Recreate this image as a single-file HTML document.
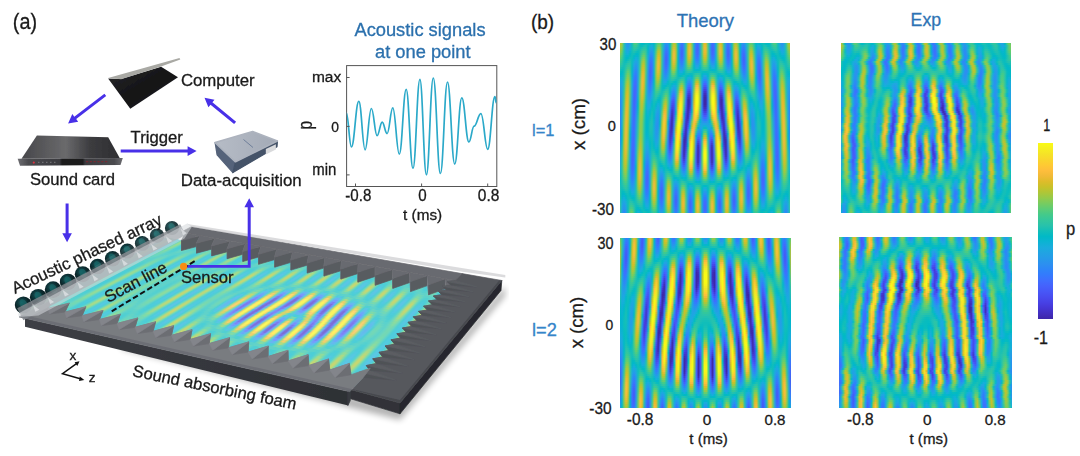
<!DOCTYPE html>
<html><head><meta charset="utf-8"><title>fig</title>
<style>
html,body{margin:0;padding:0;background:#fff}
body{width:1080px;height:456px;position:relative;overflow:hidden;filter:blur(.4px);font-family:"Liberation Sans",sans-serif;color:#1a1a1a}
.hm{position:absolute;overflow:hidden}
.hm i{display:block;height:var(--rh);width:100%}
.t{position:absolute;white-space:nowrap;line-height:1}
.c{transform:translateX(-50%)}
.r{transform:translateX(-100%)}
.bl{color:#2d73b4}
.sv{position:absolute;left:0;top:0}
.fm{position:absolute;left:0;top:0;width:500px;height:250px;transform-origin:0 0;filter:blur(.5px)}
.fmi{position:absolute;left:0;overflow:hidden}
.fmi i{display:block;height:var(--rh);width:100%}
</style></head><body>

<div class="hm" style="left:620px;top:42.5px;width:170px;height:170.3px;--rh:2.0035px"><i style="background:linear-gradient(90deg,#bcc42f,#99c946,#2ac3a9,#21a3e3,#2c90f0,#21a3e3,#11beba,#44cb89,#4ecc81,#31c6a0,#0abdbd,#01b9c7,#05bbc1,#14beb8,#0bbdbd,#03b7cc,#0fb2d4,#01b8c8,#2ec5a4,#5ccc76,#61cd71,#2cc4a6,#1babde,#2c8ef2,#2895ec,#02bac5,#72cd64,#c5c22a,#92ca4c,#11beb9,#2d8cf3,#3e6fff,#2b92ee,#29c3a9,#bdc32e,#e5bb2d,#7dcc5b,#11b1d6,#3975fe,#426afe,#239fe5,#4ccb83,#dfbc2a,#dfbc2a,#4ccb83,#239fe5,#426afe,#3975fe,#11b1d6,#7dcc5b,#e5bb2d,#bdc32e,#29c3a9,#2b92ee,#3e6fff,#2d8cf3,#11beb9,#92ca4c,#c5c22a,#72cd64,#02bac5,#2895ec,#2c8ef2,#1babde,#2cc4a6,#61cd71,#5ccc76,#2ec5a4,#01b8c8,#0fb2d4,#03b7cc,#0bbdbd,#14beb8,#05bbc1,#01b9c7,#0abdbd,#31c6a0,#4ecc81,#44cb89,#11beba,#21a3e3,#2c90f0,#21a3e3,#2ac3a9,#99c946,#bcc42f)"></i><i style="background:linear-gradient(90deg,#b5c533,#8fcb4e,#28c2ab,#1fa5e2,#2896eb,#1ea8e1,#12beb9,#3ac993,#3cc991,#2ac3a9,#0dbdbb,#0abdbd,#1cc0b4,#20c1b1,#05bbc1,#13b1d7,#1babde,#04b6cc,#34c79c,#76cc61,#78cc5f,#2ec5a3,#1fa6e2,#2e84f8,#2c8ef1,#01bac5,#82cc57,#d6be28,#9fc941,#10beba,#2e87f7,#4368fe,#2c8ff1,#2bc3a8,#c8c129,#eeba34,#84cc56,#13b0d7,#3d70ff,#4465fd,#249ee6,#4fcc80,#e6bb2d,#e6bb2d,#4fcc80,#249ee6,#4465fd,#3d70ff,#13b0d7,#84cc56,#eeba34,#c8c129,#2bc3a8,#2c8ff1,#4368fe,#2e87f7,#10beba,#9fc941,#d6be28,#82cc57,#01bac5,#2c8ef1,#2e84f8,#1fa6e2,#2ec5a3,#78cc5f,#76cc61,#34c79c,#04b6cc,#1babde,#13b1d7,#05bbc1,#20c1b1,#1cc0b4,#0abdbd,#0dbdbb,#2ac3a9,#3cc991,#3ac993,#12beb9,#1ea8e1,#2896eb,#1fa5e2,#28c2ab,#8fcb4e,#b5c533)"></i><i style="background:linear-gradient(90deg,#acc739,#82cc57,#25c2ad,#1da8e0,#259ce7,#19acdc,#13beb8,#33c69d,#31c6a0,#20c1b1,#11beb9,#1ec0b2,#2dc4a6,#28c3aa,#01bac5,#1ca9df,#21a3e3,#08b5d0,#3ac994,#91ca4d,#8ecb4e,#30c5a1,#23a1e4,#337bfd,#2d88f6,#01bac5,#91ca4c,#e4bb2c,#aac73a,#0dbdbb,#2f82f9,#4563fc,#2d8cf3,#2dc4a6,#cfc028,#f3ba39,#87cb54,#14b0d8,#406dfe,#4563fc,#249de6,#52cc7e,#eabb30,#eabb30,#52cc7e,#249de6,#4563fc,#406dfe,#14b0d8,#87cb54,#f3ba39,#cfc028,#2dc4a6,#2d8cf3,#4563fc,#2f82f9,#0dbdbb,#aac73a,#e4bb2c,#91ca4c,#01bac5,#2d88f6,#337bfd,#23a1e4,#30c5a1,#8ecb4e,#91ca4d,#3ac994,#08b5d0,#21a3e3,#1ca9df,#01bac5,#28c3aa,#2dc4a6,#1ec0b2,#11beb9,#20c1b1,#31c6a0,#33c69d,#13beb8,#19acdc,#259ce7,#1da8e0,#25c2ad,#82cc57,#acc739)"></i><i style="background:linear-gradient(90deg,#a0c840,#75cc61,#23c1af,#1aabdd,#21a3e4,#12b1d7,#14beb8,#2cc4a7,#26c2ad,#13beb9,#15bfb7,#2cc4a6,#37c897,#2ec5a4,#01b8ca,#22a1e4,#259be8,#0db3d3,#41ca8c,#a8c73b,#a2c840,#31c6a0,#259ce7,#3b72ff,#2e83f9,#02bac5,#9dc943,#eeba34,#b1c635,#0bbdbc,#307ffb,#465ffb,#2d8bf4,#2ec4a5,#d4bf27,#f5ba3b,#88cb53,#15afd9,#406cfe,#4562fc,#249de6,#52cc7e,#eaba31,#eaba31,#52cc7e,#249de6,#4562fc,#406cfe,#15afd9,#88cb53,#f5ba3b,#d4bf27,#2ec4a5,#2d8bf4,#465ffb,#307ffb,#0bbdbc,#b1c635,#eeba34,#9dc943,#02bac5,#2e83f9,#3b72ff,#259ce7,#31c6a0,#a2c840,#a8c73b,#41ca8c,#0db3d3,#259be8,#22a1e4,#01b8ca,#2ec5a4,#37c897,#2cc4a6,#15bfb7,#13beb9,#26c2ad,#2cc4a7,#14beb8,#12b1d7,#21a3e4,#1aabdd,#23c1af,#75cc61,#a0c840)"></i><i style="background:linear-gradient(90deg,#94ca4a,#67cd6c,#1fc1b1,#16aeda,#1ca9df,#07b5d0,#14beb8,#21c1b0,#11beb9,#06bcc0,#1ac0b5,#36c799,#48cb86,#33c69d,#05b6ce,#2699e9,#2a93ed,#11b1d6,#4ccb83,#bdc32e,#b2c635,#32c69f,#2798ea,#416bfe,#307ffb,#02bac4,#a7c73c,#f4ba39,#b5c533,#09bdbe,#327cfc,#465efb,#2d8bf4,#2ec5a4,#d5be28,#f5ba3a,#86cb54,#15afd9,#406dfe,#4564fd,#249ee6,#51cc7f,#e8bb2e,#e8bb2e,#51cc7f,#249ee6,#4564fd,#406dfe,#15afd9,#86cb54,#f5ba3a,#d5be28,#2ec5a4,#2d8bf4,#465efb,#327cfc,#09bdbe,#b5c533,#f4ba39,#a7c73c,#02bac4,#307ffb,#416bfe,#2798ea,#32c69f,#b2c635,#bdc32e,#4ccb83,#11b1d6,#2a93ed,#2699e9,#05b6ce,#33c69d,#48cb86,#36c799,#1ac0b5,#06bcc0,#11beb9,#21c1b0,#14beb8,#07b5d0,#1ca9df,#16aeda,#1fc1b1,#67cd6c,#94ca4a)"></i><i style="background:linear-gradient(90deg,#85cb55,#5acc78,#1cc0b3,#10b2d5,#15afd9,#01b8c9,#13beb8,#11beba,#01bac5,#01b9c7,#1fc0b2,#43ca8b,#5ecc74,#37c897,#0bb3d2,#2b91ef,#2d8cf3,#14b0d8,#56cc7a,#cec028,#bfc32e,#32c69e,#2994ed,#4465fd,#327cfc,#02bac3,#aec637,#f8ba3d,#b7c532,#08bcbf,#327bfc,#465efb,#2d8cf3,#2fc5a3,#d3bf27,#f2ba37,#82cc58,#15afd9,#3d70ff,#4367fd,#239fe5,#4ecc81,#e1bc2b,#e1bc2b,#4ecc81,#239fe5,#4367fd,#3d70ff,#15afd9,#82cc58,#f2ba37,#d3bf27,#2fc5a3,#2d8cf3,#465efb,#327bfc,#08bcbf,#b7c532,#f8ba3d,#aec637,#02bac3,#327cfc,#4465fd,#2994ed,#32c69e,#bfc32e,#cec028,#56cc7a,#14b0d8,#2d8cf3,#2b91ef,#0bb3d2,#37c897,#5ecc74,#43ca8b,#1fc0b2,#01b9c7,#01bac5,#11beba,#13beb8,#01b8c9,#15afd9,#10b2d5,#1cc0b3,#5acc78,#85cb55)"></i><i style="background:linear-gradient(90deg,#75cc61,#4ccb83,#1abfb5,#07b5d0,#07b5d0,#05bbc1,#12beb9,#02bbc3,#08b4d0,#04b6cd,#24c1ae,#56cc7b,#74cc62,#3cc992,#12b1d7,#2d89f5,#2e85f8,#16afd9,#61cd72,#dbbd29,#c8c129,#32c69f,#2b91ef,#4561fc,#337bfd,#03bbc2,#b3c534,#f9ba3d,#b5c533,#06bcc0,#327cfc,#4660fb,#2c8ef1,#2fc5a2,#cdc028,#ebba31,#7acc5d,#14b0d8,#3975fe,#406dfe,#22a2e4,#4acb84,#d7be28,#d7be28,#4acb84,#22a2e4,#406dfe,#3975fe,#14b0d8,#7acc5d,#ebba31,#cdc028,#2fc5a2,#2c8ef1,#4660fb,#327cfc,#06bcc0,#b5c533,#f9ba3d,#b3c534,#03bbc2,#337bfd,#4561fc,#2b91ef,#32c69f,#c8c129,#dbbd29,#61cd72,#16afd9,#2e85f8,#2d89f5,#12b1d7,#3cc992,#74cc62,#56cc7b,#24c1ae,#04b6cd,#08b4d0,#02bbc3,#12beb9,#05bbc1,#07b5d0,#07b5d0,#1abfb5,#4ccb83,#75cc61)"></i><i style="background:linear-gradient(90deg,#65cd6e,#40ca8d,#17bfb6,#01b8ca,#01b9c6,#11beb9,#10beba,#03b7cc,#17aeda,#0cb3d3,#28c3ab,#6acd6a,#8bcb51,#40ca8d,#17aeda,#2f81fa,#307ffb,#17aeda,#6bcd69,#e6bb2d,#cfc028,#31c6a0,#2c8ef1,#465efb,#337afd,#06bcc1,#b5c533,#f8ba3d,#b0c636,#04bbc1,#317efb,#4564fd,#2b91ef,#2fc5a2,#c4c22b,#e0bc2b,#70cd65,#12b1d7,#327cfc,#3975fe,#20a5e3,#45cb89,#c8c129,#c8c129,#45cb89,#20a5e3,#3975fe,#327cfc,#12b1d7,#70cd65,#e0bc2b,#c4c22b,#2fc5a2,#2b91ef,#4564fd,#317efb,#04bbc1,#b0c636,#f8ba3d,#b5c533,#06bcc1,#337afd,#465efb,#2c8ef1,#31c6a0,#cfc028,#e6bb2d,#6bcd69,#17aeda,#307ffb,#2f81fa,#17aeda,#40ca8d,#8bcb51,#6acd6a,#28c3ab,#0cb3d3,#17aeda,#03b7cc,#10beba,#11beb9,#01b9c6,#01b8ca,#17bfb6,#40ca8d,#65cd6e)"></i><i style="background:linear-gradient(90deg,#55cc7c,#37c897,#15bfb7,#02bac3,#0ebdbb,#1fc0b2,#0dbdbb,#0eb2d4,#1ea7e1,#13b0d7,#2cc4a7,#7fcc5a,#9fc942,#45cb89,#1aabdd,#347afd,#3579fd,#17aeda,#74cc62,#edba33,#d3bf27,#30c5a1,#2d8cf3,#465dfb,#327bfc,#08bcbf,#b4c534,#f4ba39,#a8c73b,#03bbc2,#2f81fa,#426afe,#2895ec,#2fc5a3,#b7c532,#d1bf27,#64cd6f,#10b2d5,#2e84f9,#307ffb,#1da8e0,#3eca8f,#b4c534,#b4c534,#3eca8f,#1da8e0,#307ffb,#2e84f9,#10b2d5,#64cd6f,#d1bf27,#b7c532,#2fc5a3,#2895ec,#426afe,#2f81fa,#03bbc2,#a8c73b,#f4ba39,#b4c534,#08bcbf,#327bfc,#465dfb,#2d8cf3,#30c5a1,#d3bf27,#edba33,#74cc62,#17aeda,#3579fd,#347afd,#1aabdd,#45cb89,#9fc942,#7fcc5a,#2cc4a7,#13b0d7,#1ea7e1,#0eb2d4,#0dbdbb,#1fc0b2,#0ebdbb,#02bac3,#15bfb7,#37c897,#55cc7c)"></i><i style="background:linear-gradient(90deg,#46cb88,#30c5a1,#13beb8,#0cbdbc,#21c1b0,#28c3aa,#0abdbd,#18addb,#23a0e5,#18addb,#2fc5a3,#93ca4a,#b0c636,#49cb85,#1da8e0,#3a73fe,#3975fe,#17aeda,#7dcc5b,#f2ba38,#d5be28,#2fc5a3,#2d8bf4,#465efb,#317efb,#0abdbd,#b0c636,#edba33,#9ec943,#02bbc3,#2e85f8,#3b72ff,#269ae9,#2ec4a4,#a5c83d,#bcc42f,#57cc7a,#0bb3d2,#2d8df2,#2d89f5,#1aacdd,#39c895,#9ac945,#9ac945,#39c895,#1aacdd,#2d89f5,#2d8df2,#0bb3d2,#57cc7a,#bcc42f,#a5c83d,#2ec4a4,#269ae9,#3b72ff,#2e85f8,#02bbc3,#9ec943,#edba33,#b0c636,#0abdbd,#317efb,#465efb,#2d8bf4,#2fc5a3,#d5be28,#f2ba38,#7dcc5b,#17aeda,#3975fe,#3a73fe,#1da8e0,#49cb85,#b0c636,#93ca4a,#2fc5a3,#18addb,#23a0e5,#18addb,#0abdbd,#28c3aa,#21c1b0,#0cbdbc,#13beb8,#30c5a1,#46cb88)"></i><i style="background:linear-gradient(90deg,#39c994,#2ac3a9,#12beb9,#1ac0b5,#2ec4a5,#2fc5a3,#08bcbf,#1ea8e1,#2699e9,#1babde,#32c69e,#a6c83d,#bfc32d,#4ccb83,#1fa5e2,#406dfe,#3c71ff,#16afd9,#84cb56,#f5ba3a,#d4bf28,#2dc4a5,#2d8af4,#4660fc,#2f81fa,#0ebdbb,#aac73a,#e3bc2c,#90ca4d,#02bac4,#2d8bf4,#327cfc,#239fe5,#2dc4a6,#8fcb4e,#a0c840,#48cb86,#06b5cf,#2797eb,#2995ec,#14b0d8,#34c79c,#7acc5e,#7acc5e,#34c79c,#14b0d8,#2995ec,#2797eb,#06b5cf,#48cb86,#a0c840,#8fcb4e,#2dc4a6,#239fe5,#327cfc,#2d8bf4,#02bac4,#90ca4d,#e3bc2c,#aac73a,#0ebdbb,#2f81fa,#4660fc,#2d8af4,#2dc4a5,#d4bf28,#f5ba3a,#84cb56,#16afd9,#3c71ff,#406dfe,#1fa5e2,#4ccb83,#bfc32d,#a6c83d,#32c69e,#1babde,#2699e9,#1ea8e1,#08bcbf,#2fc5a3,#2ec4a5,#1ac0b5,#12beb9,#2ac3a9,#39c994)"></i><i style="background:linear-gradient(90deg,#31c6a0,#20c1b1,#12beb9,#26c2ad,#36c898,#34c79c,#05bbc1,#22a2e4,#2a92ee,#1da9e0,#36c799,#b6c532,#cbc129,#4dcc82,#22a2e4,#4368fe,#3e6fff,#15afd8,#8acb51,#f6ba3b,#d1bf27,#2bc3a8,#2d8bf4,#4564fd,#2e86f8,#11beb9,#a0c840,#d4bf28,#7fcc5a,#02bac4,#2b92ee,#2e87f7,#1fa5e2,#2bc3a8,#73cd62,#80cc5a,#3cc992,#02b7cb,#22a2e4,#23a1e5,#09b4d1,#2ec5a3,#58cc79,#58cc79,#2ec5a3,#09b4d1,#23a1e5,#22a2e4,#02b7cb,#3cc992,#80cc5a,#73cd62,#2bc3a8,#1fa5e2,#2e87f7,#2b92ee,#02bac4,#7fcc5a,#d4bf28,#a0c840,#11beb9,#2e86f8,#4564fd,#2d8bf4,#2bc3a8,#d1bf27,#f6ba3b,#8acb51,#15afd8,#3e6fff,#4368fe,#22a2e4,#4dcc82,#cbc129,#b6c532,#36c799,#1da9e0,#2a92ee,#22a2e4,#05bbc1,#34c79c,#36c898,#26c2ad,#12beb9,#20c1b1,#31c6a0)"></i><i style="background:linear-gradient(90deg,#29c3aa,#13beb8,#12beb9,#2ec4a4,#43ca8b,#39c994,#02bac3,#259ce7,#2d8cf3,#1ea7e1,#3ac994,#c4c22b,#d4bf28,#4dcc82,#23a0e5,#4465fd,#3f6eff,#13b1d7,#8ecb4e,#f5ba3b,#cbc029,#28c3ab,#2d8cf3,#4269fe,#2d8bf4,#15bfb8,#94ca4a,#c1c32c,#6ccd68,#02bac4,#269ae9,#2a93ee,#1aabdd,#28c2ab,#57cc7a,#5ccc76,#33c69e,#01b9c6,#19acdc,#19addc,#01b8c9,#28c2ab,#3bc993,#3bc993,#28c2ab,#01b8c9,#19addc,#19acdc,#01b9c6,#33c69e,#5ccc76,#57cc7a,#28c2ab,#1aabdd,#2a93ee,#269ae9,#02bac4,#6ccd68,#c1c32c,#94ca4a,#15bfb8,#2d8bf4,#4269fe,#2d8cf3,#28c3ab,#cbc029,#f5ba3b,#8ecb4e,#13b1d7,#3f6eff,#4465fd,#23a0e5,#4dcc82,#d4bf28,#c4c22b,#3ac994,#1ea7e1,#2d8cf3,#259ce7,#02bac3,#39c994,#43ca8b,#2ec4a4,#12beb9,#13beb8,#29c3aa)"></i><i style="background:linear-gradient(90deg,#1cc0b4,#07bcbf,#13beb9,#34c79b,#54cc7d,#40ca8d,#01b9c6,#2896ec,#2e85f8,#20a5e2,#3eca8f,#d0bf27,#dbbd28,#4dcb82,#249de7,#4562fc,#3f6eff,#10b2d5,#91ca4c,#f2ba38,#c3c22b,#25c2ad,#2c8ef1,#3d70ff,#2b91ef,#18bfb6,#84cc56,#a9c73b,#5acc78,#02bbc3,#22a2e4,#249ee6,#11b1d6,#24c1ae,#3dc990,#3dc991,#2ac3a9,#05bbc1,#05b6cd,#03b7cc,#05bbc1,#1dc0b3,#29c3aa,#29c3aa,#1dc0b3,#05bbc1,#03b7cc,#05b6cd,#05bbc1,#2ac3a9,#3dc991,#3dc990,#24c1ae,#11b1d6,#249ee6,#22a2e4,#02bbc3,#5acc78,#a9c73b,#84cc56,#18bfb6,#2b91ef,#3d70ff,#2c8ef1,#25c2ad,#c3c22b,#f2ba38,#91ca4c,#10b2d5,#3f6eff,#4562fc,#249de7,#4dcb82,#dbbd28,#d0bf27,#3eca8f,#20a5e2,#2e85f8,#2896ec,#01b9c6,#40ca8d,#54cc7d,#34c79b,#13beb9,#07bcbf,#1cc0b4)"></i><i style="background:linear-gradient(90deg,#0bbdbd,#01b9c6,#14beb8,#3cc992,#65cd6e,#47cb87,#01b8c9,#2c90f0,#307ffb,#20a4e3,#45cb89,#dabd28,#e0bc2a,#4bcb84,#259be8,#4561fc,#3e6fff,#0cb3d3,#92ca4c,#eeba34,#b9c431,#21c1b0,#2b91ef,#3579fd,#2797eb,#1abfb5,#71cd64,#8bcb51,#47cb87,#04bbc2,#1babde,#1caadf,#04b6cc,#1ec0b2,#2ec4a5,#2ac3a9,#1cc0b4,#0ebebb,#0ebdbb,#14beb8,#15bfb8,#0ebdbb,#08bcbf,#08bcbf,#0ebdbb,#15bfb8,#14beb8,#0ebdbb,#0ebebb,#1cc0b4,#2ac3a9,#2ec4a5,#1ec0b2,#04b6cc,#1caadf,#1babde,#04bbc2,#47cb87,#8bcb51,#71cd64,#1abfb5,#2797eb,#3579fd,#2b91ef,#21c1b0,#b9c431,#eeba34,#92ca4c,#0cb3d3,#3e6fff,#4561fc,#259be8,#4bcb84,#e0bc2a,#dabd28,#45cb89,#20a4e3,#307ffb,#2c90f0,#01b8c9,#47cb87,#65cd6e,#3cc992,#14beb8,#01b9c6,#0bbdbd)"></i><i style="background:linear-gradient(90deg,#01b9c6,#03b7cc,#16bfb7,#47cb87,#78cc5f,#4ecc81,#03b7cc,#2d8af5,#347afd,#21a3e3,#4ccb83,#e1bc2b,#e3bc2c,#48cb86,#2699e9,#4661fc,#3c72ff,#08b5d0,#91ca4d,#e7bb2d,#acc738,#1dc0b3,#2895ec,#2f82fa,#249ee6,#1bc0b4,#5dcc75,#6acd6a,#38c896,#07bcc0,#0db3d3,#09b4d1,#03bbc2,#16bfb7,#15bfb8,#09bdbe,#09bcbe,#1bc0b4,#2cc4a6,#30c5a1,#25c2ae,#02bbc3,#0bb3d2,#0bb3d2,#02bbc3,#25c2ae,#30c5a1,#2cc4a6,#1bc0b4,#09bcbe,#09bdbe,#15bfb8,#16bfb7,#03bbc2,#09b4d1,#0db3d3,#07bcc0,#38c896,#6acd6a,#5dcc75,#1bc0b4,#249ee6,#2f82fa,#2895ec,#1dc0b3,#acc738,#e7bb2d,#91ca4d,#08b5d0,#3c72ff,#4661fc,#2699e9,#48cb86,#e3bc2c,#e1bc2b,#4ccb83,#21a3e3,#347afd,#2d8af5,#03b7cc,#4ecc81,#78cc5f,#47cb87,#16bfb7,#03b7cc,#01b9c6)"></i><i style="background:linear-gradient(90deg,#05b6ce,#09b4d1,#18bfb6,#54cc7d,#89cb52,#54cc7c,#06b5cf,#2e84f8,#3875fe,#21a3e3,#53cc7d,#e7bb2e,#e4bb2c,#44cb89,#2797ea,#4561fc,#3875fe,#05b6cd,#8ecb4f,#ddbd29,#9cc943,#19bfb5,#2699e9,#2d8bf3,#20a5e3,#1bc0b4,#48cb86,#4bcb84,#2fc5a3,#0abdbd,#01bac5,#09bcbe,#16bfb7,#0cbdbc,#01b8ca,#0ab4d2,#01b8c8,#26c2ad,#40ca8d,#49cb86,#2ec5a4,#02b7cb,#1ea7e1,#1ea7e1,#02b7cb,#2ec5a4,#49cb86,#40ca8d,#26c2ad,#01b8c8,#0ab4d2,#01b8ca,#0cbdbc,#16bfb7,#09bcbe,#01bac5,#0abdbd,#2fc5a3,#4bcb84,#48cb86,#1bc0b4,#20a5e3,#2d8bf3,#2699e9,#19bfb5,#9cc943,#ddbd29,#8ecb4f,#05b6cd,#3875fe,#4561fc,#2797ea,#44cb89,#e4bb2c,#e7bb2e,#53cc7d,#21a3e3,#3875fe,#2e84f8,#06b5cf,#54cc7c,#89cb52,#54cc7d,#18bfb6,#09b4d1,#05b6ce)"></i><i style="background:linear-gradient(90deg,#10b2d5,#11b2d5,#1bc0b4,#61cd71,#99c946,#5acc78,#0bb4d2,#307ffb,#3c71ff,#21a3e3,#5acc78,#ecba32,#e4bb2c,#40ca8d,#2896eb,#4563fc,#3479fd,#01b7ca,#89cb52,#d1bf27,#8bcb51,#14bfb8,#249ee6,#2895ec,#1aabdd,#1bc0b4,#37c897,#34c79b,#23c1af,#10beba,#1abfb5,#29c3aa,#27c2ac,#04bbc2,#17aeda,#1da8e0,#09b4d1,#2ec4a5,#65cd6e,#72cd64,#36c899,#0cb3d3,#2698ea,#2698ea,#0cb3d3,#36c899,#72cd64,#65cd6e,#2ec4a5,#09b4d1,#1da8e0,#17aeda,#04bbc2,#27c2ac,#29c3aa,#1abfb5,#10beba,#23c1af,#34c79b,#37c897,#1bc0b4,#1aabdd,#2895ec,#249ee6,#14bfb8,#8bcb51,#d1bf27,#89cb52,#01b7ca,#3479fd,#4563fc,#2896eb,#40ca8d,#e4bb2c,#ecba32,#5acc78,#21a3e3,#3c71ff,#307ffb,#0bb4d2,#5acc78,#99c946,#61cd71,#1bc0b4,#11b2d5,#10b2d5)"></i><i style="background:linear-gradient(90deg,#19addc,#16afd9,#1ec0b2,#6fcd66,#a7c73c,#5ecc74,#10b2d5,#347afd,#3f6eff,#21a4e3,#60cd72,#efba35,#e3bc2c,#3cc991,#2895ec,#4465fd,#317efb,#01b9c7,#83cc57,#c1c32c,#78cc5f,#11beba,#20a4e3,#249fe5,#11b1d6,#1abfb5,#2cc4a6,#23c1af,#0fbeba,#17bfb6,#2fc5a2,#3cc992,#30c5a1,#01b9c8,#22a2e4,#269ae9,#15afd9,#34c79b,#91ca4c,#9fc942,#40ca8d,#16aeda,#2d89f6,#2d89f6,#16aeda,#40ca8d,#9fc942,#91ca4c,#34c79b,#15afd9,#269ae9,#22a2e4,#01b9c8,#30c5a1,#3cc992,#2fc5a2,#17bfb6,#0fbeba,#23c1af,#2cc4a6,#1abfb5,#11b1d6,#249fe5,#20a4e3,#11beba,#78cc5f,#c1c32c,#83cc57,#01b9c7,#317efb,#4465fd,#2895ec,#3cc991,#e3bc2c,#efba35,#60cd72,#21a4e3,#3f6eff,#347afd,#10b2d5,#5ecc74,#a7c73c,#6fcd66,#1ec0b2,#16afd9,#19addc)"></i><i style="background:linear-gradient(90deg,#1da8e0,#19acdc,#22c1b0,#7ecc5b,#b4c534,#60cd72,#14b0d8,#3875fe,#416bfe,#20a5e3,#67cd6d,#f1ba37,#e0bc2a,#39c895,#2995ec,#4369fe,#2e83f9,#02bac4,#7acc5d,#aec637,#64cd6e,#0ebdbb,#1caadf,#1ca9df,#03b7cc,#17bfb7,#19bfb5,#04bbc1,#02bac5,#1fc1b1,#41ca8c,#5dcc75,#39c895,#06b5ce,#2994ed,#2d8af4,#1caadf,#3cc991,#bac430,#c6c22a,#4fcc81,#1ca9df,#3678fe,#3678fe,#1ca9df,#4fcc81,#c6c22a,#bac430,#3cc991,#1caadf,#2d8af4,#2994ed,#06b5ce,#39c895,#5dcc75,#41ca8c,#1fc1b1,#02bac5,#04bbc1,#19bfb5,#17bfb7,#03b7cc,#1ca9df,#1caadf,#0ebdbb,#64cd6e,#aec637,#7acc5d,#02bac4,#2e83f9,#4369fe,#2995ec,#39c895,#e0bc2a,#f1ba37,#67cd6d,#20a5e3,#416bfe,#3875fe,#14b0d8,#60cd72,#b4c534,#7ecc5b,#22c1b0,#19acdc,#1da8e0)"></i><i style="background:linear-gradient(90deg,#21a3e3,#1caadf,#25c2ad,#8ccb50,#bec32e,#62cd70,#18aedb,#3d71ff,#426afe,#1fa6e2,#6dcd68,#f2ba37,#dcbd29,#35c79a,#2995ec,#406dfe,#2d89f5,#05bbc1,#70cd65,#99c946,#52cc7e,#0cbdbc,#14b0d8,#0fb2d5,#03bbc2,#12beb9,#02bac4,#0bb3d2,#05b6ce,#27c2ac,#61cd71,#85cb55,#45cb89,#10b2d5,#2e85f8,#337afd,#20a5e3,#49cb85,#dcbd29,#e5bb2d,#5dcc74,#20a4e3,#4466fd,#4466fd,#20a4e3,#5dcc74,#e5bb2d,#dcbd29,#49cb85,#20a5e3,#337afd,#2e85f8,#10b2d5,#45cb89,#85cb55,#61cd71,#27c2ac,#05b6ce,#0bb3d2,#02bac4,#12beb9,#03bbc2,#0fb2d5,#14b0d8,#0cbdbc,#52cc7e,#99c946,#70cd65,#05bbc1,#2d89f5,#406dfe,#2995ec,#35c79a,#dcbd29,#f2ba37,#6dcd68,#1fa6e2,#426afe,#3d71ff,#18aedb,#62cd70,#bec32e,#8ccb50,#25c2ad,#1caadf,#21a3e3)"></i><i style="background:linear-gradient(90deg,#249fe6,#1da8e0,#28c3ab,#98c946,#c8c129,#63cd70,#1aacdd,#406dfe,#4269fe,#1ea7e1,#72cd63,#f1ba37,#d6be28,#32c69e,#2895ec,#3b72ff,#2c8ff1,#09bcbe,#65cd6e,#81cc59,#42ca8c,#0bbdbc,#06b5cf,#01b9c7,#13beb8,#0cbdbc,#0bb3d2,#1ca9df,#11b1d6,#2dc4a5,#87cb54,#acc739,#52cc7e,#18addb,#3975fe,#426afe,#23a0e5,#59cc79,#f6ba3b,#fbbc3d,#6bcd69,#249fe6,#4757f7,#4757f7,#249fe6,#6bcd69,#fbbc3d,#f6ba3b,#59cc79,#23a0e5,#426afe,#3975fe,#18addb,#52cc7e,#acc739,#87cb54,#2dc4a5,#11b1d6,#1ca9df,#0bb3d2,#0cbdbc,#13beb8,#01b9c7,#06b5cf,#0bbdbc,#42ca8c,#81cc59,#65cd6e,#09bcbe,#2c8ff1,#3b72ff,#2895ec,#32c69e,#d6be28,#f1ba37,#72cd63,#1ea7e1,#4269fe,#406dfe,#1aacdd,#63cd70,#c8c129,#98c946,#28c3ab,#1da8e0,#249fe6)"></i><i style="background:linear-gradient(90deg,#269ae8,#1fa6e2,#2bc3a8,#a4c83e,#cfc028,#63cd70,#1ca9df,#426afe,#4369fe,#1ca9df,#78cc5f,#f0ba36,#cfc028,#2fc5a2,#2896ec,#3678fd,#2994ed,#0dbdbc,#5acc78,#68cd6c,#36c898,#0cbdbc,#02bac4,#16bfb7,#24c1ae,#06bcc0,#1babde,#249de6,#19addc,#33c79d,#acc739,#ccc028,#5ecd74,#1da8e0,#4464fd,#475bfa,#259ce7,#69cd6b,#fec537,#fec934,#78cc5f,#2699e9,#4849ed,#4849ed,#2699e9,#78cc5f,#fec934,#fec537,#69cd6b,#259ce7,#475bfa,#4464fd,#1da8e0,#5ecd74,#ccc028,#acc739,#33c79d,#19addc,#249de6,#1babde,#06bcc0,#24c1ae,#16bfb7,#02bac4,#0cbdbc,#36c898,#68cd6c,#5acc78,#0dbdbc,#2994ed,#3678fd,#2896ec,#2fc5a2,#cfc028,#f0ba36,#78cc5f,#1ca9df,#4369fe,#426afe,#1ca9df,#63cd70,#cfc028,#a4c83e,#2bc3a8,#1fa6e2,#269ae8)"></i><i style="background:linear-gradient(90deg,#2896ec,#20a5e3,#2ec4a5,#afc636,#d5be28,#61cd71,#1ea7e1,#4368fd,#4269fe,#1babde,#7ccc5c,#eeba34,#c7c129,#2cc4a6,#2797eb,#317efb,#269ae8,#11beb9,#4dcc82,#51cc7f,#2fc5a3,#0ebdbb,#13beb8,#2cc4a7,#2dc4a5,#02bac5,#23a1e5,#2b91ef,#1da9e0,#3bc993,#ccc028,#e6bb2d,#68cd6b,#22a2e4,#4756f7,#484ff2,#2699e9,#7bcc5d,#fad42e,#f9d62d,#83cc57,#2995ec,#463de0,#463de0,#2995ec,#83cc57,#f9d62d,#fad42e,#7bcc5d,#2699e9,#484ff2,#4756f7,#22a2e4,#68cd6b,#e6bb2d,#ccc028,#3bc993,#1da9e0,#2b91ef,#23a1e5,#02bac5,#2dc4a5,#2cc4a7,#13beb8,#0ebdbb,#2fc5a3,#51cc7f,#4dcc82,#11beb9,#269ae8,#317efb,#2797eb,#2cc4a6,#c7c129,#eeba34,#7ccc5c,#1babde,#4269fe,#4368fd,#1ea7e1,#61cd71,#d5be28,#afc636,#2ec4a5,#20a5e3,#2896ec)"></i><i style="background:linear-gradient(90deg,#2b92ef,#21a3e3,#30c5a1,#b9c430,#dabd28,#5fcd73,#20a5e3,#4465fd,#426afe,#19addc,#80cc59,#ebba32,#bec32e,#28c3aa,#2698ea,#2e85f8,#23a0e5,#15bfb8,#41ca8c,#3dc991,#25c2ad,#11beb9,#27c2ab,#39c994,#34c79c,#01b8ca,#2895ec,#2e85f8,#20a5e2,#47cb87,#e7bb2e,#f9bb3d,#70cd65,#259be7,#4849ed,#4744e8,#2797eb,#8dcb4f,#f5e128,#f5e228,#8ccb50,#2c90f0,#4434ce,#4434ce,#2c90f0,#8ccb50,#f5e228,#f5e128,#8dcb4f,#2797eb,#4744e8,#4849ed,#259be7,#70cd65,#f9bb3d,#e7bb2e,#47cb87,#20a5e2,#2e85f8,#2895ec,#01b8ca,#34c79c,#39c994,#27c2ab,#11beb9,#25c2ad,#3dc991,#41ca8c,#15bfb8,#23a0e5,#2e85f8,#2698ea,#28c3aa,#bec32e,#ebba32,#80cc59,#19addc,#426afe,#4465fd,#20a5e3,#5fcd73,#dabd28,#b9c430,#30c5a1,#21a3e3,#2b92ef)"></i><i style="background:linear-gradient(90deg,#2c8ef2,#21a3e4,#33c69d,#c2c22c,#debd29,#5dcc75,#22a2e4,#4564fd,#416bfe,#16afd9,#84cc56,#e8bb2e,#b4c534,#24c2ae,#269ae8,#2d8bf4,#20a5e2,#17bfb6,#37c897,#31c6a0,#18bfb6,#16bfb7,#33c69d,#50cc80,#3ac994,#07b5d0,#2d8af5,#3579fd,#22a2e4,#57cc7a,#fbbc3d,#fec438,#74cd62,#2994ec,#463cdf,#463bdd,#2896eb,#9fc942,#f5ed22,#f5eb23,#91ca4c,#2d8cf3,#412ebd,#412ebd,#2d8cf3,#91ca4c,#f5eb23,#f5ed22,#9fc942,#2896eb,#463bdd,#463cdf,#2994ec,#74cd62,#fec438,#fbbc3d,#57cc7a,#22a2e4,#3579fd,#2d8af5,#07b5d0,#3ac994,#50cc80,#33c69d,#16bfb7,#18bfb6,#31c6a0,#37c897,#17bfb6,#20a5e2,#2d8bf4,#269ae8,#24c2ae,#b4c534,#e8bb2e,#84cc56,#16afd9,#416bfe,#4564fd,#22a2e4,#5dcc75,#debd29,#c2c22c,#33c69d,#21a3e4,#2c8ef2)"></i><i style="background:linear-gradient(90deg,#2d8af4,#22a2e4,#36c799,#cac129,#e0bc2b,#59cc78,#23a0e5,#4563fc,#406dfe,#12b1d6,#86cb54,#e3bc2c,#a8c73b,#1fc1b1,#259ce7,#2b91ef,#1caadf,#19bfb5,#31c6a0,#25c2ae,#0abdbd,#1cc0b4,#40ca8d,#6acd6a,#41ca8c,#11b1d6,#317dfc,#406dfe,#23a0e5,#6acd6a,#fec835,#fdce31,#74cc62,#2d8df2,#4433cc,#4435d1,#2896eb,#afc637,#f7f61a,#f6f21e,#94ca4a,#2d88f6,#3f29b0,#3f29b0,#2d88f6,#94ca4a,#f6f21e,#f7f61a,#afc637,#2896eb,#4435d1,#4433cc,#2d8df2,#74cc62,#fdce31,#fec835,#6acd6a,#23a0e5,#406dfe,#317dfc,#11b1d6,#41ca8c,#6acd6a,#40ca8d,#1cc0b4,#0abdbd,#25c2ae,#31c6a0,#19bfb5,#1caadf,#2b91ef,#259ce7,#1fc1b1,#a8c73b,#e3bc2c,#86cb54,#12b1d6,#406dfe,#4563fc,#23a0e5,#59cc78,#e0bc2b,#cac129,#36c799,#22a2e4,#2d8af4)"></i><i style="background:linear-gradient(90deg,#2e87f7,#22a2e4,#39c895,#d0bf27,#e2bc2b,#55cc7c,#249ee6,#4562fc,#3e6fff,#0db3d3,#88cb53,#ddbd29,#9dc943,#1ac0b5,#249fe6,#2797ea,#16aeda,#19bfb5,#29c3aa,#10beba,#02bac4,#22c1af,#56cc7b,#86cb55,#48cb87,#19addc,#3e70ff,#4562fc,#23a0e5,#80cc59,#fad52e,#fad62d,#70cd65,#2e85f8,#412cb9,#4331c7,#2798ea,#bdc32e,#f9fb15,#f7f61a,#94ca4a,#2e85f8,#3e26a8,#3e26a8,#2e85f8,#94ca4a,#f7f61a,#f9fb15,#bdc32e,#2798ea,#4331c7,#412cb9,#2e85f8,#70cd65,#fad62d,#fad52e,#80cc59,#23a0e5,#4562fc,#3e70ff,#19addc,#48cb87,#86cb55,#56cc7b,#22c1af,#02bac4,#10beba,#29c3aa,#19bfb5,#16aeda,#2797ea,#249fe6,#1ac0b5,#9dc943,#ddbd29,#88cb53,#0db3d3,#3e6fff,#4562fc,#249ee6,#55cc7c,#e2bc2b,#d0bf27,#39c895,#22a2e4,#2e87f7)"></i><i style="background:linear-gradient(90deg,#2e84f9,#22a2e4,#3dc991,#d6be28,#e3bb2c,#50cc7f,#259ce7,#4561fc,#3c72ff,#07b5d0,#8acb52,#d7be28,#90ca4d,#15bfb7,#22a1e4,#249de6,#0eb2d4,#19bfb5,#1dc0b3,#01bac5,#01b8ca,#28c3ab,#6fcd66,#9fc942,#4ccb83,#1ea7e1,#4563fd,#475af9,#23a0e5,#97ca48,#f5e128,#f7dc2a,#69cd6a,#327cfc,#3e26a8,#422fc1,#269ae8,#cac129,#f9fb15,#f8f718,#91ca4c,#2e83f9,#3e26a8,#3e26a8,#2e83f9,#91ca4c,#f8f718,#f9fb15,#cac129,#269ae8,#422fc1,#3e26a8,#327cfc,#69cd6a,#f7dc2a,#f5e128,#97ca48,#23a0e5,#475af9,#4563fd,#1ea7e1,#4ccb83,#9fc942,#6fcd66,#28c3ab,#01b8ca,#01bac5,#1dc0b3,#19bfb5,#0eb2d4,#249de6,#22a1e4,#15bfb7,#90ca4d,#d7be28,#8acb52,#07b5d0,#3c72ff,#4561fc,#259ce7,#50cc7f,#e3bb2c,#d6be28,#3dc991,#22a2e4,#2e84f9)"></i><i style="background:linear-gradient(90deg,#2f81fa,#22a2e4,#41ca8c,#dcbd29,#e4bb2c,#4bcb83,#2699e9,#4561fc,#3975fe,#04b6cd,#8bcb51,#d1bf27,#84cc56,#10beba,#21a4e3,#21a3e3,#06b5ce,#17bfb6,#0dbdbc,#07b5cf,#05b6ce,#2dc4a5,#89cb52,#b4c533,#4fcc81,#22a1e4,#4758f8,#4853f5,#22a2e4,#aec637,#f5ec22,#f6e028,#5fcd73,#3b73fe,#3e26a8,#422fc0,#249ee6,#d6be28,#f9fb15,#f8f719,#8bcb51,#2f82fa,#3e26a8,#3e26a8,#2f82fa,#8bcb51,#f8f719,#f9fb15,#d6be28,#249ee6,#422fc0,#3e26a8,#3b73fe,#5fcd73,#f6e028,#f5ec22,#aec637,#22a2e4,#4853f5,#4758f8,#22a1e4,#4fcc81,#b4c533,#89cb52,#2dc4a5,#05b6ce,#07b5cf,#0dbdbc,#17bfb6,#06b5ce,#21a3e3,#21a4e3,#10beba,#84cc56,#d1bf27,#8bcb51,#04b6cd,#3975fe,#4561fc,#2699e9,#4bcb83,#e4bb2c,#dcbd29,#41ca8c,#22a2e4,#2f81fa)"></i><i style="background:linear-gradient(90deg,#307ffb,#21a3e4,#47cb87,#e0bc2a,#e4bb2c,#46cb88,#2797ea,#4561fc,#3678fe,#01b8c9,#8bcb51,#c9c129,#77cc5f,#0cbdbc,#1fa6e1,#1da8e0,#01b8c9,#15bfb8,#02bac4,#14b0d8,#0ab4d2,#32c69e,#a2c83f,#c6c22a,#4fcc81,#269ae8,#484ef1,#484ef1,#1fa5e2,#c4c22b,#f7f51b,#f5e227,#52cc7e,#426afe,#3e26a8,#4230c3,#21a3e3,#e0bc2a,#f9fb15,#f7f31d,#82cc58,#2f81fa,#3e26a8,#3e26a8,#2f81fa,#82cc58,#f7f31d,#f9fb15,#e0bc2a,#21a3e3,#4230c3,#3e26a8,#426afe,#52cc7e,#f5e227,#f7f51b,#c4c22b,#1fa5e2,#484ef1,#484ef1,#269ae8,#4fcc81,#c6c22a,#a2c83f,#32c69e,#0ab4d2,#14b0d8,#02bac4,#15bfb8,#01b8c9,#1da8e0,#1fa6e1,#0cbdbc,#77cc5f,#c9c129,#8bcb51,#01b8c9,#3678fe,#4561fc,#2797ea,#46cb88,#e4bb2c,#e0bc2a,#47cb87,#21a3e4,#307ffb)"></i><i style="background:linear-gradient(90deg,#317dfc,#21a3e3,#4dcb82,#e4bb2c,#e3bc2c,#41ca8c,#2895ec,#4562fc,#337bfc,#01b9c6,#8ccb50,#c2c22c,#6ccd68,#09bcbe,#1ca9e0,#19addc,#02bac4,#11beb9,#04b6cc,#1babde,#0eb2d4,#38c896,#b9c431,#d4bf28,#4ccb83,#2a93ee,#4744e8,#484aee,#1ca9e0,#d8be28,#f9fb15,#f5e228,#42ca8b,#4561fc,#3e26a8,#4433cb,#1da9e0,#e8bb2f,#f9fb15,#f5ed21,#76cc61,#2f81fa,#3f29b0,#3f29b0,#2f81fa,#76cc61,#f5ed21,#f9fb15,#e8bb2f,#1da9e0,#4433cb,#3e26a8,#4561fc,#42ca8b,#f5e228,#f9fb15,#d8be28,#1ca9e0,#484aee,#4744e8,#2a93ee,#4ccb83,#d4bf28,#b9c431,#38c896,#0eb2d4,#1babde,#04b6cc,#11beb9,#02bac4,#19addc,#1ca9e0,#09bcbe,#6ccd68,#c2c22c,#8ccb50,#01b9c6,#337bfc,#4562fc,#2895ec,#41ca8c,#e3bc2c,#e4bb2c,#4dcb82,#21a3e3,#317dfc)"></i><i style="background:linear-gradient(90deg,#327bfc,#20a4e3,#53cc7d,#e8bb2e,#e2bc2b,#3dc990,#2a93ed,#4562fc,#317efb,#03bbc2,#8ccb50,#bac430,#61cd71,#07bcc0,#1aacdd,#12b1d6,#08bcbf,#0dbdbc,#0db3d4,#1fa5e2,#10b2d5,#40ca8d,#ccc028,#debc2a,#47cb87,#2d8bf4,#463cde,#4848ec,#18aedb,#eabb30,#f9fb15,#f6df29,#36c799,#4759f8,#3e26a8,#4537d7,#15afd9,#efba35,#f9fb15,#f5e526,#67cd6c,#2f82f9,#412ebe,#412ebe,#2f82f9,#67cd6c,#f5e526,#f9fb15,#efba35,#15afd9,#4537d7,#3e26a8,#4759f8,#36c799,#f6df29,#f9fb15,#eabb30,#18aedb,#4848ec,#463cde,#2d8bf4,#47cb87,#debc2a,#ccc028,#40ca8d,#10b2d5,#1fa5e2,#0db3d4,#0dbdbc,#08bcbf,#12b1d6,#1aacdd,#07bcc0,#61cd71,#bac430,#8ccb50,#03bbc2,#317efb,#4562fc,#2a93ed,#3dc990,#e2bc2b,#e8bb2e,#53cc7d,#20a4e3,#327bfc)"></i><i style="background:linear-gradient(90deg,#347afd,#1fa5e2,#59cc78,#eaba31,#e0bc2a,#39c895,#2b91ef,#4563fc,#2f81fa,#08bcbf,#8bcb51,#b2c635,#58cc79,#05bbc1,#17aeda,#08b4d0,#0ebdbb,#09bcbe,#17aeda,#23a0e5,#11b1d6,#4ccb83,#dcbd29,#e6bb2d,#40ca8d,#2f82f9,#4435d1,#4848ec,#0db3d3,#f9ba3d,#f9fb15,#f8da2b,#2cc4a7,#4851f3,#3e26a8,#473fe3,#06b5cf,#f4ba3a,#f9fb15,#f8d92b,#57cc7a,#2e84f8,#4434d0,#4434d0,#2e84f8,#57cc7a,#f8d92b,#f9fb15,#f4ba3a,#06b5cf,#473fe3,#3e26a8,#4851f3,#2cc4a7,#f8da2b,#f9fb15,#f9ba3d,#0db3d3,#4848ec,#4435d1,#2f82f9,#40ca8d,#e6bb2d,#dcbd29,#4ccb83,#11b1d6,#23a0e5,#17aeda,#09bcbe,#0ebdbb,#08b4d0,#17aeda,#05bbc1,#58cc79,#b2c635,#8bcb51,#08bcbf,#2f81fa,#4563fc,#2b91ef,#39c895,#e0bc2a,#eaba31,#59cc78,#1fa5e2,#347afd)"></i><i style="background:linear-gradient(90deg,#3579fd,#1ea7e1,#60cd73,#edba33,#debc2a,#36c799,#2c8ff0,#4563fd,#2e84f8,#0dbdbc,#8bcb51,#aac73a,#4fcc80,#03bbc2,#13b0d7,#02b7cb,#15bfb8,#05bbc1,#1caadf,#259ce7,#11b1d6,#5acc77,#eabb30,#eaba31,#39c895,#3579fd,#4330c5,#484aed,#01b8ca,#fec239,#f9fb15,#fbd32f,#18bfb6,#4849ed,#3e26a8,#484aed,#03bbc2,#f9ba3d,#f7f31d,#fdcb32,#46cb88,#2e87f7,#473ee1,#473ee1,#2e87f7,#46cb88,#fdcb32,#f7f31d,#f9ba3d,#03bbc2,#484aed,#3e26a8,#4849ed,#18bfb6,#fbd32f,#f9fb15,#fec239,#01b8ca,#484aed,#4330c5,#3579fd,#39c895,#eaba31,#eabb30,#5acc77,#11b1d6,#259ce7,#1caadf,#05bbc1,#15bfb8,#02b7cb,#13b0d7,#03bbc2,#4fcc80,#aac73a,#8bcb51,#0dbdbc,#2e84f8,#4563fd,#2c8ff0,#36c799,#debc2a,#edba33,#60cd73,#1ea7e1,#3579fd)"></i><i style="background:linear-gradient(90deg,#3578fd,#1da8e0,#66cd6d,#efba35,#dcbd29,#33c69e,#2c8ef2,#4464fd,#2e87f7,#13beb8,#8bcb51,#a2c83f,#48cb86,#02bbc3,#0fb2d4,#01bac5,#19bfb5,#02bac4,#1fa5e2,#2698ea,#0fb2d4,#69cd6b,#f4ba3a,#edba33,#33c69d,#3e6fff,#412cba,#484cf0,#08bcbe,#fdcc32,#f9fb15,#feca33,#02bac4,#4742e6,#3e26a8,#4756f7,#1cc0b4,#fbbc3d,#f5e924,#fdbd3d,#38c896,#2d8af5,#484bef,#484bef,#2d8af5,#38c896,#fdbd3d,#f5e924,#fbbc3d,#1cc0b4,#4756f7,#3e26a8,#4742e6,#02bac4,#feca33,#f9fb15,#fdcc32,#08bcbe,#484cf0,#412cba,#3e6fff,#33c69d,#edba33,#f4ba3a,#69cd6b,#0fb2d4,#2698ea,#1fa5e2,#02bac4,#19bfb5,#01bac5,#0fb2d4,#02bbc3,#48cb86,#a2c83f,#8bcb51,#13beb8,#2e87f7,#4464fd,#2c8ef2,#33c69e,#dcbd29,#efba35,#66cd6d,#1da8e0,#3578fd)"></i><i style="background:linear-gradient(90deg,#3678fd,#1caadf,#6dcd68,#f1ba37,#d9be28,#30c5a2,#2d8cf3,#4465fd,#2d8af5,#1abfb5,#8bcb51,#9bc944,#41ca8c,#02bac4,#0ab4d2,#05bbc1,#1dc0b3,#01b9c7,#22a1e4,#2896ec,#0bb3d2,#79cc5f,#fcbc3d,#edba34,#2dc4a6,#4466fd,#3f29b2,#4851f3,#1fc1b1,#f9d62d,#f9fb15,#fec03b,#0db3d3,#463cde,#3e26a8,#4464fd,#2fc5a3,#fdbd3d,#f7dd2a,#e6bb2d,#2ec4a4,#2c8ef2,#475af9,#475af9,#2c8ef2,#2ec4a4,#e6bb2d,#f7dd2a,#fdbd3d,#2fc5a3,#4464fd,#3e26a8,#463cde,#0db3d3,#fec03b,#f9fb15,#f9d62d,#1fc1b1,#4851f3,#3f29b2,#4466fd,#2dc4a6,#edba34,#fcbc3d,#79cc5f,#0bb3d2,#2896ec,#22a1e4,#01b9c7,#1dc0b3,#05bbc1,#0ab4d2,#02bac4,#41ca8c,#9bc944,#8bcb51,#1abfb5,#2d8af5,#4465fd,#2d8cf3,#30c5a2,#d9be28,#f1ba37,#6dcd68,#1caadf,#3678fd)"></i><i style="background:linear-gradient(90deg,#3678fd,#1aabde,#73cd63,#f2ba38,#d6be28,#2dc4a6,#2d8af5,#4466fd,#2d8df2,#1fc0b2,#8bcb51,#95ca49,#3dc991,#02bac5,#06b5cf,#0bbdbd,#1fc0b2,#01b7ca,#249de6,#2994ed,#07b5d0,#89cb53,#fec03a,#ecba32,#22c1af,#465dfa,#3e27ab,#4757f7,#2fc5a2,#f6e028,#f9fb15,#f2ba38,#1ca9df,#4536d4,#3f28ae,#3975fe,#3eca8f,#febe3c,#fccf30,#c3c22b,#1fc1b1,#2a92ee,#416bfe,#416bfe,#2a92ee,#1fc1b1,#c3c22b,#fccf30,#febe3c,#3eca8f,#3975fe,#3f28ae,#4536d4,#1ca9df,#f2ba38,#f9fb15,#f6e028,#2fc5a2,#4757f7,#3e27ab,#465dfa,#22c1af,#ecba32,#fec03a,#89cb53,#07b5d0,#2994ed,#249de6,#01b7ca,#1fc0b2,#0bbdbd,#06b5cf,#02bac5,#3dc991,#95ca49,#8bcb51,#1fc0b2,#2d8df2,#4466fd,#2d8af5,#2dc4a6,#d6be28,#f2ba38,#73cd63,#1aabde,#3678fd)"></i><i style="background:linear-gradient(90deg,#3678fd,#19addc,#7acc5e,#f4ba39,#d3bf27,#29c3aa,#2d88f6,#4466fd,#2c8ff0,#24c1af,#8bcb51,#8fca4d,#39c895,#01bac5,#04b6cd,#11beb9,#20c1b1,#05b6cd,#269ae8,#2a92ee,#03b7cc,#98c947,#fec437,#e9bb2f,#12beb9,#4755f6,#3e26a8,#465efb,#3dc990,#f5e924,#f9fb15,#ddbd29,#249ee6,#4332ca,#422ebe,#2e87f7,#5bcc76,#febe3c,#fec03a,#96ca48,#08bcbe,#2797eb,#307efb,#307efb,#2797eb,#08bcbe,#96ca48,#fec03a,#febe3c,#5bcc76,#2e87f7,#422ebe,#4332ca,#249ee6,#ddbd29,#f9fb15,#f5e924,#3dc990,#465efb,#3e26a8,#4755f6,#12beb9,#e9bb2f,#fec437,#98c947,#03b7cc,#2a92ee,#269ae8,#05b6cd,#20c1b1,#11beb9,#04b6cd,#01bac5,#39c895,#8fca4d,#8bcb51,#24c1af,#2c8ff0,#4466fd,#2d88f6,#29c3aa,#d3bf27,#f4ba39,#7acc5e,#19addc,#3678fd)"></i><i style="background:linear-gradient(90deg,#3579fd,#17aeda,#81cc59,#f5ba3a,#cfc028,#25c2ae,#2e86f7,#4367fd,#2b92ef,#27c2ab,#8ccb50,#8bcb51,#36c898,#01b9c6,#02b7cb,#16bfb7,#20c1b1,#08b5d0,#2798ea,#2b92ee,#01b8c8,#a6c83d,#fec835,#e3bc2c,#02bbc3,#484df1,#3e26a8,#4466fd,#56cc7b,#f6f11e,#f9fb15,#c1c32c,#2b91ef,#422fc1,#4435d1,#2797ea,#7fcc5a,#febe3c,#edba34,#63cd70,#03b7cb,#259ce7,#2b91ef,#2b91ef,#259ce7,#03b7cb,#63cd70,#edba34,#febe3c,#7fcc5a,#2797ea,#4435d1,#422fc1,#2b91ef,#c1c32c,#f9fb15,#f6f11e,#56cc7b,#4466fd,#3e26a8,#484df1,#02bbc3,#e3bc2c,#fec835,#a6c83d,#01b8c8,#2b92ee,#2798ea,#08b5d0,#20c1b1,#16bfb7,#02b7cb,#01b9c6,#36c898,#8bcb51,#8ccb50,#27c2ab,#2b92ef,#4367fd,#2e86f7,#25c2ae,#cfc028,#f5ba3a,#81cc59,#17aeda,#3579fd)"></i><i style="background:linear-gradient(90deg,#3479fd,#14b0d8,#87cb54,#f6ba3b,#cbc029,#1fc0b2,#2e84f8,#4368fd,#2994ed,#2bc3a8,#8ecb4f,#87cb54,#34c79b,#01b9c6,#01b8c9,#1abfb5,#20c1b1,#0cb3d3,#2896ec,#2a92ee,#02bac3,#b2c535,#feca34,#dcbd29,#04b6cd,#4746ea,#3e26a8,#3d70ff,#73cd62,#f8f818,#f9fb15,#9ec942,#2e83f9,#412cb9,#473ee2,#1ea7e1,#a3c83e,#febd3c,#d0bf27,#39c895,#13b0d7,#22a1e4,#22a2e4,#22a2e4,#22a1e4,#13b0d7,#39c895,#d0bf27,#febd3c,#a3c83e,#1ea7e1,#473ee2,#412cb9,#2e83f9,#9ec942,#f9fb15,#f8f818,#73cd62,#3d70ff,#3e26a8,#4746ea,#04b6cd,#dcbd29,#feca34,#b2c535,#02bac3,#2a92ee,#2896ec,#0cb3d3,#20c1b1,#1abfb5,#01b8c9,#01b9c6,#34c79b,#87cb54,#8ecb4f,#2bc3a8,#2994ed,#4368fd,#2e84f8,#1fc0b2,#cbc029,#f6ba3b,#87cb54,#14b0d8,#3479fd)"></i><i style="background:linear-gradient(90deg,#337afd,#11b1d6,#8dcb4f,#f6ba3c,#c7c12a,#19bfb5,#2f82f9,#4368fe,#2896eb,#2dc4a5,#90ca4d,#84cc56,#33c69e,#01b9c7,#01b8c9,#1bc0b4,#1fc0b2,#0fb2d5,#2994ed,#2a93ed,#08bcbe,#bdc32e,#fdcb33,#d2bf27,#11b1d6,#4740e4,#3e27ab,#327bfc,#94ca4a,#f9fb15,#f8f917,#77cc60,#3a74fe,#402ab3,#484aee,#08b5d0,#c5c22a,#fcbd3d,#aac739,#1dc0b3,#1da8e0,#1ea7e1,#12b1d6,#12b1d6,#1ea7e1,#1da8e0,#1dc0b3,#aac739,#fcbd3d,#c5c22a,#08b5d0,#484aee,#402ab3,#3a74fe,#77cc60,#f8f917,#f9fb15,#94ca4a,#327bfc,#3e27ab,#4740e4,#11b1d6,#d2bf27,#fdcb33,#bdc32e,#08bcbe,#2a93ed,#2994ed,#0fb2d5,#1fc0b2,#1bc0b4,#01b8c9,#01b9c7,#33c69e,#84cc56,#90ca4d,#2dc4a5,#2896eb,#4368fe,#2f82f9,#19bfb5,#c7c12a,#f6ba3c,#8dcb4f,#11b1d6,#337afd)"></i><i style="background:linear-gradient(90deg,#327bfc,#0cb3d3,#93ca4b,#f7ba3c,#c3c22b,#12beb9,#2f80fa,#4368fe,#2798ea,#30c5a1,#92ca4b,#82cc58,#31c6a0,#01b8c8,#01b8c8,#1cc0b4,#1dc0b3,#12b1d6,#2994ed,#2895ec,#12beb9,#c6c22a,#fdca33,#c6c22a,#1aabdd,#463bdd,#3f29b1,#2e86f7,#b2c635,#f9fb15,#f6f11e,#51cc7f,#4465fd,#3f28ae,#4757f7,#12beb9,#e0bc2b,#fabb3d,#7ecc5a,#04b6cc,#249fe6,#1aacdd,#08bcbf,#08bcbf,#1aacdd,#249fe6,#04b6cc,#7ecc5a,#fabb3d,#e0bc2b,#12beb9,#4757f7,#3f28ae,#4465fd,#51cc7f,#f6f11e,#f9fb15,#b2c635,#2e86f7,#3f29b1,#463bdd,#1aabdd,#c6c22a,#fdca33,#c6c22a,#12beb9,#2895ec,#2994ed,#12b1d6,#1dc0b3,#1cc0b4,#01b8c8,#01b8c8,#31c6a0,#82cc58,#92ca4b,#30c5a1,#2798ea,#4368fe,#2f80fa,#12beb9,#c3c22b,#f7ba3c,#93ca4b,#0cb3d3,#327bfc)"></i><i style="background:linear-gradient(90deg,#317dfc,#08b4d0,#98c947,#f7ba3c,#bec32e,#0bbdbd,#317efb,#4369fe,#269ae9,#33c69e,#95ca49,#81cc59,#30c5a2,#01b8c9,#01b8c9,#1bc0b4,#1bc0b4,#13b0d7,#2994ed,#2797ea,#1cc0b4,#cdc028,#fec934,#b8c431,#20a5e2,#4537d6,#412cb9,#2b90ef,#ccc028,#f9fb15,#f5e924,#35c79a,#4757f7,#3e27ab,#4564fd,#31c69f,#f6ba3c,#f8ba3d,#53cc7d,#1da8e0,#2895ec,#12b1d6,#2ec4a4,#2ec4a4,#12b1d6,#2895ec,#1da8e0,#53cc7d,#f8ba3d,#f6ba3c,#31c69f,#4564fd,#3e27ab,#4757f7,#35c79a,#f5e924,#f9fb15,#ccc028,#2b90ef,#412cb9,#4537d6,#20a5e2,#b8c431,#fec934,#cdc028,#1cc0b4,#2797ea,#2994ed,#13b0d7,#1bc0b4,#1bc0b4,#01b8c9,#01b8c9,#30c5a2,#81cc59,#95ca49,#33c69e,#269ae9,#4369fe,#317efb,#0bbdbd,#bec32e,#f7ba3c,#98c947,#08b4d0,#317dfc)"></i><i style="background:linear-gradient(90deg,#317efb,#05b6ce,#9dc943,#f7ba3c,#bac430,#06bcc0,#327cfc,#4269fe,#259ce7,#35c79a,#99c946,#80cc59,#2fc5a3,#02b7cb,#01b8ca,#19bfb5,#19bfb5,#14b0d8,#2995ec,#269ae8,#24c1ae,#d2bf27,#fec736,#a7c73c,#249ee6,#4434d0,#422fc2,#269be8,#e1bc2b,#f9fb15,#f6df29,#22c1af,#484aee,#3e27a9,#3c72ff,#50cc80,#fec438,#f3ba39,#35c79a,#2797eb,#2d8cf3,#06b5cf,#4acb85,#4acb85,#06b5cf,#2d8cf3,#2797eb,#35c79a,#f3ba39,#fec438,#50cc80,#3c72ff,#3e27a9,#484aee,#22c1af,#f6df29,#f9fb15,#e1bc2b,#269be8,#422fc2,#4434d0,#249ee6,#a7c73c,#fec736,#d2bf27,#24c1ae,#269ae8,#2995ec,#14b0d8,#19bfb5,#19bfb5,#01b8ca,#02b7cb,#2fc5a3,#80cc59,#99c946,#35c79a,#259ce7,#4269fe,#327cfc,#06bcc0,#bac430,#f7ba3c,#9dc943,#05b6ce,#317efb)"></i><i style="background:linear-gradient(90deg,#3080fa,#02b7cb,#a2c83f,#f7ba3c,#b5c533,#02bac4,#347afd,#4269fe,#249de6,#38c896,#9ec942,#81cc58,#2dc4a5,#04b6cd,#03b7cc,#16bfb7,#17bfb6,#14b0d8,#2796eb,#249de6,#2ac3a9,#d4bf28,#fec338,#95ca49,#2798ea,#4433cc,#4434ce,#20a4e3,#f2ba38,#f9fb15,#fad42e,#03bbc3,#463ee1,#3e27aa,#2f81fa,#7ecc5b,#fcd12f,#eeba34,#1ec0b2,#2e84f9,#2f82fa,#01b9c7,#79cc5e,#79cc5e,#01b9c7,#2f82fa,#2e84f9,#1ec0b2,#eeba34,#fcd12f,#7ecc5b,#2f81fa,#3e27aa,#463ee1,#03bbc3,#fad42e,#f9fb15,#f2ba38,#20a4e3,#4434ce,#4433cc,#2798ea,#95ca49,#fec338,#d4bf28,#2ac3a9,#249de6,#2796eb,#14b0d8,#17bfb6,#16bfb7,#03b7cc,#04b6cd,#2dc4a5,#81cc58,#9ec942,#38c896,#249de6,#4269fe,#347afd,#02bac4,#b5c533,#f7ba3c,#a2c83f,#02b7cb,#3080fa)"></i><i style="background:linear-gradient(90deg,#2f82fa,#01b9c8,#a6c73c,#f7ba3c,#b0c636,#01b9c7,#3678fe,#4269fe,#249fe5,#3cc991,#a3c83f,#82cc57,#2cc4a6,#06b5cf,#06b6ce,#11beb9,#15bfb8,#13b0d7,#2699e9,#23a1e5,#2ec4a4,#d5be28,#febf3b,#82cc58,#2a92ee,#4332ca,#4639d9,#19addc,#febd3c,#f9fb15,#fec934,#0eb3d4,#4435d0,#3f28ad,#2c8ef2,#acc738,#f7dd2a,#e7bb2e,#01b9c7,#3e6fff,#3678fd,#08bcbf,#aac73a,#aac73a,#08bcbf,#3678fd,#3e6fff,#01b9c7,#e7bb2e,#f7dd2a,#acc738,#2c8ef2,#3f28ad,#4435d0,#0eb3d4,#fec934,#f9fb15,#febd3c,#19addc,#4639d9,#4332ca,#2a92ee,#82cc58,#febf3b,#d5be28,#2ec4a4,#23a1e5,#2699e9,#13b0d7,#15bfb8,#11beb9,#06b6ce,#06b5cf,#2cc4a6,#82cc57,#a3c83f,#3cc991,#249fe5,#4269fe,#3678fe,#01b9c7,#b0c636,#f7ba3c,#a6c73c,#01b9c8,#2f82fa)"></i><i style="background:linear-gradient(90deg,#2e84f9,#02bac5,#abc739,#f7ba3c,#abc739,#02b7cb,#3875fe,#4269fe,#23a1e4,#41ca8c,#a9c73a,#84cb56,#2bc3a8,#0ab4d1,#09b4d1,#0cbdbc,#13beb9,#11b1d6,#259ce7,#20a4e3,#31c6a0,#d4bf28,#fabb3d,#6ecd66,#2d8df2,#4332ca,#4740e3,#09b4d1,#fec636,#f9fb15,#febe3c,#1da9e0,#412ebd,#3f29b1,#269ae9,#d2bf27,#f5e825,#e0bc2a,#14b0d8,#475cfa,#3f6eff,#17bfb7,#d2bf27,#d2bf27,#17bfb7,#3f6eff,#475cfa,#14b0d8,#e0bc2a,#f5e825,#d2bf27,#269ae9,#3f29b1,#412ebd,#1da9e0,#febe3c,#f9fb15,#fec636,#09b4d1,#4740e3,#4332ca,#2d8df2,#6ecd66,#fabb3d,#d4bf28,#31c6a0,#20a4e3,#259ce7,#11b1d6,#13beb9,#0cbdbc,#09b4d1,#0ab4d1,#2bc3a8,#84cb56,#a9c73a,#41ca8c,#23a1e4,#4269fe,#3875fe,#02b7cb,#abc739,#f7ba3c,#abc739,#02bac5,#2e84f9)"></i><i style="background:linear-gradient(90deg,#2e86f7,#04bbc2,#aec637,#f6ba3b,#a5c83d,#05b6ce,#3a73fe,#4369fe,#22a2e4,#47cb87,#afc636,#87cb54,#2ac3a9,#0eb2d4,#0fb2d5,#08bcbf,#12beb9,#0db3d4,#249fe5,#1da8e0,#34c79c,#d1bf27,#f3ba38,#5dcc75,#2d88f6,#4433cd,#4848ec,#01bac5,#fdcd32,#f9fb15,#f1ba37,#249ee6,#3f28ad,#402bb8,#20a5e2,#eeba34,#f6f11f,#d7be28,#20a4e3,#484bef,#4466fd,#24c1af,#f0ba36,#f0ba36,#24c1af,#4466fd,#484bef,#20a4e3,#d7be28,#f6f11f,#eeba34,#20a5e2,#402bb8,#3f28ad,#249ee6,#f1ba37,#f9fb15,#fdcd32,#01bac5,#4848ec,#4433cd,#2d88f6,#5dcc75,#f3ba38,#d1bf27,#34c79c,#1da8e0,#249fe5,#0db3d4,#12beb9,#08bcbf,#0fb2d5,#0eb2d4,#2ac3a9,#87cb54,#afc636,#47cb87,#22a2e4,#4369fe,#3a73fe,#05b6ce,#a5c83d,#f6ba3b,#aec637,#04bbc2,#2e86f7)"></i><i style="background:linear-gradient(90deg,#2d88f6,#08bcbf,#b1c635,#f5ba3b,#9fc941,#0ab4d1,#3d71ff,#4369fe,#20a4e3,#4dcc82,#b6c532,#8acb51,#28c3aa,#13b0d7,#15afd8,#03bbc2,#11beb9,#08b4d1,#21a3e3,#1aacdd,#36c799,#cbc029,#e8bb2f,#4ccb83,#2e85f8,#4535d2,#4850f3,#11beb9,#fbd32e,#f9fb15,#e0bc2a,#2a93ee,#3e26a8,#422ebf,#16aeda,#febf3b,#f8f817,#cdc028,#2798ea,#463cde,#465ffb,#2cc4a7,#fec239,#fec239,#2cc4a7,#465ffb,#463cde,#2798ea,#cdc028,#f8f817,#febf3b,#16aeda,#422ebf,#3e26a8,#2a93ee,#e0bc2a,#f9fb15,#fbd32e,#11beb9,#4850f3,#4535d2,#2e85f8,#4ccb83,#e8bb2f,#cbc029,#36c799,#1aacdd,#21a3e3,#08b4d1,#11beb9,#03bbc2,#15afd8,#13b0d7,#28c3aa,#8acb51,#b6c532,#4dcc82,#20a4e3,#4369fe,#3d71ff,#0ab4d1,#9fc941,#f5ba3b,#b1c635,#08bcbf,#2d88f6)"></i><i style="background:linear-gradient(90deg,#2d8af4,#0cbdbc,#b4c534,#f4ba39,#99c946,#0fb2d4,#3f6fff,#4368fe,#1fa6e2,#55cc7c,#bdc32e,#8ecb4f,#27c2ac,#17aeda,#19addc,#01b9c6,#11beb9,#04b6cc,#1da8e0,#15afd9,#37c898,#c3c22b,#dbbd29,#3eca8f,#2f83f9,#4539d9,#4759f9,#24c2ae,#f9d72c,#f9fb15,#cbc129,#2d89f5,#3e26a8,#4332c9,#05b6ce,#fdcd32,#f9fb15,#c2c22c,#2d8cf3,#4331c7,#475af9,#32c69f,#fcd030,#fcd030,#32c69f,#475af9,#4331c7,#2d8cf3,#c2c22c,#f9fb15,#fdcd32,#05b6ce,#4332c9,#3e26a8,#2d89f5,#cbc129,#f9fb15,#f9d72c,#24c2ae,#4759f9,#4539d9,#2f83f9,#3eca8f,#dbbd29,#c3c22b,#37c898,#15afd9,#1da8e0,#04b6cc,#11beb9,#01b9c6,#19addc,#17aeda,#27c2ac,#8ecb4f,#bdc32e,#55cc7c,#1fa6e2,#4368fe,#3f6fff,#0fb2d4,#99c946,#f4ba39,#b4c534,#0cbdbc,#2d8af4)"></i><i style="background:linear-gradient(90deg,#2d8df2,#12beb9,#b6c532,#f2ba38,#93ca4b,#13b0d7,#406dfe,#4368fe,#1ea7e1,#5ccc75,#c4c22b,#91ca4c,#25c2ae,#1aabdd,#1ca9e0,#01b8c9,#13beb9,#01b9c8,#19addc,#0eb2d4,#37c897,#b8c431,#cbc029,#36c799,#2f81fa,#463ee1,#4563fc,#2fc5a3,#f8d92b,#f9fb15,#b4c534,#3080fb,#3e26a8,#4536d3,#05bbc1,#f8d82c,#f9fb15,#b5c533,#2f81fa,#3f29b1,#4755f6,#37c898,#f6dd29,#f6dd29,#37c898,#4755f6,#3f29b1,#2f81fa,#b5c533,#f9fb15,#f8d82c,#05bbc1,#4536d3,#3e26a8,#3080fb,#b4c534,#f9fb15,#f8d92b,#2fc5a3,#4563fc,#463ee1,#2f81fa,#36c799,#cbc029,#b8c431,#37c897,#0eb2d4,#19addc,#01b9c8,#13beb9,#01b8c9,#1ca9e0,#1aabdd,#25c2ae,#91ca4c,#c4c22b,#5ccc75,#1ea7e1,#4368fe,#406dfe,#13b0d7,#93ca4b,#f2ba38,#b6c532,#12beb9,#2d8df2)"></i><i style="background:linear-gradient(90deg,#2c8ff0,#17bfb6,#b8c431,#f1ba37,#8ccb50,#16aeda,#416bfe,#4369fe,#1da9e0,#64cd6f,#cbc029,#95ca49,#22c1b0,#1da8e0,#20a5e2,#04b6cd,#15bfb7,#04bbc2,#11b1d6,#07b5cf,#36c898,#aac73a,#b9c430,#30c5a2,#2f81fa,#4744e8,#406dfe,#36c799,#f8da2b,#f7f51b,#9bc944,#3677fe,#3e26a8,#463cde,#1bc0b4,#f5e228,#f9fb15,#a8c73b,#3777fe,#3e26a8,#4852f4,#3cc991,#f5e825,#f5e825,#3cc991,#4852f4,#3e26a8,#3777fe,#a8c73b,#f9fb15,#f5e228,#1bc0b4,#463cde,#3e26a8,#3677fe,#9bc944,#f7f51b,#f8da2b,#36c799,#406dfe,#4744e8,#2f81fa,#30c5a2,#b9c430,#aac73a,#36c898,#07b5cf,#11b1d6,#04bbc2,#15bfb7,#04b6cd,#20a5e2,#1da8e0,#22c1b0,#95ca49,#cbc029,#64cd6f,#1da9e0,#4369fe,#416bfe,#16aeda,#8ccb50,#f1ba37,#b8c431,#17bfb6,#2c8ff0)"></i><i style="background:linear-gradient(90deg,#2a92ee,#1cc0b4,#b8c431,#eeba34,#86cb55,#19addc,#4269fe,#4369fe,#1baade,#6dcd68,#d2bf27,#99c946,#1fc0b2,#20a4e3,#23a1e5,#08b5d0,#18bfb6,#0fbeba,#05b6ce,#01b8ca,#35c79a,#99c946,#a4c83e,#2ac3a9,#2e83f9,#484cef,#3777fe,#3dc990,#f9d82c,#f5ed22,#82cc57,#3d71ff,#3e26a8,#4742e6,#2ac3a9,#f5e924,#f9fb15,#9ac945,#3f6efe,#3e26a8,#4850f3,#43ca8b,#f6f020,#f6f020,#43ca8b,#4850f3,#3e26a8,#3f6efe,#9ac945,#f9fb15,#f5e924,#2ac3a9,#4742e6,#3e26a8,#3d71ff,#82cc57,#f5ed22,#f9d82c,#3dc990,#3777fe,#484cef,#2e83f9,#2ac3a9,#a4c83e,#99c946,#35c79a,#01b8ca,#05b6ce,#0fbeba,#18bfb6,#08b5d0,#23a1e5,#20a4e3,#1fc0b2,#99c946,#d2bf27,#6dcd68,#1baade,#4369fe,#4269fe,#19addc,#86cb55,#eeba34,#b8c431,#1cc0b4,#2a92ee)"></i><i style="background:linear-gradient(90deg,#2895ec,#20c1b1,#b9c431,#ebba32,#7ecc5a,#1babde,#4367fd,#4269fe,#1aacdd,#76cc61,#d9be28,#9cc944,#1bc0b4,#23a0e5,#259ce7,#0db3d3,#1cc0b3,#1dc0b2,#01bac5,#01bac5,#33c69d,#85cb56,#8dcb4f,#23c1af,#2e86f8,#4755f6,#2f81fa,#45cb88,#fad52e,#f5e327,#6bcd69,#406cfe,#3e26a8,#484aee,#33c69e,#f5ed22,#f9fb15,#8ccb50,#4367fd,#3e26a8,#4850f3,#49cb86,#f7f51b,#f7f51b,#49cb86,#4850f3,#3e26a8,#4367fd,#8ccb50,#f9fb15,#f5ed22,#33c69e,#484aee,#3e26a8,#406cfe,#6bcd69,#f5e327,#fad52e,#45cb88,#2f81fa,#4755f6,#2e86f8,#23c1af,#8dcb4f,#85cb56,#33c69d,#01bac5,#01bac5,#1dc0b2,#1cc0b3,#0db3d3,#259ce7,#23a0e5,#1bc0b4,#9cc944,#d9be28,#76cc61,#1aacdd,#4269fe,#4367fd,#1babde,#7ecc5a,#ebba32,#b9c431,#20c1b1,#2895ec)"></i><i style="background:linear-gradient(90deg,#2798ea,#24c1af,#b8c431,#e8bb2f,#77cc60,#1da9e0,#4466fd,#426afe,#18aedb,#7fcc5a,#dfbc2a,#9fc941,#16bfb7,#259ce7,#2797eb,#12b1d6,#21c1b0,#29c3aa,#0cbdbc,#05bbc1,#30c5a2,#6ecd67,#75cc61,#1bc0b4,#2d8af5,#465ffb,#2d8af4,#4ccb83,#fccf30,#f9d82c,#57cc7a,#426afe,#3e26a8,#4853f4,#3ac993,#f5ef20,#f9fb15,#7dcc5b,#4562fc,#3e26a8,#4851f3,#4ecc81,#f8f818,#f8f818,#4ecc81,#4851f3,#3e26a8,#4562fc,#7dcc5b,#f9fb15,#f5ef20,#3ac993,#4853f4,#3e26a8,#426afe,#57cc7a,#f9d82c,#fccf30,#4ccb83,#2d8af4,#465ffb,#2d8af5,#1bc0b4,#75cc61,#6ecd67,#30c5a2,#05bbc1,#0cbdbc,#29c3aa,#21c1b0,#12b1d6,#2797eb,#259ce7,#16bfb7,#9fc941,#dfbc2a,#7fcc5a,#18aedb,#426afe,#4466fd,#1da9e0,#77cc60,#e8bb2f,#b8c431,#24c1af,#2798ea)"></i><i style="background:linear-gradient(90deg,#259be8,#26c2ac,#b6c532,#e4bb2c,#6fcd65,#1ea7e1,#4465fd,#416afe,#15afd9,#88cb53,#e5bb2c,#a2c83f,#11beba,#2798ea,#2b92ee,#15afd9,#26c2ad,#31c69f,#1ec0b2,#0bbdbd,#2bc4a7,#57cc7a,#5ecd74,#14bfb8,#2c8ff1,#426afe,#2a93ee,#51cc7f,#fec835,#fdcc32,#45cb88,#4269fe,#3f28ad,#475bfa,#43ca8b,#f5ee21,#f9f916,#6fcd66,#4660fb,#3e26a8,#4853f5,#51cc7f,#f8f817,#f8f817,#51cc7f,#4853f5,#3e26a8,#4660fb,#6fcd66,#f9f916,#f5ee21,#43ca8b,#475bfa,#3f28ad,#4269fe,#45cb88,#fdcc32,#fec835,#51cc7f,#2a93ee,#426afe,#2c8ff1,#14bfb8,#5ecd74,#57cc7a,#2bc4a7,#0bbdbd,#1ec0b2,#31c69f,#26c2ad,#15afd9,#2b92ee,#2798ea,#11beba,#a2c83f,#e5bb2c,#88cb53,#15afd9,#416afe,#4465fd,#1ea7e1,#6fcd65,#e4bb2c,#b6c532,#26c2ac,#259be8)"></i><i style="background:linear-gradient(90deg,#249ee6,#28c3ab,#b4c534,#dfbc2a,#68cd6b,#1fa5e2,#4465fd,#416cfe,#12b1d6,#90ca4d,#eabb30,#a4c83e,#0bbdbd,#2a93ee,#2d8df2,#18aedb,#2ac3a8,#3ac993,#2bc3a8,#11beb9,#25c2ae,#41ca8c,#49cb85,#0fbebb,#2995ec,#3776fe,#259be8,#52cc7e,#fec03b,#fec03a,#3ac994,#416bfe,#412ebe,#4465fd,#4bcb83,#f5eb23,#f6f21e,#62cd71,#465ffb,#3e26a8,#4757f7,#53cc7d,#f8f619,#f8f619,#53cc7d,#4757f7,#3e26a8,#465ffb,#62cd71,#f6f21e,#f5eb23,#4bcb83,#4465fd,#412ebe,#416bfe,#3ac994,#fec03a,#fec03b,#52cc7e,#259be8,#3776fe,#2995ec,#0fbebb,#49cb85,#41ca8c,#25c2ae,#11beb9,#2bc3a8,#3ac993,#2ac3a8,#18aedb,#2d8df2,#2a93ee,#0bbdbd,#a4c83e,#eabb30,#90ca4d,#12b1d6,#416cfe,#4465fd,#1fa5e2,#68cd6b,#dfbc2a,#b4c534,#28c3ab,#249ee6)"></i><i style="background:linear-gradient(90deg,#23a1e5,#2ac3a9,#b1c636,#d9bd28,#61cd71,#20a4e3,#4464fd,#406dfe,#0eb3d4,#98c947,#eeba34,#a6c83d,#07bcc0,#2c8ef1,#2d88f6,#1aacdd,#2ec5a3,#48cb86,#33c79c,#17bfb6,#1abfb5,#33c69d,#39c995,#0cbdbc,#259ce7,#2e83f9,#22a2e4,#50cc7f,#f5ba3a,#f2ba38,#33c69e,#3f6eff,#4435d1,#3f6fff,#51cc7e,#f5e526,#f5e924,#56cc7b,#4660fb,#3e26a8,#475bfa,#53cc7d,#f6f21e,#f6f21e,#53cc7d,#475bfa,#3e26a8,#4660fb,#56cc7b,#f5e924,#f5e526,#51cc7e,#3f6fff,#4435d1,#3f6eff,#33c69e,#f2ba38,#f5ba3a,#50cc7f,#22a2e4,#2e83f9,#259ce7,#0cbdbc,#39c995,#33c69d,#1abfb5,#17bfb6,#33c79c,#48cb86,#2ec5a3,#1aacdd,#2d88f6,#2c8ef1,#07bcc0,#a6c83d,#eeba34,#98c947,#0eb3d4,#406dfe,#4464fd,#20a4e3,#61cd71,#d9bd28,#b1c636,#2ac3a9,#23a1e5)"></i><i style="background:linear-gradient(90deg,#21a4e3,#2bc3a7,#acc738,#d3bf27,#5acc78,#21a3e4,#4465fd,#3f6fff,#09b4d1,#a0c941,#f2ba37,#a7c73c,#02bbc3,#2d89f5,#2f82f9,#1babde,#32c69e,#5bcc76,#3dc990,#1bc0b4,#0bbdbc,#26c2ac,#30c5a2,#0abdbd,#21a3e3,#2c8ff0,#1da9e0,#4ccb83,#e3bb2c,#ddbd29,#2dc4a5,#3a73fe,#473fe3,#347afd,#55cc7c,#f6dd29,#f6de29,#4acb84,#4563fc,#3e26a8,#4561fc,#52cc7e,#f5eb23,#f5eb23,#52cc7e,#4561fc,#3e26a8,#4563fc,#4acb84,#f6de29,#f6dd29,#55cc7c,#347afd,#473fe3,#3a73fe,#2dc4a5,#ddbd29,#e3bb2c,#4ccb83,#1da9e0,#2c8ff0,#21a3e3,#0abdbd,#30c5a2,#26c2ac,#0bbdbc,#1bc0b4,#3dc990,#5bcc76,#32c69e,#1babde,#2f82f9,#2d89f5,#02bbc3,#a7c73c,#f2ba37,#a0c941,#09b4d1,#3f6fff,#4465fd,#21a3e4,#5acc78,#d3bf27,#acc738,#2bc3a7,#21a4e3)"></i><i style="background:linear-gradient(90deg,#1ea7e1,#2cc4a6,#a7c73c,#cbc129,#53cc7d,#22a2e4,#4465fd,#3d71ff,#05b6ce,#a6c83c,#f5ba3a,#a7c73c,#01b9c6,#2e84f9,#317dfc,#1caadf,#37c898,#6fcd66,#4ccb83,#1ec0b2,#02bac5,#0fbebb,#25c2ae,#0bbdbd,#1babde,#259be8,#16afda,#45cb88,#ccc028,#c3c22b,#27c2ac,#337bfd,#484cf0,#2e84f9,#55cc7c,#fbd32e,#fbd12f,#40ca8d,#4368fd,#412dbc,#4369fe,#4fcc80,#f5e227,#f5e227,#4fcc80,#4369fe,#412dbc,#4368fd,#40ca8d,#fbd12f,#fbd32e,#55cc7c,#2e84f9,#484cf0,#337bfd,#27c2ac,#c3c22b,#ccc028,#45cb88,#16afda,#259be8,#1babde,#0bbdbd,#25c2ae,#0fbebb,#02bac5,#1ec0b2,#4ccb83,#6fcd66,#37c898,#1caadf,#317dfc,#2e84f9,#01b9c6,#a7c73c,#f5ba3a,#a6c83c,#05b6ce,#3d71ff,#4465fd,#22a2e4,#53cc7d,#cbc129,#a7c73c,#2cc4a6,#1ea7e1)"></i><i style="background:linear-gradient(90deg,#1caadf,#2dc4a6,#a0c841,#c2c22c,#4bcb83,#23a1e4,#4367fd,#3a73fe,#02b7cb,#acc738,#f7ba3c,#a6c83d,#01b8ca,#307ffb,#3578fd,#1da9e0,#3dc990,#85cb55,#5ccc76,#20c1b1,#04b6cd,#01b8c8,#13beb8,#0dbdbc,#0fb2d5,#1ea6e1,#0bb3d2,#3dca90,#aec637,#a4c83e,#20c1b1,#2e83f9,#475af9,#2d8df2,#53cc7e,#fec736,#fec438,#3ac994,#3f6eff,#4536d3,#3c71ff,#4bcb84,#f9d72d,#f9d72d,#4bcb84,#3c71ff,#4536d3,#3f6eff,#3ac994,#fec438,#fec736,#53cc7e,#2d8df2,#475af9,#2e83f9,#20c1b1,#a4c83e,#aec637,#3dca90,#0bb3d2,#1ea6e1,#0fb2d5,#0dbdbc,#13beb8,#01b8c8,#04b6cd,#20c1b1,#5ccc76,#85cb55,#3dc990,#1da9e0,#3578fd,#307ffb,#01b8ca,#a6c83d,#f7ba3c,#acc738,#02b7cb,#3a73fe,#4367fd,#23a1e4,#4bcb83,#c2c22c,#a0c841,#2dc4a6,#1caadf)"></i><i style="background:linear-gradient(90deg,#19addc,#2dc4a5,#98ca47,#b8c431,#45cb89,#23a0e5,#4368fe,#3776fe,#01b8c8,#b1c636,#f8ba3d,#a4c83e,#04b6cd,#347afd,#3a74fe,#1da8e0,#45cb89,#9ac945,#6dcd68,#21c1b0,#10b2d5,#10b2d5,#03bbc2,#11beb9,#01b8c8,#13b0d7,#02b7cb,#36c898,#8acb51,#83cc57,#1ac0b4,#2d8cf3,#426afe,#2796eb,#4dcc82,#fabb3d,#f6ba3b,#34c79b,#3777fe,#4742e6,#327bfc,#46cb88,#feca34,#feca34,#46cb88,#327bfc,#4742e6,#3777fe,#34c79b,#f6ba3b,#fabb3d,#4dcc82,#2796eb,#426afe,#2d8cf3,#1ac0b4,#83cc57,#8acb51,#36c898,#02b7cb,#13b0d7,#01b8c8,#11beb9,#03bbc2,#10b2d5,#10b2d5,#21c1b0,#6dcd68,#9ac945,#45cb89,#1da8e0,#3a74fe,#347afd,#04b6cd,#a4c83e,#f8ba3d,#b1c636,#01b8c8,#3776fe,#4368fe,#23a0e5,#45cb89,#b8c431,#98ca47,#2dc4a5,#19addc)"></i><i style="background:linear-gradient(90deg,#15afd8,#2dc4a5,#8ecb4f,#acc738,#3fca8e,#23a0e5,#416bfe,#347afd,#01bac5,#b4c534,#f9ba3d,#a2c840,#08b5d0,#3875fe,#3e70ff,#1da8e0,#4fcc80,#aec637,#7dcc5b,#21c1b0,#19acdc,#1caadf,#02b7cb,#17bfb6,#0fbeba,#01b8c8,#02bac4,#30c5a1,#64cd6f,#61cd71,#15bfb7,#2896ec,#327bfc,#249fe6,#47cb87,#e5bb2d,#debc2a,#30c5a1,#2f80fa,#4852f4,#2e85f8,#40ca8d,#fcbd3d,#fcbd3d,#40ca8d,#2e85f8,#4852f4,#2f80fa,#30c5a1,#debc2a,#e5bb2d,#47cb87,#249fe6,#327bfc,#2896ec,#15bfb7,#61cd71,#64cd6f,#30c5a1,#02bac4,#01b8c8,#0fbeba,#17bfb6,#02b7cb,#1caadf,#19acdc,#21c1b0,#7dcc5b,#aec637,#4fcc80,#1da8e0,#3e70ff,#3875fe,#08b5d0,#a2c840,#f9ba3d,#b4c534,#01bac5,#347afd,#416bfe,#23a0e5,#3fca8e,#acc738,#8ecb4f,#2dc4a5,#15afd8)"></i><i style="background:linear-gradient(90deg,#0fb2d5,#2dc4a6,#83cc57,#9fc941,#3ac993,#23a1e5,#3f6eff,#317efb,#03bbc2,#b6c532,#f8ba3d,#9ec942,#0cb3d3,#3c71ff,#406cfe,#1da8e0,#59cc78,#bfc32d,#8dcb50,#20c1b1,#1fa6e1,#23a1e5,#0bb3d2,#1dc0b3,#27c2ab,#13beb8,#0abdbe,#28c2ab,#43ca8b,#44cb89,#12beb9,#23a0e5,#2d8cf3,#1ea7e1,#3eca8f,#c8c129,#c0c32d,#2dc4a6,#2d8af4,#4562fc,#2c8ff1,#3bc993,#e7bb2e,#e7bb2e,#3bc993,#2c8ff1,#4562fc,#2d8af4,#2dc4a6,#c0c32d,#c8c129,#3eca8f,#1ea7e1,#2d8cf3,#23a0e5,#12beb9,#44cb89,#43ca8b,#28c2ab,#0abdbe,#13beb8,#27c2ab,#1dc0b3,#0bb3d2,#23a1e5,#1fa6e1,#20c1b1,#8dcb50,#bfc32d,#59cc78,#1da8e0,#406cfe,#3c71ff,#0cb3d3,#9ec942,#f8ba3d,#b6c532,#03bbc2,#317efb,#3f6eff,#23a1e5,#3ac993,#9fc941,#83cc57,#2dc4a6,#0fb2d5)"></i><i style="background:linear-gradient(90deg,#08b4d0,#2cc4a7,#76cc60,#91ca4c,#36c898,#22a1e4,#3c72ff,#2f82fa,#07bcc0,#b7c531,#f7ba3c,#99c946,#11b1d6,#3f6efe,#426afe,#1da9e0,#64cd6f,#cec028,#9ac946,#1ec0b2,#23a0e5,#2798ea,#15afd9,#24c1af,#35c79b,#2bc3a8,#15bfb8,#1ac0b4,#2fc5a3,#33c69e,#10beba,#1caadf,#259be8,#17aedb,#37c897,#a2c83f,#9bc945,#28c3aa,#2994ed,#3975fe,#2698ea,#36c799,#c9c129,#c9c129,#36c799,#2698ea,#3975fe,#2994ed,#28c3aa,#9bc945,#a2c83f,#37c897,#17aedb,#259be8,#1caadf,#10beba,#33c69e,#2fc5a3,#1ac0b4,#15bfb8,#2bc3a8,#35c79b,#24c1af,#15afd9,#2798ea,#23a0e5,#1ec0b2,#9ac946,#cec028,#64cd6f,#1da9e0,#426afe,#3f6efe,#11b1d6,#99c946,#f7ba3c,#b7c531,#07bcc0,#2f82fa,#3c72ff,#22a1e4,#36c898,#91ca4c,#76cc60,#2cc4a7,#08b4d0)"></i><i style="background:linear-gradient(90deg,#03b7cc,#2ac3a8,#69cd6b,#82cc58,#33c79d,#22a2e4,#3777fe,#2e86f7,#0bbdbd,#b7c532,#f4ba3a,#94ca4a,#14b0d8,#416bfe,#4368fe,#1ca9df,#6ecd67,#dabd28,#a5c83d,#1cc0b4,#2699e9,#2c8ff1,#1aabdd,#29c3aa,#47cb87,#38c896,#1ec0b2,#08bcbe,#16bfb7,#24c1ae,#10beba,#0eb3d4,#1ca9e0,#0ab4d2,#31c69f,#77cc60,#72cd63,#24c1ae,#249fe6,#2d87f7,#22a2e4,#31c69f,#a3c83e,#a3c83e,#31c69f,#22a2e4,#2d87f7,#249fe6,#24c1ae,#72cd63,#77cc60,#31c69f,#0ab4d2,#1ca9e0,#0eb3d4,#10beba,#24c1ae,#16bfb7,#08bcbe,#1ec0b2,#38c896,#47cb87,#29c3aa,#1aabdd,#2c8ff1,#2699e9,#1cc0b4,#a5c83d,#dabd28,#6ecd67,#1ca9df,#4368fe,#416bfe,#14b0d8,#94ca4a,#f4ba3a,#b7c532,#0bbdbd,#2e86f7,#3777fe,#22a2e4,#33c79d,#82cc58,#69cd6b,#2ac3a8,#03b7cc)"></i><i style="background:linear-gradient(90deg,#01b9c8,#28c3aa,#5ccc76,#71cd64,#30c5a1,#21a4e3,#327cfc,#2d8af4,#0fbeba,#b5c533,#f1ba37,#8dcb4f,#17aeda,#4269fe,#4367fd,#1baade,#78cc5f,#e5bb2c,#aec637,#19bfb6,#2a93ee,#2e86f8,#1ea8e1,#2ec4a4,#61cd72,#4ecc82,#25c2ae,#01b8c8,#01b8c9,#0abdbd,#11beb9,#02bac5,#08b5d0,#01b8c8,#2bc3a8,#4ecc81,#4dcc82,#1fc0b2,#1da9e0,#2698ea,#1babde,#2dc4a6,#78cc5f,#78cc5f,#2dc4a6,#1babde,#2698ea,#1da9e0,#1fc0b2,#4dcc82,#4ecc81,#2bc3a8,#01b8c8,#08b5d0,#02bac5,#11beb9,#0abdbd,#01b8c9,#01b8c8,#25c2ae,#4ecc82,#61cd72,#2ec4a4,#1ea8e1,#2e86f8,#2a93ee,#19bfb6,#aec637,#e5bb2c,#78cc5f,#1baade,#4367fd,#4269fe,#17aeda,#8dcb4f,#f1ba37,#b5c533,#0fbeba,#2d8af4,#327cfc,#21a4e3,#30c5a1,#71cd64,#5ccc76,#28c3aa,#01b9c8)"></i><i style="background:linear-gradient(90deg,#02bac3,#26c2ad,#4ecc81,#61cd71,#2dc4a5,#1fa6e2,#2f81fa,#2c8ff1,#14beb8,#b1c635,#ecba32,#86cb55,#19addc,#4368fe,#4367fd,#1aabdd,#82cc58,#ecba32,#b5c533,#14bfb8,#2d8df2,#317dfc,#20a4e3,#32c69e,#7dcc5c,#67cd6c,#29c3aa,#0ab4d2,#15afd9,#02b7ca,#14beb8,#1ac0b5,#0bbdbd,#08bcbe,#20c1b1,#33c69d,#34c79b,#1abfb5,#10b2d5,#1da8e0,#0eb2d4,#27c2ac,#4fcc81,#4fcc81,#27c2ac,#0eb2d4,#1da8e0,#10b2d5,#1abfb5,#34c79b,#33c69d,#20c1b1,#08bcbe,#0bbdbd,#1ac0b5,#14beb8,#02b7ca,#15afd9,#0ab4d2,#29c3aa,#67cd6c,#7dcc5c,#32c69e,#20a4e3,#317dfc,#2d8df2,#14bfb8,#b5c533,#ecba32,#82cc58,#1aabdd,#4367fd,#4368fe,#19addc,#86cb55,#ecba32,#b1c635,#14beb8,#2c8ff1,#2f81fa,#1fa6e2,#2dc4a5,#61cd71,#4ecc81,#26c2ad,#02bac3)"></i><i style="background:linear-gradient(90deg,#08bcbf,#23c1af,#41ca8d,#52cc7e,#2ac3a8,#1da8e0,#2e87f7,#2994ed,#18bfb6,#acc738,#e5bb2d,#7dcc5b,#1aacdd,#4368fe,#4368fe,#19addc,#89cb52,#f2ba38,#bac430,#10beba,#2e87f7,#3975fe,#22a1e4,#36c898,#98ca47,#81cc58,#2cc4a7,#17aeda,#20a4e3,#11b1d6,#17bfb6,#2fc5a3,#2bc3a8,#19bfb5,#10beba,#1bc0b4,#21c1b0,#15bfb7,#01b9c7,#07b5d0,#01b8c8,#1fc0b2,#33c69d,#33c69d,#1fc0b2,#01b8c8,#07b5d0,#01b9c7,#15bfb7,#21c1b0,#1bc0b4,#10beba,#19bfb5,#2bc3a8,#2fc5a3,#17bfb6,#11b1d6,#20a4e3,#17aeda,#2cc4a7,#81cc58,#98ca47,#36c898,#22a1e4,#3975fe,#2e87f7,#10beba,#bac430,#f2ba38,#89cb52,#19addc,#4368fe,#4368fe,#1aacdd,#7dcc5b,#e5bb2d,#acc738,#18bfb6,#2994ed,#2e87f7,#1da8e0,#2ac3a8,#52cc7e,#41ca8d,#23c1af,#08bcbf)"></i><i style="background:linear-gradient(90deg,#0ebebb,#1ec0b2,#37c898,#43ca8a,#27c2ac,#1baade,#2c8ef2,#2699e9,#1bc0b4,#a5c83d,#ddbd29,#74cd62,#1babde,#4269fe,#426afe,#17aeda,#90ca4d,#f6ba3b,#bcc42f,#0bbdbd,#2f81fa,#3f6eff,#249fe5,#3cc991,#b0c636,#99c946,#2ec4a5,#1da8e0,#2699e9,#1babde,#1bc0b4,#3dc990,#3cc991,#26c2ac,#03bbc3,#01b8c9,#03bbc2,#11beba,#15bfb7,#10beba,#0ebdbb,#14bfb8,#1cc0b3,#1cc0b3,#14bfb8,#0ebdbb,#10beba,#15bfb7,#11beba,#03bbc2,#01b8c9,#03bbc3,#26c2ac,#3cc991,#3dc990,#1bc0b4,#1babde,#2699e9,#1da8e0,#2ec4a5,#99c946,#b0c636,#3cc991,#249fe5,#3f6eff,#2f81fa,#0bbdbd,#bcc42f,#f6ba3b,#90ca4d,#17aeda,#426afe,#4269fe,#1babde,#74cd62,#ddbd29,#a5c83d,#1bc0b4,#2699e9,#2c8ef2,#1baade,#27c2ac,#43ca8a,#37c898,#1ec0b2,#0ebebb)"></i><i style="background:linear-gradient(90deg,#17bfb7,#18bfb6,#2fc5a2,#38c896,#23c1af,#19addc,#2994ed,#249ee6,#1dc0b3,#9cc944,#d2bf27,#6acd6a,#1babde,#416bfe,#406dfe,#15afd8,#94ca4a,#f8ba3d,#bdc32e,#08bcbf,#327cfc,#4369fe,#249ee6,#43ca8b,#c3c22b,#adc638,#2fc5a3,#22a2e4,#2c8ef2,#20a4e3,#1fc1b1,#57cc7a,#5acc78,#2ec5a4,#02b7cb,#16afda,#0ab4d2,#0dbdbb,#2bc3a8,#2fc5a3,#24c1ae,#0abdbd,#01b9c7,#01b9c7,#0abdbd,#24c1ae,#2fc5a3,#2bc3a8,#0dbdbb,#0ab4d2,#16afda,#02b7cb,#2ec5a4,#5acc78,#57cc7a,#1fc1b1,#20a4e3,#2c8ef2,#22a2e4,#2fc5a3,#adc638,#c3c22b,#43ca8b,#249ee6,#4369fe,#327cfc,#08bcbf,#bdc32e,#f8ba3d,#94ca4a,#15afd8,#406dfe,#416bfe,#1babde,#6acd6a,#d2bf27,#9cc944,#1dc0b3,#249ee6,#2994ed,#19addc,#23c1af,#38c896,#2fc5a2,#18bfb6,#17bfb7)"></i><i style="background:linear-gradient(90deg,#1dc0b3,#11beb9,#26c2ac,#31c5a1,#1fc0b1,#14b0d8,#259be8,#21a3e4,#1ec0b2,#91ca4c,#c5c22a,#60cd72,#1babde,#3f6eff,#3d70ff,#12b1d6,#97ca48,#f8ba3d,#bcc42f,#04bbc1,#3578fd,#4464fd,#259de7,#4acb84,#d3bf27,#bcc42f,#2fc5a2,#259ce7,#2e83f9,#249ee6,#24c1ae,#72cd63,#7bcc5d,#34c79c,#0bb3d2,#21a3e3,#1babde,#0bbdbd,#38c896,#44cb89,#30c5a1,#02bbc3,#14b0d8,#14b0d8,#02bbc3,#30c5a1,#44cb89,#38c896,#0bbdbd,#1babde,#21a3e3,#0bb3d2,#34c79c,#7bcc5d,#72cd63,#24c1ae,#249ee6,#2e83f9,#259ce7,#2fc5a2,#bcc42f,#d3bf27,#4acb84,#259de7,#4464fd,#3578fd,#04bbc1,#bcc42f,#f8ba3d,#97ca48,#12b1d6,#3d70ff,#3f6eff,#1babde,#60cd72,#c5c22a,#91ca4c,#1ec0b2,#21a3e4,#259be8,#14b0d8,#1fc0b1,#31c5a1,#26c2ac,#11beb9,#1dc0b3)"></i><i style="background:linear-gradient(90deg,#23c1af,#0abdbd,#17bfb6,#28c3aa,#1bc0b4,#0cb3d3,#22a2e4,#1ea8e0,#1fc1b1,#84cc56,#b5c533,#57cc7a,#1babde,#3b72fe,#3975fe,#0eb3d4,#97ca47,#f7ba3c,#b9c431,#02bac4,#3875fe,#4562fc,#259ce7,#51cc7e,#dfbc2a,#c9c129,#30c5a2,#2896eb,#3578fd,#2798ea,#27c2ab,#8fcb4e,#9ac945,#39c994,#15afd9,#2797eb,#22a1e4,#09bcbe,#4bcb84,#68cd6c,#3ac994,#01b9c8,#20a5e3,#20a5e3,#01b9c8,#3ac994,#68cd6c,#4bcb84,#09bcbe,#22a1e4,#2797eb,#15afd9,#39c994,#9ac945,#8fcb4e,#27c2ab,#2798ea,#3578fd,#2896eb,#30c5a2,#c9c129,#dfbc2a,#51cc7e,#259ce7,#4562fc,#3875fe,#02bac4,#b9c431,#f7ba3c,#97ca47,#0eb3d4,#3975fe,#3b72fe,#1babde,#57cc7a,#b5c533,#84cc56,#1fc1b1,#1ea8e0,#22a2e4,#0cb3d3,#1bc0b4,#28c3aa,#17bfb6,#0abdbd,#23c1af)"></i><i style="background:linear-gradient(90deg,#27c2ab,#04bbc2,#06bcc0,#1bc0b4,#18bfb6,#05b6cd,#1da9e0,#19addc,#20c1b1,#74cc62,#a3c83f,#4dcb82,#1aacdd,#3678fe,#337bfd,#09b4d1,#96ca49,#f3ba39,#b3c534,#01b9c6,#3a74fe,#4661fc,#259ce7,#58cc79,#e8bb2f,#d1bf27,#2fc5a2,#2b91ef,#3e6fff,#2a93ed,#2bc3a8,#a7c73c,#b4c533,#3fca8e,#1babde,#2d8bf4,#2798ea,#08bcbf,#63cd70,#8dcb4f,#48cb86,#04b6cc,#2699e9,#2699e9,#04b6cc,#48cb86,#8dcb4f,#63cd70,#08bcbf,#2798ea,#2d8bf4,#1babde,#3fca8e,#b4c533,#a7c73c,#2bc3a8,#2a93ed,#3e6fff,#2b91ef,#2fc5a2,#d1bf27,#e8bb2f,#58cc79,#259ce7,#4661fc,#3a74fe,#01b9c6,#b3c534,#f3ba39,#96ca49,#09b4d1,#337bfd,#3678fe,#1aacdd,#4dcb82,#a3c83f,#74cc62,#20c1b1,#19addc,#1da9e0,#05b6cd,#18bfb6,#1bc0b4,#06bcc0,#04bbc2,#27c2ab)"></i><i style="background:linear-gradient(90deg,#2bc3a8,#01b9c6,#01b8c9,#0bbdbd,#14bfb8,#01b9c7,#15afd9,#12b1d6,#1fc0b1,#64cd6f,#8fcb4e,#43ca8a,#19addc,#317efb,#2f81fa,#06b5ce,#92ca4b,#eeba34,#acc738,#01b9c7,#3a73fe,#4661fc,#249de7,#5dcc75,#eeba34,#d7be28,#2fc5a3,#2d8cf3,#4368fe,#2c90f0,#2dc4a5,#bac430,#c9c129,#46cb88,#1fa6e1,#3080fa,#2c90f0,#07bcbf,#7acc5d,#adc638,#59cc79,#08b4d0,#2c8ef1,#2c8ef1,#08b4d0,#59cc79,#adc638,#7acc5d,#07bcbf,#2c90f0,#3080fa,#1fa6e1,#46cb88,#c9c129,#bac430,#2dc4a5,#2c90f0,#4368fe,#2d8cf3,#2fc5a3,#d7be28,#eeba34,#5dcc75,#249de7,#4661fc,#3a73fe,#01b9c7,#acc738,#eeba34,#92ca4b,#06b5ce,#2f81fa,#317efb,#19addc,#43ca8a,#8fcb4e,#64cd6f,#1fc0b1,#12b1d6,#15afd9,#01b9c7,#14bfb8,#0bbdbd,#01b8c9,#01b9c6,#2bc3a8)"></i><i style="background:linear-gradient(90deg,#2dc4a5,#02b7ca,#0bb3d2,#01bac5,#11beb9,#06bcc0,#07b5d0,#07b5d0,#1ec0b2,#54cc7c,#78cc5f,#3cc992,#17aeda,#2e85f8,#2e87f7,#03b7cc,#8ccb50,#e7bb2e,#a3c83f,#01b8c9,#3974fe,#4562fc,#249ee6,#61cd71,#f1ba37,#dabd28,#2ec5a4,#2d89f5,#4562fc,#2d8df2,#2fc5a2,#cac129,#d8be28,#4bcb83,#22a2e4,#3875fe,#2d88f6,#07bcc0,#90ca4d,#c7c12a,#67cd6c,#0eb3d4,#2e84f8,#2e84f8,#0eb3d4,#67cd6c,#c7c12a,#90ca4d,#07bcc0,#2d88f6,#3875fe,#22a2e4,#4bcb83,#d8be28,#cac129,#2fc5a2,#2d8df2,#4562fc,#2d89f5,#2ec5a4,#dabd28,#f1ba37,#61cd71,#249ee6,#4562fc,#3974fe,#01b8c9,#a3c83f,#e7bb2e,#8ccb50,#03b7cc,#2e87f7,#2e85f8,#17aeda,#3cc992,#78cc5f,#54cc7c,#1ec0b2,#07b5d0,#07b5d0,#06bcc0,#11beb9,#01bac5,#0bb3d2,#02b7ca,#2dc4a5)"></i><i style="background:linear-gradient(90deg,#2fc5a2,#06b5cf,#17aeda,#04b6cd,#0fbeba,#12beb9,#02bac5,#01b8c8,#1cc0b3,#44cb8a,#61cd71,#36c799,#14b0d8,#2d8cf3,#2c8ef1,#01b8c9,#84cb56,#dcbd29,#98c947,#01b8ca,#3776fe,#4465fd,#23a0e5,#63cd6f,#f2ba37,#dabd28,#2dc4a5,#2e86f7,#465ffb,#2d8bf4,#31c6a0,#d5be28,#e3bc2c,#4fcc80,#249fe6,#406dfe,#2f82f9,#07bcc0,#a1c840,#dabd28,#75cc61,#12b1d7,#327bfc,#327bfc,#12b1d7,#75cc61,#dabd28,#a1c840,#07bcc0,#2f82f9,#406dfe,#249fe6,#4fcc80,#e3bc2c,#d5be28,#31c6a0,#2d8bf4,#465ffb,#2e86f7,#2dc4a5,#dabd28,#f2ba37,#63cd6f,#23a0e5,#4465fd,#3776fe,#01b8ca,#98c947,#dcbd29,#84cb56,#01b8c9,#2c8ef1,#2d8cf3,#14b0d8,#36c799,#61cd71,#44cb8a,#1cc0b3,#01b8c8,#02bac5,#12beb9,#0fbeba,#04b6cd,#17aeda,#06b5cf,#2fc5a2)"></i><i style="background:linear-gradient(90deg,#31c6a0,#0db3d3,#1da9e0,#0eb2d4,#0dbdbb,#20c1b1,#11beb9,#05bbc1,#1abfb5,#37c897,#4ccb83,#31c6a0,#10b2d5,#2a93ed,#2895ec,#01b9c6,#7acc5e,#cfc028,#8bcb51,#02b7cb,#347afd,#426afe,#22a2e4,#64cd6f,#f0ba36,#d7be28,#2cc4a7,#2e85f8,#465dfa,#2d8af4,#33c69e,#dcbd29,#eabb30,#52cc7e,#259ce7,#4466fd,#317dfc,#07bcc0,#afc637,#e8bb2e,#80cc59,#15afd9,#3a73fe,#3a73fe,#15afd9,#80cc59,#e8bb2e,#afc637,#07bcc0,#317dfc,#4466fd,#259ce7,#52cc7e,#eabb30,#dcbd29,#33c69e,#2d8af4,#465dfa,#2e85f8,#2cc4a7,#d7be28,#f0ba36,#64cd6f,#22a2e4,#426afe,#347afd,#02b7cb,#8bcb51,#cfc028,#7acc5e,#01b9c6,#2895ec,#2a93ed,#10b2d5,#31c6a0,#4ccb83,#37c897,#1abfb5,#05bbc1,#11beb9,#20c1b1,#0dbdbb,#0eb2d4,#1da9e0,#0db3d3,#31c6a0)"></i><i style="background:linear-gradient(90deg,#32c69e,#13b0d7,#21a2e4,#17aeda,#0cbdbc,#2ac3a8,#25c2ae,#11beb9,#16bfb7,#2fc5a3,#3ac993,#2dc4a6,#09b4d1,#259be8,#259ce7,#02bac4,#6dcd67,#bec32e,#7ccc5c,#02b7cb,#307ffb,#3e6fff,#20a5e3,#63cd70,#ecba32,#d2bf27,#2ac3a9,#2e84f8,#465dfa,#2d8bf4,#34c79c,#e0bc2a,#edba34,#53cc7d,#269ae9,#4562fc,#347afd,#07bcbf,#b9c431,#f0ba36,#88cb53,#17aeda,#3f6dfe,#3f6dfe,#17aeda,#88cb53,#f0ba36,#b9c431,#07bcbf,#347afd,#4562fc,#269ae9,#53cc7d,#edba34,#e0bc2a,#34c79c,#2d8bf4,#465dfa,#2e84f8,#2ac3a9,#d2bf27,#ecba32,#63cd70,#20a5e3,#3e6fff,#307ffb,#02b7cb,#7ccc5c,#bec32e,#6dcd67,#02bac4,#259ce7,#259be8,#09b4d1,#2dc4a6,#3ac993,#2fc5a3,#16bfb7,#11beb9,#25c2ae,#2ac3a8,#0cbdbc,#17aeda,#21a2e4,#13b0d7,#32c69e)"></i><i style="background:linear-gradient(90deg,#33c79c,#18aedb,#259ce7,#1caadf,#0cbdbc,#31c6a0,#30c5a1,#1ec0b2,#12beb9,#24c1af,#30c5a2,#27c2ac,#04b6cd,#21a3e3,#21a3e3,#04bbc1,#60cd72,#a9c73a,#6dcd68,#02b7cb,#2e84f8,#3777fe,#1ea7e1,#60cd72,#e5bb2d,#cac129,#28c3ab,#2e85f8,#465ffb,#2d8cf3,#35c79b,#e1bc2b,#eeba34,#52cc7e,#2699e9,#4660fb,#3678fe,#08bcbf,#bec32e,#f6ba3b,#8ccb50,#18addb,#426afe,#426afe,#18addb,#8ccb50,#f6ba3b,#bec32e,#08bcbf,#3678fe,#4660fb,#2699e9,#52cc7e,#eeba34,#e1bc2b,#35c79b,#2d8cf3,#465ffb,#2e85f8,#28c3ab,#cac129,#e5bb2d,#60cd72,#1ea7e1,#3777fe,#2e84f8,#02b7cb,#6dcd68,#a9c73a,#60cd72,#04bbc1,#21a3e3,#21a3e3,#04b6cd,#27c2ac,#30c5a2,#24c1af,#12beb9,#1ec0b2,#30c5a1,#31c6a0,#0cbdbc,#1caadf,#259ce7,#18aedb,#33c79c)"></i><i style="background:linear-gradient(90deg,#34c79b,#1babde,#2796eb,#1fa5e2,#0cbdbc,#38c896,#3ac993,#28c2ab,#0dbdbc,#11beba,#23c1af,#20c1b1,#01b9c8,#1aabdd,#1baade,#07bcbf,#52cc7e,#91ca4c,#5dcc75,#01b8ca,#2d8bf4,#307ffb,#1baade,#5bcc76,#dbbd28,#bfc32d,#26c2ad,#2d87f6,#4563fc,#2c8ef1,#35c79a,#dfbc2a,#ecba32,#50cc7f,#2698ea,#465ffb,#3678fe,#08bcbe,#c1c32c,#f8ba3d,#8ecb4e,#19addc,#4368fe,#4368fe,#19addc,#8ecb4e,#f8ba3d,#c1c32c,#08bcbe,#3678fe,#465ffb,#2698ea,#50cc7f,#ecba32,#dfbc2a,#35c79a,#2c8ef1,#4563fc,#2d87f6,#26c2ad,#bfc32d,#dbbd28,#5bcc76,#1baade,#307ffb,#2d8bf4,#01b8ca,#5dcc75,#91ca4c,#52cc7e,#07bcbf,#1baade,#1aabdd,#01b9c8,#20c1b1,#23c1af,#11beba,#0dbdbc,#28c2ab,#3ac993,#38c896,#0cbdbc,#1fa5e2,#2796eb,#1babde,#34c79b)"></i><i style="background:linear-gradient(90deg,#35c79a,#1da8e0,#2b91ef,#22a1e4,#0cbdbc,#42ca8b,#4acb84,#2ec5a4,#09bcbe,#02bac5,#0dbdbb,#18bfb6,#04bbc2,#0eb2d4,#12b1d7,#0abdbd,#43ca8a,#76cc61,#4dcc82,#01b8c9,#2b92ee,#2d88f6,#18addb,#55cc7c,#cdc028,#b1c635,#24c1af,#2d8bf4,#4368fe,#2b92ef,#35c79a,#dabd28,#e7bb2d,#4dcc82,#2699e9,#4561fc,#3579fd,#09bcbe,#c0c32d,#f7ba3c,#8dcb4f,#19addc,#4368fe,#4368fe,#19addc,#8dcb4f,#f7ba3c,#c0c32d,#09bcbe,#3579fd,#4561fc,#2699e9,#4dcc82,#e7bb2d,#dabd28,#35c79a,#2b92ef,#4368fe,#2d8bf4,#24c1af,#b1c635,#cdc028,#55cc7c,#18addb,#2d88f6,#2b92ee,#01b8c9,#4dcc82,#76cc61,#43ca8a,#0abdbd,#12b1d7,#0eb2d4,#04bbc2,#18bfb6,#0dbdbb,#02bac5,#09bcbe,#2ec5a4,#4acb84,#42ca8b,#0cbdbc,#22a1e4,#2b91ef,#1da8e0,#35c79a)"></i><i style="background:linear-gradient(90deg,#35c79a,#1fa5e2,#2d8bf4,#249de6,#0dbdbb,#4fcc81,#5dcc75,#33c79c,#04bbc1,#06b5cf,#01b9c7,#0fbebb,#0dbdbc,#01b8c8,#04b6cd,#0dbdbc,#38c896,#5bcc76,#3fca8e,#01b9c7,#2699e9,#2b91ef,#13b0d8,#4dcc82,#bbc430,#a0c841,#21c1b0,#2c8ff1,#3e6fff,#2895ec,#35c79b,#d1bf27,#debc2a,#48cb86,#269ae8,#4465fd,#327cfc,#0abdbd,#bcc42f,#f3ba38,#89cb52,#18addb,#416afe,#416afe,#18addb,#89cb52,#f3ba38,#bcc42f,#0abdbd,#327cfc,#4465fd,#269ae8,#48cb86,#debc2a,#d1bf27,#35c79b,#2895ec,#3e6fff,#2c8ff1,#21c1b0,#a0c841,#bbc430,#4dcc82,#13b0d8,#2b91ef,#2699e9,#01b9c7,#3fca8e,#5bcc76,#38c896,#0dbdbc,#04b6cd,#01b8c8,#0dbdbc,#0fbebb,#01b9c7,#06b5cf,#04bbc1,#33c79c,#5dcc75,#4fcc81,#0dbdbb,#249de6,#2d8bf4,#1fa5e2,#35c79a)"></i><i style="background:linear-gradient(90deg,#35c79a,#21a3e3,#2e86f7,#269ae9,#0fbebb,#5ccc75,#71cd65,#38c896,#02bac4,#14b0d8,#0ab4d2,#08bcbf,#19bfb5,#0ebdbb,#03bbc3,#0fbeba,#30c5a2,#42ca8b,#36c799,#01bac5,#22a1e4,#269ae9,#0db3d3,#44cb89,#a5c83d,#8ccb50,#1ec0b2,#2994ed,#3578fd,#269ae9,#34c79c,#c5c22a,#d2bf27,#43ca8a,#259ce7,#426afe,#2f81fa,#0bbdbd,#b4c533,#ecba32,#83cc57,#17aeda,#3f6fff,#3f6fff,#17aeda,#83cc57,#ecba32,#b4c533,#0bbdbd,#2f81fa,#426afe,#259ce7,#43ca8a,#d2bf27,#c5c22a,#34c79c,#269ae9,#3578fd,#2994ed,#1ec0b2,#8ccb50,#a5c83d,#44cb89,#0db3d3,#269ae9,#22a1e4,#01bac5,#36c799,#42ca8b,#30c5a2,#0fbeba,#03bbc3,#0ebdbb,#19bfb5,#08bcbf,#0ab4d2,#14b0d8,#02bac4,#38c896,#71cd65,#5ccc75,#0fbebb,#269ae9,#2e86f7,#21a3e3,#35c79a)"></i></div>
<div class="hm" style="left:840.7px;top:42.5px;width:170.2px;height:170.1px;--rh:2.0012px"><i style="background:linear-gradient(90deg,#c8c129,#64cd6f,#04b6cd,#2a93ed,#2a93ed,#0fb2d5,#34c79c,#5ecc74,#4ccb83,#2ac3a9,#06bcc0,#04bbc2,#15bfb7,#20c1b1,#11beb9,#01b9c8,#01b7ca,#16bfb7,#3dc990,#69cd6b,#5bcc77,#25c2ad,#1babde,#2797eb,#21a3e3,#1dc0b3,#7fcc5a,#b7c532,#74cc62,#05bbc1,#2b92ef,#2f82fa,#21a3e3,#37c897,#b8c431,#c7c12a,#52cc7e,#1aabdd,#327cfc,#327dfc,#19acdc,#53cc7d,#c5c22a,#afc637,#30c5a1,#259be7,#3974fe,#2e84f8,#06b6ce,#67cd6d,#b8c431,#83cc57,#12beb9,#2796eb,#2f81fa,#2699e9,#0fbeba,#60cd72,#79cc5e,#37c897,#0db3d3,#2699e9,#269ae8,#10b2d5,#28c3ab,#3cc991,#33c69e,#11beb9,#03b7cb,#02b7cb,#09bdbe,#1dc0b3,#1cc0b3,#0dbdbc,#09bcbe,#1bc0b4,#2fc5a3,#34c79c,#23c1af,#07b5cf,#20a5e2,#1fa6e2,#01b9c6,#3fca8e,#7dcc5b,#66cd6d)"></i><i style="background:linear-gradient(90deg,#bec32e,#96ca49,#2ac3a9,#1fa6e2,#2895ec,#1ea7e1,#14beb8,#3eca90,#45cb89,#32c69f,#20c1b1,#1dc0b3,#29c3aa,#2ac3a8,#13beb8,#07b5d0,#17aeda,#03b7cc,#31c6a0,#74cc62,#8ccb50,#47cb87,#05b6ce,#2a93ed,#2c8ef1,#14b0d8,#49cb85,#bac430,#b1c636,#36c799,#23a0e5,#3578fd,#2d88f6,#01b9c6,#8ccb50,#debd29,#a8c73b,#1bc0b4,#2c8ef2,#3f6eff,#2d8df3,#14bfb8,#9cc944,#d3bf27,#81cc58,#01b8c8,#2e85f8,#3e70ff,#2895ec,#26c2ad,#98c947,#b3c534,#4acb84,#19addc,#2f82fa,#2f80fa,#1da9e0,#36c899,#84cc56,#69cd6a,#1ac0b5,#22a2e4,#2b91ef,#21a2e4,#0abdbd,#3dc990,#46cb88,#2bc3a8,#01b9c8,#0fb2d5,#06b6ce,#08bcbf,#17bfb6,#10beba,#06bbc1,#09bcbe,#21c1b0,#30c5a2,#2dc4a5,#09bcbe,#16aeda,#1fa6e2,#12b1d6,#28c3aa,#64cd6f,#7dcc5b)"></i><i style="background:linear-gradient(90deg,#b6c532,#80cc59,#1ec0b2,#20a5e2,#269ae9,#1aacdd,#16bfb7,#36c899,#36c898,#2cc4a7,#24c1ae,#2cc4a6,#35c79a,#30c5a1,#0bbdbc,#16afd9,#1da8e0,#05b6ce,#38c896,#90ca4d,#a0c841,#48cb86,#10b2d5,#2d8bf4,#2d8af5,#10b2d5,#5ccc76,#cac129,#b1c635,#2ec4a4,#2797eb,#3c71ff,#2d8af5,#10beba,#a7c73c,#e8bb2f,#a4c83e,#0bbdbd,#2e86f7,#426afe,#2d8df2,#1dc0b3,#a7c73c,#dabd28,#86cb55,#01b8c8,#2e83f9,#406dfe,#2a93ee,#24c1ae,#9ac945,#b7c532,#4bcb83,#1aabdd,#317dfc,#327cfc,#1da9e0,#3cc991,#97ca47,#79cc5e,#1dc0b3,#249fe6,#2d8cf3,#22a1e4,#15bfb7,#4fcc81,#57cc7a,#2ec4a5,#04b6cd,#1aacdd,#12b1d6,#03bbc2,#1cc0b4,#1ac0b4,#0bbdbd,#09bcbe,#1ac0b5,#2ac3a9,#29c3aa,#0abdbd,#10b2d5,#1aacdd,#06b5cf,#2dc4a5,#63cd6f,#75cc61)"></i><i style="background:linear-gradient(90deg,#aac73a,#65cd6e,#0bbdbd,#20a4e3,#249fe6,#14b0d8,#17bfb7,#2ec5a3,#2cc4a7,#23c1af,#29c3aa,#37c897,#46cb88,#36c899,#06bcc0,#1ca9df,#21a3e3,#03b7cc,#46cb88,#a9c73a,#adc738,#41ca8c,#1aabdd,#2e83f9,#2d89f5,#03b7cc,#7bcc5d,#dbbd28,#aec637,#21c1b0,#2c8ef1,#3e6fff,#2b92ee,#2cc4a7,#c5c22a,#eeba34,#94ca4a,#01b8ca,#317efb,#4269fe,#2a93ee,#2bc3a8,#b6c533,#dbbd29,#7ccc5c,#06b5ce,#307ffb,#406dfe,#2895ec,#29c3aa,#a1c840,#b8c431,#46cb88,#1da8e0,#3479fd,#327cfc,#1aacdd,#4bcb84,#acc739,#85cb55,#1cc0b4,#259be8,#2d89f5,#21a3e4,#24c2ae,#66cd6d,#69cd6b,#2fc5a3,#0bb3d2,#1ea7e1,#16afda,#06bcc0,#27c2ab,#28c2ab,#16bfb7,#09bcbe,#12beb9,#24c1ae,#25c2ad,#0dbdbc,#06b5cf,#12b1d6,#01b9c7,#31c6a1,#61cd71,#69cd6b)"></i><i style="background:linear-gradient(90deg,#99c946,#59cc78,#0abdbd,#1da8e0,#20a4e3,#0fb2d5,#0fbebb,#22c1af,#1bc0b4,#18bfb6,#2cc4a7,#47cb87,#61cd71,#43ca8a,#0abdbd,#1fa6e2,#249ee6,#08b4d0,#48cb86,#b6c532,#bcc42f,#48cb86,#1babde,#307ffb,#2e86f8,#03b7cc,#87cb54,#e7bb2e,#bdc32f,#27c2ac,#2c90f0,#3d70ff,#2994ed,#30c5a2,#cdc028,#f3ba38,#98c946,#01b8c8,#3080fb,#426afe,#2a93ee,#29c3a9,#b2c635,#dbbd29,#80cc59,#02b7cb,#2f81fa,#416bfe,#2b91ef,#21c1b0,#9ac945,#bbc430,#51cc7f,#1aacdd,#327bfc,#347afd,#1ca9df,#48cb86,#b5c533,#9ac946,#28c3aa,#249de6,#2e87f7,#239fe5,#24c2ae,#75cc61,#81cc58,#36c898,#09b4d1,#21a4e3,#1aabdd,#07bcbf,#2fc5a3,#32c69e,#24c1ae,#0bbdbd,#0abdbe,#1ac0b4,#23c1af,#15bfb7,#01b9c8,#08b5d0,#02bac5,#2ec4a4,#56cc7b,#61cd71)"></i><i style="background:linear-gradient(90deg,#85cb55,#54cc7c,#14bfb8,#17aeda,#1baade,#08b4d0,#0abdbe,#11beb9,#05bbc1,#06bcc0,#29c3aa,#53cc7e,#7ccc5c,#5ccc75,#1abfb5,#1fa5e2,#2797eb,#19addc,#39c994,#b4c534,#cac129,#5fcd73,#14b0d8,#307ffb,#307ffb,#12b1d6,#7acc5e,#ecba33,#d4bf27,#36c799,#2698ea,#3a73fe,#2b91ef,#28c2ab,#c3c22b,#f5ba3a,#acc738,#0fbebb,#2d89f5,#3f6efe,#2c8ff0,#1bc0b4,#a0c841,#d7be28,#8ecb4f,#05bbc1,#2d88f6,#416cfe,#2d8af4,#09bcbe,#86cb54,#bdc42f,#65cd6e,#0bb4d2,#2f82fa,#3876fe,#23a1e5,#38c896,#b2c635,#b0c636,#37c897,#1fa5e2,#2e86f7,#2798ea,#13beb9,#76cc60,#9cc944,#4dcb82,#01b8c9,#22a2e4,#1fa5e2,#01bac5,#32c69e,#3dca90,#30c5a2,#12beb9,#03bbc2,#0bbdbd,#1bc0b4,#1abfb5,#05bbc1,#03b7cc,#01b9c6,#26c2ad,#46cb88,#5acc77)"></i><i style="background:linear-gradient(90deg,#6ecd67,#4fcc80,#1ec0b2,#09b4d1,#11b1d6,#01b8c9,#0bbdbd,#05bbc1,#04b6cd,#05b6ce,#1bc0b4,#50cc80,#8ccb50,#74cc62,#28c2ab,#1fa5e2,#2c8ef1,#23a0e5,#29c3aa,#a3c83f,#d2bf27,#7bcc5d,#04b6cd,#2f82f9,#3677fe,#1ea7e1,#5dcc75,#e9bb2f,#e4bb2c,#50cc7f,#20a4e3,#3578fd,#2d8bf4,#0dbdbb,#a8c73b,#f0ba36,#bdc32e,#2ac3a8,#2796eb,#3876fe,#2d8df2,#07bcc0,#86cb55,#cec028,#98ca47,#1bc0b4,#2b92ef,#3e70ff,#2e85f8,#02b7cb,#6ecd67,#bac430,#7bcc5d,#03bbc3,#2d8bf4,#3975fe,#2797eb,#29c3aa,#a2c83f,#c0c32d,#56cc7b,#13b0d7,#2d89f5,#2c8ff1,#01b8ca,#66cd6d,#aec637,#72cd63,#11beb9,#21a3e4,#249ee6,#09b4d1,#30c5a2,#4bcb84,#3bc992,#1ec0b2,#01b9c6,#01b9c7,#0bbdbd,#17bfb6,#0bbdbd,#01b9c7,#01b9c8,#19bfb5,#38c896,#50cc7f)"></i><i style="background:linear-gradient(90deg,#61cd71,#3bc992,#0fbeba,#06b5ce,#03b7cb,#08bcbf,#0abdbd,#03b7cc,#16afd9,#10b2d5,#1ec0b2,#5ccc76,#8ecb4e,#5ecd74,#05bbc1,#2797eb,#2e86f7,#21a4e3,#34c79b,#b5c533,#cac129,#54cc7c,#1caadf,#3677fe,#327cfc,#0eb2d4,#83cc57,#efba35,#d0c028,#33c69d,#2699e9,#3479fd,#2797eb,#2cc4a7,#b9c431,#e3bc2c,#91ca4c,#08bcbf,#2b91ef,#3080fa,#249fe5,#2cc4a6,#9dc943,#c0c32d,#6acd6a,#01b7ca,#2d8af4,#3678fe,#2797ea,#1fc0b2,#8ccb50,#b3c534,#5acc78,#0db3d3,#2e85f8,#327bfc,#21a3e3,#38c896,#b4c534,#bbc430,#44cb8a,#1baade,#2e86f7,#2a92ee,#07bcc0,#7ecc5b,#bcc42f,#73cd63,#07bcbf,#249de7,#269ae8,#06b5cf,#37c897,#5ecd74,#43ca8b,#1ac0b5,#06b5cf,#09b4d1,#02bac5,#12beb9,#10beba,#03bbc2,#02bac3,#1bc0b4,#35c79a,#43ca8b)"></i><i style="background:linear-gradient(90deg,#49cb85,#26c2ac,#01b9c7,#03b7cc,#05bbc1,#0dbdbb,#01b8c8,#18addb,#1da9e0,#04b6cd,#35c79b,#76cc60,#71cd64,#28c3aa,#23a1e4,#3080fb,#2d8cf3,#01b8c8,#79cc5e,#ccc028,#92ca4b,#09bcbe,#2e87f7,#406cfe,#2994ed,#31c6a0,#c9c129,#e6bb2d,#77cc5f,#0cb3d3,#2e84f8,#2e85f8,#0db3d3,#65cd6e,#ccc028,#b2c635,#35c79a,#1fa6e2,#2d88f6,#2995ec,#02bac5,#65cd6e,#b2c635,#8dcb4f,#29c3a9,#22a1e4,#2e84f8,#2b90f0,#02b7cb,#5dcc75,#aec637,#88cb53,#22c1b0,#259be8,#307ffb,#2b92ee,#08bcbe,#81cc58,#c7c12a,#8ccb50,#13beb8,#2895ec,#2e84f9,#20a4e3,#37c897,#b3c534,#bbc42f,#47cb87,#16afd9,#2b92ee,#249fe5,#12beb9,#5ccc75,#73cd62,#3bc993,#02bac4,#18aedb,#13b0d7,#02bac4,#1abfb5,#19bfb5,#0abdbd,#09bcbe,#20c1b1,#32c69f,#33c69e)"></i><i style="background:linear-gradient(90deg,#2fc5a2,#04bbc2,#03b6cc,#02bac5,#0dbdbc,#02bac4,#15afd8,#20a5e2,#19addc,#1abfb5,#58cc79,#77cc60,#39c895,#19addb,#2f82fa,#347afd,#21a3e3,#3ac994,#b7c532,#b6c532,#36c899,#259ce7,#406cfe,#347afd,#0bb3d2,#7dcc5c,#ddbd29,#aec637,#26c2ac,#2698ea,#2f82f9,#23a0e5,#2dc4a5,#9ac945,#b2c635,#56cc7b,#04b6cd,#2995ec,#2b91ef,#16afda,#36c898,#8ccb50,#93ca4b,#40ca8d,#09b4d1,#2896eb,#2a93ed,#13b0d8,#39c995,#96ca49,#9bc944,#3fca8e,#13b0d7,#2d8df2,#2d8df2,#13b0d7,#48cb86,#b6c533,#b3c534,#41ca8c,#1aabdd,#2e86f7,#2c8ef1,#01b8c8,#77cc60,#cdc028,#9dc943,#22c1b0,#259ce7,#2d8df2,#1babde,#36c899,#89cb52,#78cc5f,#2ec4a5,#11b1d6,#1fa6e1,#13b0d7,#0cbdbc,#28c2ab,#23c1af,#0ebdbb,#09bcbe,#1abfb5,#28c2ab,#1fc0b2)"></i><i style="background:linear-gradient(90deg,#29c3aa,#04bbc1,#01b9c8,#09bdbe,#19bfb5,#05bbc1,#19addc,#249de6,#21a3e4,#03bbc3,#4ecc81,#86cb55,#50cc80,#07b5cf,#2e85f8,#3e6fff,#2b92ee,#20c1b1,#9ac945,#bcc42f,#4ecc81,#1da9e0,#3b73fe,#3d70ff,#20a4e3,#47cb87,#c3c22b,#b7c532,#39c895,#1ea7e1,#2d8af5,#2699e9,#09bdbe,#66cd6d,#9ac945,#62cd71,#0fbeba,#21a3e3,#2798ea,#1caadf,#22c1af,#60cd72,#7fcc5a,#4ecc82,#0cbdbc,#1ea7e1,#249ee6,#14b0d8,#2fc5a3,#7bcc5d,#97ca48,#55cc7b,#02bac3,#259be7,#2b90f0,#1ca9df,#31c6a0,#9cc943,#bdc32e,#6bcd69,#01b9c7,#2b91ef,#2e87f7,#1caadf,#41ca8c,#bdc32e,#bfc32e,#43ca8b,#1baade,#2d8af4,#269ae9,#16bfb7,#75cc61,#96ca48,#48cb86,#01b8c8,#20a5e2,#1da8e0,#01b8c8,#25c2ad,#2ac3a9,#17bfb6,#04bbc1,#07bcbf,#19bfb6,#1abfb5)"></i><i style="background:linear-gradient(90deg,#1ec0b2,#02bbc3,#01b9c6,#14beb8,#28c2ab,#19bfb5,#12b1d6,#269ae8,#2796eb,#14b0d8,#38c896,#90ca4d,#83cc57,#25c2ae,#2797eb,#406dfe,#337bfc,#13b0d7,#5ecc74,#b9c431,#80cc59,#03bbc3,#2e87f7,#416cfe,#2c8ef2,#13beb8,#8acb52,#b6c533,#62cd70,#01b9c7,#269ae9,#2896eb,#11b1d6,#35c79a,#74cd62,#6ccd68,#32c69f,#07b5cf,#1fa5e2,#1caadf,#03bbc3,#38c895,#62cd71,#5acc78,#30c5a1,#01b8c9,#19acdc,#13b1d7,#19bfb6,#4fcc80,#82cc57,#6bcd69,#2cc4a7,#18addb,#2798ea,#23a0e5,#08bcbf,#65cd6e,#b6c532,#9dc943,#32c69e,#1fa6e2,#2e87f7,#2994ed,#09bcbe,#85cb55,#ccc028,#8ecb4f,#0fbebb,#2995ec,#2d89f5,#1aacdd,#3dc990,#97ca48,#7ccc5c,#28c3ab,#1aacdd,#23a0e5,#16aeda,#10beba,#2cc4a7,#24c1ae,#08bcbf,#01b9c6,#06bcc0,#11beb9)"></i><i style="background:linear-gradient(90deg,#0ebdbb,#01b9c8,#02bac5,#20c1b1,#31c6a0,#26c2ad,#0db3d3,#2698ea,#2a92ee,#18addb,#38c896,#9cc944,#9ac946,#30c5a1,#259ce7,#3f6eff,#3776fe,#1babde,#4dcc82,#b1c635,#87cb54,#10beba,#2c8ef1,#3e70ff,#2d8af5,#01b9c7,#63cd6f,#9bc944,#5fcd73,#0bbdbd,#20a4e3,#249ee6,#10b2d5,#2cc4a6,#57cc7a,#5ccc76,#35c79a,#08bcbe,#0cb3d3,#0bb4d2,#09bcbe,#31c6a0,#48cb86,#4bcb84,#35c79b,#17bfb7,#01b8c9,#01b8c9,#1bc0b4,#3dc990,#64cd6f,#5ccc76,#2fc5a3,#0ab4d2,#23a0e5,#22a2e4,#01b9c6,#4ccb83,#a1c840,#9bc944,#3bc993,#18aedb,#2d8bf4,#2c8ff0,#05b6ce,#66cd6d,#c8c129,#a7c73c,#2bc3a7,#259ce7,#2e84f9,#249fe5,#2cc4a7,#8bcb50,#90ca4d,#34c79b,#15afd9,#259ce7,#1ea7e1,#04bbc2,#2dc4a6,#2cc4a7,#11beba,#01b9c8,#01b9c7,#07bcbf)"></i><i style="background:linear-gradient(90deg,#05bbc1,#01b8ca,#04bbc1,#2bc3a8,#3bc992,#2fc5a2,#07b5cf,#2798ea,#2c90f0,#1aacdd,#39c895,#a7c73c,#abc739,#38c896,#23a1e4,#3c71ff,#3876fe,#1ca9df,#46cb88,#acc739,#89cb52,#1bc0b4,#2895ec,#3777fe,#2d8af4,#06b5ce,#48cb87,#7ccc5c,#52cc7e,#14beb8,#19addc,#1ea7e1,#08b4d1,#25c2ad,#3fca8e,#45cb88,#34c79b,#1fc1b1,#09bcbe,#09bdbe,#1cc0b3,#2dc4a5,#36c799,#38c896,#33c69d,#29c3aa,#19bfb5,#13beb8,#22c1b0,#34c79c,#46cb88,#45cb89,#2dc4a5,#01b8ca,#1da8e0,#1fa6e2,#03b7cb,#38c896,#81cc58,#88cb53,#3bc993,#12b1d7,#2c8ff1,#2d8df2,#12b1d6,#51cc7f,#c1c32c,#b3c534,#35c799,#22a2e4,#2f81fa,#2895ec,#15bfb8,#7dcc5c,#9ac945,#41ca8c,#0db3d3,#269ae8,#22a1e4,#01b8c8,#2ec4a4,#33c69d,#20c1b1,#02bac5,#01b8c9,#04bbc2)"></i><i style="background:linear-gradient(90deg,#02bac4,#01b8ca,#0ebdbb,#35c79a,#4fcc81,#36c898,#04b6cd,#2797eb,#2c8ef1,#19addc,#3fca8e,#b4c534,#b3c534,#39c895,#22a1e4,#3a73fe,#337bfc,#19addc,#4ccb83,#a9c73a,#82cc58,#1abfb5,#2699e9,#307ffb,#2b91ef,#05b6ce,#3bc992,#5fcd73,#3fca8e,#11beb9,#10b2d5,#15afd8,#01b8c8,#22c1b0,#32c69f,#33c69d,#2dc4a5,#27c2ab,#27c2ab,#2bc3a8,#2dc4a6,#2ac3a8,#27c2ac,#26c2ad,#2ac3a9,#2ec4a5,#2ec5a4,#2cc4a7,#2ac3a9,#2dc4a5,#32c69e,#33c69d,#27c2ab,#02bac5,#16afda,#1aabdd,#03b7cc,#2fc5a3,#5fcd73,#67cd6d,#31c69f,#16afd9,#2c8ff0,#2c8ef1,#13b0d7,#49cb85,#b8c431,#aec637,#35c79a,#22a1e4,#317efb,#2b90ef,#09bcbe,#78cc5f,#a1c840,#4acb84,#08b4d1,#2699e9,#249de6,#02b7cb,#30c5a1,#3bc993,#2bc3a8,#06bcc0,#01b8c9,#02bbc3)"></i><i style="background:linear-gradient(90deg,#01b9c7,#01b9c6,#24c2ae,#4acb85,#61cd72,#34c79b,#11b1d6,#2b92ee,#2a93ee,#04b6cc,#64cd6e,#c5c22a,#a2c840,#26c2ac,#2896ec,#3a74fe,#2d8af4,#02bac5,#6dcd68,#a6c83d,#5ecd74,#01b9c8,#2994ed,#2d88f6,#249fe5,#08bcbf,#3cc992,#46cb87,#2fc5a3,#04bbc1,#07b5d0,#03b7cc,#0bbdbd,#21c1b0,#24c1ae,#1ec0b2,#1fc0b2,#2bc3a8,#36c899,#3cc991,#34c79c,#20c1b1,#04bbc1,#02bac3,#19bfb5,#31c6a0,#3cc992,#39c895,#2fc5a3,#24c1af,#20c1b1,#22c1af,#1dc0b3,#06bcc0,#06b5cf,#0cb3d3,#02bac5,#2dc4a6,#45cb89,#3fca8e,#13beb9,#20a5e2,#2d8df2,#2895ec,#01b8ca,#5dcc75,#b1c635,#88cb53,#18bfb6,#2994ed,#347afd,#2798ea,#25c2ae,#90ca4d,#a1c840,#3cc992,#17aedb,#2994ed,#249ee6,#02bac4,#39c895,#45cb88,#2ec4a4,#05bbc1,#02b7cb,#02bac5)"></i><i style="background:linear-gradient(90deg,#02b7cb,#02bbc3,#31c5a1,#63cd70,#6bcd69,#30c5a2,#1aabdd,#2c8ff1,#269ae9,#12beb9,#8bcb51,#cbc029,#85cb56,#03bbc2,#2d8cf3,#3579fd,#269ae8,#25c2ad,#83cc57,#93ca4b,#3cc992,#13b1d7,#2a92ee,#2b92ee,#1babde,#19bfb5,#37c898,#34c79b,#1fc0b2,#02bac3,#01b9c6,#0abdbd,#1abfb5,#15bfb7,#05bbc1,#01b9c6,#0ebdbb,#31c5a1,#4bcb83,#53cc7d,#35c79a,#07bcbf,#13b0d7,#13b1d7,#0abdbe,#38c896,#59cc79,#4dcb82,#2ec4a4,#0bbdbc,#02bac4,#0bbdbd,#1cc0b4,#1ac0b5,#08bcbf,#01b9c6,#07bcbf,#26c2ad,#32c69e,#2bc3a8,#02b7cb,#249ee6,#2c8ef1,#249ee6,#0dbdbc,#68cd6c,#9cc944,#55cc7b,#09b4d1,#2e86f7,#337bfd,#21a3e4,#37c898,#a5c83d,#9ac946,#2fc5a2,#1fa6e2,#2c8ff0,#23a1e4,#0ebdbb,#44cb8a,#4bcb83,#2cc4a6,#01b9c6,#08b4d0,#01b8c8)"></i><i style="background:linear-gradient(90deg,#0ab4d1,#02bac4,#35c79a,#72cd63,#74cc62,#2fc5a3,#1da9e0,#2d8df2,#259de7,#21c1b0,#99c946,#cbc029,#76cc60,#01b8ca,#2d89f5,#317efb,#22a2e4,#2dc4a5,#7fcc5a,#7ecc5a,#31c6a0,#18aedb,#2896ec,#2699e9,#15afd9,#14beb8,#2cc4a7,#25c2ae,#0cbdbc,#04bbc1,#10beba,#23c1af,#21c1b0,#05bbc1,#0bb3d2,#12b1d7,#01bac5,#33c69d,#66cd6d,#70cd65,#3ac994,#01b8ca,#21a3e3,#21a4e3,#01b9c6,#41ca8c,#7dcc5c,#69cd6a,#30c5a2,#02b7ca,#13b0d7,#01b8ca,#20c1b1,#2ec4a4,#28c2ab,#11beb9,#07bcbf,#13beb8,#22c1b0,#15bfb7,#0bb3d2,#249ee6,#2a93ee,#21a3e4,#12beb9,#5ecc74,#80cc59,#3ac994,#1aacdd,#2f80fa,#317dfc,#1da9e0,#42ca8b,#aec637,#98c947,#2cc4a7,#21a3e4,#2d8df2,#23a1e5,#11beba,#48cb86,#4ecc81,#2cc4a7,#01b8ca,#12b1d6,#05b6ce)"></i><i style="background:linear-gradient(90deg,#14b0d8,#01b9c7,#37c897,#7bcc5d,#77cc60,#2cc4a7,#1fa5e2,#2d8bf3,#249ee6,#28c3ab,#a1c840,#c9c129,#69cd6a,#07b5d0,#2d88f6,#2f82fa,#1fa6e1,#30c5a1,#77cc60,#6bcd69,#2ac3a9,#19addc,#269ae9,#249ee6,#14b0d8,#05bbc1,#0fbeba,#04bbc2,#01b8c8,#04bbc1,#22c1b0,#2fc5a3,#23c1af,#01b7ca,#1da8e0,#21a4e3,#08b4d0,#35c79b,#82cc58,#90ca4d,#41ca8d,#0ab4d2,#2895ec,#2797eb,#04b6cd,#52cc7e,#a7c73c,#8ecb4f,#32c69e,#11b1d6,#20a4e3,#11b1d6,#25c2ae,#40ca8d,#39c995,#25c2ae,#04bbc1,#01bac5,#06bcc0,#02bbc3,#10b2d5,#23a1e5,#2798ea,#1ea7e1,#13beb8,#50cc7f,#64cd6f,#2cc4a6,#20a5e3,#317efb,#2f81fa,#17aedb,#4fcc80,#b5c533,#97ca48,#29c3a9,#22a1e4,#2d8df2,#22a1e4,#15bfb7,#4ccb83,#51cc7f,#2ac3a8,#05b6ce,#18addb,#0eb2d4)"></i><i style="background:linear-gradient(90deg,#1babde,#05b6ce,#33c69d,#7acc5d,#7fcc5a,#30c5a1,#1ea6e1,#2d88f6,#2698ea,#1bc0b4,#95ca49,#c9c129,#74cc62,#01b8c9,#2d8df2,#2f82f9,#21a3e3,#28c3ab,#66cd6d,#63cd6f,#2cc4a6,#11b1d6,#23a0e5,#22a2e4,#17aeda,#05b6ce,#06b5cf,#12b1d6,#12b1d7,#01b9c6,#27c2ac,#35c79a,#2bc3a8,#05b6ce,#259de7,#2a93ed,#1ca9e0,#2ec4a4,#92ca4c,#b3c534,#5dcc75,#06b5cf,#2d8cf3,#2e86f7,#17aedb,#52cc7e,#c7c12a,#bcc42f,#40ca8d,#17aeda,#2796eb,#20a5e2,#1bc0b4,#55cc7c,#60cd72,#34c79c,#03bbc2,#09b4d1,#06b5cf,#01b8ca,#0bb4d2,#1ea8e1,#249fe6,#1da8e0,#08bcbf,#3fca8e,#54cc7d,#29c3a9,#1fa6e2,#2f80fa,#2f81fa,#1aacdd,#48cb86,#b5c533,#a2c840,#31c69f,#1fa6e1,#2c8ef1,#249fe6,#0bbdbd,#49cb85,#57cc7a,#2fc5a2,#03b7cc,#1aabdd,#15afd9)"></i><i style="background:linear-gradient(90deg,#1da8e0,#05b6ce,#36c799,#7ecc5b,#75cc61,#26c2ad,#249fe5,#2e84f9,#2699e9,#23c1af,#9bc945,#c3c22b,#64cd6f,#07b5d0,#2d8cf3,#2e86f7,#1ea8e0,#2cc4a7,#61cd71,#58cc79,#28c2ab,#0eb2d4,#1fa6e2,#1da8e0,#14b0d8,#10b2d5,#1aacdd,#20a4e3,#1da9e0,#01b9c8,#2fc5a2,#41ca8c,#2ec4a4,#11b1d6,#2c90f0,#2e86f8,#21a4e3,#32c69e,#aec637,#cbc129,#60cd72,#15afd9,#327cfc,#3579fd,#19addc,#6acd6a,#e6bb2d,#d3bf27,#3cc991,#22a2e4,#2e84f9,#259be8,#1fc0b2,#76cc61,#88cb53,#3dc991,#01b8c8,#19addc,#16afd9,#05b6ce,#04b6cd,#14b0d8,#1da9e0,#16aeda,#0cbdbc,#39c895,#42ca8c,#19bfb5,#22a2e4,#2f81fa,#2d88f6,#0fb2d5,#57cc7a,#b7c531,#98c947,#2cc4a7,#21a4e3,#2c8ff0,#21a3e3,#1ac0b5,#56cc7b,#5fcd73,#30c5a1,#05b6ce,#1ca9df,#19addc)"></i><i style="background:linear-gradient(90deg,#1ea7e1,#01b9c8,#3fca8e,#7fcc5a,#5ccc76,#03bbc3,#2b92ef,#307ffb,#249fe6,#30c5a1,#a6c83d,#b4c534,#44ca8a,#1aacdd,#2e87f7,#2d8bf3,#15afd9,#33c69e,#5fcd73,#49cb85,#1ec0b2,#0cb3d3,#19addc,#13b0d7,#0bb4d2,#15afd9,#21a3e4,#249ee6,#1da9e0,#09bdbe,#3fca8e,#55cc7b,#2cc4a7,#1da8e0,#2f81fa,#317efb,#1da8e0,#4ccb83,#d3bf27,#d4bf28,#45cb89,#259de7,#4465fd,#3c71ff,#09b4d1,#a2c83f,#febe3c,#d3bf27,#26c2ac,#2d8af4,#3f6dfe,#2797eb,#30c5a2,#a6c83d,#a7c73c,#3bc992,#11b1d6,#249ee6,#1fa6e2,#03b7cc,#06bcc0,#01b9c7,#0bb3d2,#05b6ce,#18bfb6,#36c799,#35c79a,#03bbc2,#259ce7,#2e84f8,#2a93ee,#02bac3,#70cd65,#b7c532,#7ecc5b,#13beb9,#259ce7,#2b91ef,#1babde,#2ec5a3,#6ccd68,#65cd6e,#2dc4a6,#0cb3d3,#1fa6e1,#19acdc)"></i><i style="background:linear-gradient(90deg,#22a1e4,#0cb3d3,#34c79b,#77cc60,#64cd6f,#0dbdbc,#2a93ed,#3776fe,#2c90f0,#0ebdbb,#82cc58,#aec637,#55cc7c,#0ab4d2,#2d8df2,#2d88f6,#1ea7e1,#21c1b0,#48cb86,#43ca8a,#26c2ac,#01b9c7,#06b5cf,#01b8c9,#01b9c6,#0fb2d5,#21a3e3,#2798ea,#21a3e4,#07bcbf,#53cc7d,#83cc57,#47cb87,#11b1d6,#307ffb,#3f6efe,#2699e9,#38c896,#d9be28,#f0ba36,#6ecd67,#21a4e3,#475cfa,#475bf9,#20a4e3,#88cb53,#fec636,#f5ba3b,#39c895,#2d8af5,#475af9,#307ffb,#15bfb8,#aac739,#cdc028,#5fcd73,#08b5d0,#2896eb,#269ae8,#0eb3d4,#17bfb7,#1cc0b4,#05bbc1,#01b9c7,#11beb9,#30c5a1,#36c899,#16bfb7,#1ea7e1,#2d8cf3,#2b91ef,#06b5cf,#58cc79,#b3c534,#93ca4b,#2ac3a9,#21a3e3,#2c90f0,#20a4e3,#22c1b0,#65cd6e,#73cd63,#37c897,#02b7cb,#1ea7e1,#1ca9e0)"></i><i style="background:linear-gradient(90deg,#269ae8,#1da8e0,#21c1b0,#67cd6d,#75cc61,#2bc3a8,#249ee6,#3a74fe,#327cfc,#18addb,#48cb86,#9cc944,#6ecd66,#0dbdbc,#269ae9,#2d89f5,#259ce7,#01b9c6,#33c69d,#3ac994,#29c3a9,#0abdbe,#06bbc1,#19bfb5,#22c1b0,#02bac3,#1da9e0,#2896ec,#269ae8,#01b8c9,#59cc78,#b2c535,#8fcb4e,#16bfb7,#2d89f5,#4660fc,#307ffb,#10beba,#c7c129,#fec239,#b9c430,#05b6ce,#4561fc,#4747eb,#2e86f7,#48cb86,#fec437,#fcd030,#87cb54,#259de7,#4853f4,#465efb,#18addb,#8ccb50,#e9bb2f,#a6c73c,#14beb8,#2796eb,#2d8cf3,#1ea7e1,#12beb9,#2dc4a5,#24c1ae,#09bcbe,#0abdbd,#28c3ab,#35c799,#2cc4a7,#08b4d0,#2698ea,#2c90f0,#1babde,#36c799,#a1c840,#acc738,#45cb89,#13b0d7,#2b92ee,#2699e9,#01b9c6,#4bcb84,#78cc5f,#4ccb83,#0dbdbb,#1aabdd,#1fa6e2)"></i><i style="background:linear-gradient(90deg,#2797ea,#1da8e0,#24c1af,#6acd6a,#74cc62,#28c3ab,#259be7,#3c71ff,#337afd,#1aabdd,#40ca8d,#90ca4d,#64cd6e,#0abdbd,#259ce7,#2d8cf3,#249ee6,#01b9c7,#2fc5a3,#33c69e,#24c1af,#0fbeba,#1dc0b3,#31c69f,#32c69e,#15bfb7,#1aabdd,#2895ec,#259ce7,#09bdbe,#82cc58,#d7be28,#a6c73c,#11beb9,#307ffb,#4756f6,#327cfc,#20c1b1,#e0bc2b,#fdcc32,#b9c430,#14b0d8,#4755f6,#473fe3,#2d89f5,#65cd6e,#fad62d,#f6de29,#8ecb4e,#2797ea,#4848ec,#4757f7,#16afd9,#aac73a,#febe3c,#c3c22b,#17bfb6,#2c8ef2,#317efb,#249fe6,#15bfb7,#3dc991,#32c69e,#1ac0b5,#0abdbd,#1fc0b2,#30c5a1,#2bc3a8,#01b8ca,#239fe5,#2896ec,#19acdc,#34c79b,#9bc944,#a9c73a,#45cb89,#12b1d7,#2b91ef,#2798ea,#01b8c8,#4acb85,#7acc5e,#4ecc81,#0dbdbb,#1caadf,#21a3e3)"></i><i style="background:linear-gradient(90deg,#269be8,#0db3d4,#39c895,#82cc57,#65cd6e,#07bcbf,#2c8ff1,#3d71ff,#2d89f5,#01b9c7,#61cd72,#91ca4d,#49cb85,#05b6ce,#2797eb,#2a92ee,#1caadf,#11beb9,#31c6a0,#2dc4a5,#1ac0b4,#19bfb5,#30c5a1,#40ca8d,#3ac994,#0bbdbd,#20a4e3,#2895ec,#1babde,#3bc992,#cbc029,#eabb30,#79cc5e,#1caadf,#465efb,#4852f4,#2896eb,#66cd6d,#fec835,#fec934,#62cd70,#2d8bf4,#463cde,#484cef,#17aedb,#dcbd29,#f7f51b,#fad52d,#3eca8f,#3974fe,#463cde,#416bfe,#29c3aa,#f7ba3c,#fbd22f,#afc636,#0db3d3,#3875fe,#3b72ff,#21a3e3,#2ec4a4,#5ccc75,#44cb8a,#1dc0b3,#04bbc2,#11beb9,#28c2ab,#21c1b0,#05b6ce,#22a2e4,#249fe6,#05b6ce,#45cb89,#a0c841,#91ca4c,#2fc5a2,#1fa6e1,#2c8ef1,#249fe5,#16bfb7,#62cd70,#7dcc5b,#3eca8f,#01b8c9,#20a4e3,#21a3e3)"></i><i style="background:linear-gradient(90deg,#249ee6,#01b8c8,#4fcc81,#96ca48,#68cd6b,#03bbc2,#2c8ef1,#3777fe,#2994ed,#12beb9,#75cc61,#96ca48,#47cb87,#05b6ce,#259be8,#259be8,#12b1d6,#1ec0b2,#2fc5a3,#26c2ad,#14bfb8,#24c1ae,#3bc992,#58cc79,#40ca8d,#03bbc2,#249ee6,#2994ed,#0eb3d4,#66cd6d,#edba33,#f0ba36,#56cc7b,#2895ec,#484bef,#4851f3,#20a4e3,#a3c83f,#fad62d,#fec438,#3ac994,#3975fe,#463bdd,#4757f7,#09bcbe,#fec239,#f9fb15,#fbd32e,#2ec4a4,#4465fd,#4539d9,#3678fd,#46cb88,#fcd030,#f5e227,#b2c534,#19acdc,#4466fd,#4368fe,#21a3e3,#36c898,#79cc5e,#58cc7a,#24c1ae,#01b9c7,#02bbc3,#1cc0b3,#1dc0b3,#01b8ca,#1da8e0,#20a4e3,#01b8ca,#46cb88,#98c947,#84cc56,#29c3aa,#21a3e3,#2c8ef2,#22a1e4,#20c1b1,#6dcd68,#82cc58,#3dc991,#02b7cb,#21a3e3,#20a5e3)"></i><i style="background:linear-gradient(90deg,#2699e9,#12b1d6,#3cc991,#a0c841,#9cc943,#33c79d,#21a3e3,#307ffb,#2d8af4,#06b5ce,#57cc7a,#9ec942,#71cd64,#21c1b0,#1aabdd,#21a3e3,#10b2d5,#15bfb7,#29c3aa,#1bc0b4,#08bcbf,#1ec0b2,#41ca8d,#74cc62,#64cd6f,#1fc0b2,#23a0e5,#2d88f6,#22a2e4,#3dc990,#e6bb2d,#fec03b,#92ca4b,#1fa6e2,#484cef,#463bdd,#2e86f7,#5dcc75,#fbd22f,#f7dd2a,#93ca4b,#2896ec,#463de0,#4740e3,#21a3e3,#d5be28,#f9fb15,#f9fb15,#9ac945,#2d8cf3,#4639d9,#4853f5,#01b9c6,#f8ba3d,#f7f41c,#febf3b,#26c2ac,#3677fe,#4757f7,#2e86f7,#12beb9,#73cd63,#7ecc5b,#39c895,#06bcc0,#01b8c8,#0ebdbb,#22c1b0,#0cbdbc,#13b0d7,#20a5e3,#15afd9,#2bc3a7,#7bcc5d,#96ca49,#43ca8a,#10b2d5,#2b91ef,#2896ec,#02b7ca,#4fcc81,#8ccb50,#60cd72,#1bc0b4,#1aacdd,#20a4e3)"></i><i style="background:linear-gradient(90deg,#2797ea,#18aedb,#37c897,#a4c83e,#b2c635,#46cb88,#19addc,#2e85f8,#2d89f5,#10b2d5,#4bcb84,#9ec942,#82cc58,#2fc5a2,#0cb3d3,#1babde,#06b5cf,#19bfb5,#25c2ae,#0cbdbc,#01b9c6,#1bc0b4,#49cb86,#8acb52,#77cc60,#22c1b0,#269ae9,#327cfc,#2798ea,#34c79b,#e5bb2d,#fec537,#a0c841,#1ea7e1,#4848ec,#4536d5,#337bfd,#4acb84,#fbd22f,#f6df29,#b8c531,#22a2e4,#4740e3,#463ee1,#2994ed,#b0c636,#f9fb15,#f9fb15,#d6be28,#249fe5,#463bdd,#4740e4,#1ea8e1,#dabd28,#f8f818,#f9d82c,#47cb87,#2e83f9,#484ff2,#3b72ff,#02b7cb,#72cd64,#9fc941,#58cc7a,#17bfb6,#02b7ca,#02bbc3,#1bc0b4,#15bfb7,#06b5cf,#1da8e0,#19acdc,#1ac0b5,#64cd6f,#94ca4a,#55cc7c,#01b8ca,#2895ec,#2b91ef,#10b2d5,#41ca8c,#90ca4d,#77cc60,#2dc4a6,#12b1d6,#1fa5e2)"></i><i style="background:linear-gradient(90deg,#2896ec,#17aeda,#3bc993,#abc739,#b3c534,#42ca8b,#1babde,#2e84f9,#2d8af5,#0cb3d3,#4fcc80,#9ec942,#7dcc5b,#2fc5a3,#06b5cf,#13b0d8,#01b9c6,#21c1b0,#20c1b1,#02bac3,#01b9c8,#21c1b1,#5bcc77,#9bc945,#72cd63,#08bcbe,#2d8cf3,#3d70ff,#2798ea,#41ca8c,#f5ba3a,#fec736,#8acb52,#259ce7,#473fe2,#4537d6,#2e85f8,#67cd6c,#f7db2b,#f5e228,#acc738,#249de6,#463de0,#463cdf,#2a93ed,#aec637,#f9fb15,#f9fb15,#dcbd29,#23a0e5,#4536d4,#4536d2,#249de6,#ccc028,#f9fa16,#f6e028,#54cc7c,#2f82fa,#4747eb,#4269fe,#05b6cd,#83cc57,#bdc42f,#72cd63,#20c1b1,#0ab4d2,#02b7cb,#0dbdbb,#12beb9,#03b7cc,#1aabdd,#18aedb,#17bfb6,#5dcc75,#8fcb4e,#54cc7d,#01b8c9,#2895ec,#2b90ef,#11b1d6,#42ca8b,#96ca49,#7fcc5a,#2fc5a3,#12b1d6,#20a4e3)"></i><i style="background:linear-gradient(90deg,#2b90f0,#1fa6e2,#2fc5a3,#9ec942,#bac430,#55cc7c,#13b0d7,#2e85f8,#2f82f9,#1baade,#39c995,#8fcb4e,#80cc59,#35c79a,#01b9c6,#07b5d0,#07bcbf,#25c2ad,#1dc0b3,#01b8ca,#05b6ce,#1ac0b4,#5fcd73,#abc739,#86cb54,#0fbebb,#2d87f6,#4464fd,#2d8cf3,#34c79b,#f5ba3a,#fcd030,#b6c532,#1baade,#4848ec,#463bdd,#3678fe,#44cb89,#fbd22f,#f5e526,#debd29,#10b2d5,#484cf0,#4639da,#3b73fe,#4bcb84,#f5e825,#f9fb15,#fec835,#01b9c7,#4743e7,#422ebf,#406dfe,#5acc77,#f5e626,#f6f31d,#acc738,#259be8,#4849ed,#4853f5,#21a3e3,#5fcd73,#c7c12a,#9ac945,#31c6a1,#09b4d1,#0eb2d4,#01bac6,#0dbdbb,#01b9c7,#16aeda,#19acdc,#04bbc1,#48cb86,#8bcb51,#68cd6c,#0fbeba,#259be8,#2d8df2,#1da9e0,#32c69e,#8ccb50,#8dcb4f,#39c895,#07b5d0,#21a3e3)"></i><i style="background:linear-gradient(90deg,#2c8ef1,#1ca9df,#37c897,#abc739,#b5c533,#41ca8c,#1ea8e0,#317dfc,#2f82fa,#18aedb,#3eca8f,#8bcb51,#6fcd66,#2ec5a4,#01b9c8,#01b8ca,#18bfb6,#2bc3a8,#17bfb6,#02b7cb,#04b6cd,#28c3aa,#7acc5d,#b7c532,#72cd63,#06b5cf,#3777fe,#4661fc,#2798ea,#5dcc75,#fec934,#f9d72c,#a1c840,#23a0e5,#4744e8,#4740e3,#2d8bf4,#6ecd66,#f7dc2a,#f5e725,#cac129,#1aacdd,#4849ed,#4435d1,#3c71ff,#3eca8f,#f7dd2a,#f9fb15,#fec438,#01b9c8,#473fe3,#3f29af,#465dfa,#3dca90,#f6df29,#f7f31d,#b2c535,#2699e9,#4741e5,#484aed,#249ee6,#60cd73,#cfc028,#a1c840,#2ec4a4,#16afd9,#1da8e0,#07b5cf,#05bbc1,#01b9c6,#12b1d7,#15afd9,#0abdbe,#4bcb84,#88cb53,#61cd72,#08bcbf,#2699ea,#2d8cf3,#1caadf,#34c79b,#8dcb4f,#86cb55,#33c69d,#12b1d6,#23a0e5)"></i><i style="background:linear-gradient(90deg,#2a93ed,#02b7cb,#68cd6c,#c5c22a,#9dc943,#22c1b0,#2994ed,#3974fe,#2d8df2,#02bac5,#5ecc74,#88cb53,#4fcc80,#17bfb6,#04b6cd,#02bbc3,#27c2ac,#2cc4a7,#0abdbd,#04b6cd,#03bbc2,#3fca8e,#a2c840,#aec637,#3ac994,#259be8,#4561fc,#406cfe,#06b5cf,#cac129,#f7dc2a,#feca34,#43ca8a,#317efb,#4745e9,#4851f4,#13b1d7,#d1bf27,#f5e825,#f9d82c,#70cd65,#2b90f0,#463cde,#4538d7,#2d88f6,#67cd6c,#f5e128,#f8f719,#e1bc2b,#1ea7e1,#4331c6,#3e26a8,#4369fe,#5ecc74,#f5e725,#f5eb23,#79cc5e,#2f81fa,#4332c9,#4849ed,#1da8e0,#82cc58,#d7be28,#89cb52,#0ebdbb,#23a1e4,#249ee6,#11b1d6,#02bac3,#01b9c6,#0cb3d3,#08b4d1,#20c1b1,#5acc77,#81cc58,#45cb89,#0ab4d1,#2c90f0,#2c8ef1,#0eb2d4,#47cb87,#92ca4c,#69cd6b,#18bfb6,#1fa6e2,#259be7)"></i><i style="background:linear-gradient(90deg,#2895ec,#07bcc0,#85cb56,#d2bf27,#98c947,#11beb9,#2c8ef2,#3974fe,#2a93ee,#0ebebb,#67cd6c,#81cc58,#41ca8c,#0cbdbc,#02b7cb,#0dbdbb,#2dc4a5,#2bc3a8,#02bbc3,#06b5cf,#0abdbe,#51cc7f,#b2c535,#a8c73b,#2cc4a7,#2d8cf3,#4757f7,#3e70ff,#09bcbe,#e8bb2f,#f6df29,#fec338,#31c6a0,#3d71ff,#4744e8,#475af9,#01b7ca,#dcbd29,#f5e725,#fdcd31,#5ecd74,#2b90ef,#4741e5,#463adb,#2f81fa,#42ca8b,#fdcd31,#f7f31d,#efba35,#0bb3d2,#463adb,#3e26a8,#4854f5,#34c79c,#f7db2b,#f5ea24,#9dc943,#2d89f5,#422fc1,#463adc,#259be8,#69cd6a,#d2bf27,#88cb53,#07bcbf,#269ae8,#2896ec,#18aedb,#02bac5,#02bbc3,#05b6ce,#04b6cd,#22c1b0,#57cc7a,#7acc5e,#3eca8f,#10b2d5,#2d8df2,#2d8cf3,#10b2d5,#44cb89,#8bcb51,#5dcc75,#09bcbe,#23a1e5,#2699e9)"></i><i style="background:linear-gradient(90deg,#2a93ee,#05bbc1,#8acb52,#dbbd29,#a5c83d,#1bc0b4,#2c90f0,#3975fe,#2a92ee,#0dbdbb,#65cd6e,#7dcc5b,#40ca8d,#0fbebb,#01b9c7,#17bfb6,#30c5a2,#29c3a9,#02bac4,#10b2d5,#03bbc3,#50cc80,#bac430,#b1c635,#2dc4a5,#2d89f5,#4850f2,#4367fd,#01bac5,#e5bb2d,#f6df29,#fec736,#34c79b,#3b73fe,#4740e4,#4755f6,#11b1d6,#c0c32d,#f8da2b,#fdcb33,#79cc5f,#22a2e4,#4854f5,#463de0,#406cfe,#0abdbe,#e4bb2c,#f5eb23,#fdcd31,#38c896,#4562fc,#3e26a8,#4434ce,#14b0d8,#fabb3d,#f5ea24,#eeba35,#1aabdd,#463adb,#412dbc,#317dfc,#37c897,#c7c12a,#a1c840,#21c1b0,#249ee6,#2b91ef,#1fa6e2,#01b9c8,#06bcc0,#02b7cb,#05b6ce,#16bfb7,#48cb86,#72cd63,#43ca8b,#08b4d1,#2d8df2,#2e87f7,#1babde,#37c897,#84cc56,#62cd70,#11beb9,#22a2e4,#2797eb)"></i><i style="background:linear-gradient(90deg,#2d8bf4,#0bb4d2,#6ecd67,#debd29,#c5c22a,#34c79c,#259be8,#3776fe,#2d8af4,#01b7ca,#51cc7f,#7acc5d,#49cb86,#1cc0b3,#03bbc2,#1cc0b4,#31c6a0,#29c3a9,#01b8c9,#1babde,#0db3d3,#39c895,#b4c533,#cbc029,#47cb87,#2797eb,#484ef1,#4853f5,#1ea7e1,#b6c532,#f6de29,#f8d92c,#67cd6d,#2d89f5,#463cde,#4745e9,#2699e9,#6dcd67,#fec239,#fdcb33,#b6c533,#06bcc0,#337bfc,#484cf0,#4757f7,#269be8,#60cd72,#fdcc32,#f5e825,#d7be28,#1aacdd,#4538d7,#3e27ab,#3f6eff,#6dcd68,#f5ed22,#f5e725,#54cc7c,#416bfe,#402bb7,#4851f3,#07b5d0,#a0c841,#c6c22a,#4ccb83,#15afd9,#2896ec,#23a0e5,#04b6cd,#08bcbf,#01b9c7,#09b4d1,#02bac4,#35c79a,#69cd6b,#57cc7a,#09bcbe,#2796eb,#2f81fa,#259de7,#24c2ae,#7acc5e,#7fcc5a,#30c5a2,#19acdc,#2699e9)"></i><i style="background:linear-gradient(90deg,#2e86f7,#1da9e0,#4ccb83,#d9be28,#ddbd29,#56cc7b,#1da8e0,#337bfd,#2f82f9,#15afd8,#3dc990,#74cc62,#51cc7f,#26c2ad,#08bcbf,#1dc0b3,#32c69f,#2bc3a8,#03b7cc,#21a3e3,#1ea7e1,#26c2ac,#a6c83d,#e0bc2b,#7fcc5a,#1ca9df,#4755f6,#4743e8,#2c8ef1,#73cd63,#f6dd29,#f5e128,#aec637,#22a1e4,#4848ec,#463ee1,#2e84f9,#34c79c,#e3bc2c,#fec338,#d5be28,#3ac993,#22a2e4,#406cfe,#475af9,#337bfc,#01b9c6,#c3c22b,#f5e228,#f9d82c,#69cd6a,#317efb,#412dbb,#4639da,#11b1d6,#febd3c,#f6ef20,#f3ba38,#19addc,#4740e3,#4539d9,#2b92ee,#5acc77,#d5be28,#98c947,#19bfb5,#22a2e4,#249fe5,#0ab4d2,#08bcbf,#02bac3,#09b4d1,#05b6cd,#27c2ac,#5acc77,#69cd6b,#2cc4a7,#20a4e3,#2e84f8,#2a92ee,#04bbc1,#6dcd68,#9ec942,#53cc7d,#01b9c7,#23a0e5)"></i><i style="background:linear-gradient(90deg,#2c8ef2,#02b7cb,#88cb53,#eeba34,#cdc028,#31c6a0,#2797eb,#3975fe,#2c8ff1,#05bbc1,#5fcd73,#7bcc5d,#41ca8c,#14bfb8,#03bbc3,#1fc0b2,#2fc5a3,#1abfb5,#15afd9,#249fe5,#17aeda,#3dc990,#cac129,#dbbd29,#47cb87,#2c8ff0,#4745e9,#4851f3,#17aedb,#d5be28,#f5e426,#fad52d,#4acb84,#307ffb,#463cdf,#4853f5,#1ea8e0,#7ecc5b,#f7ba3c,#f5ba3a,#97ca48,#1dc0b3,#259de7,#3579fd,#3f6eff,#2d8cf3,#0bbdbd,#bec32e,#f7db2a,#fad52d,#74cc62,#2d87f7,#4332c9,#4741e5,#07b5d0,#fec13a,#f6f11f,#f3ba38,#1babde,#473fe3,#463ee1,#259de7,#80cc59,#eabb30,#a2c83f,#16bfb7,#23a1e4,#23a0e5,#07b5d0,#11beba,#08bcbf,#04b6cd,#01b9c7,#2ec4a4,#5fcd73,#60cd72,#21c1b0,#23a1e4,#2d89f5,#23a0e5,#2bc3a8,#97ca47,#aec637,#4dcc82,#05b6ce,#249fe5)"></i><i style="background:linear-gradient(90deg,#2d8cf3,#06b5ce,#84cb56,#f1ba37,#d6be28,#36c799,#2699e9,#3876fe,#2c90f0,#09bcbe,#66cd6d,#84cb56,#47cb87,#1abfb5,#06bcc0,#22c1b0,#2fc5a2,#15bfb7,#19acdc,#269ae8,#1aabdd,#3dc990,#d3bf27,#e9bb2f,#56cc7b,#2b92ef,#4743e7,#484ef1,#18addb,#dbbd28,#f5e924,#f9d82c,#4acb84,#307ffb,#4740e3,#475bf9,#17aeda,#86cb55,#efba35,#e4bb2c,#82cc57,#23c1af,#1caadf,#2c8ff0,#3080fa,#2d8af5,#13b0d7,#6ecd66,#fec537,#f6e028,#d1bf27,#18aedb,#4743e7,#4434ce,#2a93ed,#c2c32c,#f5ee21,#fbd12f,#1dc0b3,#4755f6,#4538d7,#2d88f6,#55cc7c,#ebba31,#c6c22a,#31c6a0,#1da9e0,#22a1e4,#0ab4d1,#16bfb7,#12beb9,#01b9c8,#01b9c6,#2cc4a7,#5fcd73,#6dcd68,#2fc5a2,#1caadf,#2c8ff1,#23a0e5,#2ac3a9,#a0c841,#c5c22a,#6ccd68,#05bbc1,#21a3e3)"></i><i style="background:linear-gradient(90deg,#2d89f5,#0db3d4,#7ecc5b,#f3ba39,#dfbc2a,#3dc991,#259ce7,#3678fd,#2b91ef,#0ebebb,#71cd65,#90ca4d,#50cc80,#20c1b1,#0bbdbd,#26c2ad,#31c6a0,#15bfb8,#1baade,#2797eb,#1ca9df,#3dca90,#dcbd29,#f4ba39,#63cd70,#2a93ee,#4740e4,#484aee,#19acdc,#debd29,#f5eb23,#f9d82c,#43ca8b,#337bfd,#4740e4,#4562fc,#09b4d1,#93ca4b,#e8bb2f,#ccc028,#62cd71,#1cc0b4,#11b1d6,#23a1e4,#2b91ef,#2d8cf3,#21a3e3,#33c69d,#e4bb2c,#f7dd2a,#fabb3d,#22c1b0,#475cfa,#4433cd,#406dfe,#5acc78,#f5e625,#f5e427,#51cc7f,#3e6fff,#4537d5,#3b72fe,#32c69f,#e0bc2a,#d9be28,#43ca8a,#16afd9,#22a2e4,#0eb3d4,#18bfb6,#1bc0b4,#03bbc2,#02bac4,#2cc4a7,#60cd72,#7acc5e,#39c995,#13b1d7,#2994ed,#23a0e5,#26c2ac,#a1c840,#d1bf27,#86cb55,#16bfb7,#20a5e2)"></i><i style="background:linear-gradient(90deg,#2797eb,#27c2ab,#cac129,#fdbd3d,#b3c534,#06bcc0,#2e86f7,#337bfd,#1da8e0,#42ca8b,#a7c73c,#94ca4a,#3cc992,#0dbdbc,#09bcbe,#28c2ab,#2bc3a8,#01b9c6,#21a3e3,#249de6,#02bac4,#8bcb51,#f5ba3a,#d1bf27,#12beb9,#4465fd,#463adb,#3e6fff,#3dca90,#f8da2b,#f5ec22,#d5be28,#1da9e0,#484aee,#4743e7,#2b92ef,#4ccb83,#e1bc2b,#e0bc2a,#78cc5f,#1fc0b2,#0db3d3,#19addc,#1da8e0,#249ee6,#2699e9,#18addb,#41ca8c,#e9bb30,#fcd030,#cdc028,#0eb2d4,#484aed,#4332cb,#2d89f5,#a2c840,#f5e725,#fcd12f,#24c2ae,#4758f8,#4539d9,#2d8af4,#60cd73,#f1ba37,#c6c22a,#2cc4a7,#20a4e3,#23a0e5,#05b6cd,#21c1b0,#20c1b1,#09bcbe,#11beba,#37c898,#6dcd68,#68cd6b,#27c2ac,#1ea6e1,#2895ec,#17aeda,#45cb88,#c3c22b,#c7c129,#54cc7c,#08b5d0,#259de7)"></i><i style="background:linear-gradient(90deg,#239fe5,#3eca8f,#e8bb2f,#febe3c,#93ca4b,#0eb2d4,#317efb,#2f82f9,#07b5cf,#6dcd67,#bec32e,#90ca4d,#33c79c,#04bbc2,#08bcbf,#27c2ac,#24c1ae,#06b5cf,#23a0e5,#21a3e3,#21c1b0,#b4c533,#fabb3d,#aec637,#13b0d7,#4851f4,#463adb,#2d8cf3,#91ca4d,#f5ec22,#f5ec23,#7ccc5c,#2e85f8,#4538d8,#4851f3,#17aeda,#9ac945,#efba35,#b9c431,#35c79b,#0ab4d2,#18addb,#0bb4d2,#08b4d1,#1ca9df,#259de7,#1babde,#37c898,#dbbd28,#fec636,#b7c532,#19acdc,#4746ea,#4434cf,#2b91ef,#b4c533,#f5e825,#fdce31,#1dc0b3,#4757f7,#463de0,#2b92ee,#71cd64,#f5ba3a,#bdc32e,#22c1af,#23a1e4,#23a0e5,#02b7cb,#24c1ae,#21c1b0,#0bbdbd,#18bfb6,#3bc992,#6ccd68,#5acc77,#14bfb8,#23a0e5,#2995ec,#0fb2d4,#55cc7c,#c4c22b,#b4c533,#39c895,#1aacdd,#2798ea)"></i><i style="background:linear-gradient(90deg,#2b92ee,#29c3aa,#d8be28,#fec636,#c4c22b,#0dbdbc,#2d88f6,#317efb,#19addc,#54cc7d,#bac430,#9fc941,#3dc990,#0abdbd,#07bcc0,#26c2ad,#27c2ac,#03b7cc,#249ee6,#259be8,#04bbc2,#9dc943,#febe3c,#d9be28,#0dbdbb,#4660fb,#4538d8,#3876fe,#58cc79,#f5e626,#f5ee21,#aec637,#2994ed,#463adc,#4848ec,#20a5e2,#86cb54,#e9bb2f,#aec637,#2dc4a6,#15afd9,#17aeda,#04bbc1,#18bfb6,#07b5cf,#259be7,#2896eb,#01b8c9,#94ca4a,#fec239,#edba33,#26c2ac,#4563fd,#4435d0,#4269fe,#48cb86,#f5e227,#f5e825,#7acc5e,#2f81fa,#4740e4,#3875fe,#32c69e,#e1bc2b,#d9bd28,#3fca8e,#19acdc,#23a1e5,#0bb4d2,#1dc0b3,#20c1b1,#09bcbe,#0bbdbc,#33c69e,#64cd6f,#65cd6e,#26c2ac,#20a4e3,#2d8df2,#21a3e3,#30c5a1,#a4c83e,#b5c533,#48cb86,#11b1d6,#2796eb)"></i><i style="background:linear-gradient(90deg,#2d88f6,#13beb8,#cbc129,#fec934,#d8be28,#25c2ae,#2d8cf3,#347afd,#1fa6e2,#43ca8a,#b5c533,#a8c73b,#46cb88,#10beba,#06bcc0,#25c2ad,#29c3aa,#01b8ca,#249ee6,#2796eb,#02b7cb,#8fcb4e,#fec03a,#edba33,#2bc3a8,#416afe,#4539d9,#416bfe,#3fca8e,#f6e029,#f5ef20,#c2c22c,#269ae9,#463adc,#4744e8,#21a4e3,#8ccb50,#ecba32,#a4c83e,#1bc0b4,#1fa6e1,#19addc,#1ec0b2,#37c897,#14beb8,#249fe5,#2d88f6,#1fa6e2,#56cc7b,#fabb3d,#febe3c,#4dcb82,#317dfb,#4537d5,#4756f6,#1fc1b1,#fccf30,#f5ea24,#c4c22b,#249de7,#484aee,#4367fd,#0dbdbc,#c9c129,#e3bc2c,#5fcd73,#07b5d0,#20a4e3,#0db3d3,#1cc0b4,#22c1b0,#09bdbe,#07bcc0,#2ec4a5,#5dcc75,#68cd6c,#2cc4a7,#1fa5e2,#2e87f7,#2797eb,#12beb9,#80cc59,#a8c73b,#4ccb83,#0eb3d4,#2994ed)"></i><i style="background:linear-gradient(90deg,#2b90f0,#2fc5a2,#e2bc2b,#fec636,#b1c635,#01b8ca,#317dfc,#3579fd,#17aeda,#61cd72,#c4c22b,#a2c83f,#3ac993,#07bcc0,#05bbc1,#25c2ae,#24c1ae,#07b5d0,#259de7,#259de7,#15bfb8,#b6c533,#fec338,#d1bf27,#01b9c8,#4758f8,#4538d8,#2e87f7,#8acb52,#f5ef20,#f5ec22,#6bcd69,#3677fe,#4230c4,#4756f6,#02bbc3,#d1bf27,#f4ba39,#70cd65,#12b1d6,#2798ea,#13b0d7,#3ac994,#61cd71,#26c2ac,#259de7,#2f82f9,#1fa6e2,#66cd6d,#febe3c,#f9ba3d,#34c79c,#3f6efe,#4538d7,#4563fd,#37c898,#f8da2b,#f5e725,#9cc944,#2b91ef,#4848ec,#3d71ff,#26c2ac,#d4bf28,#dcbd29,#4fcc81,#0eb2d4,#1ea7e1,#03b7cc,#25c2ad,#26c2ac,#0ebdbb,#0fbebb,#33c69d,#62cd71,#5dcc75,#1abfb5,#259ce7,#2f82f9,#2699e9,#1fc0b2,#82cc58,#91ca4c,#33c69d,#1ea7e1,#2d8cf3)"></i><i style="background:linear-gradient(90deg,#22a2e4,#58cc79,#f6ba3b,#f9ba3d,#60cd73,#23a0e5,#426afe,#307ffb,#01bac5,#8ecb4e,#cec028,#8dcb4f,#2dc4a5,#01b8c9,#03bbc2,#25c2ad,#1dc0b3,#0eb2d4,#249fe5,#1caadf,#37c897,#dabd28,#fdbd3d,#87cb54,#249de6,#4744e8,#4747eb,#1babde,#e4bb2c,#f5eb23,#fec934,#0abdbd,#484bef,#412dbd,#3479fd,#50cc7f,#febe3c,#e8bb2f,#30c5a1,#2796eb,#2c90f0,#03bbc3,#79cc5e,#8fcb4e,#24c1af,#2a93ee,#307ffb,#13b0d7,#9cc943,#fec835,#e0bc2a,#02bac5,#4853f5,#4537d5,#3080fa,#7ccc5c,#f5e427,#f8da2b,#42ca8b,#3a73fe,#4745e9,#2e85f8,#40ca8d,#e1bc2b,#c6c22a,#33c69d,#1aacdd,#1da8e0,#03bbc2,#2dc4a5,#2bc3a8,#17bfb6,#20c1b1,#3fca8e,#6bcd69,#4dcc82,#01b9c6,#2a93ee,#2e84f9,#20a5e3,#33c79d,#8fcb4e,#77cc60,#15bfb7,#2699e9,#2e86f7)"></i><i style="background:linear-gradient(90deg,#0db3d3,#8fcb4e,#fbbc3d,#dabd28,#2bc3a8,#2e86f8,#465ffb,#2d87f7,#23c1af,#aec637,#ccc028,#6ccd68,#14beb8,#0bb3d2,#02bac5,#25c2ae,#18bfb6,#0eb2d4,#1fa6e2,#04b6cd,#61cd71,#eabb30,#e9bb2f,#3ac994,#307ffb,#463bdd,#465ffb,#22c1af,#fdcb33,#f5e725,#cec028,#269ae8,#4331c6,#4434cf,#23a0e5,#b8c431,#fdce31,#c0c32d,#07b5d0,#327cfc,#2b91ef,#2fc5a2,#bec32e,#a9c73a,#0fbebb,#2e86f8,#307ffb,#02bac4,#cfc028,#fdce31,#b9c430,#20a5e2,#463de0,#4536d4,#269ae8,#bfc32d,#f7dc2a,#fdbd3d,#06bcc0,#4759f9,#4747eb,#2798ea,#68cd6c,#e1bc2b,#9fc942,#17bfb6,#20a5e2,#1babde,#10beba,#31c6a0,#2cc4a7,#1ec0b2,#2cc4a7,#51cc7f,#72cd63,#41ca8d,#0ab4d2,#2c8ef1,#2d8bf4,#12b1d6,#4dcc82,#9dc943,#63cd70,#01b8c8,#2b91ef,#2d88f6)"></i><i style="background:linear-gradient(90deg,#0db3d3,#8bcb51,#f9bb3d,#d9be28,#2ac3a9,#2e83f9,#4759f8,#307ffb,#11beb9,#a0c841,#c6c22a,#67cd6c,#0bbdbd,#14b0d8,#02b7cb,#21c1b1,#1cc0b3,#06b5cf,#1caadf,#01b8c9,#64cd6f,#e8bb2e,#e3bc2c,#35c79a,#327cfc,#463bdd,#4562fc,#28c3aa,#fdcc32,#f5e526,#c0c32d,#2995ec,#422ec0,#4536d4,#1fa6e1,#cec028,#fad52e,#bbc430,#18addb,#406dfe,#2d8af5,#34c79c,#ddbd29,#ccc028,#1cc0b4,#307ffb,#3d71ff,#07b5cf,#cdc028,#fad62d,#ccc028,#1da8e0,#463cde,#4332c9,#2a93ed,#adc638,#fad52d,#f8ba3d,#04bbc2,#475af9,#4746ea,#2994ed,#55cc7c,#d0bf27,#91ca4c,#13beb9,#20a5e2,#1baade,#0dbdbc,#2fc5a2,#2bc3a8,#1dc0b3,#2cc4a6,#55cc7c,#7ccc5c,#4bcb84,#03b7cc,#2b91ef,#2d8cf3,#12b1d6,#50cc80,#a9c73a,#79cc5e,#0bbdbc,#2797ea,#2d8bf4)"></i><i style="background:linear-gradient(90deg,#16afda,#77cc60,#f7ba3c,#e4bb2c,#34c79b,#2d89f5,#4756f6,#3b72fe,#01b7ca,#87cb54,#bfc32d,#69cd6a,#0abdbe,#19acdc,#0cb3d3,#17bfb6,#1fc1b1,#05b6ce,#19addc,#01b8c8,#5dcc74,#e2bc2b,#e2bc2b,#39c895,#2f81fa,#473fe2,#4563fc,#26c2ad,#feca33,#f5e725,#c8c129,#2699e9,#4331c7,#4537d6,#1ea7e1,#d5be28,#f7dc2a,#c4c22a,#1aabdd,#4660fc,#327cfc,#2ec4a4,#eabb30,#e9bb30,#2dc4a5,#327cfc,#465ffb,#1da8e0,#b8c431,#f7dc2a,#e9bb30,#0cb3d3,#4741e5,#4332c9,#2e86f7,#8bcb51,#fbd22f,#fcbc3d,#17bfb6,#4562fc,#4746eb,#2d8cf3,#3cc991,#bcc42f,#8bcb51,#19bfb5,#1ea7e1,#1caadf,#09bcbe,#2bc3a8,#25c2ad,#14beb8,#27c2ac,#50cc80,#84cc57,#5ecd74,#07bcc0,#2797eb,#2d8bf4,#18addb,#47cb87,#b2c535,#99c946,#2bc3a8,#22a2e4,#2c8ef1)"></i><i style="background:linear-gradient(90deg,#19acdc,#6bcd69,#f4ba3a,#e9bb30,#3cc991,#2d8df2,#4854f6,#416cfe,#0cb3d3,#7acc5e,#bcc42f,#68cd6c,#05bbc1,#1ea7e1,#17aeda,#0bbdbd,#1ec0b2,#01b8c9,#13b0d7,#02bac4,#5ecd74,#ddbd29,#dabd28,#35c79b,#2f81fa,#4744e8,#406dfe,#31c6a0,#fcd030,#f5ea24,#c0c32d,#2797eb,#4435d2,#463de0,#18aedb,#e4bb2c,#f5e128,#c4c22b,#1fa6e2,#4854f5,#3f6eff,#27c2ab,#f1ba37,#f9ba3d,#34c79c,#3776fe,#4850f3,#269ae8,#a4c83e,#f6e028,#f9bb3d,#01b9c7,#4747eb,#4433cd,#2f82f9,#80cc59,#fbd22f,#fcbd3d,#1fc0b2,#4368fd,#484aee,#2d8af4,#35c79b,#adc638,#82cc57,#1ac0b4,#1da9e0,#1caadf,#05bbc1,#24c1ae,#1bc0b4,#08bcbf,#1ec0b2,#4acb85,#88cb53,#6fcd66,#1ac0b5,#259de7,#2d8cf3,#1babde,#41ca8c,#b7c532,#aec637,#37c897,#1caadf,#2a92ee)"></i><i style="background:linear-gradient(90deg,#259ce7,#38c897,#e0bc2b,#fabb3d,#7acc5e,#20a4e3,#475cfa,#475cfa,#23a0e5,#4bcb83,#b4c534,#80cc59,#1abfb5,#1da8e0,#1da9e0,#01b9c6,#1ec0b2,#03bbc3,#0fb2d5,#02b7cb,#44cb89,#cbc129,#e0bc2a,#50cc80,#2a93ee,#484df0,#4465fd,#15bfb7,#fec13a,#f5ec22,#e8bb2f,#1aabdd,#463de0,#4539d9,#259ce7,#c0c32d,#f6e028,#ebba32,#08b4d1,#4854f5,#4854f5,#0db3d3,#d7be28,#fec835,#6fcd66,#2d88f6,#4741e5,#3b72fe,#46cb87,#fad62d,#fad52d,#3fca8e,#4464fd,#4537d5,#4465fd,#39c895,#feca33,#fdcb33,#4bcb83,#2e83f9,#484ff1,#347afd,#10beba,#8bcb51,#8acb52,#2ec5a3,#12b1d6,#19acdc,#01bac5,#1cc0b4,#11beba,#01b9c8,#05bbc1,#37c898,#84cc56,#91ca4c,#39c895,#1aabdd,#2d8df2,#249de6,#27c2ab,#a1c840,#c6c22a,#68cd6c,#01b8c8,#269ae9)"></i><i style="background:linear-gradient(90deg,#2995ec,#2ac3a9,#d0bf27,#fcbd3d,#98ca47,#18addb,#4561fc,#4758f8,#2798ea,#3dc990,#b2c635,#8acb52,#1fc0b1,#1fa6e2,#21a3e3,#05b6ce,#1ac0b5,#09bcbe,#0fb2d5,#01b8c9,#3eca8f,#bdc32e,#d6be28,#4fcc81,#2797ea,#4755f6,#416bfe,#1abfb5,#febf3b,#f5ec22,#e7bb2e,#18addb,#4740e4,#4639da,#2797eb,#b1c635,#f8da2b,#f3ba39,#01b7ca,#4851f3,#4744e8,#21a4e3,#bec32e,#fdcd31,#98c947,#2b92ee,#4639d9,#4759f8,#25c2ad,#fdcb33,#f6df29,#71cd64,#3579fd,#463adc,#475cfa,#2ac3a8,#fec13a,#fccf31,#68cd6b,#2b91ef,#4756f6,#3876fe,#01b9c6,#72cd63,#84cb56,#34c79c,#06b5cf,#0fb2d5,#02bac4,#19bfb6,#0abdbd,#05b6ce,#02b7cb,#2ec4a4,#7ccc5c,#a3c83f,#55cc7c,#07b5d0,#2b91ef,#2797eb,#0cbdbc,#8bcb51,#ccc028,#87cb54,#14bfb8,#23a0e5)"></i><i style="background:linear-gradient(90deg,#22a1e4,#40ca8d,#e4bb2c,#f3ba39,#5dcc74,#2699e9,#4757f7,#4563fc,#19addc,#71cd64,#c3c22b,#6ecd67,#01b8c9,#2699e9,#259de7,#06b5ce,#1bc0b4,#0dbdbc,#03b7cc,#12beb9,#58cc79,#bbc42f,#a9c73b,#22c1b0,#2e84f8,#475dfa,#2b91ef,#62cd70,#f9d72d,#f6e028,#7fcc5a,#2e86f7,#4639da,#4848ec,#07b5d0,#ecba32,#fbd22f,#b7c532,#259be8,#463adb,#4848ec,#0bb4d2,#e4bb2c,#fdcb32,#5fcd73,#3777fe,#4434cd,#4564fd,#41ca8d,#f8d92b,#f9d62d,#39c994,#4563fd,#473ee2,#327bfc,#60cd72,#fcd030,#fec03b,#35c79b,#3080fa,#4759f8,#2d89f5,#21c1b0,#81cc59,#72cd63,#2ac3a9,#0bb3d2,#0ab4d1,#07bcc0,#18bfb6,#02bbc3,#0cb3d3,#02b7cb,#32c69e,#88cb53,#a3c83f,#48cb86,#13b1d7,#2c90f0,#259ce7,#24c1ae,#a0c841,#ccc028,#73cd63,#02bac3,#259de7)"></i><i style="background:linear-gradient(90deg,#20a5e2,#49cb86,#e5bb2c,#e9bb2f,#44cb89,#2c90f0,#4854f5,#416bfe,#05b6cd,#93ca4b,#ccc028,#60cd72,#10b2d5,#2c90f0,#2699ea,#07b5cf,#20c1b1,#19bfb5,#02bbc3,#20c1b1,#5bcc77,#a9c73a,#83cc57,#04bbc2,#2f80fa,#4369fe,#21a3e3,#8dcb4f,#f9d72d,#fdcb33,#41ca8c,#3c71ff,#4537d6,#4853f5,#09bcbe,#f6ba3b,#fdcb33,#8ecb4f,#2d8cf3,#4435d0,#4747eb,#04b6cd,#ebba32,#fec934,#55cc7b,#3e6fff,#4434cd,#4564fd,#47cb87,#f8d92c,#fbd22f,#33c69e,#4561fc,#4742e6,#2d89f6,#7ccc5c,#fbd12f,#f9bb3d,#2dc4a6,#307ffb,#4660fc,#2b92ee,#28c3aa,#7bcc5d,#66cd6d,#26c2ac,#06b5cf,#02b7cb,#10beba,#1ac0b4,#01b9c6,#13b0d7,#06b5cf,#31c6a0,#8acb51,#a7c73c,#4bcb84,#13b0d7,#2c8ff1,#259be7,#23c1af,#a0c841,#cbc029,#70cd65,#02bac5,#259ce7)"></i><i style="background:linear-gradient(90deg,#269ae9,#2fc5a2,#cec028,#ecba32,#60cd72,#259ce7,#4758f8,#4464fd,#15afd9,#84cb56,#d4bf28,#79cc5f,#04b6cd,#2c8ff0,#2b92ef,#13b0d7,#1ec0b2,#23c1af,#0abdbd,#18bfb6,#45cb88,#90ca4d,#7ecc5a,#15bfb7,#2d8bf3,#406cfe,#269ae8,#5ccc75,#fec537,#fec934,#5ccc76,#2f82fa,#4536d4,#4746ea,#16afda,#d3bf27,#fec636,#bac430,#239fe5,#4537d6,#4536d4,#23a0e5,#c3c22b,#fec736,#9ec942,#2d8cf3,#4435d0,#484cef,#18bfb6,#feca34,#f7db2b,#6acd6a,#327cfc,#4744e8,#3777fe,#45cb89,#fec437,#fec13a,#4ccb83,#2994ed,#426afe,#2d8cf3,#0bbdbd,#5dcc75,#60cd72,#2ec4a5,#02bac4,#02bbc3,#1ec0b2,#25c2ad,#03bbc2,#17aeda,#16aeda,#1dc0b3,#73cd62,#afc636,#6bcd69,#01b8c8,#2b91ef,#2c90f0,#01b8c8,#77cc5f,#c7c12a,#8bcb51,#1ac0b5,#22a2e4)"></i><i style="background:linear-gradient(90deg,#2994ed,#20c1b1,#bac430,#e9bb2f,#6dcd68,#22a1e4,#475bf9,#4561fc,#1aacdd,#7ecc5b,#dabd28,#8acb52,#01b8c8,#2d8df2,#2d8af4,#1babde,#19bfb5,#29c3aa,#13beb8,#12beb9,#36c799,#6fcd66,#6dcd68,#1cc0b3,#2a93ed,#3d70ff,#2a93ed,#39c994,#f2ba38,#fec339,#6ecd66,#2c90f0,#463adb,#4742e6,#21a2e4,#b0c636,#fec438,#d5be28,#16afd9,#4741e4,#4435d1,#2d8cf3,#95ca49,#fec437,#cac129,#23a1e5,#4536d4,#473fe2,#09b4d1,#f9bb3d,#f8d92c,#96ca48,#2c8ef1,#4745e9,#3f6efe,#2fc5a3,#f8ba3d,#fec239,#6acd6a,#21a3e3,#3876fe,#2d8cf3,#01b9c8,#45cb88,#52cc7e,#2ec5a4,#09bcbe,#0ebdbb,#2ac3a9,#2dc4a5,#09bcbe,#19acdc,#1ea7e1,#03bbc3,#5bcc76,#acc739,#7ccc5c,#08bcbf,#2b92ef,#2e87f7,#16afda,#54cc7d,#b9c430,#93ca4b,#27c2ab,#1fa6e2)"></i><i style="background:linear-gradient(90deg,#2b91ef,#10beba,#aac73a,#e4bb2c,#71cd64,#20a5e3,#475dfa,#465ffb,#1da8e0,#78cc5f,#debd29,#96ca48,#02bac4,#2d8bf3,#2e83f9,#21a4e3,#0ebebb,#2bc3a8,#1ac0b5,#0abdbd,#2bc3a8,#4acb84,#54cc7c,#1cc0b3,#269ae9,#3975fe,#2d8cf3,#25c2ae,#d0bf27,#fbbc3d,#82cc58,#249fe6,#4848ec,#4743e7,#2699e9,#8ecb4e,#fec537,#e9bb30,#01bac5,#484ef1,#4536d3,#327bfc,#67cd6c,#fec239,#e2bc2b,#15afd9,#473fe2,#463ada,#1da8e0,#e1bc2b,#f9d62d,#afc636,#269be8,#484aee,#4368fe,#1ac0b5,#e3bc2c,#febe3c,#7fcc5a,#18aedb,#2f82f9,#2c8ef1,#06b6ce,#36c899,#41ca8c,#27c2ab,#0dbdbc,#1abfb5,#30c5a1,#32c69e,#0cbdbc,#1ca9df,#249fe5,#09b4d1,#45cb89,#a3c83f,#83cc57,#11beba,#2b91ef,#307efb,#20a4e3,#3ac994,#a6c73c,#92ca4c,#2dc4a6,#1da9e0)"></i><i style="background:linear-gradient(90deg,#2c8ff1,#04bbc1,#99c946,#debd2a,#75cc61,#1ea7e1,#465efb,#475dfa,#20a4e3,#6ecd66,#e0bc2a,#a3c83e,#09bcbe,#2d8bf4,#327cfc,#259ce7,#04bbc2,#2cc4a7,#20c1b1,#05bbc1,#12beb9,#35c79a,#3bc992,#1ac0b5,#23a0e5,#327cfc,#2d88f6,#02bac3,#a3c83e,#eeba34,#96ca48,#17aedb,#4759f8,#4848ec,#2b91ef,#6bcd69,#fec735,#f7ba3c,#23c1af,#465efb,#4538d7,#3f6efe,#42ca8b,#fec13a,#eeba34,#01b9c8,#484bee,#463adb,#249de6,#c4c22b,#fad52e,#bfc32e,#1fa5e2,#4852f4,#4465fd,#02bac5,#c6c22a,#f7ba3c,#8bcb51,#05b6ce,#2c8ef1,#2a93ed,#0bb4d2,#2dc4a5,#31c6a0,#20c1b1,#0cbdbc,#21c1b1,#36c799,#37c897,#0ebdbb,#1fa6e2,#2797eb,#1aacdd,#36c898,#9bc944,#8acb51,#1cc0b4,#2a92ee,#3579fd,#259be8,#2ec4a5,#93ca4b,#8ccb50,#2ec5a3,#1babde)"></i><i style="background:linear-gradient(90deg,#22a2e4,#35c79b,#bbc430,#bbc42f,#2cc4a7,#2e85f8,#4854f5,#3777fe,#12beb9,#c0c32d,#e6bb2d,#67cd6d,#1caadf,#3677fe,#327cfc,#1ea7e1,#24c1ae,#36c799,#24c1ae,#02bac5,#03bbc2,#24c1ae,#25c2ad,#02b7cb,#269ae9,#2e85f8,#259be7,#2bc3a8,#b2c635,#cfc028,#48cb87,#2798ea,#4757f7,#4464fd,#09b4d1,#c2c22c,#feca33,#bdc32e,#1babde,#4848ec,#463ee1,#259ce7,#a5c83d,#fec03b,#9fc942,#2896eb,#463adb,#4854f6,#0ebebb,#f8ba3d,#fec835,#50cc80,#2e83f9,#4850f2,#2e85f8,#38c896,#dfbc2a,#dabd28,#43ca8a,#1da9e0,#2b91ef,#21a3e3,#09bdbe,#32c69e,#2bc3a8,#14beb8,#12beb9,#2dc4a6,#3cc992,#30c5a2,#07b5cf,#2699e9,#2798ea,#01b7ca,#5fcd73,#abc739,#61cd71,#0db3d3,#2f82f9,#3080fb,#16afda,#4fcc80,#9ec942,#62cd70,#04bbc2,#249ee6)"></i><i style="background:linear-gradient(90deg,#1da8e0,#3bc993,#b6c532,#a4c83e,#16bfb7,#317dfb,#4756f6,#2f82f9,#2bc3a8,#d3bf27,#e8bb2f,#5ecc74,#1fa6e2,#3975fe,#317efb,#1aacdd,#30c5a2,#45cb88,#2ec5a4,#02bbc3,#02b7cb,#0abdbd,#1ac0b5,#01b7ca,#22a1e4,#2b90ef,#22a2e4,#2ac3a9,#9ec943,#bac430,#3fca8e,#259be8,#4562fc,#3b73fe,#02bac5,#c8c129,#fec537,#a7c73c,#1ea6e1,#484cf0,#484cf0,#1ca9e0,#b8c431,#fec03a,#7ccc5c,#2c8ef1,#473ee1,#4563fd,#29c3aa,#f9bb3d,#fdbd3d,#3ac994,#2f81fa,#4757f7,#2c8ef1,#3bc993,#d1bf27,#c4c22b,#3ac993,#1aacdd,#259be8,#1aacdd,#12beb9,#2cc4a7,#23c1af,#0fbebb,#1bc0b4,#35c799,#48cb86,#30c5a1,#0fb2d5,#2994ed,#2797eb,#02bac4,#76cc61,#b9c430,#63cd6f,#0fb2d5,#2e84f9,#2e87f7,#08b4d0,#5dcc75,#9cc944,#54cc7c,#01b8c9,#259ce7)"></i><i style="background:linear-gradient(90deg,#249fe5,#27c2ab,#a0c941,#b6c532,#35c79a,#2b92ef,#475bf9,#3a74fe,#02bbc3,#b8c431,#f5ba3b,#9dc943,#01b8ca,#2e83f9,#347afd,#21a3e3,#2ac3a9,#58cc79,#44cb8a,#1cc0b3,#01b8ca,#01b9c6,#14bfb8,#0bbdbd,#13b0d7,#249ee6,#22a1e4,#08bcbf,#6dcd68,#b2c635,#66cd6d,#10b2d5,#3678fe,#3c71ff,#18aedb,#91ca4c,#febe3c,#cbc029,#01b9c7,#4563fc,#484ef1,#269ae8,#85cb56,#febe3c,#abc739,#1ea7e1,#4850f3,#465dfa,#01b8c8,#d6be28,#febe3c,#6acd6a,#269ae8,#4562fc,#2f81fa,#13beb8,#9ec942,#bcc42f,#57cc7a,#01b9c6,#1da8e0,#15afd9,#0bbdbd,#23c1af,#17bfb6,#06bcc0,#18bfb6,#39c995,#5fcd73,#45cb89,#01b9c6,#2797eb,#2c8ff1,#0db3d3,#63cd70,#cbc129,#9dc943,#16bfb7,#2a93ee,#2e86f7,#19acdc,#41ca8c,#94ca4a,#67cd6c,#10beba,#20a4e3)"></i><i style="background:linear-gradient(90deg,#20a4e3,#2cc4a7,#9ec942,#afc636,#32c69e,#2b92ee,#465ffb,#337bfd,#0fbebb,#c6c22a,#fbbc3d,#a5c83d,#01b9c7,#2e84f8,#327cfc,#1fa6e2,#33c69d,#77cc60,#62cd70,#2cc4a7,#01b8c8,#02b7cb,#0abdbd,#12beb9,#03b6cc,#1aabdd,#1aacdd,#0fbebb,#5ecc74,#9ac946,#58cc79,#0db3d3,#2f82f9,#3080fa,#07b5d0,#98c947,#f7ba3c,#b2c635,#06b5cf,#4367fd,#465efb,#1ca9df,#9ac945,#f9ba3d,#8ecb4f,#21a3e3,#4759f8,#3f6eff,#0fbeba,#d4bf28,#f3ba39,#5acc77,#259de7,#406dfe,#2d89f5,#11beba,#86cb55,#a2c83f,#4ecc81,#07bcc0,#12b1d6,#01b8ca,#14beb8,#1cc0b3,#07bcbf,#01b9c7,#17bfb6,#42ca8c,#71cd64,#50cc80,#02bac5,#2896eb,#2c8ff1,#06b5cf,#74cc62,#d9bd28,#aac73a,#1ec0b2,#2797eb,#2d8bf3,#13b0d7,#48cb86,#95ca49,#66cd6e,#12beb9,#1ea7e1)"></i><i style="background:linear-gradient(90deg,#19addc,#33c79d,#a1c840,#a5c83d,#2dc4a6,#2c90f0,#4563fd,#2e84f8,#26c2ad,#d7be28,#febe3c,#a0c841,#03b7cc,#2f81fa,#327cfc,#1caadf,#3eca8f,#94ca4a,#7bcc5d,#31c6a0,#01b8ca,#0bb3d2,#02bac4,#14beb8,#06bbc1,#0bb3d2,#08b4d0,#1cc0b3,#54cc7c,#7ecc5b,#42ca8b,#11b1d6,#2d8bf4,#2b90f0,#0abdbd,#a6c73c,#e8bb2f,#84cc56,#19addc,#416cfe,#3a74fe,#01b9c8,#b4c533,#ebba31,#5fcd73,#259be8,#4563fc,#2e85f8,#2dc4a5,#d6be28,#e0bc2a,#43ca8b,#249de6,#3579fd,#2994ed,#17bfb6,#6fcd66,#81cc59,#3eca8f,#0bbdbd,#01b8c8,#08bcbf,#1bc0b4,#12beb9,#01b8ca,#06b5ce,#16bfb7,#4ccb83,#82cc58,#56cc7b,#01b9c7,#2994ed,#2c90f0,#01b8c9,#88cb53,#e2bc2b,#abc739,#1cc0b4,#2798ea,#2b91ef,#06b5cf,#56cc7b,#9bc945,#65cd6e,#16bfb7,#1babde)"></i><i style="background:linear-gradient(90deg,#13b0d7,#32c69e,#9ac945,#a7c73c,#32c69e,#2797eb,#4367fd,#2e83f9,#1dc0b3,#d2bf27,#fec13a,#b1c635,#02bac5,#2f82fa,#3776fe,#20a4e3,#39c995,#9dc943,#90ca4d,#36c898,#03b7cc,#18aedb,#06b5cf,#0fbebb,#17bfb7,#02bbc3,#01b9c8,#1dc0b3,#43ca8a,#64cd6f,#3bc993,#08b5d0,#2796eb,#259ce7,#19bfb5,#9cc943,#d3bf27,#69cd6b,#1aacdd,#3678fe,#2e86f7,#12beb9,#b3c534,#d9be28,#4ccb83,#249ee6,#3d71ff,#2b91ef,#30c5a1,#c6c22a,#cfc028,#43ca8b,#1fa6e1,#2d88f6,#259be8,#0cbdbc,#50cc80,#5fcd73,#36c898,#17bfb7,#0abdbd,#1ac0b5,#21c1b0,#09bcbe,#0cb3d3,#14b0d8,#0abdbd,#4ecc81,#92ca4c,#69cd6b,#06bcc0,#2995ec,#2d8df2,#06b5cf,#7dcc5b,#e2bc2b,#b6c533,#28c3ab,#249de6,#2994ed,#07b5cf,#52cc7e,#9cc943,#72cd63,#27c2ab,#0fb2d4)"></i><i style="background:linear-gradient(90deg,#18aedb,#1ec0b2,#79cc5e,#b3c534,#5ccc75,#18addb,#3b73fe,#3c71ff,#15afd8,#94ca4a,#febf3b,#e4bb2c,#34c79c,#2a93ee,#3f6efe,#2d8df2,#11beb9,#81cc59,#a3c83f,#52cc7e,#04bbc2,#1caadf,#19acdc,#01b9c7,#1bc0b4,#17bfb7,#06bcc0,#10beba,#33c69d,#4bcb83,#3dca90,#07bcc0,#20a4e3,#23a0e5,#04bbc1,#70cd65,#bcc42f,#75cc61,#02b7cb,#2d8af4,#2d8cf3,#02bbc3,#90ca4d,#cec028,#66cd6d,#15afd9,#2e83f9,#2b91ef,#14beb8,#95ca49,#c0c32d,#61cd71,#02b7cb,#269be8,#249ee6,#02b7ca,#32c69f,#3ac994,#2fc5a3,#1cc0b3,#1abfb5,#28c3aa,#2cc4a7,#0fbeba,#13b0d7,#1ea7e1,#09b4d1,#39c895,#97ca47,#96ca48,#2fc5a2,#23a0e5,#2e86f7,#20a4e3,#41ca8c,#cfc028,#d1bf27,#49cb85,#19addc,#2895ec,#1aacdd,#34c79b,#8acb52,#87cb54,#3bc992,#04bbc1)"></i><i style="background:linear-gradient(90deg,#0ab4d2,#27c2ab,#78cc5f,#a4c83e,#4acb85,#1da9e0,#3b73fe,#3678fe,#07b5d0,#a5c83d,#fec13a,#dbbd29,#2ac3a8,#2d8af5,#4367fd,#2d8df2,#1dc0b3,#92ca4c,#abc739,#4acb84,#05b6ce,#249ee6,#21a3e4,#05b6cd,#1ec0b2,#24c2ae,#13beb9,#10beba,#29c3aa,#37c897,#2fc5a3,#02bac4,#1baade,#19addc,#1fc0b2,#6fcd66,#97ca47,#46cb88,#10b2d5,#2994ed,#21a3e3,#2dc4a5,#a0c941,#b1c636,#3eca8f,#1caadf,#2c8ef1,#22a2e4,#2bc3a7,#8ecb4f,#9ec942,#45cb89,#02b7cb,#1fa5e2,#1aabdd,#04bbc1,#2ac3a9,#2cc4a7,#1dc0b3,#13beb8,#23c1af,#31c5a1,#2ec4a4,#04bbc2,#1da9e0,#23a1e5,#08b5d0,#44ca8a,#a7c73c,#96ca49,#28c2ab,#269ae8,#2e84f9,#1fa6e1,#48cb86,#ccc028,#c2c32c,#3bc993,#1caadf,#2797ea,#14b0d8,#39c895,#89cb52,#7fcc5a,#39c895,#09bcbe)"></i><i style="background:linear-gradient(90deg,#05bbc1,#37c897,#80cc59,#7dcc5b,#25c2ae,#2796eb,#3b73fe,#2b91ef,#31c6a0,#e0bc2a,#fec03b,#9ac945,#12b1d6,#3e70ff,#416bfe,#20a5e3,#4dcc82,#bec32e,#9bc945,#28c2ab,#23a0e5,#2d8df2,#249fe5,#01b9c6,#2cc4a6,#2bc3a7,#0fbeba,#02bac4,#0cbdbc,#20c1b1,#17bfb6,#03b7cc,#10b2d5,#01b9c6,#34c79c,#65cd6e,#58cc79,#1cc0b4,#1ca9df,#20a4e3,#04bbc2,#5ecc74,#a3c83f,#6fcd66,#10beba,#22a1e4,#249de6,#01b8ca,#48cb86,#86cb54,#66cd6d,#29c3aa,#09b4d1,#15afd9,#01b8c8,#18bfb6,#20c1b1,#12beb9,#08bcbf,#17bfb7,#2ec5a3,#35c79b,#21c1b0,#13b0d7,#259ce7,#22a2e4,#11beb9,#77cc60,#b3c534,#64cd6e,#08b5d0,#2d88f6,#2d89f5,#01b7ca,#7fcc5a,#cec028,#88cb53,#0abdbd,#259be8,#269ae8,#01b9c6,#51cc7f,#86cb55,#5ecc74,#2ac3a9,#02bac4)"></i><i style="background:linear-gradient(90deg,#02bbc3,#30c5a1,#6fcd66,#7fcc5a,#31c6a0,#22a2e4,#327dfc,#2c90f0,#26c2ac,#d2bf27,#fec239,#b5c533,#01b8c9,#3975fe,#4464fd,#259be8,#3dc990,#bdc32e,#a9c73b,#2dc4a6,#259de7,#2f81fa,#2a93ee,#06b5cf,#2dc4a5,#30c5a1,#0fbeba,#07b5d0,#08b5d0,#02bac4,#0dbdbc,#03bbc3,#02b7cb,#03bbc2,#2cc4a7,#43ca8b,#3dc990,#18bfb6,#13b0d7,#18aedb,#0dbdbb,#4fcc80,#83cc57,#5bcc77,#19bfb5,#19acdc,#1ca9df,#02bac4,#3ac993,#62cd71,#4ecc81,#2bc3a8,#05bbc1,#01b9c6,#08bcbe,#13beb9,#08bcbf,#01b8c9,#01b8c9,#16bfb7,#35c79a,#3fca8e,#28c2ab,#16afd9,#2896ec,#259be8,#06bcc0,#74cc62,#b9c430,#6fcd66,#04b6cd,#2d88f6,#2e84f8,#0eb2d4,#67cd6d,#c2c22c,#88cb53,#11beb9,#259ce7,#2797eb,#0db3d3,#36c899,#62cd70,#4acb84,#26c2ac,#04bbc2)"></i><i style="background:linear-gradient(90deg,#01b8c9,#17bfb6,#4bcb83,#8acb52,#66cd6d,#07bcc0,#2a92ee,#2e84f8,#17aeda,#75cc61,#fbbc3d,#f3ba39,#4ccb83,#2797eb,#4660fb,#3975fe,#04b6cd,#85cb56,#c4c22b,#62cd71,#13b1d7,#2f81fa,#317dfc,#22a1e4,#17bfb6,#36c799,#27c2ab,#04b6cd,#19addc,#11b1d6,#02bac4,#10beba,#0abdbd,#06bcc0,#16bfb7,#2ec4a5,#33c69d,#25c2ae,#01b9c7,#0cb3d3,#01bac5,#2fc5a2,#53cc7d,#53cc7d,#2fc5a2,#01bac6,#0cb3d3,#01b9c7,#29c3aa,#3bc992,#3cc992,#2fc5a2,#20c1b1,#1bc0b4,#20c1b1,#1bc0b4,#02bac4,#11b1d6,#16afd9,#01b9c6,#33c69d,#59cc78,#44ca8a,#02bac3,#269ae9,#2d8df3,#1baadf,#3dc990,#b2c635,#a7c73c,#2dc4a5,#2699e9,#327cfc,#2699e9,#2bc3a8,#9cc944,#a5c83d,#39c995,#19acdc,#2994ed,#23a1e4,#04bbc2,#36c799,#3bc993,#29c3aa,#0bbdbd)"></i><i style="background:linear-gradient(90deg,#02bac4,#19bfb5,#44cb8a,#7bcc5d,#5fcd73,#0cbdbc,#269ae8,#2c8ef1,#0cb3d3,#7ccc5c,#f8ba3d,#ebba31,#40ca8d,#2a92ee,#475cfa,#3975fe,#01b8ca,#90ca4d,#c9c129,#5ccc75,#1babde,#3776fe,#3975fe,#22a2e4,#25c2ad,#43ca8a,#2cc4a6,#0cb3d3,#21a3e4,#1da8e0,#01b8ca,#1dc0b3,#24c1ae,#16bfb7,#0dbdbc,#14bfb8,#1cc0b3,#14beb8,#02bac3,#01b8c9,#07bcbf,#28c2ab,#36c899,#35c79a,#27c2ab,#0bbdbd,#04bbc1,#14beb8,#29c3aa,#2fc5a2,#2dc4a5,#28c2ab,#29c3aa,#2fc5a2,#31c6a0,#24c1ae,#02b7cb,#1caadf,#1caadf,#02bbc3,#40ca8d,#74cc62,#4ecc81,#01b9c7,#2994ed,#2d89f5,#1aabdd,#45cb89,#b6c532,#9ec942,#24c1ae,#2895ec,#327cfc,#259ce7,#2ec4a4,#97ca48,#96ca49,#32c69f,#1caadf,#2994ed,#23a0e5,#01b9c8,#2cc4a7,#2ec5a4,#1abfb5,#06bcc0)"></i><i style="background:linear-gradient(90deg,#09bcbe,#1ec0b2,#3fca8e,#63cd70,#41ca8c,#01b9c8,#259be7,#259ce7,#11beb9,#a4c83e,#f6ba3b,#c5c22a,#1ac0b4,#307ffb,#475bf9,#2e86f7,#27c2ac,#b9c431,#c6c12a,#39c995,#2699e9,#4369fe,#347afd,#14b0d8,#3eca90,#5acc78,#27c2ab,#1caadf,#2796eb,#21a3e4,#02bac5,#2fc5a3,#32c69f,#1dc0b3,#01bac5,#01b7ca,#02bac4,#0abdbd,#0cbdbc,#0bbdbd,#0dbdbb,#17bfb7,#1ec0b2,#1fc0b2,#1bc0b4,#1ac0b5,#1fc0b2,#25c2ae,#24c1af,#1bc0b4,#15bfb7,#20c1b1,#31c6a0,#3fca8e,#3cc992,#20c1b1,#12b1d6,#22a2e4,#1baade,#1cc0b3,#65cd6e,#8bcb51,#43ca8b,#13b1d7,#2d8af5,#2d8bf4,#07b5cf,#67cd6d,#bbc430,#78cc5f,#01b8c8,#2d89f5,#2f80fa,#1caadf,#40ca8d,#9dc943,#79cc5e,#1dc0b3,#21a3e3,#2896eb,#1ea7e1,#04bbc2,#28c2ab,#23c1af,#09bcbe,#04bbc1)"></i><i style="background:linear-gradient(90deg,#10beba,#1bc0b4,#35c79a,#4acb85,#34c79c,#04b6cd,#249fe5,#20a5e2,#27c2ac,#acc739,#e9bb30,#9ec942,#01b8c9,#3875fe,#465efb,#2a93ed,#39c895,#cdc028,#c1c32c,#2dc4a5,#2c8ef2,#4564fd,#2f82fa,#01b9c6,#61cd71,#6fcd66,#24c1af,#22a1e4,#2d8df2,#23a0e5,#0bbdbc,#3eca8f,#3eca8f,#1fc0b2,#08b4d1,#16afd9,#06b5cf,#0dbdbb,#23c1af,#20c1b1,#0cbdbc,#01b9c6,#01b8c9,#02bac3,#16bfb7,#29c3aa,#2ec5a4,#29c3aa,#10beba,#01b8c8,#01b8c9,#14bfb8,#37c898,#55cc7c,#46cb88,#19bfb5,#1caadf,#269ae9,#1da9e0,#28c3aa,#7fcc5a,#97ca47,#3bc992,#1ca9df,#2f82fa,#2d8bf4,#01b8c9,#72cd63,#b4c533,#5ecd74,#10b2d5,#2e85f8,#2e85f8,#13b0d7,#4ccb83,#98ca47,#66cd6d,#0fbebb,#20a4e3,#259ce7,#18addb,#0abdbd,#24c1ae,#18bfb6,#05bbc1,#09bcbe)"></i><i style="background:linear-gradient(90deg,#18bfb6,#13beb9,#2cc4a7,#37c897,#2ac3a8,#07b5d0,#21a3e3,#1aabdd,#2ec5a4,#a9c73a,#d8be28,#7acc5e,#11b1d6,#3b72ff,#4367fd,#23a0e5,#54cc7c,#dbbd28,#bbc430,#20c1b1,#2e86f7,#4564fd,#2d8bf3,#1dc0b3,#88cb53,#82cc58,#1ec0b2,#269ae9,#2e85f8,#23a0e5,#1ec0b2,#58cc79,#51cc7f,#1ec0b2,#17aeda,#1fa6e2,#10b2d5,#1abfb5,#32c69e,#2fc5a3,#0cbdbc,#0db3d3,#17aeda,#08b4d0,#15bfb7,#33c69d,#38c896,#2ac3a8,#01b9c6,#17aeda,#16aeda,#06bcc0,#3bc993,#66cd6d,#4ecc81,#0ebdbb,#23a1e5,#2c90f0,#20a4e3,#2ac3a9,#89cb53,#99c946,#35c79a,#22a2e4,#347afd,#2d88f6,#01b9c8,#72cd63,#aac73a,#4ccb83,#18addb,#2e83f9,#2d89f6,#0ab4d2,#4fcc81,#8dcb4f,#57cc7a,#09bcbe,#1ea7e1,#21a4e3,#0db3d3,#12beb9,#20c1b1,#10beba,#05bbc1,#14beb8)"></i><i style="background:linear-gradient(90deg,#27c2ac,#0fbeba,#1fc0b2,#2fc5a2,#2bc3a8,#01b9c8,#1ea8e1,#1ca9df,#1bc0b4,#84cc56,#cbc129,#8ccb50,#02bac4,#2f82fa,#426afe,#2699e9,#3dc990,#d5be28,#d1bf27,#36c799,#2a93ee,#4466fd,#2e83f9,#0abdbd,#8ccb50,#a4c83e,#34c79b,#23a1e4,#2f80fa,#2995ec,#0cbdbc,#62cd70,#73cd63,#30c5a1,#14b0d8,#249ee6,#1ca9df,#12beb9,#3eca8f,#43ca8a,#25c2ad,#0fb2d4,#20a4e3,#1caadf,#04bbc1,#36c899,#4ccb82,#35c79a,#01bac5,#1fa5e2,#249fe5,#11b1d5,#30c5a2,#6bcd69,#68cd6c,#26c2ad,#21a2e4,#2e85f8,#2a92ee,#02bac3,#6ccd69,#a1c840,#49cb85,#1babde,#3479fd,#3579fd,#1baade,#49cb85,#a1c840,#65cd6e,#02b7cb,#2d8df2,#2e86f7,#1babde,#35c79a,#78cc5f,#5dcc75,#20c1b1,#15afd9,#1ca9df,#0ab4d2,#0cbdbc,#1ac0b4,#0dbdbb,#07bcbf,#1dc0b3)"></i><i style="background:linear-gradient(90deg,#30c5a1,#0fbeba,#10beba,#26c2ad,#26c2ad,#02bac4,#19addc,#19addc,#18bfb6,#73cd63,#bcc42f,#86cb54,#08bcbf,#2d8af4,#3a74fe,#249ee6,#41ca8d,#d6be28,#d3bf27,#3ac994,#2896eb,#4368fe,#2e84f8,#0ebdbb,#99c946,#b8c431,#3dca90,#21a3e4,#327cfc,#2c8ff1,#08bcbe,#72cd63,#93ca4b,#3cc991,#12b1d7,#2798ea,#21a3e3,#11beb9,#53cc7d,#68cd6c,#33c79d,#0cb3d3,#259de7,#23a0e5,#01b8c9,#3bc993,#65cd6e,#44cb89,#02bbc3,#249ee6,#2b92ee,#1ea8e1,#28c3ab,#72cd63,#7dcc5c,#2fc5a3,#21a3e3,#317efb,#2e86f7,#0bb4d2,#59cc78,#a0c941,#53cc7d,#16aeda,#3479fd,#3c72ff,#22a2e4,#39c895,#97ca47,#6ccd68,#04bbc2,#2994ed,#2d8af5,#1ca9df,#2fc5a2,#68cd6c,#56cc7b,#24c1ae,#0bb3d2,#16afd9,#03b7cc,#10beba,#17bfb6,#0abdbd,#0abdbd,#27c2ac)"></i><i style="background:linear-gradient(90deg,#34c79c,#09bdbe,#03bbc2,#18bfb6,#1fc0b1,#04bbc2,#10b2d5,#0cb3d3,#26c2ac,#74cd62,#aac73a,#69cd6b,#01b9c8,#2d8cf3,#2f82f9,#19addc,#61cd71,#ddbd29,#c2c22c,#2bc3a8,#2d8df2,#4368fe,#2c8ef2,#29c3a9,#b2c535,#bcc42f,#36c799,#259be7,#3776fe,#2b91ef,#1dc0b3,#92ca4b,#aac73a,#3fca8e,#18aedb,#2a93ee,#21a2e4,#23c1af,#77cc60,#8dcb4f,#3bc992,#12b1d6,#2895ec,#259be8,#01b9c7,#4dcc82,#83cc57,#50cc7f,#01b9c7,#2896eb,#2d8af5,#1fa6e2,#2ec5a4,#88cb53,#8ccb50,#2fc5a3,#239fe5,#3578fd,#2e85f8,#07b5cf,#60cd72,#a0c941,#4acb84,#1babde,#3777fe,#3a74fe,#1fa6e2,#3dc990,#94ca4a,#63cd70,#02bac4,#2797ea,#2b92ef,#15afd8,#32c69e,#60cd73,#48cb86,#1dc0b3,#07b5cf,#0bb4d2,#02bac4,#16bfb7,#14beb8,#08bcbe,#12beb9,#31c6a0)"></i><i style="background:linear-gradient(90deg,#2ec5a4,#01b8c8,#03b7cc,#0cbdbc,#1dc0b3,#0abdbd,#02b7cb,#02bac4,#32c69f,#75cc62,#8ccb50,#40ca8d,#12b1d7,#2c8ef1,#2995ec,#0abdbd,#95ca49,#debd29,#94ca4a,#01b8c8,#317dfc,#406cfe,#23a0e5,#47cb87,#c9c129,#a9c73a,#1cc0b3,#2d8cf3,#3b73fe,#259ce7,#37c897,#b9c430,#b3c534,#35c79b,#20a4e3,#2c8ef1,#1da8e0,#37c897,#a6c83c,#a6c83d,#37c897,#1ca9df,#2d8df3,#259ce7,#14bfb8,#75cc61,#9ec942,#4dcc82,#0cb3d3,#2d8cf3,#2d89f6,#17aeda,#45cb88,#aac73a,#90ca4d,#22c1af,#2896eb,#3776fe,#2c8ff0,#0ebdbb,#80cc59,#9fc942,#37c898,#23a0e5,#3b73fe,#307efb,#11b2d5,#53cc7d,#91ca4c,#4ccb83,#06b5ce,#2798ea,#259ce7,#01b8c9,#3bc992,#59cc79,#39c895,#0fbebb,#05b6cd,#01b8ca,#0cbdbc,#18bfb6,#0cbdbc,#07bcc0,#1fc0b2,#3eca8f)"></i><i style="background:linear-gradient(90deg,#33c69e,#03b7cc,#10b2d5,#01bac5,#1cc0b3,#1bc0b4,#06bcc0,#07bcc0,#2ec4a5,#5fcd73,#7ccc5c,#42ca8b,#05b6ce,#2797eb,#2699e9,#05bbc1,#83cc57,#d4bf28,#97ca48,#04bbc1,#2e83f9,#406cfe,#269ae8,#39c895,#c1c32c,#b3c534,#2ac3a8,#2b91ef,#3d70ff,#2994ed,#2fc5a2,#bdc32e,#cdc028,#4dcb82,#1babde,#2d8bf4,#239fe5,#2fc5a3,#adc638,#c4c22b,#53cc7d,#16afda,#2d89f6,#2b92ee,#03bbc2,#79cc5e,#bcc42f,#75cc61,#02bac5,#2c8ff0,#2e84f8,#1da9e0,#40ca8d,#b6c532,#aec637,#34c79c,#249fe5,#347afd,#2d8cf3,#03bbc3,#79cc5f,#aac73a,#49cb85,#1babde,#327cfc,#307efb,#19addc,#42ca8b,#8acb52,#56cc7a,#03bbc2,#22a1e4,#23a1e5,#02b7cb,#34c79c,#4acb84,#36c899,#16bfb7,#01b9c6,#04bbc2,#15bfb7,#16bfb7,#05bbc1,#01b9c6,#19bfb6,#3fca8e)"></i><i style="background:linear-gradient(90deg,#47cb87,#01b9c7,#19acdc,#0bb3d2,#11beb9,#26c2ad,#1cc0b4,#0fbebb,#25c2ae,#44cb8a,#6bcd69,#50cc7f,#0fbebb,#21a2e4,#2798ea,#0cb3d3,#51cc7e,#c1c32c,#afc637,#2ec4a4,#2895ec,#3f6eff,#2d8af5,#15bfb8,#a0c841,#c6c22a,#4dcc82,#20a5e2,#3a74fe,#2e83f9,#02bac4,#9dc943,#e1bc2b,#90ca4d,#01bac5,#2d8df2,#2d8df2,#01b9c7,#84cc56,#d3bf27,#8fca4d,#05bbc1,#2d8df2,#2e83f9,#19acdc,#55cc7c,#cac129,#b4c533,#31c69f,#249ee6,#2f81fa,#269ae9,#29c3aa,#a8c73b,#ccc028,#64cd6f,#10b2d5,#2e84f9,#2e83f9,#14b0d8,#53cc7d,#aec637,#77cc60,#02bac3,#2d8df2,#317efb,#23a1e5,#2bc4a7,#74cc62,#67cd6c,#25c2ad,#18addb,#20a5e2,#0ab4d2,#27c2ac,#3ac993,#34c79c,#1fc1b1,#0bbdbd,#13beb8,#22c1b0,#1cc0b3,#02bac4,#06b5cf,#02bbc3,#34c79c)"></i><i style="background:linear-gradient(90deg,#45cb89,#05b6ce,#1fa6e2,#16afd9,#0fbeba,#2ec4a4,#2cc4a7,#1fc1b1,#25c2ae,#38c896,#51cc7f,#3fca8e,#0cbdbc,#1ea7e1,#23a0e5,#03b7cc,#53cc7d,#b6c532,#a0c941,#2ac3a9,#2797eb,#3975fe,#2c90f0,#1fc0b2,#a4c83e,#c5c22a,#4bcb83,#20a5e2,#3975fe,#2e84f9,#02bbc3,#a0c841,#e5bb2d,#94ca4a,#01b9c7,#2d88f6,#2e86f7,#06b5cf,#7ccc5c,#d4be28,#92ca4b,#02bac3,#2d88f6,#327cfc,#1baade,#5bcc76,#d8be28,#c4c22b,#35c79a,#249fe6,#2f81fa,#259be7,#2ec4a5,#b1c635,#cfc028,#62cd70,#12b1d6,#2e85f8,#2e87f7,#0db3d3,#5bcc76,#aec637,#73cd63,#02bbc3,#2b91ef,#2e84f8,#20a5e2,#2cc4a7,#6acd6a,#5ccc76,#24c1af,#13b0d7,#1babde,#03b7cb,#27c2ac,#35c79b,#2fc5a3,#1ec0b2,#18bfb6,#25c2ae,#2bc3a8,#1ec0b2,#01b8c9,#0fb2d5,#01b9c7,#34c79c)"></i><i style="background:linear-gradient(90deg,#1ec0b2,#20a4e3,#249fe6,#0ab4d1,#2cc4a7,#3dca90,#34c79c,#24c2ae,#21c1b0,#2fc5a2,#36c899,#28c3aa,#03b7cc,#1caadf,#13b0d7,#2bc3a8,#81cc59,#a8c73b,#57cc7a,#0ab4d2,#2d89f5,#2e86f7,#11b1d6,#61cd71,#c8c129,#9bc945,#13beb9,#2d8cf3,#3876fe,#23a0e5,#44ca8a,#d5be28,#d2bf27,#3dc991,#259de7,#3776fe,#2a93ed,#2bc3a8,#b7c532,#cbc129,#43ca8a,#23a0e5,#3c72ff,#2d87f7,#10beba,#abc739,#e4bb2c,#8acb52,#01b8ca,#2d8af5,#2d88f6,#08b5d0,#72cd63,#d4bf28,#aac73a,#26c2ac,#2798ea,#3080fb,#249de6,#2dc4a6,#97ca47,#a1c840,#37c897,#1da8e0,#2d88f6,#2994ed,#01b8c9,#45cb89,#65cd6e,#39c895,#02bac4,#16afd9,#0bb3d2,#14bfb8,#30c5a1,#32c69f,#27c2ab,#1ec0b2,#26c2ad,#2fc5a3,#2bc3a8,#08bcbe,#0eb2d4,#10b2d5,#17bfb7,#53cc7d)"></i><i style="background:linear-gradient(90deg,#02bac3,#259be8,#259be7,#03b7cc,#36c898,#51cc7f,#39c995,#20c1b1,#0dbdbb,#1cc0b3,#28c3aa,#1cc0b3,#01b8ca,#13b0d7,#01b7ca,#33c69d,#7bcc5d,#8bcb51,#3bc993,#15afd9,#2c8ef1,#2796eb,#08bcbf,#84cc56,#cac129,#82cc58,#01b9c6,#2d89f5,#3080fb,#18aedb,#67cd6c,#dfbc2a,#bfc32d,#29c3aa,#2c8ff0,#3d70ff,#2798ea,#35c79a,#c2c22c,#bec32e,#31c6a0,#2a93ed,#416cfe,#2d8df3,#27c2ac,#bdc32e,#debc2a,#68cd6b,#15afd9,#2e83f9,#2d8df2,#05bbc1,#8fcb4e,#d5be28,#8dcb4f,#07bcc0,#2c90f0,#2e84f9,#1da8e0,#3ac994,#9cc944,#87cb54,#27c2ac,#23a1e4,#2d8bf4,#249ee6,#0bbdbc,#49cb86,#56cc7b,#30c5a1,#02bac4,#08b5d0,#02bac4,#25c2ad,#30c5a1,#2cc4a7,#21c1b0,#23c1af,#2fc5a3,#34c79b,#29c3a9,#01b9c7,#18aedb,#11b1d6,#23c1af,#64cd6f)"></i><i style="background:linear-gradient(90deg,#01b9c6,#2796eb,#2797eb,#05b6ce,#3bc992,#62cd71,#42ca8c,#1cc0b3,#01b9c7,#02bac3,#16bfb7,#1abfb5,#03bbc2,#05b6ce,#02bac5,#30c5a1,#64cd6f,#73cd63,#37c898,#0fb2d4,#2797ea,#249ee6,#12beb9,#82cc57,#c5c22a,#81cc58,#04bbc2,#2c8ff0,#2e86f7,#13b0d7,#69cd6b,#ddbd29,#bdc32e,#29c3aa,#2c8ef1,#3f6efe,#2994ed,#31c6a0,#bec32e,#c2c22c,#34c79b,#2896eb,#416bfe,#2d89f5,#1cc0b3,#b1c635,#d9be28,#68cd6c,#15afd9,#2f82f9,#2d8af4,#01b9c6,#83cc57,#cdc028,#89cb53,#08bcbf,#2b92ee,#2e86f7,#1da9e0,#36c799,#8ccb50,#76cc61,#22c1b0,#21a3e4,#2b91ef,#22a2e4,#0cbdbc,#40ca8d,#4acb85,#30c5a2,#0bbdbd,#02bac4,#13beb8,#29c3a9,#2cc4a6,#22c1af,#18bfb6,#24c1ae,#33c69d,#39c895,#29c3a9,#03b7cc,#1da9e0,#18addb,#1dc0b3,#65cd6e)"></i><i style="background:linear-gradient(90deg,#03b6cc,#2b91ef,#2a93ee,#05b6ce,#44cb8a,#74cc62,#4bcb84,#18bfb6,#09b4d1,#08b4d1,#06bcc0,#1bc0b4,#14beb8,#04bbc2,#09bdbe,#2dc4a5,#4ecc81,#5acc78,#32c69f,#09b4d1,#249fe5,#1fa6e2,#1bc0b4,#7ccc5c,#b6c532,#72cd64,#02bac3,#2a93ee,#2d8cf3,#0ab4d2,#6dcd67,#d9be28,#b4c533,#24c2ae,#2c8ef1,#3e6fff,#2796eb,#32c69e,#c0c32d,#c4c22b,#37c898,#2698ea,#406dfe,#2d88f6,#13beb9,#a3c83f,#cfc028,#60cd72,#16afda,#2f82fa,#2d89f5,#01b7ca,#74cd62,#c0c32d,#7dcc5c,#05bbc1,#2a93ed,#2d89f5,#1ca9df,#32c69e,#79cc5e,#62cd70,#1abfb5,#20a5e3,#2797eb,#1da8e0,#11beba,#39c994,#3dca90,#2dc4a6,#14beb8,#10beba,#21c1b0,#2ac3a9,#23c1af,#0fbebb,#0bbdbd,#24c1ae,#36c898,#3cc992,#26c2ac,#0cb3d3,#21a3e4,#1caadf,#1abfb5,#66cd6d)"></i><i style="background:linear-gradient(90deg,#0bb3d2,#2d8bf4,#2c8ff1,#05b6ce,#4fcc81,#87cb54,#56cc7b,#15bfb7,#15afd8,#16afd9,#01bac5,#22c1b0,#27c2ab,#1bc0b4,#15bfb7,#29c3aa,#3bc993,#43ca8b,#2dc4a6,#04b6cd,#1fa6e1,#1aacdd,#1ec0b2,#6dcd68,#9ec942,#5ecc74,#01b9c7,#2895ec,#2b91ef,#06b5ce,#6acd6a,#cfc028,#a6c83d,#1ec0b2,#2c8ff0,#3974fe,#269ae8,#35c79a,#c0c32d,#c3c22b,#39c895,#259ce7,#3c71ff,#2d88f6,#09bcbe,#91ca4c,#c2c22c,#5ccc76,#14b0d8,#2e84f9,#2d88f6,#08b4d0,#5fcd73,#acc738,#6ecd66,#04bbc2,#2896ec,#2d8cf3,#1ca9df,#2ec4a4,#64cd6f,#50cc7f,#12beb9,#1da8e0,#249ee6,#18addb,#13beb8,#33c69d,#34c79c,#26c2ac,#16bfb7,#1ac0b5,#25c2ae,#23c1af,#0dbdbc,#01b9c7,#02bac4,#25c2ae,#3bc992,#3fca8e,#23c1af,#15afd8,#249de6,#1fa6e1,#17bfb6,#67cd6c)"></i></div>
<div class="hm" style="left:619.7px;top:237.6px;width:171.3px;height:171.1px;--rh:2.0129px"><i style="background:linear-gradient(90deg,#75cc61,#31c69f,#1ea7e1,#3080fa,#2e86f7,#05b6ce,#87cb54,#edba33,#c6c22a,#25c2ae,#2e83f9,#4757f7,#337afd,#16bfb7,#cfc028,#fec239,#b9c430,#01b9c7,#3c72ff,#4759f8,#2d8bf3,#31c5a1,#d3bf27,#efba35,#81cc58,#0eb3d4,#327cfc,#3c72ff,#23a0e5,#37c898,#b2c635,#bcc42f,#50cc80,#11b1d6,#2d8cf3,#2d8af4,#19acdc,#37c898,#90ca4d,#92ca4b,#3bc993,#12b1d6,#2a93ee,#2a93ee,#12b1d6,#3bc993,#92ca4b,#90ca4d,#37c898,#19acdc,#2d8af4,#2d8cf3,#11b1d6,#50cc80,#bcc42f,#b2c635,#37c898,#23a0e5,#3c72ff,#327cfc,#0eb3d4,#81cc58,#efba35,#d3bf27,#31c5a1,#2d8bf3,#4759f8,#3c72ff,#01b9c7,#b9c430,#fec239,#cfc028,#16bfb7,#337afd,#4757f7,#2e83f9,#25c2ae,#c6c22a,#edba33,#87cb54,#05b6ce,#2e86f7,#3080fa,#1ea7e1,#31c69f,#75cc61)"></i><i style="background:linear-gradient(90deg,#89cb52,#32c69e,#22a2e4,#3777fe,#2f81fa,#03b7cc,#96ca48,#f6ba3b,#cbc129,#20c1b1,#307ffb,#4854f6,#327bfc,#1cc0b4,#d2bf27,#fec13a,#b1c635,#01b8c9,#3a74fe,#465efb,#2b90f0,#32c69f,#c9c129,#e1bc2b,#71cd64,#0db3d3,#2e84f9,#317dfc,#1fa5e2,#35c79b,#99c946,#9fc942,#42ca8c,#0bb3d2,#2797eb,#2796eb,#12b1d6,#32c69e,#6ecd67,#6ecd67,#34c79c,#08b4d1,#249fe6,#249fe6,#08b4d1,#34c79c,#6ecd67,#6ecd67,#32c69e,#12b1d6,#2796eb,#2797eb,#0bb3d2,#42ca8c,#9fc942,#99c946,#35c79b,#1fa5e2,#317dfc,#2e84f9,#0db3d3,#71cd64,#e1bc2b,#c9c129,#32c69f,#2b90f0,#465efb,#3a74fe,#01b8c9,#b1c635,#fec13a,#d2bf27,#1cc0b4,#327bfc,#4854f6,#307ffb,#20c1b1,#cbc129,#f6ba3b,#96ca48,#03b7cc,#2f81fa,#3777fe,#22a2e4,#32c69e,#89cb52)"></i><i style="background:linear-gradient(90deg,#9bc945,#32c69e,#249de7,#3f6eff,#317dfc,#01b8ca,#a4c83e,#fbbc3d,#ccc028,#1ac0b4,#337bfc,#4853f5,#317dfb,#21c1b0,#d3bf27,#febe3c,#a7c73c,#03b7cc,#3777fe,#4464fd,#2896ec,#32c69e,#bbc42f,#cfc028,#60cd72,#0bb4d2,#2d8cf3,#2d89f5,#1babde,#32c69f,#7bcc5d,#7ccc5c,#37c897,#05b6ce,#22a2e4,#21a3e3,#06b5cf,#2dc4a6,#4ccb83,#4bcb84,#2dc4a6,#01b8ca,#1babde,#1babde,#01b8ca,#2dc4a6,#4bcb84,#4ccb83,#2dc4a6,#06b5cf,#21a3e3,#22a2e4,#05b6ce,#37c897,#7ccc5c,#7bcc5d,#32c69f,#1babde,#2d89f5,#2d8cf3,#0bb4d2,#60cd72,#cfc028,#bbc42f,#32c69e,#2896ec,#4464fd,#3777fe,#03b7cc,#a7c73c,#febe3c,#d3bf27,#21c1b0,#317dfb,#4853f5,#337bfc,#1ac0b4,#ccc028,#fbbc3d,#a4c83e,#01b8ca,#317dfc,#3f6eff,#249de7,#32c69e,#9bc945)"></i><i style="background:linear-gradient(90deg,#a9c73a,#32c69f,#2798ea,#4367fd,#347afd,#01b9c8,#b0c636,#febf3b,#ccc028,#14beb8,#3678fd,#4854f5,#2f81fa,#26c2ac,#d2bf27,#fabb3d,#9ac945,#05b6ce,#327bfc,#406dfe,#259be8,#32c69e,#a9c73a,#b6c532,#50cc80,#08b5d0,#2896eb,#2895ec,#14b0d8,#2ec5a4,#5bcc77,#58cc79,#2fc5a2,#01b8c8,#18addb,#16afd9,#01b9c7,#25c2ad,#34c79c,#33c69e,#24c1af,#03bbc2,#06b5cf,#06b5cf,#03bbc2,#24c1af,#33c69e,#34c79c,#25c2ad,#01b9c7,#16afd9,#18addb,#01b8c8,#2fc5a2,#58cc79,#5bcc77,#2ec5a4,#14b0d8,#2895ec,#2896eb,#08b5d0,#50cc80,#b6c532,#a9c73a,#32c69e,#259be8,#406dfe,#327bfc,#05b6ce,#9ac945,#fabb3d,#d2bf27,#26c2ac,#2f81fa,#4854f5,#3678fd,#14beb8,#ccc028,#febf3b,#b0c636,#01b9c8,#347afd,#4367fd,#2798ea,#32c69f,#a9c73a)"></i><i style="background:linear-gradient(90deg,#b6c533,#31c6a1,#2a93ee,#4561fc,#3678fe,#02bac4,#bac430,#fec13a,#c9c129,#0cbdbc,#3776fe,#4755f6,#2e85f8,#2ac3a9,#cfc028,#f2ba37,#8bcb51,#06b5cf,#2f81fa,#3777fe,#22a1e4,#31c69f,#93ca4b,#99c946,#40ca8d,#05b6cd,#23a0e5,#22a1e4,#07b5d0,#29c3a9,#3eca8f,#3ac994,#27c2ac,#04bbc2,#02b7cb,#01b8c8,#09bcbe,#19bfb5,#1ec0b2,#1bc0b4,#15bfb8,#10beba,#0ebdbb,#0ebdbb,#10beba,#15bfb8,#1bc0b4,#1ec0b2,#19bfb5,#09bcbe,#01b8c8,#02b7cb,#04bbc2,#27c2ac,#3ac994,#3eca8f,#29c3a9,#07b5d0,#22a1e4,#23a0e5,#05b6cd,#40ca8d,#99c946,#93ca4b,#31c69f,#22a1e4,#3777fe,#2f81fa,#06b5cf,#8bcb51,#f2ba37,#cfc028,#2ac3a9,#2e85f8,#4755f6,#3776fe,#0cbdbc,#c9c129,#fec13a,#bac430,#02bac4,#3678fe,#4561fc,#2a93ee,#31c6a1,#b6c533)"></i><i style="background:linear-gradient(90deg,#bfc32d,#2fc5a3,#2c8ef2,#475cfa,#3777fe,#05bbc1,#c2c22c,#fec239,#c4c22b,#06bcc0,#3875fe,#4759f8,#2d89f5,#2dc4a6,#c8c129,#e6bb2d,#7acc5e,#07b5d0,#2d88f6,#2f82f9,#1ea7e1,#30c5a1,#79cc5f,#77cc60,#36c799,#01b8ca,#1baade,#19addb,#01b9c7,#22c1b0,#2dc4a6,#27c2ab,#19bfb5,#0fbeba,#14beb8,#1bc0b4,#19bfb5,#09bdbe,#01b9c7,#01b8c9,#06bcc0,#1fc1b1,#2dc4a5,#2dc4a5,#1fc1b1,#06bcc0,#01b8c9,#01b9c7,#09bdbe,#19bfb5,#1bc0b4,#14beb8,#0fbeba,#19bfb5,#27c2ab,#2dc4a6,#22c1b0,#01b9c7,#19addb,#1baade,#01b8ca,#36c799,#77cc60,#79cc5f,#30c5a1,#1ea7e1,#2f82f9,#2d88f6,#07b5d0,#7acc5e,#e6bb2d,#c8c129,#2dc4a6,#2d89f5,#4759f8,#3875fe,#06bcc0,#c4c22b,#fec239,#c2c22c,#05bbc1,#3777fe,#475cfa,#2c8ef2,#2fc5a3,#bfc32d)"></i><i style="background:linear-gradient(90deg,#c6c22a,#2dc4a6,#2d89f5,#4758f8,#3777fe,#0bbdbd,#c9c129,#fec239,#bdc32e,#02bac4,#3876fe,#465dfa,#2c8ef1,#2fc5a3,#bfc32d,#d6be28,#68cd6c,#07b5d0,#2c8ff0,#2d8df2,#19addc,#2ec4a4,#5dcc75,#55cc7c,#2ec4a4,#02bac5,#0ab4d1,#03b7cc,#08bcbe,#16bfb7,#10beba,#07bcc0,#09bcbe,#1ec0b2,#2fc5a2,#33c69d,#26c2ac,#01b9c6,#15afd9,#18aedb,#01b8c9,#2bc3a8,#43ca8b,#43ca8b,#2bc3a8,#01b8c9,#18aedb,#15afd9,#01b9c6,#26c2ac,#33c69d,#2fc5a2,#1ec0b2,#09bcbe,#07bcc0,#10beba,#16bfb7,#08bcbe,#03b7cc,#0ab4d1,#02bac5,#2ec4a4,#55cc7c,#5dcc75,#2ec4a4,#19addc,#2d8df2,#2c8ff0,#07b5d0,#68cd6c,#d6be28,#bfc32d,#2fc5a3,#2c8ef1,#465dfa,#3876fe,#02bac4,#bdc32e,#fec239,#c9c129,#0bbdbd,#3777fe,#4758f8,#2d89f5,#2dc4a6,#c6c22a)"></i><i style="background:linear-gradient(90deg,#cbc129,#29c3aa,#2e84f8,#4756f6,#3578fd,#13beb8,#cec028,#fec13a,#b3c534,#01b9c7,#3677fe,#4563fc,#2994ed,#30c5a1,#b3c534,#c2c22b,#57cc7a,#06b5cf,#2797ea,#2699ea,#0fb2d5,#2bc3a8,#42ca8c,#39c995,#25c2ae,#08bcbf,#06bcc1,#12beb9,#18bfb6,#08bcbf,#04b6cd,#0cb3d3,#01b9c6,#2ac3a9,#47cb87,#4ecc82,#2fc5a3,#06b5cf,#22a2e4,#23a0e5,#08b4d1,#32c69e,#6acd6a,#6acd6a,#32c69e,#08b4d1,#23a0e5,#22a2e4,#06b5cf,#2fc5a3,#4ecc82,#47cb87,#2ac3a9,#01b9c6,#0cb3d3,#04b6cd,#08bcbf,#18bfb6,#12beb9,#06bcc1,#08bcbf,#25c2ae,#39c995,#42ca8c,#2bc3a8,#0fb2d5,#2699ea,#2797ea,#06b5cf,#57cc7a,#c2c22b,#b3c534,#30c5a1,#2994ed,#4563fc,#3677fe,#01b9c7,#b3c534,#fec13a,#cec028,#13beb8,#3578fd,#4756f6,#2e84f8,#29c3aa,#cbc129)"></i><i style="background:linear-gradient(90deg,#cdc028,#25c2ae,#3080fa,#4854f5,#337afd,#1bc0b4,#d1bf27,#febe3c,#a8c73b,#02b7cb,#347afd,#426afe,#269ae9,#31c6a0,#a3c83f,#aac73a,#47cb87,#05b6ce,#23a0e5,#21a4e3,#04b6cd,#26c2ad,#31c6a0,#29c3aa,#17bfb7,#14bfb8,#25c2ad,#2ec4a5,#25c2ae,#01b9c7,#1aabdd,#1ea8e1,#05b6ce,#32c69e,#6ecd67,#75cc61,#35c79a,#12b1d7,#2a93ee,#2b92ef,#13b0d8,#3bc993,#96ca48,#96ca48,#3bc993,#13b0d8,#2b92ef,#2a93ee,#12b1d7,#35c79a,#75cc61,#6ecd67,#32c69e,#05b6ce,#1ea8e1,#1aabdd,#01b9c7,#25c2ae,#2ec4a5,#25c2ad,#14bfb8,#17bfb7,#29c3aa,#31c6a0,#26c2ad,#04b6cd,#21a4e3,#23a0e5,#05b6ce,#47cb87,#aac73a,#a3c83f,#31c6a0,#269ae9,#426afe,#347afd,#02b7cb,#a8c73b,#febe3c,#d1bf27,#1bc0b4,#337afd,#4854f5,#3080fa,#25c2ae,#cdc028)"></i><i style="background:linear-gradient(90deg,#cec028,#1ec0b2,#327cfc,#4853f5,#317efb,#23c1af,#d2bf27,#fabb3d,#9ac945,#05b6ce,#317efb,#3b73fe,#23a0e5,#32c69f,#90ca4d,#8ecb4f,#3ac994,#02b7cb,#1ca9df,#17aeda,#02bac5,#1dc0b3,#1dc0b3,#0bbdbd,#08bcbe,#22c1b0,#37c897,#40ca8d,#2dc4a6,#07b5d0,#249ee6,#269ae8,#0eb3d4,#3cc992,#9ac945,#9fc941,#3cc991,#1aabdd,#2e83f9,#2f82f9,#1aacdd,#47cb87,#bec32e,#bec32e,#47cb87,#1aacdd,#2f82f9,#2e83f9,#1aabdd,#3cc991,#9fc941,#9ac945,#3cc992,#0eb3d4,#269ae8,#249ee6,#07b5d0,#2dc4a6,#40ca8d,#37c897,#22c1b0,#08bcbe,#0bbdbd,#1dc0b3,#1dc0b3,#02bac5,#17aeda,#1ca9df,#02b7cb,#3ac994,#8ecb4f,#90ca4d,#32c69f,#23a0e5,#3b73fe,#317efb,#05b6ce,#9ac945,#fabb3d,#d2bf27,#23c1af,#317efb,#4853f5,#327cfc,#1ec0b2,#cec028)"></i><i style="background:linear-gradient(90deg,#cdc028,#16bfb7,#3579fd,#4854f5,#2f81fa,#28c3ab,#d1bf27,#f4ba3a,#8bcb51,#07b5d0,#2f82f9,#327cfc,#1fa6e2,#31c69f,#79cc5e,#6fcd66,#32c69f,#01b9c8,#10b2d5,#03b7cc,#0bbdbd,#10beba,#02bac5,#05b6ce,#01bac5,#2dc4a6,#55cc7b,#62cd71,#32c69f,#15afd8,#2c8ff1,#2d8df2,#15afd8,#4bcb84,#c2c22c,#c3c22b,#46cb88,#1fa5e2,#3c71ff,#3c71ff,#1ea7e1,#57cc7a,#dfbc2a,#dfbc2a,#57cc7a,#1ea7e1,#3c71ff,#3c71ff,#1fa5e2,#46cb88,#c3c22b,#c2c22c,#4bcb84,#15afd8,#2d8df2,#2c8ff1,#15afd8,#32c69f,#62cd71,#55cc7b,#2dc4a6,#01bac5,#05b6ce,#02bac5,#10beba,#0bbdbd,#03b7cc,#10b2d5,#01b9c8,#32c69f,#6fcd66,#79cc5e,#31c69f,#1fa6e2,#327cfc,#2f82f9,#07b5d0,#8bcb51,#f4ba3a,#d1bf27,#28c3ab,#2f81fa,#4854f5,#3579fd,#16bfb7,#cdc028)"></i><i style="background:linear-gradient(90deg,#cac129,#0dbdbb,#3876fe,#4755f6,#2e86f8,#2cc4a6,#cfc028,#ebba32,#7acc5d,#0ab4d2,#2d87f7,#2e86f7,#1babde,#30c5a1,#61cd71,#52cc7e,#2bc3a8,#02bbc3,#01b9c7,#0dbdbc,#18bfb6,#04bbc2,#11b1d6,#19acdc,#02b7cb,#35c79a,#7dcc5b,#87cb54,#36c899,#1ca9df,#307ffb,#307ffb,#19addc,#5fcd73,#e3bc2c,#e0bc2b,#4fcc80,#249fe6,#4661fc,#4562fc,#21a3e4,#66cd6d,#f8ba3d,#f8ba3d,#66cd6d,#21a3e4,#4562fc,#4661fc,#249fe6,#4fcc80,#e0bc2b,#e3bc2c,#5fcd73,#19addc,#307ffb,#307ffb,#1ca9df,#36c899,#87cb54,#7dcc5b,#35c79a,#02b7cb,#19acdc,#11b1d6,#04bbc2,#18bfb6,#0dbdbc,#01b9c7,#02bbc3,#2bc3a8,#52cc7e,#61cd71,#30c5a1,#1babde,#2e86f7,#2d87f7,#0ab4d2,#7acc5d,#ebba32,#cfc028,#2cc4a6,#2e86f8,#4755f6,#3876fe,#0dbdbb,#cac129)"></i><i style="background:linear-gradient(90deg,#c5c22a,#06bcc0,#3a74fe,#4757f8,#2d8af4,#30c5a2,#cbc129,#e0bc2a,#6acd6a,#0cb3d3,#2d8df2,#2c8ff0,#14b0d8,#2ec5a4,#4acb85,#3ac993,#22c1b0,#0abdbd,#17bfb6,#28c3aa,#23c1af,#01b8ca,#1fa6e2,#22a1e4,#07b5cf,#41ca8c,#a6c73c,#aac73a,#3ac994,#22a2e4,#3f6efe,#3d70ff,#1baade,#74cc62,#fabb3d,#f6ba3b,#58cc7a,#2798ea,#4852f4,#4854f6,#249fe6,#76cc61,#fec636,#fec636,#76cc61,#249fe6,#4854f6,#4852f4,#2798ea,#58cc7a,#f6ba3b,#fabb3d,#74cc62,#1baade,#3d70ff,#3f6efe,#22a2e4,#3ac994,#aac73a,#a6c73c,#41ca8c,#07b5cf,#22a1e4,#1fa6e2,#01b8ca,#23c1af,#28c3aa,#17bfb6,#0abdbd,#22c1b0,#3ac993,#4acb85,#2ec5a4,#14b0d8,#2c8ff0,#2d8df2,#0cb3d3,#6acd6a,#e0bc2a,#cbc129,#30c5a2,#2d8af4,#4757f8,#3a74fe,#06bcc0,#c5c22a)"></i><i style="background:linear-gradient(90deg,#bfc32e,#01bac5,#3b72fe,#475bf9,#2c8ff0,#33c69e,#c5c22a,#d2bf27,#5acc77,#0db3d3,#2994ed,#2699e9,#09b4d1,#2cc4a7,#37c897,#2dc4a6,#16bfb7,#18bfb6,#2ec4a4,#37c898,#29c3aa,#0db3d3,#2699e9,#2896eb,#0bb3d2,#55cc7c,#cbc129,#c7c12a,#3dc991,#2699e9,#465efb,#4563fd,#1da9e0,#8ccb50,#fec934,#fec239,#5ecc74,#2b91ef,#4744e9,#4848ec,#259be8,#85cb55,#fbd32e,#fbd32e,#85cb55,#259be8,#4848ec,#4744e9,#2b91ef,#5ecc74,#fec239,#fec934,#8ccb50,#1da9e0,#4563fd,#465efb,#2699e9,#3dc991,#c7c12a,#cbc129,#55cc7c,#0bb3d2,#2896eb,#2699e9,#0db3d3,#29c3aa,#37c898,#2ec4a4,#18bfb6,#16bfb7,#2dc4a6,#37c897,#2cc4a7,#09b4d1,#2699e9,#2994ed,#0db3d3,#5acc77,#d2bf27,#c5c22a,#33c69e,#2c8ff0,#475bf9,#3b72fe,#01bac5,#bfc32e)"></i><i style="background:linear-gradient(90deg,#b7c532,#01b8ca,#3c72ff,#465ffb,#2995ec,#35c79a,#bcc42f,#c0c32d,#4bcb84,#0cb3d3,#259be8,#22a2e4,#01b7ca,#27c2ac,#2bc3a8,#18bfb6,#0bbdbd,#25c2ad,#3eca8f,#4ccb82,#2cc4a6,#19addc,#2d8bf3,#2d8bf4,#0db3d4,#6ccd68,#e8bb2f,#debd29,#3eca8f,#2b91ef,#484ff2,#4758f8,#1da8e0,#a2c83f,#f9d82c,#fdcd31,#62cd71,#2d8bf4,#4539d9,#463ee1,#2798ea,#93ca4b,#f6e028,#f6e028,#93ca4b,#2798ea,#463ee1,#4539d9,#2d8bf4,#62cd71,#fdcd31,#f9d82c,#a2c83f,#1da8e0,#4758f8,#484ff2,#2b91ef,#3eca8f,#debd29,#e8bb2f,#6ccd68,#0db3d4,#2d8bf4,#2d8bf3,#19addc,#2cc4a6,#4ccb82,#3eca8f,#25c2ad,#0bbdbd,#18bfb6,#2bc3a8,#27c2ac,#01b7ca,#22a2e4,#259be8,#0cb3d3,#4bcb84,#c0c32d,#bcc42f,#35c79a,#2995ec,#465ffb,#3c72ff,#01b8ca,#b7c532)"></i><i style="background:linear-gradient(90deg,#adc638,#05b6ce,#3b72ff,#4564fd,#269ae9,#37c897,#b2c635,#adc738,#3eca8f,#0ab4d2,#21a2e4,#1babde,#02bac4,#1fc0b2,#15bfb7,#02bac4,#05bbc1,#2ec5a3,#5ccc76,#68cd6c,#2ec5a4,#1fa6e2,#317dfc,#3080fa,#0eb2d4,#88cb53,#fdbd3d,#efba35,#3dc990,#2e87f7,#4741e5,#4850f2,#1da8e0,#b7c532,#f5e526,#f9d72c,#64cd6f,#2e84f8,#4331c6,#4536d4,#2896eb,#9ec942,#f5ea23,#f5ea23,#9ec942,#2896eb,#4536d4,#4331c6,#2e84f8,#64cd6f,#f9d72c,#f5e526,#b7c532,#1da8e0,#4850f2,#4741e5,#2e87f7,#3dc990,#efba35,#fdbd3d,#88cb53,#0eb2d4,#3080fa,#317dfc,#1fa6e2,#2ec5a4,#68cd6c,#5ccc76,#2ec5a3,#05bbc1,#02bac4,#15bfb7,#1fc0b2,#02bac4,#1babde,#21a2e4,#0ab4d2,#3eca8f,#adc738,#b2c635,#37c897,#269ae9,#4564fd,#3b72ff,#05b6ce,#adc638)"></i><i style="background:linear-gradient(90deg,#a2c840,#0bb4d2,#3a73fe,#426afe,#249fe5,#39c895,#a5c83d,#96ca48,#36c898,#07b5d0,#1caadf,#0eb2d4,#09bcbe,#13beb8,#01b9c6,#0ab4d1,#02bac4,#37c897,#80cc59,#84cc56,#2fc5a3,#249de6,#406dfe,#3876fe,#0cb3d3,#a3c83f,#fdcb33,#fabb3d,#3bc993,#317dfc,#4536d4,#4848ec,#1ca9df,#cac129,#f6f11f,#f6df29,#63cd6f,#317efb,#402ab4,#4331c7,#2994ec,#a8c73b,#f6f31d,#f6f31d,#a8c73b,#2994ec,#4331c7,#402ab4,#317efb,#63cd6f,#f6df29,#f6f11f,#cac129,#1ca9df,#4848ec,#4536d4,#317dfc,#3bc993,#fabb3d,#fdcb33,#a3c83f,#0cb3d3,#3876fe,#406dfe,#249de6,#2fc5a3,#84cc56,#80cc59,#37c897,#02bac4,#0ab4d1,#01b9c6,#13beb8,#09bcbe,#0eb2d4,#1caadf,#07b5d0,#36c898,#96ca48,#a5c83d,#39c895,#249fe5,#426afe,#3a73fe,#0bb4d2,#a2c840)"></i><i style="background:linear-gradient(90deg,#95ca49,#11b1d6,#3975fe,#3d70ff,#20a4e3,#3ac993,#96ca48,#7fcc5a,#31c5a1,#04b6cd,#12b1d6,#01b8c8,#11beba,#06bcc0,#0fb2d4,#19addc,#01b9c6,#46cb88,#a3c83f,#9dc943,#2ec4a4,#2994ed,#465efb,#406dfe,#08b5d0,#bec32e,#f8d92c,#fec13a,#37c898,#3b72ff,#422ebf,#4743e7,#1aabdd,#dbbd28,#f9fa15,#f5e427,#61cd72,#3678fe,#3e26a8,#412dbd,#2994ed,#b0c636,#f8f917,#f8f917,#b0c636,#2994ed,#412dbd,#3e26a8,#3678fe,#61cd72,#f5e427,#f9fa15,#dbbd28,#1aabdd,#4743e7,#422ebf,#3b72ff,#37c898,#fec13a,#f8d92c,#bec32e,#08b5d0,#406dfe,#465efb,#2994ed,#2ec4a4,#9dc943,#a3c83f,#46cb88,#01b9c6,#19addc,#0fb2d4,#06bcc0,#11beba,#01b8c8,#12b1d6,#04b6cd,#31c5a1,#7fcc5a,#96ca48,#3ac993,#20a4e3,#3d70ff,#3975fe,#11b1d6,#95ca49)"></i><i style="background:linear-gradient(90deg,#88cb53,#15afd8,#3677fe,#3678fe,#1da9e0,#3bc993,#85cb55,#67cd6c,#2bc3a8,#01b8c9,#02b7cb,#0cbdbc,#18bfb6,#01b8c8,#1ca9df,#20a5e2,#01b9c6,#5bcc76,#c3c22b,#b1c635,#2cc4a7,#2d89f5,#4851f4,#4466fd,#03b7cc,#d5be28,#f5e526,#fec537,#32c69e,#4367fd,#3e28ac,#4740e3,#17aeda,#e9bb2f,#f9fb15,#f5e725,#5ccc76,#3c72ff,#3e26a8,#402bb7,#2994ed,#b6c532,#f9fb15,#f9fb15,#b6c532,#2994ed,#402bb7,#3e26a8,#3c72ff,#5ccc76,#f5e725,#f9fb15,#e9bb2f,#17aeda,#4740e3,#3e28ac,#4367fd,#32c69e,#fec537,#f5e526,#d5be28,#03b7cc,#4466fd,#4851f4,#2d89f5,#2cc4a7,#b1c635,#c3c22b,#5bcc76,#01b9c6,#20a5e2,#1ca9df,#01b8c8,#18bfb6,#0cbdbc,#02b7cb,#01b8c9,#2bc3a8,#67cd6c,#85cb55,#3bc993,#1da9e0,#3678fe,#3677fe,#15afd8,#88cb53)"></i><i style="background:linear-gradient(90deg,#79cc5e,#18aedb,#337bfd,#307ffb,#18addb,#3ac994,#72cd63,#52cc7e,#25c2ad,#02bac4,#08bcbf,#22c1b0,#1cc0b3,#09b4d1,#249fe5,#249ee6,#01bac5,#74cc62,#ddbd29,#c1c32c,#27c2ac,#317efb,#4745ea,#4561fc,#01b9c6,#eabb30,#f6f01f,#fec835,#2dc4a6,#465efb,#3e26a8,#473ee1,#11b1d6,#f4ba3a,#f9fb15,#f5e825,#55cc7c,#406dfe,#3e26a8,#402ab5,#2994ec,#bac430,#f9fb15,#f9fb15,#bac430,#2994ec,#402ab5,#3e26a8,#406dfe,#55cc7c,#f5e825,#f9fb15,#f4ba3a,#11b1d6,#473ee1,#3e26a8,#465efb,#2dc4a6,#fec835,#f6f01f,#eabb30,#01b9c6,#4561fc,#4745ea,#317efb,#27c2ac,#c1c32c,#ddbd29,#74cc62,#01bac5,#249ee6,#249fe5,#09b4d1,#1cc0b3,#22c1b0,#08bcbf,#02bac4,#25c2ad,#52cc7e,#72cd63,#3ac994,#18addb,#307ffb,#337bfd,#18aedb,#79cc5e)"></i><i style="background:linear-gradient(90deg,#6bcd69,#1aacdd,#317efb,#2e86f7,#12b1d6,#39c895,#60cd72,#3fca8e,#1ec0b2,#09bcbe,#1fc0b2,#2ec5a4,#1ec0b2,#16afd9,#2994ed,#2797eb,#03bbc3,#91ca4d,#f2ba38,#cdc028,#1ec0b2,#3c71ff,#463bdd,#465efb,#08bcbe,#fabb3d,#f8f917,#fec934,#24c1af,#4854f6,#3e26a8,#473fe2,#07b5d0,#fcbd3d,#f9fb15,#f5e725,#4ccb83,#4269fe,#3e26a8,#402bb7,#2896eb,#bcc42f,#f9fb15,#f9fb15,#bcc42f,#2896eb,#402bb7,#3e26a8,#4269fe,#4ccb83,#f5e725,#f9fb15,#fcbd3d,#07b5d0,#473fe2,#3e26a8,#4854f6,#24c1af,#fec934,#f8f917,#fabb3d,#08bcbe,#465efb,#463bdd,#3c71ff,#1ec0b2,#cdc028,#f2ba38,#91ca4d,#03bbc3,#2797eb,#2994ed,#16afd9,#1ec0b2,#2ec5a4,#1fc0b2,#09bcbe,#1ec0b2,#3fca8e,#60cd72,#39c895,#12b1d6,#2e86f7,#317efb,#1aacdd,#6bcd69)"></i><i style="background:linear-gradient(90deg,#5ecc74,#1baade,#2f82f9,#2d8df2,#09b4d1,#37c898,#4ecc81,#34c79c,#18bfb6,#15bfb7,#2ec5a4,#37c898,#1dc0b2,#1da8e0,#2d8af5,#2b91ef,#09bcbe,#adc738,#febf3b,#d4bf28,#10beba,#4465fd,#4433cd,#465efb,#1abfb5,#fec437,#f9fb15,#fec735,#13beb8,#484cef,#3e26a8,#4741e6,#01b8c8,#fec239,#f9fb15,#f5e427,#42ca8b,#4466fd,#3e26a8,#412dbc,#2798ea,#bdc32e,#f9fb15,#f9fb15,#bdc32e,#2798ea,#412dbc,#3e26a8,#4466fd,#42ca8b,#f5e427,#f9fb15,#fec239,#01b8c8,#4741e6,#3e26a8,#484cef,#13beb8,#fec735,#f9fb15,#fec437,#1abfb5,#465efb,#4433cd,#4465fd,#10beba,#d4bf28,#febf3b,#adc738,#09bcbe,#2b91ef,#2d8af5,#1da8e0,#1dc0b2,#37c898,#2ec5a4,#15bfb7,#18bfb6,#34c79c,#4ecc81,#37c898,#09b4d1,#2d8df2,#2f82f9,#1baade,#5ecc74)"></i><i style="background:linear-gradient(90deg,#51cc7f,#1ca9df,#2e86f7,#2994ed,#03b7cc,#35c79b,#3eca8f,#2cc4a7,#13beb9,#22c1b0,#3ac994,#42ca8c,#1bc0b4,#23a0e5,#307efb,#2d8df2,#13beb8,#c7c12a,#feca33,#d8be28,#02bbc3,#4759f8,#412ebe,#465ffb,#29c3aa,#fcd030,#f9fb15,#fec438,#02bbc3,#4744e8,#3e26a8,#4746ea,#07bcc0,#fec735,#f9fb15,#f6de29,#3ac994,#4563fd,#3e26a8,#4330c5,#259be8,#bcc42f,#f9f916,#f9f916,#bcc42f,#259be8,#4330c5,#3e26a8,#4563fd,#3ac994,#f6de29,#f9fb15,#fec735,#07bcc0,#4746ea,#3e26a8,#4744e8,#02bbc3,#fec438,#f9fb15,#fcd030,#29c3aa,#465ffb,#412ebe,#4759f8,#02bbc3,#d8be28,#feca33,#c7c12a,#13beb8,#2d8df2,#307efb,#23a0e5,#1bc0b4,#42ca8c,#3ac994,#22c1b0,#13beb9,#2cc4a7,#3eca8f,#35c79b,#03b7cc,#2994ed,#2e86f7,#1ca9df,#51cc7f)"></i><i style="background:linear-gradient(90deg,#46cb88,#1da8e0,#2d8bf4,#269ae8,#01b9c7,#32c69f,#34c79c,#1fc1b1,#10beba,#2cc4a7,#4ccb83,#4fcc81,#15bfb7,#2798ea,#3a73fe,#2d89f5,#20c1b1,#debd29,#fad42e,#d8be28,#04b6cd,#484ef1,#3f29b1,#4562fc,#33c79c,#f8da2b,#f9fb15,#febf3c,#05b6ce,#463de0,#3e26a8,#484df0,#18bfb6,#fdcc32,#f9fb15,#f9d72d,#33c69d,#4562fc,#3e26a8,#4435d1,#249ee6,#b9c431,#f7f41c,#f7f41c,#b9c431,#249ee6,#4435d1,#3e26a8,#4562fc,#33c69d,#f9d72d,#f9fb15,#fdcc32,#18bfb6,#484df0,#3e26a8,#463de0,#05b6ce,#febf3c,#f9fb15,#f8da2b,#33c79c,#4562fc,#3f29b1,#484ef1,#04b6cd,#d8be28,#fad42e,#debd29,#20c1b1,#2d89f5,#3a73fe,#2798ea,#15bfb7,#4fcc81,#4ccb83,#2cc4a7,#10beba,#1fc1b1,#34c79c,#32c69f,#01b9c7,#269ae8,#2d8bf4,#1da8e0,#46cb88)"></i><i style="background:linear-gradient(90deg,#3cc991,#1da8e0,#2c90f0,#23a0e5,#02bbc3,#2ec5a4,#2bc3a8,#0fbeba,#0fbebb,#33c79d,#62cd70,#5bcc77,#0dbdbc,#2c8ff1,#4269fe,#2d88f6,#2bc3a7,#f1ba37,#f7dc2a,#d5be28,#13b1d7,#4743e7,#3e26a8,#4367fd,#42ca8c,#f5e426,#f9fb15,#f7ba3c,#14b0d8,#4538d7,#3e26a8,#4755f6,#28c2ab,#fccf30,#f9fb15,#fdcd31,#2cc4a6,#4562fc,#3e27aa,#463bdd,#22a1e4,#b4c534,#f5ec22,#f5ec22,#b4c534,#22a1e4,#463bdd,#3e27aa,#4562fc,#2cc4a6,#fdcd31,#f9fb15,#fccf30,#28c2ab,#4755f6,#3e26a8,#4538d7,#14b0d8,#f7ba3c,#f9fb15,#f5e426,#42ca8c,#4367fd,#3e26a8,#4743e7,#13b1d7,#d5be28,#f7dc2a,#f1ba37,#2bc3a7,#2d88f6,#4269fe,#2c8ff1,#0dbdbc,#5bcc77,#62cd70,#33c79d,#0fbebb,#0fbeba,#2bc3a8,#2ec5a4,#02bbc3,#23a0e5,#2c90f0,#1da8e0,#3cc991)"></i><i style="background:linear-gradient(90deg,#36c899,#1da8e0,#2995ec,#1fa6e2,#07bcbf,#2ac3a9,#1ec0b2,#03bbc2,#10beba,#3dc991,#7acc5e,#64cd6f,#04bbc1,#2e85f8,#4660fb,#2e87f7,#34c79c,#febe3c,#f5e327,#cec028,#1da9e0,#4639da,#3e26a8,#3f6efe,#5acc77,#f5ed22,#f9fb15,#eabb30,#1da8e0,#4434ce,#3e26a8,#465efb,#32c69f,#fbd12f,#f9fb15,#fec338,#23c1af,#4562fc,#412cb9,#4744e8,#1fa5e2,#adc637,#f5e327,#f5e327,#adc637,#1fa5e2,#4744e8,#412cb9,#4562fc,#23c1af,#fec338,#f9fb15,#fbd12f,#32c69f,#465efb,#3e26a8,#4434ce,#1da8e0,#eabb30,#f9fb15,#f5ed22,#5acc77,#3f6efe,#3e26a8,#4639da,#1da9e0,#cec028,#f5e327,#febe3c,#34c79c,#2e87f7,#4660fb,#2e85f8,#04bbc1,#64cd6f,#7acc5e,#3dc991,#10beba,#03bbc2,#1ec0b2,#2ac3a9,#07bcbf,#1fa6e2,#2995ec,#1da8e0,#36c899)"></i><i style="background:linear-gradient(90deg,#31c6a0,#1da8e0,#2699e9,#1babde,#0bbdbd,#24c1ae,#0cbdbc,#01b8c9,#14beb8,#4bcb83,#91ca4c,#6bcd69,#01b8c8,#337bfd,#4759f8,#2d88f6,#40ca8d,#feca33,#f5e825,#c3c22b,#23a0e5,#4332c9,#3e26a8,#3677fe,#77cc60,#f7f41c,#f9fb15,#d7be28,#249fe5,#4331c6,#3e26a8,#426afe,#3cc991,#fbd22f,#f8f719,#f8ba3d,#14beb8,#4564fd,#4332ca,#484ff2,#1ca9df,#a5c83d,#f8d92c,#f8d92c,#a5c83d,#1ca9df,#484ff2,#4332ca,#4564fd,#14beb8,#f8ba3d,#f8f719,#fbd22f,#3cc991,#426afe,#3e26a8,#4331c6,#249fe5,#d7be28,#f9fb15,#f7f41c,#77cc60,#3677fe,#3e26a8,#4332c9,#23a0e5,#c3c22b,#f5e825,#feca33,#40ca8d,#2d88f6,#4759f8,#337bfd,#01b8c8,#6bcd69,#91ca4c,#4bcb83,#14beb8,#01b8c9,#0cbdbc,#24c1ae,#0bbdbd,#1babde,#2699e9,#1da8e0,#31c6a0)"></i><i style="background:linear-gradient(90deg,#2dc4a6,#1da8e0,#249ee6,#15afd8,#0fbebb,#1bc0b4,#01bac5,#05b6ce,#19bfb5,#5ecc74,#a5c83e,#6ecd66,#07b5cf,#3e6fff,#4852f4,#2d8bf4,#55cc7c,#fad52d,#f5eb23,#b3c534,#2896ec,#402bb8,#3e26a8,#2f82fa,#96ca48,#f9fa15,#f9fb15,#bec32e,#2896eb,#422fc1,#3e27ab,#3677fe,#4dcc82,#fbd22f,#f5ed21,#e5bb2d,#06bcc0,#4466fd,#463adc,#475af9,#18addb,#9cc944,#fdcd32,#fdcd32,#9cc944,#18addb,#475af9,#463adc,#4466fd,#06bcc0,#e5bb2d,#f5ed21,#fbd22f,#4dcc82,#3677fe,#3e27ab,#422fc1,#2896eb,#bec32e,#f9fb15,#f9fa15,#96ca48,#2f82fa,#3e26a8,#402bb8,#2896ec,#b3c534,#f5eb23,#fad52d,#55cc7c,#2d8bf4,#4852f4,#3e6fff,#07b5cf,#6ecd66,#a5c83e,#5ecc74,#19bfb5,#05b6ce,#01bac5,#1bc0b4,#0fbebb,#15afd8,#249ee6,#1da8e0,#2dc4a6)"></i><i style="background:linear-gradient(90deg,#27c2ab,#1ca9df,#21a3e4,#0cb3d3,#12beb9,#10beba,#05b6ce,#0bb3d2,#1fc1b1,#71cd64,#b6c533,#6fcd66,#13b0d7,#4465fd,#484ef1,#2c8ff1,#6ecd66,#f6e028,#f5ec22,#9ec942,#2d8af4,#3e26a8,#3e27a9,#2d8df2,#b4c533,#f9fb15,#f9fa16,#9ec942,#2d8cf3,#422ebf,#412ebe,#2e85f8,#61cd71,#fcd130,#f5e228,#cdc028,#01b8c9,#4269fe,#4745e9,#4466fd,#12b1d6,#91ca4c,#fec13a,#fec13a,#91ca4c,#12b1d6,#4466fd,#4745e9,#4269fe,#01b8c9,#cdc028,#f5e228,#fcd130,#61cd71,#2e85f8,#412ebe,#422ebf,#2d8cf3,#9ec942,#f9fa16,#f9fb15,#b4c533,#2d8df2,#3e27a9,#3e26a8,#2d8af4,#9ec942,#f5ec22,#f6e028,#6ecd66,#2c8ff1,#484ef1,#4465fd,#13b0d7,#6fcd66,#b6c533,#71cd64,#1fc1b1,#0bb3d2,#05b6ce,#10beba,#12beb9,#0cb3d3,#21a3e4,#1ca9df,#27c2ab)"></i><i style="background:linear-gradient(90deg,#21c1b0,#1baade,#1ea7e1,#04b6cd,#13beb9,#06bcc0,#10b2d5,#10b2d5,#26c2ac,#87cb54,#c3c22b,#6ccd68,#1babde,#475bfa,#484aee,#2994ed,#8ccb50,#f5ea24,#f5ec22,#85cb56,#317efb,#3e26a8,#402ab4,#2699e9,#cfc028,#f9fb15,#f6f11f,#79cc5e,#2f82fa,#422ebf,#4536d3,#2a92ee,#76cc61,#fdce31,#fad42e,#afc636,#07b5d0,#3f6efe,#4851f3,#3a73fe,#09b4d1,#85cb56,#f3ba39,#f3ba39,#85cb56,#09b4d1,#3a73fe,#4851f3,#3f6efe,#07b5d0,#afc636,#fad42e,#fdce31,#76cc61,#2a92ee,#4536d3,#422ebf,#2f82fa,#79cc5e,#f6f11f,#f9fb15,#cfc028,#2699e9,#402ab4,#3e26a8,#317efb,#85cb56,#f5ec22,#f5ea24,#8ccb50,#2994ed,#484aee,#475bfa,#1babde,#6ccd68,#c3c22b,#87cb54,#26c2ac,#10b2d5,#10b2d5,#06bcc0,#13beb9,#04b6cd,#1ea7e1,#1baade,#21c1b0)"></i><i style="background:linear-gradient(90deg,#1bc0b4,#1aabdd,#1babde,#01b9c8,#12beb9,#01b9c7,#18aedb,#13b0d7,#2cc4a6,#9bc944,#cec028,#66cd6d,#21a4e3,#4852f4,#4848ec,#269ae8,#a9c73a,#f6f21e,#f5e924,#67cd6c,#3e70ff,#3e26a8,#422fc1,#20a5e3,#e6bb2d,#f9fb15,#f5e626,#55cc7c,#3677fe,#422fc3,#4741e5,#249fe5,#8acb51,#fec934,#fec636,#8dcb4f,#12b1d6,#3b73fe,#465efb,#2f81fa,#02b7cb,#77cc60,#debc2a,#debc2a,#77cc60,#02b7cb,#2f81fa,#465efb,#3b73fe,#12b1d6,#8dcb4f,#fec636,#fec934,#8acb51,#249fe5,#4741e5,#422fc3,#3677fe,#55cc7c,#f5e626,#f9fb15,#e6bb2d,#20a5e3,#422fc1,#3e26a8,#3e70ff,#67cd6c,#f5e924,#f6f21e,#a9c73a,#269ae8,#4848ec,#4852f4,#21a4e3,#66cd6d,#cec028,#9bc944,#2cc4a6,#13b0d7,#18aedb,#01b9c7,#12beb9,#01b9c8,#1babde,#1aabdd,#1bc0b4)"></i><i style="background:linear-gradient(90deg,#14beb8,#19addc,#16afd9,#02bbc3,#11beba,#04b6cd,#1caadf,#14b0d8,#32c69f,#aec637,#d6be28,#5ecc74,#259ce7,#484aee,#4848ec,#22a2e4,#c5c22a,#f8f917,#f5e526,#4acb84,#4562fc,#3e26a8,#4435d1,#14b0d8,#f8ba3d,#f9fb15,#f9d82c,#37c897,#406dfe,#4332c9,#484ff1,#1aabdd,#9cc943,#fec438,#f9ba3d,#6acd6a,#18addb,#3479fd,#416bfe,#2d8df2,#02bac5,#6acd6a,#c5c22a,#c5c22a,#6acd6a,#02bac5,#2d8df2,#416bfe,#3479fd,#18addb,#6acd6a,#f9ba3d,#fec438,#9cc943,#1aabdd,#484ff1,#4332c9,#406dfe,#37c897,#f9d82c,#f9fb15,#f8ba3d,#14b0d8,#4435d1,#3e26a8,#4562fc,#4acb84,#f5e526,#f8f917,#c5c22a,#22a2e4,#4848ec,#484aee,#259ce7,#5ecc74,#d6be28,#aec637,#32c69f,#14b0d8,#1caadf,#04b6cd,#11beba,#02bbc3,#16afd9,#19addc,#14beb8)"></i><i style="background:linear-gradient(90deg,#0ebdbb,#17aedb,#10b2d5,#08bcbf,#0ebdbb,#0bb3d2,#1fa6e2,#14b0d8,#37c897,#bfc32d,#dcbd29,#53cc7d,#2994ed,#4743e7,#4849ed,#1ca9df,#ddbd29,#f9fb15,#f6de29,#35c79b,#4756f7,#3e26a8,#473ee1,#01b9c7,#fec338,#f9fb15,#fec934,#25c2ad,#4464fd,#4435d2,#465dfa,#07b5cf,#acc739,#febe3c,#e2bc2b,#4bcb84,#1caadf,#3080fa,#347afd,#2798ea,#07bcbf,#5dcc75,#a8c73b,#a8c73b,#5dcc75,#07bcbf,#2798ea,#347afd,#3080fa,#1caadf,#4bcb84,#e2bc2b,#febe3c,#acc739,#07b5cf,#465dfa,#4435d2,#4464fd,#25c2ad,#fec934,#f9fb15,#fec338,#01b9c7,#473ee1,#3e26a8,#4756f7,#35c79b,#f6de29,#f9fb15,#ddbd29,#1ca9df,#4849ed,#4743e7,#2994ed,#53cc7d,#dcbd29,#bfc32d,#37c897,#14b0d8,#1fa6e2,#0bb3d2,#0ebdbb,#08bcbf,#10b2d5,#17aedb,#0ebdbb)"></i><i style="background:linear-gradient(90deg,#09bcbe,#15afd9,#08b4d0,#0dbdbc,#0abdbd,#13b0d7,#21a2e4,#13b0d7,#40ca8d,#cdc028,#dfbc2a,#46cb88,#2d8bf4,#463cdf,#484bef,#12b1d6,#f1ba37,#f9fb15,#fad62d,#24c1af,#484aee,#3e26a8,#484aee,#1dc0b3,#fdce31,#f9fb15,#fabb3d,#04bbc2,#475dfa,#463bdc,#406dfe,#09bcbe,#b8c531,#f6ba3b,#c4c22b,#35c799,#1ea7e1,#2e87f7,#2d87f7,#21a2e4,#0fbeba,#50cc80,#8acb52,#8acb52,#50cc80,#0fbeba,#21a2e4,#2d87f7,#2e87f7,#1ea7e1,#35c799,#c4c22b,#f6ba3b,#b8c531,#09bcbe,#406dfe,#463bdc,#475dfa,#04bbc2,#fabb3d,#f9fb15,#fdce31,#1dc0b3,#484aee,#3e26a8,#484aee,#24c1af,#fad62d,#f9fb15,#f1ba37,#12b1d6,#484bef,#463cdf,#2d8bf4,#46cb88,#dfbc2a,#cdc028,#40ca8d,#13b0d7,#21a2e4,#13b0d7,#0abdbd,#0dbdbc,#08b4d0,#15afd9,#09bcbe)"></i><i style="background:linear-gradient(90deg,#06bcc0,#13b0d7,#03b7cc,#12beb9,#07bcbf,#19addc,#23a0e5,#11b2d5,#4dcb82,#dabd28,#e0bc2a,#3bc993,#2f81fa,#4538d7,#484ff2,#01b8c9,#febf3b,#f9fb15,#fdcb32,#04bbc2,#473fe2,#3e26a8,#4758f8,#34c79c,#f9d82c,#f8f917,#e2bc2b,#0eb2d4,#4756f7,#4742e6,#307ffb,#27c2ac,#c0c32d,#e8bb2f,#a1c840,#28c2ab,#20a4e3,#2c8ef2,#2993ed,#1aabdd,#18bfb6,#44cb89,#6ccd69,#6ccd69,#44cb89,#18bfb6,#1aabdd,#2993ed,#2c8ef2,#20a4e3,#28c2ab,#a1c840,#e8bb2f,#c0c32d,#27c2ac,#307ffb,#4742e6,#4756f7,#0eb2d4,#e2bc2b,#f8f917,#f9d82c,#34c79c,#4758f8,#3e26a8,#473fe2,#04bbc2,#fdcb32,#f9fb15,#febf3b,#01b8c9,#484ff2,#4538d7,#2f81fa,#3bc993,#e0bc2a,#dabd28,#4dcb82,#11b2d5,#23a0e5,#19addc,#07bcbf,#12beb9,#03b7cc,#13b0d7,#06bcc0)"></i><i style="background:linear-gradient(90deg,#03bbc3,#10b2d5,#01b9c8,#16bfb7,#04bbc2,#1caadf,#249ee6,#0cb3d3,#5bcc76,#e4bb2c,#debc2a,#32c69f,#3777fe,#4434cf,#4755f6,#0fbebb,#fdcb33,#f9fb15,#fec03a,#0db3d3,#4536d3,#3e26a8,#4366fd,#50cc80,#f6e128,#f6f21e,#c0c32d,#1ea7e1,#4852f4,#484bef,#2c8ff0,#36c899,#c6c22a,#d7be28,#7acc5e,#11beb9,#21a3e3,#2895ec,#249ee6,#0eb2d4,#1ec0b2,#3bc992,#52cc7e,#52cc7e,#3bc992,#1ec0b2,#0eb2d4,#249ee6,#2895ec,#21a3e3,#11beb9,#7acc5e,#d7be28,#c6c22a,#36c899,#2c8ff0,#484bef,#4852f4,#1ea7e1,#c0c32d,#f6f21e,#f6e128,#50cc80,#4366fd,#3e26a8,#4536d3,#0db3d3,#fec03a,#f9fb15,#fdcb33,#0fbebb,#4755f6,#4434cf,#3777fe,#32c69f,#debc2a,#e4bb2c,#5bcc76,#0cb3d3,#249ee6,#1caadf,#04bbc2,#16bfb7,#01b9c8,#10b2d5,#03bbc3)"></i><i style="background:linear-gradient(90deg,#02bac4,#0db3d3,#02bac4,#19bfb5,#02bac5,#1ea7e1,#259ce7,#07b5cf,#6bcd69,#ecba32,#dbbd29,#29c3aa,#406cfe,#4332c9,#475cfa,#29c3aa,#f9d62d,#f9fb15,#f3ba38,#1ea7e1,#422fc1,#3e26a8,#3678fe,#78cc5f,#f5e825,#f5e924,#95ca49,#269ae8,#484ef1,#4756f7,#249ee6,#4ccb83,#c8c129,#c1c32d,#55cc7b,#01b9c6,#22a2e4,#259ce7,#1da8e0,#01b8ca,#23c1af,#35c79a,#3eca8f,#3eca8f,#35c79a,#23c1af,#01b8ca,#1da8e0,#259ce7,#22a2e4,#01b9c6,#55cc7b,#c1c32d,#c8c129,#4ccb83,#249ee6,#4756f7,#484ef1,#269ae8,#95ca49,#f5e924,#f5e825,#78cc5f,#3678fe,#3e26a8,#422fc1,#1ea7e1,#f3ba38,#f9fb15,#f9d62d,#29c3aa,#475cfa,#4332c9,#406cfe,#29c3aa,#dbbd29,#ecba32,#6bcd69,#07b5cf,#259ce7,#1ea7e1,#02bac5,#19bfb5,#02bac4,#0db3d3,#02bac4)"></i><i style="background:linear-gradient(90deg,#01b9c6,#0ab4d2,#05bbc1,#1ac0b4,#01b9c8,#20a4e3,#259be7,#02b7cb,#7bcc5d,#f1ba37,#d5be28,#19bfb5,#4563fd,#4330c5,#4564fd,#37c897,#f5e128,#f9fb15,#ddbd29,#269ae9,#3f29b0,#3e26a8,#2d89f5,#a3c83f,#f5ee21,#f6de29,#65cd6e,#2d8df2,#484df0,#4562fc,#19acdc,#67cd6c,#c7c12a,#a6c83d,#39c995,#08b4d0,#21a3e3,#21a4e3,#13b0d7,#05bbc1,#25c2ad,#30c5a2,#33c79c,#33c79c,#30c5a2,#25c2ad,#05bbc1,#13b0d7,#21a4e3,#21a3e3,#08b4d0,#39c995,#a6c83d,#c7c12a,#67cd6c,#19acdc,#4562fc,#484df0,#2d8df2,#65cd6e,#f6de29,#f5ee21,#a3c83f,#2d89f5,#3e26a8,#3f29b0,#269ae9,#ddbd29,#f9fb15,#f5e128,#37c897,#4564fd,#4330c5,#4563fd,#19bfb5,#d5be28,#f1ba37,#7bcc5d,#02b7cb,#259be7,#20a4e3,#01b9c8,#1ac0b4,#05bbc1,#0ab4d2,#01b9c6)"></i><i style="background:linear-gradient(90deg,#01b9c7,#08b4d0,#08bcbf,#1bc0b4,#02b7cb,#22a1e4,#259be7,#01b9c6,#8bcb51,#f6ba3b,#cdc028,#05bbc1,#475af9,#4230c4,#3f6dfe,#4fcc80,#f5eb23,#f9fb15,#bfc32d,#2d8bf3,#3e26a8,#402ab3,#2699e9,#c8c129,#f6f11e,#fcd12f,#3dc990,#307ffb,#484cf0,#3e70ff,#02b7cb,#83cc57,#c3c22b,#87cb54,#2ac3a9,#14b0d8,#20a4e3,#1babde,#03b7cc,#13beb9,#26c2ad,#2bc3a8,#2cc4a7,#2cc4a7,#2bc3a8,#26c2ad,#13beb9,#03b7cc,#1babde,#20a4e3,#14b0d8,#2ac3a9,#87cb54,#c3c22b,#83cc57,#02b7cb,#3e70ff,#484cf0,#307ffb,#3dc990,#fcd12f,#f6f11e,#c8c129,#2699e9,#402ab3,#3e26a8,#2d8bf3,#bfc32d,#f9fb15,#f5eb23,#4fcc80,#3f6dfe,#4230c4,#475af9,#05bbc1,#cdc028,#f6ba3b,#8bcb51,#01b9c6,#259be7,#22a1e4,#02b7cb,#1bc0b4,#08bcbf,#08b4d0,#01b9c7)"></i><i style="background:linear-gradient(90deg,#01b8c9,#07b5cf,#0bbdbd,#1ac0b4,#04b6cd,#239fe5,#259ce7,#05bbc1,#9ac946,#f8ba3d,#c3c22b,#03b7cc,#4853f5,#4330c5,#3579fd,#70cd65,#f7f31d,#f9fb15,#9bc944,#327cfc,#3e26a8,#4331c6,#1da8e0,#e6bb2d,#f7f31c,#fec338,#27c2ac,#3c71ff,#484ef1,#307ffb,#18bfb6,#9ac945,#bbc430,#65cd6e,#10beba,#1aabdd,#1ea7e1,#11b1d6,#04bbc1,#1dc0b3,#25c2ad,#25c2ad,#24c1af,#24c1af,#25c2ad,#25c2ad,#1dc0b3,#04bbc1,#11b1d6,#1ea7e1,#1aabdd,#10beba,#65cd6e,#bbc430,#9ac945,#18bfb6,#307ffb,#484ef1,#3c71ff,#27c2ac,#fec338,#f7f31c,#e6bb2d,#1da8e0,#4331c6,#3e26a8,#327cfc,#9bc944,#f9fb15,#f7f31d,#70cd65,#3579fd,#4330c5,#4853f5,#03b7cc,#c3c22b,#f8ba3d,#9ac946,#05bbc1,#259ce7,#239fe5,#04b6cd,#1ac0b4,#0bbdbd,#07b5cf,#01b8c9)"></i><i style="background:linear-gradient(90deg,#01b7ca,#06b5ce,#0ebdbb,#19bfb5,#07b5d0,#249ee6,#249de6,#0fbebb,#a7c73c,#f9bb3d,#b5c533,#12b1d6,#484cef,#4332c9,#2e84f8,#93ca4b,#f9fa16,#f7f61a,#72cd64,#416bfe,#3e26a8,#4639d9,#07b5cf,#fbbc3d,#f7f41c,#f3ba38,#02bac4,#4465fd,#4851f4,#2c8ef1,#31c6a0,#adc638,#aec637,#47cb87,#01b8c9,#1ea8e0,#1babde,#03b7cc,#14bfb8,#24c1af,#23c1af,#1ec0b2,#1bc0b4,#1bc0b4,#1ec0b2,#23c1af,#24c1af,#14bfb8,#03b7cc,#1babde,#1ea8e0,#01b8c9,#47cb87,#aec637,#adc638,#31c6a0,#2c8ef1,#4851f4,#4465fd,#02bac4,#f3ba38,#f7f41c,#fbbc3d,#07b5cf,#4639d9,#3e26a8,#416bfe,#72cd64,#f7f61a,#f9fa16,#93ca4b,#2e84f8,#4332c9,#484cef,#12b1d6,#b5c533,#f9bb3d,#a7c73c,#0fbebb,#249de6,#249ee6,#07b5d0,#19bfb5,#0ebdbb,#06b5ce,#01b7ca)"></i><i style="background:linear-gradient(90deg,#03b7cc,#05b6ce,#0fbeba,#18bfb6,#0ab4d2,#249de7,#249fe5,#1bc0b4,#b2c535,#f9bb3d,#a5c83d,#1caadf,#4746ea,#4434cf,#2c8ff0,#b3c534,#f9fb15,#f5ee21,#4bcb83,#475cfa,#3e26a8,#4745e9,#12beb9,#fec834,#f6f21e,#d8be28,#14b0d8,#475bf9,#4756f7,#259ce7,#48cb86,#bbc42f,#9ec943,#33c69d,#11b1d6,#1fa6e2,#16afd9,#05bbc1,#22c1af,#26c2ad,#1ec0b2,#17bfb6,#14bfb8,#14bfb8,#17bfb6,#1ec0b2,#26c2ad,#22c1af,#05bbc1,#16afd9,#1fa6e2,#11b1d6,#33c69d,#9ec943,#bbc42f,#48cb86,#259ce7,#4756f7,#475bf9,#14b0d8,#d8be28,#f6f21e,#fec834,#12beb9,#4745e9,#3e26a8,#475cfa,#4bcb83,#f5ee21,#f9fb15,#b3c534,#2c8ff0,#4434cf,#4746ea,#1caadf,#a5c83d,#f9bb3d,#b2c535,#1bc0b4,#249fe5,#249de7,#0ab4d2,#18bfb6,#0fbeba,#05b6ce,#03b7cc)"></i><i style="background:linear-gradient(90deg,#05b6cd,#05b6ce,#10beba,#16bfb7,#0db3d3,#259de7,#22a1e4,#25c2ae,#bcc42f,#f8ba3d,#93ca4b,#22a2e4,#4741e4,#4538d7,#269ae8,#d0c028,#f9fb15,#f5e426,#32c69e,#484ff2,#3e26a8,#4852f4,#31c6a0,#fad62d,#f5ef20,#b5c533,#22a1e4,#4852f4,#465dfa,#1baadf,#6bcd69,#c5c22a,#88cb53,#20c1b1,#1caadf,#20a5e2,#0bb3d2,#18bfb6,#2ac3a9,#25c2ad,#18bfb6,#10beba,#11beb9,#11beb9,#10beba,#18bfb6,#25c2ad,#2ac3a9,#18bfb6,#0bb3d2,#20a5e2,#1caadf,#20c1b1,#88cb53,#c5c22a,#6bcd69,#1baadf,#465dfa,#4852f4,#22a1e4,#b5c533,#f5ef20,#fad62d,#31c6a0,#4852f4,#3e26a8,#484ff2,#32c69e,#f5e426,#f9fb15,#d0c028,#269ae8,#4538d7,#4741e4,#22a2e4,#93ca4b,#f8ba3d,#bcc42f,#25c2ae,#22a1e4,#259de7,#0db3d3,#16bfb7,#10beba,#05b6ce,#05b6cd)"></i><i style="background:linear-gradient(90deg,#07b5cf,#06b5ce,#0fbeba,#14beb8,#0fb2d5,#249de7,#20a4e3,#2cc4a7,#c3c22b,#f5ba3b,#7fcc5a,#269be8,#463ddf,#463ddf,#20a5e2,#e6bb2d,#f9fb15,#f8d92c,#1abfb5,#4742e6,#3e26a8,#4661fc,#4ecc81,#f5e227,#f5e924,#8acb52,#2b92ee,#484bef,#4466fd,#05b6ce,#91ca4c,#cbc129,#6ecd66,#03bbc2,#21a3e4,#1fa6e2,#01b8c9,#28c3ab,#2ec5a4,#22c1b0,#0ebdbb,#0bbdbc,#13beb9,#13beb9,#0bbdbc,#0ebdbb,#22c1b0,#2ec5a4,#28c3ab,#01b8c9,#1fa6e2,#21a3e4,#03bbc2,#6ecd66,#cbc129,#91ca4c,#05b6ce,#4466fd,#484bef,#2b92ee,#8acb52,#f5e924,#f5e227,#4ecc81,#4661fc,#3e26a8,#4742e6,#1abfb5,#f8d92c,#f9fb15,#e6bb2d,#20a5e2,#463ddf,#463ddf,#269be8,#7fcc5a,#f5ba3b,#c3c22b,#2cc4a7,#20a4e3,#249de7,#0fb2d5,#14beb8,#0fbeba,#06b5ce,#07b5cf)"></i><i style="background:linear-gradient(90deg,#09b4d1,#07b5cf,#0ebebb,#12beb9,#10b2d5,#249ee6,#1ea7e1,#31c6a0,#c9c129,#f1ba37,#6acd6a,#2a93ee,#463adb,#4743e7,#16afd9,#f8ba3d,#f9fb15,#fdcc32,#01b8c9,#4537d6,#3e26a8,#3c71ff,#7acc5d,#f5ec22,#f5e227,#5dcc75,#2f81fa,#4746ea,#3d70ff,#12beb9,#b2c534,#ccc028,#54cc7d,#0cb3d3,#259ce7,#1ea8e0,#0abdbd,#32c69f,#30c5a1,#1ac0b5,#05bbc1,#09bcbe,#18bfb6,#18bfb6,#09bcbe,#05bbc1,#1ac0b5,#30c5a1,#32c69f,#0abdbd,#1ea8e0,#259ce7,#0cb3d3,#54cc7d,#ccc028,#b2c534,#12beb9,#3d70ff,#4746ea,#2f81fa,#5dcc75,#f5e227,#f5ec22,#7acc5d,#3c71ff,#3e26a8,#4537d6,#01b8c9,#fdcc32,#f9fb15,#f8ba3d,#16afd9,#4743e7,#463adb,#2a93ee,#6acd6a,#f1ba37,#c9c129,#31c6a0,#1ea7e1,#249ee6,#10b2d5,#12beb9,#0ebebb,#07b5cf,#09b4d1)"></i><i style="background:linear-gradient(90deg,#0db3d3,#08b4d1,#0cbdbc,#10beba,#11b1d6,#239fe5,#1baadf,#35c79a,#ccc028,#ebba31,#56cc7b,#2d8cf3,#4539d9,#484bee,#03b7cc,#fec239,#f9fb15,#fec03b,#17aeda,#4230c3,#3e26a8,#2f82f9,#a8c73b,#f7f41c,#f8d92c,#38c896,#3e6fff,#4742e7,#317dfc,#30c5a2,#cec028,#cac129,#3bc992,#1ca9e0,#2796eb,#1aabdd,#21c1b0,#3bc992,#31c6a0,#0dbdbc,#01b8c8,#07bcc0,#1fc1b1,#1fc1b1,#07bcc0,#01b8c8,#0dbdbc,#31c6a0,#3bc992,#21c1b0,#1aabdd,#2796eb,#1ca9e0,#3bc992,#cac129,#cec028,#30c5a2,#317dfc,#4742e7,#3e6fff,#38c896,#f8d92c,#f7f41c,#a8c73b,#2f82f9,#3e26a8,#4230c3,#17aeda,#fec03b,#f9fb15,#fec239,#03b7cc,#484bee,#4539d9,#2d8cf3,#56cc7b,#ebba31,#ccc028,#35c79a,#1baadf,#239fe5,#11b1d6,#10beba,#0cbdbc,#08b4d1,#0db3d3)"></i><i style="background:linear-gradient(90deg,#11b1d6,#0bb3d2,#0abdbd,#0fbebb,#10b2d5,#22a1e4,#18addb,#3ac993,#cec028,#e3bc2c,#44cb8a,#2e85f8,#4538d8,#4853f5,#0bbdbd,#fdcc32,#f9fb15,#f0ba36,#22a1e4,#3f29b1,#3e26a8,#2a92ee,#cfc028,#f9fb15,#fdce31,#22c1b0,#465ffb,#4741e4,#2d89f5,#49cb85,#e3bb2c,#c4c22b,#2cc4a6,#249de6,#2b92ee,#14b0d8,#30c5a1,#4acb85,#30c5a1,#02bac4,#07b5d0,#06bcc0,#28c3aa,#28c3aa,#06bcc0,#07b5d0,#02bac4,#30c5a1,#4acb85,#30c5a1,#14b0d8,#2b92ee,#249de6,#2cc4a6,#c4c22b,#e3bb2c,#49cb85,#2d89f5,#4741e4,#465ffb,#22c1b0,#fdce31,#f9fb15,#cfc028,#2a92ee,#3e26a8,#3f29b1,#22a1e4,#f0ba36,#f9fb15,#fdcc32,#0bbdbd,#4853f5,#4538d8,#2e85f8,#44cb8a,#e3bc2c,#cec028,#3ac993,#18addb,#22a1e4,#10b2d5,#0fbebb,#0abdbd,#0bb3d2,#11b1d6)"></i><i style="background:linear-gradient(90deg,#14b0d8,#0fb2d4,#08bcbf,#0ebdbb,#0eb2d4,#20a4e3,#13b0d7,#3fca8e,#cdc028,#d9be28,#37c898,#317efb,#4639d9,#475cfa,#26c2ad,#fad52e,#f9fb15,#d9be28,#2994ed,#3e26a8,#3f29b0,#23a1e4,#edba33,#f9fb15,#fec339,#01b9c7,#4851f3,#4741e4,#2896eb,#73cd63,#f3ba39,#bac430,#12beb9,#2b91ef,#2c8ef1,#08b4d0,#3fca8e,#5acc77,#2ec4a4,#06b5ce,#13b0d7,#07bcc0,#30c5a1,#30c5a1,#07bcc0,#13b0d7,#06b5ce,#2ec4a4,#5acc77,#3fca8e,#08b4d0,#2c8ef1,#2b91ef,#12beb9,#bac430,#f3ba39,#73cd63,#2896eb,#4741e4,#4851f3,#01b9c7,#fec339,#f9fb15,#edba33,#23a1e4,#3f29b0,#3e26a8,#2994ed,#d9be28,#f9fb15,#fad52e,#26c2ad,#475cfa,#4639d9,#317efb,#37c898,#d9be28,#cdc028,#3fca8e,#13b0d7,#20a4e3,#0eb2d4,#0ebdbb,#08bcbf,#0fb2d4,#14b0d8)"></i><i style="background:linear-gradient(90deg,#18addb,#12b1d7,#06bcc0,#0ebdbb,#0bb3d2,#1ea7e1,#0cb3d3,#45cb89,#cbc129,#ccc028,#2ec5a4,#3578fd,#463bdd,#4466fd,#34c79c,#f7dc2a,#f9fb15,#bcc42f,#2e86f7,#3e26a8,#422fc1,#17aeda,#fec03b,#f9fb15,#f6ba3b,#17aedb,#4744e8,#4742e6,#21a2e4,#a0c841,#fdbd3d,#acc738,#02b7cb,#2e85f8,#2d8cf3,#01b9c6,#5bcc77,#6acd6a,#2ac3a9,#15afd9,#1babde,#08bcbf,#39c895,#39c895,#08bcbf,#1babde,#15afd9,#2ac3a9,#6acd6a,#5bcc77,#01b9c6,#2d8cf3,#2e85f8,#02b7cb,#acc738,#fdbd3d,#a0c841,#21a2e4,#4742e6,#4744e8,#17aedb,#f6ba3b,#f9fb15,#fec03b,#17aeda,#422fc1,#3e26a8,#2e86f7,#bcc42f,#f9fb15,#f7dc2a,#34c79c,#4466fd,#463bdd,#3578fd,#2ec5a4,#ccc028,#cbc129,#45cb89,#0cb3d3,#1ea7e1,#0bb3d2,#0ebdbb,#06bcc0,#12b1d7,#18addb)"></i><i style="background:linear-gradient(90deg,#1babde,#16afd9,#04bbc2,#0fbeba,#07b5d0,#1caadf,#06b5ce,#49cb85,#c6c22a,#bec32e,#24c1ae,#3a74fe,#463ee1,#3c71ff,#44ca8a,#f5e228,#f8f719,#9ac945,#3578fd,#3e26a8,#4536d3,#01b8c8,#fccf31,#f9fb15,#e1bc2b,#239fe5,#4539d9,#4745e9,#16aeda,#c8c129,#fec437,#99c946,#18addb,#3678fe,#2d8bf4,#11beb9,#7ccc5c,#7bcc5d,#23c1af,#1ea7e1,#20a5e3,#0abdbd,#48cb86,#48cb86,#0abdbd,#20a5e3,#1ea7e1,#23c1af,#7bcc5d,#7ccc5c,#11beb9,#2d8bf4,#3678fe,#18addb,#99c946,#fec437,#c8c129,#16aeda,#4745e9,#4539d9,#239fe5,#e1bc2b,#f9fb15,#fccf31,#01b8c8,#4536d3,#3e26a8,#3578fd,#9ac945,#f8f719,#f5e228,#44ca8a,#3c71ff,#463ee1,#3a74fe,#24c1ae,#bec32e,#c6c22a,#49cb85,#06b5ce,#1caadf,#07b5d0,#0fbeba,#04bbc2,#16afd9,#1babde)"></i><i style="background:linear-gradient(90deg,#1da8e0,#19addc,#02bbc3,#11beb9,#03b7cc,#19addc,#01b8ca,#4ccb82,#c0c32d,#aec637,#15bfb8,#3d70ff,#4742e6,#327dfc,#5bcc77,#f5e626,#f6f020,#75cc61,#416bfe,#3e26a8,#473fe2,#1cc0b4,#f7dd2a,#f9fb15,#c6c22a,#2c90f0,#4331c7,#484aee,#01b8c9,#e7bb2e,#feca33,#83cc57,#23a1e5,#416afe,#2d8cf3,#28c2ab,#9fc941,#89cb52,#16bfb7,#259de7,#249de6,#0dbdbb,#5fcd73,#5fcd73,#0dbdbb,#249de6,#259de7,#16bfb7,#89cb52,#9fc941,#28c2ab,#2d8cf3,#416afe,#23a1e5,#83cc57,#feca33,#e7bb2e,#01b8c9,#484aee,#4331c7,#2c90f0,#c6c22a,#f9fb15,#f7dd2a,#1cc0b4,#473fe2,#3e26a8,#416bfe,#75cc61,#f6f020,#f5e626,#5bcc77,#327dfc,#4742e6,#3d70ff,#15bfb8,#aec637,#c0c32d,#4ccb82,#01b8ca,#19addc,#03b7cc,#11beb9,#02bbc3,#19addc,#1da8e0)"></i><i style="background:linear-gradient(90deg,#20a5e2,#1baade,#02bac4,#15bfb7,#01b8c8,#13b0d7,#01bac5,#4ecc82,#b6c532,#9cc944,#06bcc0,#3f6eff,#4848ec,#2e87f7,#72cd64,#f5e825,#f5e725,#54cc7c,#465ffb,#3e26a8,#484aee,#33c69e,#f5e924,#f9fb15,#a4c83e,#307ffb,#402bb6,#4850f3,#19bfb5,#fdbd3d,#fdce31,#6acd6a,#2a93ee,#465ffb,#2d8df2,#35c799,#c0c32d,#96ca49,#07bcbf,#2b92ef,#2896eb,#12beb9,#7bcc5d,#7bcc5d,#12beb9,#2896eb,#2b92ef,#07bcbf,#96ca49,#c0c32d,#35c799,#2d8df2,#465ffb,#2a93ee,#6acd6a,#fdce31,#fdbd3d,#19bfb5,#4850f3,#402bb6,#307ffb,#a4c83e,#f9fb15,#f5e924,#33c69e,#484aee,#3e26a8,#465ffb,#54cc7c,#f5e725,#f5e825,#72cd64,#2e87f7,#4848ec,#3f6eff,#06bcc0,#9cc944,#b6c532,#4ecc82,#01bac5,#13b0d7,#01b8c8,#15bfb7,#02bac4,#1baade,#20a5e2)"></i><i style="background:linear-gradient(90deg,#22a1e4,#1da8e0,#01bac5,#1abfb5,#02bbc3,#0bb3d2,#04bbc2,#4dcb82,#abc739,#89cb52,#01b9c7,#3f6dfe,#484ef1,#2b91ef,#88cb53,#f5e924,#f6dd2a,#3ac994,#4755f6,#3e26a8,#4756f7,#4acb84,#f7f31d,#f9fb15,#7fcc5a,#3f6eff,#3e26a8,#4757f7,#31c6a0,#fdcb32,#fcd12f,#51cc7f,#2e83f9,#4755f6,#2c90f0,#4bcb84,#dcbd29,#a0c841,#01b8c9,#2e85f8,#2c8ef1,#19bfb6,#99c946,#99c946,#19bfb6,#2c8ef1,#2e85f8,#01b8c9,#a0c841,#dcbd29,#4bcb84,#2c90f0,#4755f6,#2e83f9,#51cc7f,#fcd12f,#fdcb32,#31c6a0,#4757f7,#3e26a8,#3f6eff,#7fcc5a,#f9fb15,#f7f31d,#4acb84,#4756f7,#3e26a8,#4755f6,#3ac994,#f6dd2a,#f5e924,#88cb53,#2b91ef,#484ef1,#3f6dfe,#01b9c7,#89cb52,#abc739,#4dcb82,#04bbc2,#0bb3d2,#02bbc3,#1abfb5,#01bac5,#1da8e0,#22a1e4)"></i><i style="background:linear-gradient(90deg,#249de6,#20a5e2,#01b9c6,#1fc0b2,#0abdbd,#04b6cd,#09bcbe,#4acb85,#9dc943,#75cc61,#05b6cd,#3f6eff,#4755f6,#269ae8,#9bc944,#f5e825,#fbd22f,#2cc4a7,#484df0,#3e26a8,#4562fc,#6ccd68,#f9fb15,#f8f719,#5acc77,#465efb,#3e26a8,#4660fb,#48cb86,#f8da2b,#fbd22f,#3bc993,#3b73fe,#484cef,#2a93ee,#6acd6a,#f2ba38,#a9c73a,#0bb4d2,#3776fe,#2e86f8,#1ec0b2,#b7c532,#b7c532,#1ec0b2,#2e86f8,#3776fe,#0bb4d2,#a9c73a,#f2ba38,#6acd6a,#2a93ee,#484cef,#3b73fe,#3bc993,#fbd22f,#f8da2b,#48cb86,#4660fb,#3e26a8,#465efb,#5acc77,#f8f719,#f9fb15,#6ccd68,#4562fc,#3e26a8,#484df0,#2cc4a7,#fbd22f,#f5e825,#9bc944,#269ae8,#4755f6,#3f6eff,#05b6cd,#75cc61,#9dc943,#4acb85,#09bcbe,#04b6cd,#0abdbd,#1fc0b2,#01b9c6,#20a5e2,#249de6)"></i><i style="background:linear-gradient(90deg,#2699e9,#22a2e4,#01b9c6,#25c2ad,#17bfb6,#01b9c7,#0dbdbb,#45cb89,#8dcb50,#62cd70,#0bb3d2,#3d70ff,#465dfa,#21a3e4,#aac73a,#f5e526,#fec735,#17bfb6,#4746ea,#3e26a8,#3e70ff,#90ca4d,#f9fb15,#f6f11f,#3cc991,#4851f3,#3e26a8,#4269fe,#6ccd68,#f5e725,#fbd22f,#2ec4a4,#4562fc,#4744e8,#2797eb,#8dcb4f,#fec13a,#b0c636,#18aedb,#4367fd,#317dfc,#24c1ae,#d1bf27,#d1bf27,#24c1ae,#317dfc,#4367fd,#18aedb,#b0c636,#fec13a,#8dcb4f,#2797eb,#4744e8,#4562fc,#2ec4a4,#fbd22f,#f5e725,#6ccd68,#4269fe,#3e26a8,#4851f3,#3cc991,#f6f11f,#f9fb15,#90ca4d,#3e70ff,#3e26a8,#4746ea,#17bfb6,#fec735,#f5e526,#aac73a,#21a3e4,#465dfa,#3d70ff,#0bb3d2,#62cd70,#8dcb50,#45cb89,#0dbdbb,#01b9c7,#17bfb6,#25c2ad,#01b9c6,#22a2e4,#2699e9)"></i><i style="background:linear-gradient(90deg,#2994ed,#249fe5,#01b9c6,#2ac3a8,#23c1af,#06bcc0,#11beb9,#3fca8e,#7acc5d,#52cc7e,#11b1d6,#3a74fe,#4466fd,#1baadf,#b5c533,#f5e128,#fcbd3d,#02bac4,#4741e5,#3e26a8,#317efb,#afc637,#f9fb15,#f5e924,#2cc4a7,#4745e9,#3e26a8,#3974fe,#93ca4a,#f6f21d,#fcd030,#1bc0b4,#4854f5,#463de0,#259ce7,#afc636,#fdce31,#b4c533,#1ea7e1,#475af9,#3974fe,#29c3aa,#e8bb2f,#e8bb2f,#29c3aa,#3974fe,#475af9,#1ea7e1,#b4c533,#fdce31,#afc636,#259ce7,#463de0,#4854f5,#1bc0b4,#fcd030,#f6f21d,#93ca4a,#3974fe,#3e26a8,#4745e9,#2cc4a7,#f5e924,#f9fb15,#afc637,#317efb,#3e26a8,#4741e5,#02bac4,#fcbd3d,#f5e128,#b5c533,#1baadf,#4466fd,#3a74fe,#11b1d6,#52cc7e,#7acc5d,#3fca8e,#11beb9,#06bcc0,#23c1af,#2ac3a8,#01b9c6,#249fe5,#2994ed)"></i><i style="background:linear-gradient(90deg,#2c8ff0,#259ce7,#01b9c6,#2fc5a2,#2cc4a6,#10beba,#14beb8,#39c895,#67cd6c,#43ca8a,#14b0d8,#3578fd,#3e70ff,#13b0d7,#bcc42f,#f7db2a,#eeba34,#08b5d0,#463ee1,#3f28af,#2d8af4,#c8c129,#f9fb15,#f6df29,#13beb8,#463adc,#3e26a8,#3080fb,#b6c532,#f9fb15,#fdcd32,#02bac3,#4746eb,#4538d8,#22a1e4,#cdc028,#f8da2b,#b7c532,#249fe5,#484cf0,#406cfe,#2dc4a6,#fabb3d,#fabb3d,#2dc4a6,#406cfe,#484cf0,#249fe5,#b7c532,#f8da2b,#cdc028,#22a1e4,#4538d8,#4746eb,#02bac3,#fdcd32,#f9fb15,#b6c532,#3080fb,#3e26a8,#463adc,#13beb8,#f6df29,#f9fb15,#c8c129,#2d8af4,#3f28af,#463ee1,#08b5d0,#eeba34,#f7db2a,#bcc42f,#13b0d7,#3e70ff,#3578fd,#14b0d8,#43ca8a,#67cd6c,#39c895,#14beb8,#10beba,#2cc4a6,#2fc5a2,#01b9c6,#259ce7,#2c8ff0)"></i><i style="background:linear-gradient(90deg,#2d8af4,#269ae9,#02bac5,#34c79b,#33c69d,#1bc0b4,#14beb8,#33c69d,#54cc7c,#39c895,#15afd9,#317efb,#337afd,#06b5cf,#c0c32d,#fad42e,#dabd28,#16afd9,#463ddf,#422ebf,#2896ec,#dbbd29,#f9fb15,#fad42e,#01b8c8,#4433cd,#3e26a8,#2d8af4,#d3bf27,#f9fb15,#fec934,#09b4d1,#463bdc,#4435d1,#1ea6e1,#e5bb2d,#f5e626,#b9c431,#2797ea,#4740e4,#4465fd,#30c5a1,#fec537,#fec537,#30c5a1,#4465fd,#4740e4,#2797ea,#b9c431,#f5e626,#e5bb2d,#1ea6e1,#4435d1,#463bdc,#09b4d1,#fec934,#f9fb15,#d3bf27,#2d8af4,#3e26a8,#4433cd,#01b8c8,#fad42e,#f9fb15,#dbbd29,#2896ec,#422ebf,#463ddf,#16afd9,#dabd28,#fad42e,#c0c32d,#06b5cf,#337afd,#317efb,#15afd9,#39c895,#54cc7c,#33c69d,#14beb8,#1bc0b4,#33c69d,#34c79b,#02bac5,#269ae9,#2d8af4)"></i><i style="background:linear-gradient(90deg,#2e85f8,#2797eb,#02bbc3,#3bc993,#3bc992,#24c1ae,#13beb9,#2dc4a5,#43ca8b,#32c69e,#15afd9,#2e85f8,#2e84f8,#01b9c7,#c0c32d,#fdcb32,#c4c22b,#1ca9df,#463de0,#4435d0,#23a0e5,#e9bb2f,#f9fb15,#fec934,#11b1d6,#422ebf,#3e26a8,#2994ed,#e9bb30,#f9fb15,#fec338,#19acdc,#4332c9,#4433cc,#1aacdd,#f8ba3d,#f6ef20,#b8c431,#2c8ff0,#4536d2,#465efb,#33c79c,#fcd030,#fcd030,#33c79c,#465efb,#4536d2,#2c8ff0,#b8c431,#f6ef20,#f8ba3d,#1aacdd,#4433cc,#4332c9,#19acdc,#fec338,#f9fb15,#e9bb30,#2994ed,#3e26a8,#422ebf,#11b1d6,#fec934,#f9fb15,#e9bb2f,#23a0e5,#4435d0,#463de0,#1ca9df,#c4c22b,#fdcb32,#c0c32d,#01b9c7,#2e84f8,#2e85f8,#15afd9,#32c69e,#43ca8b,#2dc4a5,#13beb9,#24c1ae,#3bc992,#3bc993,#02bbc3,#2797eb,#2e85f8)"></i><i style="background:linear-gradient(90deg,#307ffb,#2995ec,#05bbc1,#45cb89,#48cb86,#2ac3a9,#0fbeba,#24c1ae,#36c899,#2dc4a6,#13b0d7,#2d8cf3,#2c8ef1,#07bcbf,#bcc42f,#fec239,#aac73a,#20a4e3,#473fe3,#463de0,#1da9e0,#f2ba38,#f9fb15,#febe3c,#1ca9df,#402ab5,#3e26a8,#249ee6,#f9bb3d,#f9fb15,#febd3c,#21a4e3,#402bb7,#4332c9,#12b1d7,#fec338,#f8f719,#b6c532,#2d87f6,#422ebe,#4759f8,#37c898,#f7db2b,#f7db2b,#37c898,#4759f8,#422ebe,#2d87f6,#b6c532,#f8f719,#fec338,#12b1d7,#4332c9,#402bb7,#21a4e3,#febd3c,#f9fb15,#f9bb3d,#249ee6,#3e26a8,#402ab5,#1ca9df,#febe3c,#f9fb15,#f2ba38,#1da9e0,#463de0,#473fe3,#20a4e3,#aac73a,#fec239,#bcc42f,#07bcbf,#2c8ef1,#2d8cf3,#13b0d7,#2dc4a6,#36c899,#24c1ae,#0fbeba,#2ac3a9,#48cb86,#45cb89,#05bbc1,#2995ec,#307ffb)"></i><i style="background:linear-gradient(90deg,#3479fd,#2a92ee,#09bcbe,#53cc7e,#58cc79,#2ec5a4,#0abdbd,#15bfb8,#2dc4a5,#26c2ac,#10b2d5,#2994ed,#2797eb,#12beb9,#b5c533,#f8ba3d,#90ca4d,#23a0e5,#4743e7,#4747ec,#13b1d7,#f8ba3d,#f9fb15,#f1ba37,#22a1e4,#3f28af,#3f29b2,#1ea7e1,#fec239,#f9fb15,#f6ba3c,#259be8,#3e26a8,#4332c9,#06b5cf,#fdcd31,#f9fb15,#b3c534,#3080fa,#3e27ac,#4855f6,#3ac993,#f5e426,#f5e426,#3ac993,#4855f6,#3e27ac,#3080fa,#b3c534,#f9fb15,#fdcd31,#06b5cf,#4332c9,#3e26a8,#259be8,#f6ba3c,#f9fb15,#fec239,#1ea7e1,#3f29b2,#3f28af,#22a1e4,#f1ba37,#f9fb15,#f8ba3d,#13b1d7,#4747ec,#4743e7,#23a0e5,#90ca4d,#f8ba3d,#b5c533,#12beb9,#2797eb,#2994ed,#10b2d5,#26c2ac,#2dc4a5,#15bfb8,#0abdbd,#2ec5a4,#58cc79,#53cc7e,#09bcbe,#2a92ee,#3479fd)"></i><i style="background:linear-gradient(90deg,#3a73fe,#2b90ef,#0fbeba,#62cd71,#68cd6b,#32c69f,#05bbc1,#04bbc2,#20c1b1,#1fc0b1,#0ab4d1,#259ce7,#249fe5,#1bc0b4,#abc739,#e8bb2f,#75cc61,#249de6,#4849ed,#4853f4,#04b6cd,#fbbc3d,#f8f719,#dfbc2a,#269ae8,#3f28ad,#422ec0,#17aeda,#fec934,#f9fb15,#ebba32,#2a93ee,#3e26a8,#4433cb,#01b9c7,#f9d72d,#f9fb15,#aec637,#3579fd,#3e26a8,#4851f3,#3eca8f,#f5ec22,#f5ec22,#3eca8f,#4851f3,#3e26a8,#3579fd,#aec637,#f9fb15,#f9d72d,#01b9c7,#4433cb,#3e26a8,#2a93ee,#ebba32,#f9fb15,#fec934,#17aeda,#422ec0,#3f28ad,#269ae8,#dfbc2a,#f8f719,#fbbc3d,#04b6cd,#4853f4,#4849ed,#249de6,#75cc61,#e8bb2f,#abc739,#1bc0b4,#249fe5,#259ce7,#0ab4d1,#1fc0b1,#20c1b1,#04bbc2,#05bbc1,#32c69f,#68cd6b,#62cd71,#0fbeba,#2b90ef,#3a73fe)"></i><i style="background:linear-gradient(90deg,#3f6efe,#2c8ff1,#17bfb6,#73cd63,#7acc5d,#35c79b,#02bac5,#03b7cc,#0dbdbb,#19bfb6,#04b6cc,#20a5e2,#1ea7e1,#21c1b0,#9cc944,#d3bf27,#5ecd74,#259ce7,#4850f3,#465efb,#02bbc3,#fbbc3d,#f5ef21,#c9c129,#2994ed,#3f29b0,#4434d0,#08b5d0,#fccf30,#f9fb15,#debd29,#2d8cf3,#3e26a8,#4435d0,#08bcbf,#f6de29,#f9fb15,#a8c73b,#3b72ff,#3e26a8,#484ff2,#42ca8b,#f6f21e,#f6f21e,#42ca8b,#484ff2,#3e26a8,#3b72ff,#a8c73b,#f9fb15,#f6de29,#08bcbf,#4435d0,#3e26a8,#2d8cf3,#debd29,#f9fb15,#fccf30,#08b5d0,#4434d0,#3f29b0,#2994ed,#c9c129,#f5ef21,#fbbc3d,#02bbc3,#465efb,#4850f3,#259ce7,#5ecd74,#d3bf27,#9cc944,#21c1b0,#1ea7e1,#20a5e2,#04b6cc,#19bfb6,#0dbdbb,#03b7cc,#02bac5,#35c79b,#7acc5d,#73cd63,#17bfb6,#2c8ff1,#3f6efe)"></i><i style="background:linear-gradient(90deg,#4369fe,#2c8ef1,#1fc0b2,#86cb55,#8ccb50,#37c898,#01b8ca,#10b2d5,#01b9c6,#13beb9,#01b9c6,#19addb,#17aedb,#24c2ae,#89cb52,#bac430,#4acb84,#259be7,#4759f8,#426afe,#10beba,#f9bb3d,#f5e426,#b1c636,#2c8ff0,#402bb6,#463cdf,#01b9c6,#fbd32f,#f9fb15,#cec028,#2e85f8,#3e26a8,#4538d7,#16bfb7,#f5e427,#f9fb15,#a0c841,#406dfe,#3e26a8,#484ef1,#46cb88,#f7f61a,#f7f61a,#46cb88,#484ef1,#3e26a8,#406dfe,#a0c841,#f9fb15,#f5e427,#16bfb7,#4538d7,#3e26a8,#2e85f8,#cec028,#f9fb15,#fbd32f,#01b9c6,#463cdf,#402bb6,#2c8ff0,#b1c636,#f5e426,#f9bb3d,#10beba,#426afe,#4759f8,#259be7,#4acb84,#bac430,#89cb52,#24c2ae,#17aedb,#19addb,#01b9c6,#13beb9,#01b9c6,#10b2d5,#01b8ca,#37c898,#8ccb50,#86cb55,#1fc0b2,#2c8ef1,#4369fe)"></i><i style="background:linear-gradient(90deg,#4464fd,#2d8df2,#26c2ac,#99c946,#9dc943,#39c895,#07b5d0,#1aabdd,#06b5cf,#0fbeba,#09bcbe,#08b4d1,#0bb4d2,#25c2ad,#73cd63,#9dc943,#3cc992,#259de7,#4563fc,#3677fe,#1ec0b2,#f5ba3a,#f8d82c,#97ca48,#2d8cf3,#422fc0,#4746ea,#0bbdbc,#fad42e,#f9fb15,#bcc42f,#3080fb,#3e26a8,#463cdf,#22c1b0,#f5e725,#f9fb15,#97ca47,#4269fe,#3e26a8,#484ef1,#49cb85,#f8f818,#f8f818,#49cb85,#484ef1,#3e26a8,#4269fe,#97ca47,#f9fb15,#f5e725,#22c1b0,#463cdf,#3e26a8,#3080fb,#bcc42f,#f9fb15,#fad42e,#0bbdbc,#4746ea,#422fc0,#2d8cf3,#97ca48,#f8d82c,#f5ba3a,#1ec0b2,#3677fe,#4563fc,#259de7,#3cc992,#9dc943,#73cd63,#25c2ad,#0bb4d2,#08b4d1,#09bcbe,#0fbeba,#06b5cf,#1aabdd,#07b5d0,#39c895,#9dc943,#99c946,#26c2ac,#2d8df2,#4464fd)"></i><i style="background:linear-gradient(90deg,#4660fc,#2d8df2,#2cc4a7,#abc739,#acc739,#3ac994,#11b1d6,#20a4e3,#13b1d7,#0dbdbb,#1abfb5,#02bac4,#01b8c9,#24c1ae,#5ccc76,#7dcc5b,#33c69d,#249fe5,#3f6eff,#2e84f9,#27c2ac,#edba33,#fdcb32,#7dcc5c,#2d8af5,#4434ce,#4851f3,#1cc0b4,#fbd32e,#f8f917,#a8c73b,#327cfc,#3e26a8,#4743e7,#2ac3a9,#f5e825,#f9fb15,#8dcb4f,#4367fd,#3e26a8,#4850f2,#4bcb83,#f8f818,#f8f818,#4bcb83,#4850f2,#3e26a8,#4367fd,#8dcb4f,#f9fb15,#f5e825,#2ac3a9,#4743e7,#3e26a8,#327cfc,#a8c73b,#f8f917,#fbd32e,#1cc0b4,#4851f3,#4434ce,#2d8af5,#7dcc5c,#fdcb32,#edba33,#27c2ac,#2e84f9,#3f6eff,#249fe5,#33c69d,#7dcc5b,#5ccc76,#24c1ae,#01b8c9,#02bac4,#1abfb5,#0dbdbb,#13b1d7,#20a4e3,#11b1d6,#3ac994,#acc739,#abc739,#2cc4a7,#2d8df2,#4660fc)"></i><i style="background:linear-gradient(90deg,#475dfa,#2d8df2,#31c6a0,#bbc42f,#b9c431,#3bc993,#18addb,#259ce7,#1aacdd,#0ebdbb,#28c3aa,#18bfb6,#06bcc0,#20c1b1,#45cb89,#5ecc74,#2dc4a6,#21a3e3,#327cfc,#2c8ff0,#2cc4a7,#e1bc2b,#febe3c,#64cd6e,#2d8af5,#463bdd,#475cfa,#27c2ac,#fcd030,#f6ef20,#94ca4a,#3479fd,#3e26a8,#484aee,#2fc5a3,#f5e725,#f9fb15,#82cc57,#4466fd,#3e26a8,#4852f4,#4dcb82,#f8f61a,#f8f61a,#4dcb82,#4852f4,#3e26a8,#4466fd,#82cc57,#f9fb15,#f5e725,#2fc5a3,#484aee,#3e26a8,#3479fd,#94ca4a,#f6ef20,#fcd030,#27c2ac,#475cfa,#463bdd,#2d8af5,#64cd6e,#febe3c,#e1bc2b,#2cc4a7,#2c8ff0,#327cfc,#21a3e3,#2dc4a6,#5ecc74,#45cb89,#20c1b1,#06bcc0,#18bfb6,#28c3aa,#0ebdbb,#1aacdd,#259ce7,#18addb,#3bc993,#b9c431,#bbc42f,#31c6a0,#2d8df2,#475dfa)"></i><i style="background:linear-gradient(90deg,#475af9,#2c8ef1,#36c799,#cac129,#c4c22b,#3ac993,#1da9e0,#2994ed,#1ea7e1,#10beba,#32c69e,#2cc4a7,#14beb8,#1ac0b5,#35c79b,#43ca8b,#26c2ac,#1ea7e1,#2d89f5,#2699e9,#2ec4a4,#d0bf27,#edba33,#50cc7f,#2d8bf4,#4745e9,#4368fe,#2dc4a6,#fdcb33,#f5e427,#7ecc5a,#3579fd,#3f28ae,#4852f4,#33c69e,#f5e427,#f7f61a,#76cc60,#4466fd,#3e26a8,#4756f7,#4dcc82,#f6f31d,#f6f31d,#4dcc82,#4756f7,#3e26a8,#4466fd,#76cc60,#f7f61a,#f5e427,#33c69e,#4852f4,#3f28ae,#3579fd,#7ecc5a,#f5e427,#fdcb33,#2dc4a6,#4368fe,#4745e9,#2d8bf4,#50cc7f,#edba33,#d0bf27,#2ec4a4,#2699e9,#2d89f5,#1ea7e1,#26c2ac,#43ca8b,#35c79b,#1ac0b5,#14beb8,#2cc4a7,#32c69e,#10beba,#1ea7e1,#2994ed,#1da9e0,#3ac993,#c4c22b,#cac129,#36c799,#2c8ef1,#475af9)"></i><i style="background:linear-gradient(90deg,#4758f8,#2c90f0,#3cc991,#d7be28,#cec028,#39c895,#21a3e3,#2d8bf3,#22a2e4,#14bfb8,#3dc990,#37c897,#20c1b1,#11beb9,#27c2ab,#32c69e,#1fc0b2,#19addc,#2895ec,#21a3e4,#2fc5a3,#bac430,#d4bf28,#40ca8d,#2c8ef1,#4851f3,#3975fe,#31c5a1,#fec438,#f9d72d,#6acd6a,#347afd,#422ec0,#475bf9,#36c799,#f6df29,#f5ee21,#6acd6a,#4368fe,#3e26a8,#475bf9,#4ccb83,#f5ed22,#f5ed22,#4ccb83,#475bf9,#3e26a8,#4368fe,#6acd6a,#f5ee21,#f6df29,#36c799,#475bf9,#422ec0,#347afd,#6acd6a,#f9d72d,#fec438,#31c5a1,#3975fe,#4851f3,#2c8ef1,#40ca8d,#d4bf28,#bac430,#2fc5a3,#21a3e4,#2895ec,#19addc,#1fc0b2,#32c69e,#27c2ab,#11beb9,#20c1b1,#37c897,#3dc990,#14bfb8,#22a2e4,#2d8bf3,#21a3e3,#39c895,#cec028,#d7be28,#3cc991,#2c90f0,#4758f8)"></i><i style="background:linear-gradient(90deg,#4756f7,#2b91ef,#45cb89,#e3bc2c,#d5be28,#37c897,#249ee6,#2e83f9,#249de6,#1ac0b5,#50cc80,#4acb84,#29c3aa,#07bcbf,#0ebebb,#25c2ae,#19bfb6,#0eb2d4,#22a2e4,#1babde,#2ec5a4,#9fc941,#b5c533,#36c799,#2a92ee,#465efb,#2f82fa,#33c69d,#fbbc3d,#fec934,#58cc79,#317dfc,#4536d4,#4465fd,#38c896,#f9d72c,#f5e327,#5fcd73,#406cfe,#3f29b2,#4562fc,#4acb85,#f5e526,#f5e526,#4acb85,#4562fc,#3f29b2,#406cfe,#5fcd73,#f5e327,#f9d72c,#38c896,#4465fd,#4536d4,#317dfc,#58cc79,#fec934,#fbbc3d,#33c69d,#2f82fa,#465efb,#2a92ee,#36c799,#b5c533,#9fc941,#2ec5a4,#1babde,#22a2e4,#0eb2d4,#19bfb6,#25c2ae,#0ebebb,#07bcbf,#29c3aa,#4acb84,#50cc80,#1ac0b5,#249de6,#2e83f9,#249ee6,#37c897,#d5be28,#e3bc2c,#45cb89,#2b91ef,#4756f7)"></i><i style="background:linear-gradient(90deg,#4756f7,#2a93ed,#4fcc80,#ecba32,#dbbd28,#35c79a,#2798ea,#337bfd,#269ae9,#20c1b1,#66cd6d,#62cd71,#2ec4a5,#01b9c6,#01b8ca,#0cbdbc,#14beb8,#01b8ca,#19addc,#0fb2d5,#2cc4a6,#7fcc5a,#92ca4c,#2fc5a2,#2798ea,#406dfe,#2d8df2,#34c79b,#edba33,#fbbc3d,#48cb86,#2f81fa,#4741e5,#3d70ff,#39c995,#fdcd31,#f9d62d,#54cc7d,#3c71ff,#4331c7,#4269fe,#47cb87,#f7db2b,#f7db2b,#47cb87,#4269fe,#4331c7,#3c71ff,#54cc7d,#f9d62d,#fdcd31,#39c995,#3d70ff,#4741e5,#2f81fa,#48cb86,#fbbc3d,#edba33,#34c79b,#2d8df2,#406dfe,#2798ea,#2fc5a2,#92ca4c,#7fcc5a,#2cc4a6,#0fb2d5,#19addc,#01b8ca,#14beb8,#0cbdbc,#01b8ca,#01b9c6,#2ec4a5,#62cd71,#66cd6d,#20c1b1,#269ae9,#337bfd,#2798ea,#35c79a,#dbbd28,#ecba32,#4fcc80,#2a93ed,#4756f7)"></i><i style="background:linear-gradient(90deg,#4756f7,#2896eb,#5acc78,#f3ba39,#dfbc2a,#33c69e,#2b92ee,#3b72ff,#2797eb,#26c2ac,#7fcc5a,#7bcc5d,#31c6a0,#05b6cd,#13b0d7,#01b8c9,#11beb9,#09bcbe,#04b6cd,#02b7cb,#29c3aa,#5ecc74,#6ccd68,#29c3a9,#249ee6,#317efb,#2798ea,#34c79c,#d9be28,#e5bb2d,#3cc991,#2e87f7,#484ff2,#327cfc,#3ac994,#fec239,#fec934,#49cb85,#3678fd,#463bdc,#3b72ff,#43ca8b,#fccf30,#fccf30,#43ca8b,#3b72ff,#463bdc,#3678fd,#49cb85,#fec934,#fec239,#3ac994,#327cfc,#484ff2,#2e87f7,#3cc991,#e5bb2d,#d9be28,#34c79c,#2798ea,#317efb,#249ee6,#29c3a9,#6ccd68,#5ecc74,#29c3aa,#02b7cb,#04b6cd,#09bcbe,#11beb9,#01b8c9,#13b0d7,#05b6cd,#31c6a0,#7bcc5d,#7fcc5a,#26c2ac,#2797eb,#3b72ff,#2b92ee,#33c69e,#dfbc2a,#f3ba39,#5acc78,#2896eb,#4756f7)"></i><i style="background:linear-gradient(90deg,#4757f7,#2699e9,#64cd6f,#f9bb3d,#e1bc2b,#30c5a2,#2d8cf3,#416bfe,#2994ed,#2cc4a7,#97ca47,#93ca4b,#34c79c,#10b2d5,#1ea7e1,#0eb3d4,#11beba,#20c1b1,#0dbdbc,#05bbc1,#23c1af,#3fca8e,#4acb84,#23c1af,#1fa6e2,#2d8df2,#22a1e4,#33c69d,#bdc32e,#c8c129,#35c79b,#2c8ef1,#465efb,#2d87f7,#38c896,#f6ba3b,#fbbc3d,#3fca8e,#3080fa,#4848ec,#327cfc,#3eca8f,#fec239,#fec239,#3eca8f,#327cfc,#4848ec,#3080fa,#3fca8e,#fbbc3d,#f6ba3b,#38c896,#2d87f7,#465efb,#2c8ef1,#35c79b,#c8c129,#bdc32e,#33c69d,#22a1e4,#2d8df2,#1fa6e2,#23c1af,#4acb84,#3fca8e,#23c1af,#05bbc1,#0dbdbc,#20c1b1,#11beba,#0eb3d4,#1ea7e1,#10b2d5,#34c79c,#93ca4b,#97ca47,#2cc4a7,#2994ed,#416bfe,#2d8cf3,#30c5a2,#e1bc2b,#f9bb3d,#64cd6f,#2699e9,#4757f7)"></i><i style="background:linear-gradient(90deg,#4759f8,#259ce7,#6ecd67,#fcbc3d,#e2bc2b,#2cc4a6,#2e86f7,#4464fd,#2a92ee,#30c5a1,#aec637,#a8c73b,#35c79a,#19addc,#259de7,#19acdc,#13beb9,#2fc5a3,#29c3aa,#15bfb8,#18bfb6,#2ec5a4,#34c79b,#1cc0b4,#18addb,#259ce7,#1baade,#30c5a1,#9cc944,#a4c83e,#2fc5a2,#2896ec,#3f6eff,#2b92ee,#36c898,#e0bc2b,#e5bb2d,#38c896,#2d88f6,#4757f7,#2e86f7,#3ac994,#f3ba39,#f3ba39,#3ac994,#2e86f7,#4757f7,#2d88f6,#38c896,#e5bb2d,#e0bc2b,#36c898,#2b92ee,#3f6eff,#2896ec,#2fc5a2,#a4c83e,#9cc944,#30c5a1,#1baade,#259ce7,#18addb,#1cc0b4,#34c79b,#2ec5a4,#18bfb6,#15bfb8,#29c3aa,#2fc5a3,#13beb9,#19acdc,#259de7,#19addc,#35c79a,#a8c73b,#aec637,#30c5a1,#2a92ee,#4464fd,#2e86f7,#2cc4a6,#e2bc2b,#fcbc3d,#6ecd67,#259ce7,#4759f8)"></i><i style="background:linear-gradient(90deg,#475cfa,#249fe5,#77cc60,#febe3c,#e1bc2b,#28c3ab,#2f81fa,#465ffb,#2b91ef,#35c79a,#c2c22c,#bac430,#36c898,#1ea7e1,#2a93ee,#1fa6e2,#16bfb7,#3cc991,#38c896,#23c1af,#0bbdbd,#15bfb7,#24c2ae,#16bfb7,#08b4d0,#1ca9df,#10b2d5,#2dc4a5,#74cc62,#7ccc5c,#2ac3a9,#249ee6,#2f81fa,#259ce7,#34c79c,#c3c22b,#c7c12a,#33c79d,#2b91ef,#4368fe,#2c90f0,#36c899,#dabd28,#dabd28,#36c899,#2c90f0,#4368fe,#2b91ef,#33c79d,#c7c12a,#c3c22b,#34c79c,#259ce7,#2f81fa,#249ee6,#2ac3a9,#7ccc5c,#74cc62,#2dc4a5,#10b2d5,#1ca9df,#08b4d0,#16bfb7,#24c2ae,#15bfb7,#0bbdbd,#23c1af,#38c896,#3cc991,#16bfb7,#1fa6e2,#2a93ee,#1ea7e1,#36c898,#bac430,#c2c22c,#35c79a,#2b91ef,#465ffb,#2f81fa,#28c3ab,#e1bc2b,#febe3c,#77cc60,#249fe5,#475cfa)"></i><i style="background:linear-gradient(90deg,#465ffb,#21a2e4,#80cc5a,#febf3b,#dfbc2a,#23c1af,#327bfc,#475bf9,#2b91ef,#3bc993,#d3bf27,#c8c129,#36c898,#22a1e4,#2d88f6,#23a0e5,#1bc0b4,#52cc7e,#51cc7f,#2bc3a8,#02bac5,#01b8c9,#09bcbe,#12beb9,#02bac3,#07b5d0,#01b7ca,#27c2ab,#4fcc80,#55cc7b,#24c1ae,#1ea7e1,#2b91ef,#1fa6e2,#31c6a0,#9fc941,#a2c83f,#2fc5a3,#269ae8,#337bfd,#269ae9,#32c69e,#bac430,#bac430,#32c69e,#269ae9,#337bfd,#269ae8,#2fc5a3,#a2c83f,#9fc941,#31c6a0,#1fa6e2,#2b91ef,#1ea7e1,#24c1ae,#55cc7b,#4fcc80,#27c2ab,#01b7ca,#07b5d0,#02bac3,#12beb9,#09bcbe,#01b8c9,#02bac5,#2bc3a8,#51cc7f,#52cc7e,#1bc0b4,#23a0e5,#2d88f6,#22a1e4,#36c898,#c8c129,#d3bf27,#3bc993,#2b91ef,#475bf9,#327bfc,#23c1af,#dfbc2a,#febf3b,#80cc5a,#21a2e4,#465ffb)"></i><i style="background:linear-gradient(90deg,#4564fd,#1fa6e2,#86cb55,#febf3b,#dcbd29,#1bc0b4,#3777fe,#4758f8,#2b91ef,#42ca8b,#e0bc2b,#d4bf27,#36c899,#259be8,#317efb,#269ae8,#21c1b0,#6dcd68,#6ecd67,#30c5a1,#04b6cd,#15afd9,#04b6cd,#10beba,#1ac0b5,#0bbdbc,#07bcbf,#1fc0b2,#34c79b,#38c896,#1dc0b3,#15afd9,#23a1e4,#17aeda,#2dc4a6,#75cc61,#78cc5f,#2ac3a9,#21a3e3,#2d8cf3,#21a3e3,#2ec5a4,#92ca4c,#92ca4c,#2ec5a4,#21a3e3,#2d8cf3,#21a3e3,#2ac3a9,#78cc5f,#75cc61,#2dc4a6,#17aeda,#23a1e4,#15afd9,#1dc0b3,#38c896,#34c79b,#1fc0b2,#07bcbf,#0bbdbc,#1ac0b5,#10beba,#04b6cd,#15afd9,#04b6cd,#30c5a1,#6ecd67,#6dcd68,#21c1b0,#269ae8,#317efb,#259be8,#36c899,#d4bf27,#e0bc2b,#42ca8b,#2b91ef,#4758f8,#3777fe,#1bc0b4,#dcbd29,#febf3b,#86cb55,#1fa6e2,#4564fd)"></i><i style="background:linear-gradient(90deg,#4269fe,#1ca9df,#8bcb51,#febe3c,#d6be28,#13beb8,#3b73fe,#4756f7,#2a92ee,#4ccb83,#ebba32,#dcbd29,#35c79b,#2995ec,#3a74fe,#2896ec,#27c2ac,#89cb52,#8ccb50,#34c79b,#0fb2d5,#20a4e3,#15afd9,#10beba,#2ec4a5,#2bc3a8,#1abfb5,#12beb9,#1fc1b1,#27c2ab,#17bfb6,#04b6cd,#16afd9,#07b5cf,#27c2ac,#4ecc82,#50cc7f,#24c2ae,#19acdc,#259de7,#19acdc,#2ac3a9,#67cd6d,#67cd6d,#2ac3a9,#19acdc,#259de7,#19acdc,#24c2ae,#50cc7f,#4ecc82,#27c2ac,#07b5cf,#16afd9,#04b6cd,#17bfb6,#27c2ab,#1fc1b1,#12beb9,#1abfb5,#2bc3a8,#2ec4a5,#10beba,#15afd9,#20a4e3,#0fb2d5,#34c79b,#8ccb50,#89cb52,#27c2ac,#2896ec,#3a74fe,#2995ec,#35c79b,#dcbd29,#ebba32,#4ccb83,#2a92ee,#4756f7,#3b73fe,#13beb8,#d6be28,#febe3c,#8bcb51,#1ca9df,#4269fe)"></i><i style="background:linear-gradient(90deg,#3e6fff,#19addc,#8dcb4f,#fdbd3d,#cfc028,#0bbdbd,#3d70ff,#4756f6,#2994ed,#55cc7b,#f3ba39,#e2bc2b,#33c69d,#2c8ef1,#416afe,#2b92ee,#2cc4a7,#a3c83e,#a7c73c,#37c897,#19addc,#2699ea,#1ea7e1,#12beb9,#3bc992,#3dc991,#28c2ab,#05bbc1,#01bac5,#09bcbe,#12beb9,#09bcbe,#01b9c6,#02bac3,#1ec0b2,#33c69d,#34c79b,#1dc0b3,#08b4d1,#1aacdd,#09b4d1,#23c1af,#41ca8c,#41ca8c,#23c1af,#09b4d1,#1aacdd,#08b4d1,#1dc0b3,#34c79b,#33c69d,#1ec0b2,#02bac3,#01b9c6,#09bcbe,#12beb9,#09bcbe,#01bac5,#05bbc1,#28c2ab,#3dc991,#3bc992,#12beb9,#1ea7e1,#2699ea,#19addc,#37c897,#a7c73c,#a3c83e,#2cc4a7,#2b92ee,#416afe,#2c8ef1,#33c69d,#e2bc2b,#f3ba39,#55cc7b,#2994ed,#4756f6,#3d70ff,#0bbdbd,#cfc028,#fdbd3d,#8dcb4f,#19addc,#3e6fff)"></i><i style="background:linear-gradient(90deg,#3776fe,#14b0d8,#8ecb4f,#f9bb3d,#c6c22a,#05bbc1,#3f6fff,#4756f7,#2896eb,#5ecd74,#f9bb3d,#e6bb2d,#31c6a0,#2d89f6,#4563fd,#2c8ff1,#30c5a2,#bac430,#bdc32e,#3bc993,#1ea7e1,#2d8df2,#23a0e5,#15bfb7,#53cc7d,#5bcc76,#30c5a2,#01b8c9,#13b1d7,#06b6ce,#0ebebb,#24c1af,#21c1b0,#16bfb7,#12beb9,#1bc0b4,#20c1b1,#16bfb7,#02bbc3,#01b8ca,#02bac4,#1bc0b4,#2dc4a6,#2dc4a6,#1bc0b4,#02bac4,#01b8ca,#02bbc3,#16bfb7,#20c1b1,#1bc0b4,#12beb9,#16bfb7,#21c1b0,#24c1af,#0ebebb,#06b6ce,#13b1d7,#01b8c9,#30c5a2,#5bcc76,#53cc7d,#15bfb7,#23a0e5,#2d8df2,#1ea7e1,#3bc993,#bdc32e,#bac430,#30c5a2,#2c8ff1,#4563fd,#2d89f6,#31c6a0,#e6bb2d,#f9bb3d,#5ecd74,#2896eb,#4756f7,#3f6fff,#05bbc1,#c6c22a,#f9bb3d,#8ecb4f,#14b0d8,#3776fe)"></i><i style="background:linear-gradient(90deg,#317efb,#0eb2d4,#8ccb50,#f4ba39,#bbc42f,#02bac4,#3f6eff,#4758f8,#2699e9,#66cd6d,#fcbd3d,#e7bb2e,#2ec5a3,#2e83f9,#465dfa,#2d8df2,#34c79c,#cec028,#cfc028,#3cc991,#22a1e4,#2f81fa,#2699ea,#19bfb5,#6ecd66,#7ecc5b,#36c799,#08b4d0,#20a5e2,#18addb,#0cbdbc,#33c69e,#36c899,#27c2ab,#07bcc0,#01b8c8,#02bac4,#0fbebb,#1bc0b4,#1cc0b3,#16bfb7,#10beba,#0ebdbb,#0ebdbb,#10beba,#16bfb7,#1cc0b3,#1bc0b4,#0fbebb,#02bac4,#01b8c8,#07bcc0,#27c2ab,#36c899,#33c69e,#0cbdbc,#18addb,#20a5e2,#08b4d0,#36c799,#7ecc5b,#6ecd66,#19bfb5,#2699ea,#2f81fa,#22a1e4,#3cc991,#cfc028,#cec028,#34c79c,#2d8df2,#465dfa,#2e83f9,#2ec5a3,#e7bb2e,#fcbd3d,#66cd6d,#2699e9,#4758f8,#3f6eff,#02bac4,#bbc42f,#f4ba39,#8ccb50,#0eb2d4,#317efb)"></i><i style="background:linear-gradient(90deg,#2e86f7,#07b5d0,#88cb53,#ebba32,#afc637,#01b9c8,#3e6fff,#475bf9,#259ce7,#6dcd67,#febd3c,#e7bb2d,#2cc4a7,#307ffb,#4759f8,#2d8cf3,#38c896,#ddbd29,#dcbd29,#3dca90,#259be8,#3876fe,#2b92ee,#1ec0b2,#8bcb51,#9ec942,#3cc991,#13b0d7,#2699e9,#21a4e3,#0bbdbd,#43ca8b,#53cc7d,#31c69f,#01b9c6,#16afd9,#10b2d5,#09bcbe,#2ec4a5,#34c79b,#2ac3a9,#08bcbf,#06b5ce,#06b5ce,#08bcbf,#2ac3a9,#34c79b,#2ec4a5,#09bcbe,#10b2d5,#16afd9,#01b9c6,#31c69f,#53cc7d,#43ca8b,#0bbdbd,#21a4e3,#2699e9,#13b0d7,#3cc991,#9ec942,#8bcb51,#1ec0b2,#2b92ee,#3876fe,#259be8,#3dca90,#dcbd29,#ddbd29,#38c896,#2d8cf3,#4759f8,#307ffb,#2cc4a7,#e7bb2d,#febd3c,#6dcd67,#259ce7,#475bf9,#3e6fff,#01b9c8,#afc637,#ebba32,#88cb53,#07b5d0,#2e86f7)"></i><i style="background:linear-gradient(90deg,#2c8ef2,#03b7cc,#82cc58,#e0bc2b,#a0c841,#01b8ca,#3c71ff,#465ffb,#249fe6,#72cd63,#febe3c,#e4bb2c,#28c2ab,#337bfc,#4756f6,#2d8cf3,#3dc990,#e8bb2f,#e6bb2d,#3dca90,#2896ec,#416bfe,#2d8df2,#23c1af,#a5c83d,#bac430,#43ca8a,#1aabdd,#2d8cf3,#269be8,#0bbdbd,#5ccc75,#78cc5f,#3ac993,#04b6cd,#21a3e3,#1ea8e1,#05bbc1,#3ac994,#51cc7f,#35c79b,#02bac4,#1aabdd,#1aabdd,#02bac4,#35c79b,#51cc7f,#3ac994,#05bbc1,#1ea8e1,#21a3e3,#04b6cd,#3ac993,#78cc5f,#5ccc75,#0bbdbd,#269be8,#2d8cf3,#1aabdd,#43ca8a,#bac430,#a5c83d,#23c1af,#2d8df2,#416bfe,#2896ec,#3dca90,#e6bb2d,#e8bb2f,#3dc990,#2d8cf3,#4756f6,#337bfc,#28c2ab,#e4bb2c,#febe3c,#72cd63,#249fe6,#465ffb,#3c71ff,#01b8ca,#a0c841,#e0bc2b,#82cc58,#03b7cc,#2c8ef2)"></i><i style="background:linear-gradient(90deg,#2895ec,#01b9c8,#79cc5f,#d2bf27,#90ca4d,#03b7cc,#3974fe,#4464fd,#22a2e4,#76cc61,#fdbd3d,#dfbc2a,#24c1af,#3678fd,#4854f5,#2d8cf3,#43ca8a,#f1ba36,#ecba32,#3cc991,#2b90f0,#4563fc,#2d88f6,#27c2ab,#bcc42f,#d0c027,#4acb84,#1fa6e1,#2f80fa,#2b92ee,#0cbdbc,#77cc5f,#9dc943,#46cb88,#0cb3d3,#2796eb,#259de7,#02bac3,#4ecc81,#77cc60,#42ca8b,#01b8c9,#239fe5,#239fe5,#01b8c9,#42ca8b,#77cc60,#4ecc81,#02bac3,#259de7,#2796eb,#0cb3d3,#46cb88,#9dc943,#77cc5f,#0cbdbc,#2b92ee,#2f80fa,#1fa6e1,#4acb84,#d0c027,#bcc42f,#27c2ab,#2d88f6,#4563fc,#2b90f0,#3cc991,#ecba32,#f1ba36,#43ca8a,#2d8cf3,#4854f5,#3678fd,#24c1af,#dfbc2a,#fdbd3d,#76cc61,#22a2e4,#4464fd,#3974fe,#03b7cc,#90ca4d,#d2bf27,#79cc5f,#01b9c8,#2895ec)"></i><i style="background:linear-gradient(90deg,#249de7,#02bac4,#6ecd67,#c1c32c,#7fcc5a,#05b6ce,#3579fd,#416bfe,#1fa6e2,#77cc5f,#fabb3d,#d8be28,#1ec0b2,#3776fe,#4854f6,#2c8ef1,#49cb85,#f6ba3b,#f0ba36,#3bc993,#2d8bf3,#475cfa,#2e85f8,#2bc3a8,#cdc028,#e0bc2a,#50cc80,#22a1e4,#3974fe,#2d8af4,#0dbdbb,#92ca4c,#bcc42f,#53cc7d,#14b0d8,#2d8af4,#2a92ee,#01bac5,#65cd6e,#9ec942,#55cc7c,#04b6cd,#2994ed,#2994ed,#04b6cd,#55cc7c,#9ec942,#65cd6e,#01bac5,#2a92ee,#2d8af4,#14b0d8,#53cc7d,#bcc42f,#92ca4c,#0dbdbb,#2d8af4,#3974fe,#22a1e4,#50cc80,#e0bc2a,#cdc028,#2bc3a8,#2e85f8,#475cfa,#2d8bf3,#3bc993,#f0ba36,#f6ba3b,#49cb85,#2c8ef1,#4854f6,#3776fe,#1ec0b2,#d8be28,#fabb3d,#77cc5f,#1fa6e2,#416bfe,#3579fd,#05b6ce,#7fcc5a,#c1c32c,#6ecd67,#02bac4,#249de7)"></i></div>
<div class="hm" style="left:839px;top:236.7px;width:172.6px;height:172px;--rh:2.0235px"><i style="background:linear-gradient(90deg,#93ca4b,#56cc7b,#05b6ce,#2e87f7,#3876fe,#23a0e5,#40ca8d,#d8be28,#e0bc2b,#4dcc82,#259be8,#465ffb,#416bfe,#0eb2d4,#a6c73c,#fec636,#efba35,#3dc991,#2895ec,#4367fd,#3080fa,#02bac3,#9ec942,#ecba32,#bdc32e,#2ec5a4,#259be8,#337afd,#2d8bf4,#07b5cf,#4acb84,#8bcb51,#61cd71,#11beb9,#249ee6,#2e87f7,#2b92ee,#0fb2d5,#33c79d,#63cd70,#56cc7b,#27c2ac,#13b1d7,#22a2e4,#1da8e0,#06bcc0,#3cc991,#5ecd74,#41ca8c,#06bcc0,#22a2e4,#2b91ef,#23a0e5,#09bdbe,#5dcc74,#9cc944,#72cd63,#1cc0b3,#249fe5,#2d89f5,#259de7,#1dc0b3,#86cb54,#b4c533,#5dcc75,#0fb2d5,#307ffb,#3b73fe,#249ee6,#36c898,#b6c532,#bac430,#3cc992,#22a2e4,#3875fe,#317efb,#14b0d8,#54cc7c,#b3c534,#94ca4a,#2fc5a2,#1aacdd,#259ce7,#1aabde,#1fc0b2,#4ccb83)"></i><i style="background:linear-gradient(90deg,#aec637,#62cd70,#08b4d1,#307ffb,#3f6eff,#249ee6,#49cb85,#e5bb2d,#e7bb2e,#49cb85,#2796eb,#475af9,#416cfe,#05b6ce,#b7c532,#fec934,#e9bb2f,#33c79c,#2b90ef,#4269fe,#2d89f5,#18bfb6,#aec637,#e9bb30,#abc739,#22c1b0,#2797eb,#327cfc,#2c8ef1,#05b6ce,#42ca8b,#74cc62,#4fcc81,#0cbdbc,#21a3e3,#2a93ed,#249ee6,#04b6cd,#32c69f,#52cc7e,#45cb89,#23c1af,#0cb3d3,#1da8e0,#19addc,#03bbc3,#31c6a0,#42ca8b,#33c79c,#02bbc3,#1fa6e2,#2699e9,#20a4e3,#08bcbe,#4ecc81,#84cb56,#63cd6f,#1dc0b3,#20a4e3,#2b91ef,#22a2e4,#21c1b0,#84cb56,#b3c534,#64cd6f,#04b6cc,#2d89f5,#317dfc,#21a4e3,#3bc993,#bbc430,#c0c32d,#42ca8b,#20a5e2,#3777fe,#327dfc,#17aedb,#53cc7d,#bac430,#a2c83f,#34c79c,#19addc,#269ae9,#1ca9e0,#20c1b1,#59cc79)"></i><i style="background:linear-gradient(90deg,#c3c22b,#85cb55,#02bac4,#2f81fa,#4465fd,#2b91ef,#36c899,#e2bc2b,#f7ba3c,#6dcd67,#23a1e5,#475cfa,#4563fc,#18addb,#9ec942,#fec735,#f4ba3a,#46cb88,#259be8,#3e70ff,#2d88f6,#08bcbf,#96ca48,#ddbd29,#a8c73b,#2ac3a9,#249fe6,#2e83f9,#2c90f0,#0eb2d4,#34c79b,#60cd73,#4dcc82,#21c1b0,#13b0d7,#21a3e3,#1da8e0,#01b7ca,#2ac3a9,#3cc992,#38c896,#24c1af,#01b8ca,#15afd9,#14b0d8,#01b8c8,#21c1b0,#31c6a0,#2dc4a6,#08bcbf,#17aeda,#21a3e4,#1da8e0,#01bac5,#38c896,#68cd6b,#5dcc75,#29c3aa,#18aedb,#2699e9,#22a2e4,#10beba,#6dcd68,#b0c636,#7fcc5a,#18bfb6,#2699e9,#2e84f8,#249fe5,#2ec5a4,#aac73a,#cbc129,#64cd6e,#10b2d5,#2f80fa,#3678fe,#21a3e3,#3bc993,#b5c533,#bac430,#4dcc82,#0bb4d2,#2699e9,#23a1e5,#07bcbf,#4fcc81)"></i><i style="background:linear-gradient(90deg,#cdc028,#a3c83f,#18bfb6,#2e86f8,#465ffb,#2e86f8,#2ac3a9,#dcbd29,#febf3b,#94ca4a,#1aacdd,#4562fc,#465efb,#20a4e3,#81cc58,#fec239,#fbbc3d,#60cd72,#1fa6e2,#3479fd,#2d88f6,#01b8c8,#76cc61,#c6c22a,#9dc943,#2fc5a3,#1da8e0,#2c8ff0,#2797ea,#0cb3d3,#2fc5a3,#4fcc80,#49cb85,#2dc4a6,#02bac4,#0eb2d4,#0cb3d3,#02bac4,#1fc1b1,#2dc4a5,#2cc4a7,#1dc0b3,#03bbc2,#04b6cd,#06b5cf,#01b9c8,#0ebdbb,#20c1b1,#1fc1b1,#09bcbe,#08b4d0,#19addc,#17aedb,#01b9c8,#2dc4a6,#4acb84,#4dcb82,#2cc4a6,#0ab4d1,#22a1e4,#20a4e3,#05bbc1,#56cc7b,#a4c83e,#8dcb50,#2ec5a4,#1fa6e2,#2d8bf4,#259be8,#19bfb5,#8ecb4f,#cac129,#83cc57,#04bbc1,#2d8cf3,#3678fe,#269ae8,#2cc4a6,#a8c73b,#c8c129,#6bcd69,#01b9c6,#2699e9,#2797eb,#08b4d1,#3cc991)"></i><i style="background:linear-gradient(90deg,#d4bf28,#a8c73b,#16bfb7,#2e83f9,#465ffb,#2d88f6,#30c5a1,#e7bb2e,#fec339,#95ca49,#1aabdd,#4563fd,#4562fc,#1da9e0,#87cb54,#fec03b,#f3ba39,#56cc7b,#1ea7e1,#2f80fa,#2c90f0,#02bac4,#69cd6a,#abc739,#7ecc5b,#29c3a9,#19addc,#259de7,#1fa6e2,#01b9c7,#30c5a2,#42ca8b,#3eca90,#2ec5a3,#1abfb5,#0abdbd,#0bbdbd,#13beb8,#19bfb6,#18bfb6,#13beb9,#0ebdbb,#0abdbd,#08bcbf,#06bcc0,#04bbc1,#05bbc1,#07bcc0,#07bcbf,#03bbc3,#01b8ca,#07b5d0,#07b5d0,#02bac4,#24c1af,#35c799,#38c896,#26c2ac,#04b6cd,#1ca9df,#1aabdd,#09bdbe,#4dcc82,#92ca4b,#80cc59,#2fc5a3,#1caadf,#2c8ff0,#259be7,#0fbebb,#7dcc5c,#c0c32d,#86cb55,#0ebdbb,#2b92ee,#327bfc,#269ae9,#29c3aa,#a3c83f,#c8c129,#6ecd67,#01b9c7,#2995ec,#2c90f0,#15afd9,#36c898)"></i><i style="background:linear-gradient(90deg,#dcbd29,#99c946,#01b9c6,#337bfd,#4563fc,#2798ea,#50cc7f,#fabb3d,#fec13a,#75cc61,#22a1e4,#4562fc,#3f6fff,#08b5d0,#a3c83f,#fdbd3d,#d9bd28,#37c898,#23a1e4,#2e86f7,#259ce7,#14beb8,#64cd6f,#88cb53,#54cc7d,#19bfb5,#14b0d8,#1babde,#09b4d1,#16bfb7,#30c5a2,#35c79a,#32c69f,#2ec4a4,#2dc4a5,#2fc5a2,#2ec5a4,#25c2ad,#0ebdbb,#01b9c6,#01b8c8,#06bcc0,#1cc0b3,#26c2ac,#22c1b0,#0bbdbc,#01b8c9,#07b5d0,#06b5ce,#01b8c8,#02bbc3,#04bbc2,#03bbc2,#08bcbf,#19bfb5,#28c3aa,#2cc4a7,#1dc0b3,#01b9c7,#11b1d6,#0ab4d1,#1ac0b4,#4bcb83,#7ecc5b,#66cd6d,#26c2ac,#1da9e0,#2a93ed,#23a0e5,#16bfb7,#78cc5f,#b4c534,#75cc61,#06bcc0,#2b92ee,#307ffb,#249fe6,#2ec5a3,#a5c83d,#bfc32d,#5bcc77,#0bb3d2,#2d8df2,#2d8cf3,#15afd9,#3bc993)"></i><i style="background:linear-gradient(90deg,#d3bf27,#4dcc82,#23a1e4,#426afe,#3678fd,#01b9c7,#bfc32d,#fdcb33,#e4bb2c,#2ac3a9,#2e85f8,#4563fc,#2b90f0,#34c79c,#d6be28,#edba34,#84cc56,#01b8c8,#2a93ee,#2b91ef,#14b0d8,#32c69f,#63cd70,#58cc79,#2ec4a4,#01b9c6,#0cb3d3,#03b7cc,#0dbdbb,#23c1af,#26c2ad,#21c1b0,#25c2ae,#31c6a0,#42ca8b,#4ecc81,#3dc990,#24c1af,#01b7ca,#11b1d6,#05b6ce,#18bfb6,#34c79c,#3bc993,#2dc4a5,#02bbc3,#15afd9,#1caadf,#13b0d7,#01b9c6,#18bfb6,#20c1b1,#16bfb7,#09bcbe,#08bcbe,#13beb9,#1cc0b3,#19bfb5,#08bcbe,#02bac5,#0bbdbd,#2ec5a4,#50cc7f,#65cd6e,#40ca8d,#07bcc0,#20a4e3,#269ae8,#17aeda,#31c6a0,#8acb52,#9dc943,#45cb89,#13b1d7,#2d8bf4,#2d8af5,#13b0d7,#4fcc81,#b6c532,#a0c841,#2fc5a3,#23a1e4,#2e83f9,#2994ed,#03bbc3,#62cd71)"></i><i style="background:linear-gradient(90deg,#bbc42f,#2ac3a9,#2c8ef2,#4269fe,#2c90f0,#36c799,#eeba34,#feca34,#b2c534,#03b7cc,#3678fd,#3e70ff,#1da8e0,#5dcc75,#d8be28,#c6c22a,#3fca8e,#19acdc,#2a92ee,#249de7,#01b8c8,#34c79c,#43ca8a,#32c69e,#11beb9,#01b9c8,#02bac5,#11beb9,#1cc0b3,#10beba,#01b9c6,#01b9c8,#16bfb7,#3bc993,#6ccd68,#76cc61,#43ca8a,#10beba,#16aeda,#1caadf,#02b7cb,#30c5a2,#59cc78,#5bcc77,#30c5a1,#06b5cf,#22a2e4,#249ee6,#17aeda,#10beba,#30c5a1,#32c69f,#22c1af,#03bbc2,#01b8ca,#02bac4,#17bfb6,#26c2ac,#27c2ac,#22c1af,#26c2ad,#32c69e,#46cb88,#4dcc82,#34c79c,#02bac4,#1da8e0,#20a4e3,#04b6cd,#3ac993,#89cb52,#88cb53,#34c79b,#1aacdd,#2d8df2,#2994ec,#01b9c6,#67cd6c,#b4c533,#82cc58,#13beb9,#2796eb,#2f82fa,#259ce7,#21c1b0,#7ecc5b)"></i><i style="background:linear-gradient(90deg,#d1bf27,#3cc991,#269ae8,#406dfe,#2d88f6,#25c2ae,#d8be28,#fec735,#c9c129,#14beb8,#2e86f7,#3b73fe,#249fe5,#37c897,#b0c636,#b1c635,#45cb89,#09b4d1,#259de7,#22a1e4,#07b5d0,#1ec0b2,#2ac3a9,#1ac0b5,#04bbc2,#04bbc2,#1bc0b4,#2cc4a7,#27c2ac,#02bac3,#18aedb,#1da9e0,#02b7cb,#34c79b,#7ecc5b,#9bc944,#62cd70,#18bfb6,#1ea7e1,#259de7,#16afd9,#2dc4a5,#74cc62,#8bcb51,#4acb85,#01b9c6,#259de7,#2b92ee,#20a4e3,#0bbdbd,#40ca8d,#57cc7a,#39c895,#0fbeba,#07b5cf,#07b5d0,#09bcbe,#2cc4a6,#37c898,#35c799,#30c5a2,#2fc5a3,#36c799,#3dc990,#36c799,#19bfb5,#0db3d3,#1baadf,#0ab4d2,#2ec4a5,#72cd63,#91ca4c,#50cc7f,#01b9c8,#2699e9,#2a93ee,#12b1d6,#43ca8a,#a6c83d,#97ca48,#30c5a2,#21a3e3,#2e85f8,#2994ed,#03bbc3,#67cd6c)"></i><i style="background:linear-gradient(90deg,#d2bf27,#3dca90,#259ce7,#3d70ff,#2d8af4,#22c1af,#cdc028,#febf3b,#bcc42f,#13beb9,#2d8bf3,#347afd,#23a0e5,#30c5a1,#8fcb4e,#90ca4d,#3ac993,#04b6cd,#1ea7e1,#1babde,#03b7cc,#0bbdbd,#07bcbf,#02b7ca,#04b6cd,#09bdbe,#2fc5a3,#3bc992,#2ec4a5,#03b7cc,#22a1e4,#269ae8,#16afd9,#33c69d,#97ca47,#bbc430,#73cd63,#0bbdbc,#259be8,#2d8df2,#1ea7e1,#2fc5a3,#93ca4a,#b3c534,#65cd6e,#02bac3,#2797eb,#2d87f7,#249ee6,#0fbeba,#5ccc76,#87cb54,#5acc77,#1fc0b2,#13b0d7,#1babde,#03b7cc,#2cc4a6,#47cb87,#4dcc82,#3ac993,#2ec5a4,#2bc3a8,#2fc5a2,#30c5a1,#23c1af,#01b9c6,#0eb2d4,#03b7cc,#2ac3a9,#63cd70,#8bcb51,#5bcc76,#0ebebb,#22a2e4,#2798ea,#14b0d8,#39c995,#9ac946,#99c946,#36c799,#1da9e0,#2d88f6,#2a92ee,#01b8c8,#5ecd74)"></i><i style="background:linear-gradient(90deg,#adc638,#18bfb6,#2d8bf4,#3b72ff,#259de7,#41ca8d,#debd2a,#ecba33,#71cd64,#12b1d7,#2e84f9,#2e87f7,#14b0d8,#3fca8e,#82cc58,#63cd70,#29c3aa,#07b5d0,#14b0d8,#05b6ce,#05bbc1,#02bbc3,#09b4d1,#15afd9,#06b6ce,#25c2ae,#3eca8f,#42ca8b,#1fc1b1,#1da9e0,#2d8df2,#2b90f0,#0bb3d2,#55cc7c,#c5c22a,#c2c22c,#4acb85,#1aacdd,#2f81fa,#2f83f9,#17aeda,#52cc7e,#c7c129,#c5c22a,#4fcc81,#16aeda,#2e84f8,#3080fb,#20a4e3,#31c6a0,#97ca48,#afc637,#60cd72,#09bcbe,#20a4e3,#249fe5,#0ab4d1,#33c69e,#6acd6a,#71cd64,#40ca8d,#27c2ab,#13beb8,#19bfb5,#25c2ae,#21c1b0,#0abdbd,#01b9c7,#06bcc0,#2fc5a2,#5ccc76,#71cd64,#41ca8c,#02bac4,#22a2e4,#249fe5,#02b7cb,#49cb86,#98c947,#7dcc5b,#24c2ae,#23a0e5,#2d88f6,#259be8,#15bfb8,#75cc61)"></i><i style="background:linear-gradient(90deg,#90ca4d,#01b9c7,#2e84f9,#3875fe,#20a4e3,#4ccb83,#d3bf27,#cec028,#47cb87,#1ca9e0,#2e86f7,#2b91ef,#05b6ce,#3fca8e,#68cd6b,#48cb86,#21c1b0,#01b9c7,#01b9c7,#0cbdbc,#0ebdbb,#03b7cc,#1babde,#1da8e0,#01b8ca,#32c69f,#5fcd73,#54cc7d,#14beb8,#259be7,#327cfc,#2d89f6,#03b7cc,#7ccc5c,#e1bc2b,#c7c12a,#34c79b,#2798ea,#4369fe,#3678fe,#11b2d5,#76cc61,#e4bb2c,#d1bf27,#41ca8c,#21a3e3,#3a73fe,#3876fe,#1fa5e2,#3dca90,#bac430,#cac129,#69cd6a,#01b9c6,#2797ea,#2b91ef,#19acdc,#31c6a0,#7ecc5b,#8ccb50,#4ecc81,#1bc0b4,#01b8c9,#01b8c8,#10beba,#21c1b0,#1bc0b4,#0abdbd,#0cbdbc,#2ac3a9,#43ca8a,#53cc7e,#34c79b,#01b8c9,#21a3e4,#23a1e4,#01b7ca,#41ca8c,#85cb56,#66cd6d,#15bfb7,#259de7,#2d88f6,#259de7,#1ac0b5,#76cc60)"></i><i style="background:linear-gradient(90deg,#9ac946,#0abdbe,#2d89f5,#3a74fe,#259ce7,#32c69e,#afc636,#b9c430,#46cb88,#16afda,#2c8ff1,#2895ec,#0ab4d1,#32c69f,#4bcb83,#3ac994,#23c1af,#0fbeba,#1cc0b4,#29c3aa,#1dc0b3,#07b5d0,#22a2e4,#21a3e3,#06b5cf,#38c896,#83cc57,#7bcc5d,#27c2ab,#269ae8,#3f6eff,#3678fe,#14b0d8,#7acc5e,#f2ba38,#e2bc2b,#3fca8e,#2895ec,#4759f8,#4562fc,#1fa6e2,#68cd6b,#efba35,#ebba31,#5ecc74,#1ea7e1,#416bfe,#4563fd,#2895ec,#2fc5a3,#bac430,#e2bc2b,#95ca49,#11beb9,#2994ed,#317efb,#2797ea,#11beba,#70cd65,#a2c83f,#6ccd68,#24c2ae,#12b1d6,#15afd9,#01b7ca,#19bfb5,#25c2ad,#1ac0b4,#0cbdbc,#18bfb6,#2fc5a3,#3ac994,#2fc5a2,#01b9c7,#20a4e3,#259de7,#15afd9,#2dc4a6,#64cd6f,#5fcd73,#20c1b1,#22a2e4,#2d87f6,#2995ec,#01b9c6,#5acc77)"></i><i style="background:linear-gradient(90deg,#9fc941,#18bfb6,#2c8ef1,#3a73fe,#2994ed,#20c1b1,#8bcb51,#a3c83f,#45cb89,#0bb3d2,#2798ea,#259be7,#0ab4d2,#29c3aa,#36c898,#2ec4a4,#1bc0b4,#1cc0b4,#2ec5a3,#37c897,#2ac3a9,#06b5cf,#249fe5,#269ae8,#10b2d5,#3cc991,#a3c83f,#a5c83d,#35c79a,#259ce7,#4563fd,#4466fd,#1fa5e2,#71cd65,#fdbd3d,#f9bb3d,#58cc79,#2896eb,#484ef1,#4850f3,#2698ea,#59cc78,#f7ba3c,#fdbd3d,#80cc59,#1aabdd,#4465fd,#4853f4,#2f81fa,#13beb8,#afc637,#f0ba36,#bbc42f,#2ac3a9,#2994ed,#3f6dfe,#3080fb,#0fb2d5,#57cc7a,#afc636,#91ca4c,#31c69f,#14b0d8,#23a1e4,#1aacdd,#09bcbe,#2ac3a9,#28c3aa,#16bfb7,#0bbdbd,#1bc0b4,#2cc4a7,#28c3ab,#01bac5,#1ea7e1,#259ce7,#1da8e0,#11beb9,#47cb87,#54cc7d,#25c2ad,#1fa6e1,#2d88f6,#2d8df2,#11b1d6,#3fca8e)"></i><i style="background:linear-gradient(90deg,#7bcc5d,#02b7cb,#2e84f8,#3876fe,#249ee6,#2ec4a4,#8acb52,#86cb54,#32c69f,#16afd9,#259ce7,#1fa6e2,#01b9c7,#27c2ab,#2bc3a8,#19bfb5,#0fbebb,#27c2ac,#3cc991,#43ca8a,#23c1af,#18aedb,#2994ed,#2797eb,#02b7cb,#63cd70,#c9c129,#aec637,#27c2ab,#2d88f6,#4852f4,#4564fd,#13b0d7,#abc739,#fdce31,#f8ba3d,#35c799,#317dfb,#463de0,#4852f4,#1da8e0,#99c946,#fec934,#fdbd3d,#57cc7a,#2797eb,#4850f3,#484aee,#2e87f7,#2dc4a5,#d1bf27,#fbbc3d,#b3c534,#10beba,#2e83f9,#475cfa,#3776fe,#0db3d3,#6ccd69,#c8c129,#a1c840,#2fc5a3,#1da9e0,#2796eb,#1fa6e2,#09bdbe,#32c69f,#33c69d,#22c1b0,#08bcbe,#09bdbe,#1bc0b4,#1ac0b4,#01b9c8,#1caadf,#22a1e4,#19acdc,#15bfb7,#3fca8e,#42ca8b,#12beb9,#23a0e5,#2e85f8,#2c8ff1,#0ab4d2,#44ca8a)"></i><i style="background:linear-gradient(90deg,#6dcd68,#0ab4d1,#2f82f9,#347afd,#21a2e4,#31c6a1,#82cc58,#76cc61,#2dc4a5,#12b1d7,#20a5e3,#17aeda,#06bcc1,#20c1b1,#17bfb6,#04bbc2,#0abdbd,#30c5a2,#48cb86,#48cb86,#1fc0b2,#1fa6e2,#2d89f6,#2c90f0,#01b8c9,#7ccc5c,#e0bc2a,#bcc42f,#21c1b0,#317dfc,#4745e9,#475cfa,#0fb2d4,#c4c22b,#f7db2a,#febe3c,#32c69e,#3a73fe,#4536d3,#4851f3,#17aeda,#bbc430,#f9d82c,#fec338,#51cc7f,#2c8ff1,#4745e9,#4742e6,#2e85f8,#32c69f,#e2bc2b,#fec338,#bfc32d,#0dbdbb,#327cfc,#4852f4,#416bfe,#14b0d8,#76cc61,#ddbd29,#bcc42f,#35c79a,#1fa6e2,#2c8ef1,#249ee6,#07bcc0,#3fca8e,#4ccb83,#2dc4a6,#09bcbe,#02bac5,#0abdbd,#15bfb8,#03bbc2,#12b1d7,#1da9e0,#14b0d8,#16bfb7,#3cc992,#3eca8f,#12beb9,#22a2e4,#2e87f7,#2c8ff1,#0db3d3,#40ca8d)"></i><i style="background:linear-gradient(90deg,#97ca47,#16bfb7,#2b91ef,#337bfc,#2699e9,#19bfb6,#67cd6c,#79cc5e,#3ac993,#02bac4,#14b0d8,#08b4d0,#0abdbd,#19bfb5,#05bbc1,#05b6cd,#01b9c6,#2dc4a6,#5acc77,#6bcd69,#34c79c,#1aabdd,#2f80fa,#3479fd,#1fa5e2,#4fcc81,#e4bb2c,#ebba32,#54cc7c,#2994ed,#4743e7,#4740e3,#2b92ee,#7dcc5b,#f7dc2a,#f6e128,#94ca4a,#2797eb,#463cdf,#463bdc,#2b91ef,#77cc60,#f9d72d,#f5e228,#bbc430,#17aeda,#4854f6,#4538d7,#4562fc,#03b7cc,#bac430,#fdcb33,#f8ba3d,#4ccb83,#2796eb,#4854f5,#4854f5,#2895ec,#3eca8f,#dcbd29,#eabb30,#75cc61,#07b5d0,#2d8df2,#2c8ef2,#13b0d7,#34c79b,#5ecc74,#43ca8a,#1ac0b4,#01b9c7,#01bac5,#10beba,#13beb8,#01b9c7,#13b0d7,#14b0d8,#04bbc2,#33c69e,#45cb89,#2ec4a4,#12b1d6,#2b91ef,#2d89f5,#1fa6e2,#2bc3a8)"></i><i style="background:linear-gradient(90deg,#afc637,#2fc5a3,#249de6,#2f81fa,#2797eb,#09bcbe,#5acc78,#77cc5f,#45cb89,#19bfb5,#01b8c8,#04bbc1,#1dc0b3,#1bc0b4,#01b9c7,#14b0d8,#04b6cd,#2bc3a8,#69cd6a,#8ecb4f,#49cb85,#13b1d7,#337bfc,#4466fd,#2b91ef,#33c69e,#e2bc2b,#fec13a,#9bc944,#1da8e0,#484aed,#4332c9,#3974fe,#41ca8c,#f9d62d,#f7f61a,#e7bb2e,#0eb2d4,#484cf0,#4538d8,#3678fe,#42ca8b,#fcd12f,#f5ec23,#fabb3d,#1ec0b2,#4269fe,#463adb,#484df0,#20a5e3,#8fca4d,#fdce31,#fcd030,#9dc943,#19addc,#465efb,#4849ed,#307ffb,#26c2ad,#d2bf27,#fdbd3d,#b3c534,#10beba,#2c8ff1,#307ffb,#23a1e5,#27c2ac,#64cd6f,#5fcd73,#2ec4a4,#01b9c6,#03b6cc,#05bbc1,#19bfb5,#0fbebb,#02b7cb,#0db3d3,#01b9c7,#2cc4a7,#43ca8a,#38c897,#01bac5,#259ce7,#2d8af5,#259de7,#10beba)"></i><i style="background:linear-gradient(90deg,#bdc32e,#3fca8e,#1da9e0,#2d89f5,#2797eb,#02bbc3,#4ecc81,#72cd63,#4ccb83,#28c3aa,#12beb9,#1fc1b1,#2cc4a6,#22c1b0,#04b6cd,#19acdc,#14b0d8,#21c1b0,#70cd65,#acc739,#6fcd66,#01b8ca,#337bfc,#4757f7,#337bfc,#16bfb7,#dabd28,#fbd22f,#dfbc2a,#03bbc2,#4758f8,#412dbd,#4758f8,#19bfb5,#fec934,#f9fb15,#fbd22f,#2dc4a5,#4563fc,#463bdd,#465dfb,#1abfb5,#fec13a,#f7f31d,#f7db2b,#58cc79,#2e86f8,#463cde,#463de0,#2c8ef1,#5bcc77,#fdcb33,#f6de29,#e2bc2b,#0fbeba,#3f6fff,#4744e8,#4369fe,#01b9c8,#bdc32f,#fec537,#dfbc2a,#31c5a1,#2a93ed,#3c72ff,#2c8ef2,#05bbc1,#5fcd73,#7acc5d,#3dc990,#04bbc2,#0bb4d2,#02b7cb,#11beba,#1bc0b4,#06bcc0,#05b6cd,#01b8ca,#20c1b1,#3cc992,#3fca8e,#19bfb5,#1fa6e2,#2d8cf3,#2994ed,#03b7cc)"></i><i style="background:linear-gradient(90deg,#bbc430,#3fca8e,#1baade,#2d8df2,#259ce7,#08bcbf,#4dcc82,#69cd6a,#46cb88,#2bc3a8,#23c1af,#2fc5a3,#34c79b,#20c1b1,#0cb3d3,#21a2e4,#1da8e0,#1bc0b4,#7ecc5a,#c3c22b,#86cb54,#01b9c7,#3876fe,#484ef1,#3c72ff,#10beba,#e6bb2d,#f5e227,#f9ba3d,#1dc0b3,#475cfa,#412ebe,#484df0,#04bbc1,#fec537,#f9fb15,#f5e228,#3eca8f,#416cfe,#463bdc,#4852f4,#01b9c6,#f9bb3d,#f8f719,#f5e924,#81cc58,#2b91ef,#463de0,#473ee2,#2e86f7,#50cc7f,#fcce31,#f5e626,#fabc3d,#29c3a9,#3875fe,#4744e8,#4561fc,#07b5cf,#bcc42f,#fdcc32,#eeba34,#36c899,#2b90ef,#4465fd,#2f81fa,#01b8ca,#64cd6f,#94ca4a,#50cc7f,#07bcbf,#19acdc,#10b2d5,#04bbc2,#1cc0b4,#13beb9,#01b9c6,#01b8c8,#19bfb5,#36c898,#3eca8f,#22c1b0,#1baade,#2c8ef1,#2c90f0,#0fb2d5)"></i><i style="background:linear-gradient(90deg,#a9c73b,#2fc5a3,#22a2e4,#2c8ef1,#21a4e3,#1dc0b3,#52cc7e,#5acc77,#38c896,#28c3ab,#2cc4a7,#38c897,#36c899,#0dbdbb,#1da8e0,#2797ea,#1fa6e2,#2bc3a8,#a3c83f,#d6be28,#7ecc5b,#12b1d6,#4465fd,#4848ec,#317dfc,#33c79d,#fec338,#f5ed21,#f1ba37,#01b8c8,#484bef,#412dbb,#4756f7,#28c2ab,#fad62d,#f9fb15,#fad62d,#2ac3a9,#475cfa,#4536d3,#4755f6,#0ebdbb,#fec239,#f8f719,#f5e427,#67cd6d,#2d88f6,#463de0,#4740e3,#2a93ed,#7dcc5b,#f6e028,#f5eb23,#f4ba39,#11beba,#4368fd,#4745e9,#4368fd,#09bdbe,#dcbd29,#fad52e,#e7bb2d,#25c2ae,#307ffb,#4759f8,#307ffb,#06bcc0,#86cb54,#afc637,#58cc7a,#01b9c6,#21a3e3,#1fa6e2,#01b8c8,#1dc0b3,#1fc0b2,#0abdbe,#04bbc2,#1dc0b3,#35c79a,#3bc993,#1dc0b3,#1ca9df,#2c8ef2,#2b91ef,#0bb3d2)"></i><i style="background:linear-gradient(90deg,#84cc56,#06bcc0,#2796eb,#2b90f0,#17aeda,#2ec5a4,#52cc7e,#44cb8a,#2ec4a5,#26c2ac,#33c69e,#3fca8e,#2ec4a4,#06b5cf,#2699e9,#2b91ef,#17aeda,#4acb85,#d2bf27,#debd29,#53cc7d,#259be8,#4850f3,#484cf0,#2699e9,#8ccb50,#f5e626,#f6f01f,#b9c430,#259be8,#4330c5,#402ab4,#3975fe,#69cd6b,#f6f11f,#f9fb15,#f2ba38,#15afd9,#473fe2,#4330c5,#4367fd,#36c898,#fad62d,#f8f719,#fdce31,#32c69f,#3f6fff,#463de0,#484df0,#19addc,#cbc129,#f6f01f,#f5ee21,#c7c12a,#1aacdd,#4850f3,#4743e7,#317dfc,#39c895,#febf3c,#f8d82c,#c0c32d,#0cb3d3,#4562fc,#484ff2,#2d8af5,#2fc5a3,#bac430,#c3c22b,#4bcb84,#11b1d6,#2797eb,#249fe5,#02b7cb,#26c2ac,#2bc3a7,#1cc0b4,#11beba,#24c1ae,#35c79a,#36c899,#11beba,#1fa6e1,#2c8ff0,#2699e9,#01bac6)"></i><i style="background:linear-gradient(90deg,#68cd6c,#07b5cf,#2a92ee,#2796eb,#07b5cf,#32c69e,#44cb89,#33c79d,#23c1af,#28c3ab,#3bc992,#47cb87,#25c2ad,#1aacdd,#2d8df2,#2c8ff1,#04b6cd,#81cc59,#f3ba39,#e3bc2c,#39c895,#2d88f6,#4744e8,#4755f6,#15afd8,#dabd28,#f8f719,#f5ec22,#78cc5f,#317dfc,#3f29b0,#3f28ae,#2d8df2,#abc739,#f9fb15,#f9fb15,#c1c32c,#269ae9,#4331c7,#402bb7,#3a73fe,#4ecc81,#f6de29,#f8f719,#fec03b,#1cc0b3,#4564fd,#463de0,#4758f8,#01b8ca,#e9bb30,#f6f21e,#f5eb23,#9ac945,#269ae8,#4741e5,#4740e3,#2d8af5,#5dcc75,#fdcc32,#f9d72c,#9cc944,#21a3e3,#4850f2,#484aed,#2b91ef,#44cb8a,#dbbd28,#d2bf27,#44cb8a,#1caadf,#2d8df2,#259be8,#01b8c8,#30c5a2,#35c79a,#2ac3a9,#1cc0b3,#26c2ac,#34c79b,#35c79b,#11beba,#1da9e0,#2896ec,#22a1e4,#12beb9)"></i><i style="background:linear-gradient(90deg,#42ca8c,#1baade,#2b91ef,#23a1e5,#07bcbf,#36c799,#36c898,#25c2ae,#19bfb5,#2fc5a3,#49cb85,#3cc992,#09bdbe,#249de6,#2e85f8,#2699e9,#2ac3a8,#cec028,#fec537,#cec028,#08bcbe,#4368fe,#473fe2,#3c72ff,#35c79b,#f9d62d,#f9fb15,#fbd22f,#23c1af,#4850f2,#3e27ab,#463cde,#0cb3d3,#f9ba3d,#f9fa15,#f5e426,#51cc7f,#3c71ff,#3e26a8,#4230c3,#2a92ee,#99c946,#f5ec22,#f8f719,#d8be28,#11b1d6,#4852f4,#463bdd,#3e6fff,#2ec4a4,#fec537,#f6f01f,#fbd32e,#44cb89,#337bfc,#463ddf,#4744e8,#21a2e4,#a9c73a,#f8d82c,#fdcd32,#53cc7d,#2e85f8,#463cdf,#484df0,#20a4e3,#85cb55,#f8ba3d,#d2bf27,#31c6a0,#259ce7,#2e84f9,#259de7,#0fbeba,#48cb87,#44cb89,#31c5a1,#21c1b0,#26c2ac,#32c69e,#31c69f,#0dbdbc,#1aabdd,#249fe5,#16afda,#30c5a2)"></i><i style="background:linear-gradient(90deg,#3cc992,#1baadf,#2796eb,#1da8e0,#0fbebb,#31c6a1,#2ac3a9,#0ebdbb,#12beb9,#34c79c,#4bcb84,#3dc990,#01bac5,#2895ec,#2f80fa,#249fe6,#3dca90,#f2ba38,#fbd22f,#ccc028,#03b7cc,#475cfa,#463ee1,#2f83f9,#67cd6d,#f6f01f,#f9fb15,#fec735,#01b9c7,#4741e5,#3e27aa,#484aee,#0abdbd,#fec338,#f8f917,#fbd32e,#34c79c,#4466fd,#3e26a8,#4434ce,#2798ea,#9cc943,#f5e825,#f6f01f,#cec028,#13b0d7,#4854f5,#4538d7,#3d70ff,#2cc4a7,#fec03b,#f5ec22,#feca33,#38c896,#3a74fe,#4639da,#4743e7,#20a4e3,#b2c535,#f9d82c,#fdcd32,#4acb84,#317efb,#4536d3,#4849ed,#1fa6e2,#9ac946,#fec239,#e0bc2a,#32c69f,#2798ea,#317efb,#269ae8,#18bfb6,#5ccc76,#66cd6d,#36c799,#21c1b0,#1fc1b1,#2ec4a4,#30c5a1,#16bfb7,#12b1d6,#1ea8e1,#07b5d0,#38c896)"></i><i style="background:linear-gradient(90deg,#6ccd68,#01b8c9,#23a0e5,#1ea7e1,#01b9c6,#20c1b1,#13beb9,#01b8c9,#01bac5,#30c5a2,#58cc79,#5dcc75,#22c1b0,#259de7,#3678fd,#2d8af5,#1bc0b4,#dfbc2a,#f5e227,#fec339,#35c799,#3a74fe,#463ee1,#465ffb,#25c2ae,#f9d62d,#f9fb15,#f6f01f,#4bcb84,#4465fd,#3e27a9,#4330c5,#249de7,#bcc42f,#f6f01f,#f5e725,#92ca4c,#2895ec,#4536d4,#402ab5,#426afe,#2cc4a7,#febe3c,#f6ef20,#fec537,#3bc993,#3080fb,#463cdf,#484aee,#23a0e5,#95ca49,#f7dc2a,#f6e128,#aac73a,#21a3e4,#4742e6,#4537d5,#3d71ff,#36c899,#fec636,#f9d62d,#c8c129,#1aabdd,#4848ec,#4434ce,#337bfd,#3bc993,#f9bb3d,#fec438,#89cb53,#14b0d8,#2f80fa,#2d88f6,#0cb3d3,#42ca8b,#72cd64,#44cb8a,#28c3aa,#18bfb6,#27c2ac,#31c6a0,#2ac3a9,#01b9c7,#19acdc,#13b0d7,#27c2ac)"></i><i style="background:linear-gradient(90deg,#94ca4a,#21c1b0,#1babde,#1da8e0,#05b6ce,#0abdbd,#01bac6,#12b1d7,#0eb2d4,#20c1b1,#5acc78,#7dcc5b,#3ac993,#1ca9df,#3975fe,#3c72ff,#17aeda,#a7c73c,#f5e128,#f6e028,#8acb51,#2b91ef,#463bdd,#4741e5,#1caadf,#ecba32,#f9fb15,#f9fb15,#b7c532,#2c8ff0,#402ab4,#3e26a8,#3a74fe,#48cb87,#fccf30,#f5eb23,#dfbc2a,#01b8c8,#475bf9,#422fc1,#484df0,#1da9e0,#a4c83e,#f9d82c,#f8d82c,#a7c73c,#1aabdd,#4755f6,#463adc,#3f6efe,#1ac0b4,#eabb30,#f6e028,#f8ba3d,#29c3a9,#426afe,#4434cf,#4743e7,#1ea7e1,#c0c32d,#f9d82c,#fdcb33,#3cc992,#3a73fe,#4435d0,#484ff2,#0fb2d4,#c9c129,#fcd12f,#e4bb2c,#2bc3a8,#2c8ff0,#3579fd,#259ce7,#24c1ae,#64cd6e,#62cd70,#30c5a1,#16bfb7,#19bfb5,#2dc4a6,#2fc5a3,#13beb9,#10b2d5,#19addc,#05bbc1)"></i><i style="background:linear-gradient(90deg,#67cd6d,#03bbc3,#1da9e0,#18aedb,#01bac6,#08bcbf,#07b5cf,#19addc,#07b5cf,#2fc5a3,#6ecd67,#6fcd65,#20c1b1,#2a92ee,#4464fd,#337bfd,#0ebebb,#e5bb2d,#f5e824,#fec13a,#29c3aa,#4561fc,#4537d5,#475cfa,#2dc4a6,#f7dd2a,#f9fb15,#f5e128,#32c69e,#465dfa,#3e26a8,#463bdc,#20a5e3,#b3c534,#f6de29,#fbd22f,#7dcc5b,#259de7,#484aee,#4538d8,#3f6dfe,#0abdbd,#cfc028,#fbd32e,#febe3c,#58cc79,#2798ea,#484ff1,#4745ea,#2e84f8,#35c79b,#f4ba3a,#fad52e,#d0bf27,#01b8ca,#4758f8,#4332ca,#4852f4,#02b7cb,#e8bb2f,#f7dc2a,#fec13a,#24c2ae,#4661fc,#4536d4,#475dfa,#14beb8,#f2ba38,#f7dc2a,#d5be28,#05bbc1,#327cfc,#3f6efe,#249ee6,#2fc5a3,#78cc5f,#67cd6c,#2cc4a7,#06bcc0,#07bcc0,#1fc1b1,#25c2ad,#08bcbf,#10b2d5,#13b1d7,#18bfb6)"></i><i style="background:linear-gradient(90deg,#38c896,#0cb3d3,#1baade,#07b5cf,#0cbdbc,#05bbc1,#10b2d5,#16aeda,#08bcbe,#46cb88,#7dcc5b,#4ccb83,#12b1d6,#3875fe,#465ffb,#2994ed,#54cc7c,#fec934,#f7dc2a,#a1c840,#2699e9,#4535d2,#4433cc,#2b92ee,#b5c533,#f9fb15,#f9fb15,#c6c22a,#269ae8,#4433cc,#3f29b0,#3d71ff,#35c79a,#febe3c,#f7dd2a,#e0bc2a,#19bfb5,#3876fe,#4743e7,#4853f5,#269ae8,#4dcc82,#efba35,#fec537,#c5c22a,#1bc0b4,#2f81fa,#484ef1,#475cfa,#21a2e4,#6bcd69,#febe3c,#fec437,#86cb55,#23a1e4,#4746ea,#4332c9,#3e6fff,#33c79c,#fec934,#f5e128,#e6bb2d,#0bb3d2,#484bef,#4639d9,#3579fd,#4ccb83,#fcd030,#f6df29,#a6c73c,#1da9e0,#4563fd,#4368fe,#1ea7e1,#42ca8c,#8ecb4f,#60cd72,#1fc0b2,#05b6ce,#03b7cc,#0cbdbc,#16bfb7,#01bac5,#0fb2d5,#06b5ce,#2cc4a7)"></i><i style="background:linear-gradient(90deg,#3ac994,#04b6cd,#14b0d8,#01b9c7,#14bfb8,#04bbc2,#13b0d7,#17aeda,#12beb9,#57cc7a,#92ca4c,#55cc7c,#14b0d8,#3e70ff,#475bf9,#2a93ed,#59cc78,#fdcb33,#f9d82c,#88cb53,#2c8ef2,#4331c7,#4331c7,#2796eb,#bec32e,#f9fb15,#f8f818,#a1c840,#2b90ef,#4332c9,#412ebe,#327bfc,#3ac993,#fabb3d,#fcd12f,#cbc029,#13beb9,#317efb,#4851f3,#4661fc,#249fe5,#41ca8c,#d6be28,#f7ba3c,#b9c431,#27c2ac,#2c8ff1,#475cfa,#4660fb,#259be8,#46cb88,#edba33,#fec438,#abc739,#0fb2d4,#4759f8,#4434ce,#4562fc,#17bfb6,#fcbd3d,#f5e825,#fec338,#20c1b1,#475dfa,#463adc,#4465fd,#2fc5a3,#fec736,#f5e825,#cec028,#0fb2d5,#4562fc,#475af9,#2797ea,#32c69e,#89cb52,#6acd6a,#23c1af,#0cb3d3,#10b2d5,#01bac6,#0fbebb,#02bbc3,#0ab4d2,#06b5cf,#27c2ac)"></i><i style="background:linear-gradient(90deg,#4bcb84,#06bcc0,#07b5d0,#04bbc2,#1bc0b4,#06bcc0,#15afd9,#16afda,#0bbdbd,#5bcc76,#abc739,#7fcc5a,#02bac5,#3479fd,#4756f7,#2e86f7,#3bc992,#fec438,#f6e029,#b2c635,#259de7,#4435d0,#4331c6,#2e84f8,#88cb53,#f6ef20,#f8f818,#bfc32d,#23a0e5,#463ddf,#422ebf,#406dfe,#20c1b1,#d8be28,#fec537,#d3bf27,#2fc5a3,#2994ed,#4464fd,#4367fd,#2896eb,#24c1ae,#9cc944,#ddbd29,#bfc32d,#41ca8c,#1da8e0,#3b73fe,#4561fc,#2e86f7,#0dbdbb,#b2c534,#fec03a,#e6bb2d,#35c79a,#2e84f8,#473fe3,#484aee,#21a3e3,#b5c533,#f5ec22,#f5e924,#87cb54,#2d8af4,#4639d9,#4740e4,#1da9e0,#d0c027,#f5e825,#fec13a,#2ec4a5,#3777fe,#484df1,#3578fd,#02bac5,#6bcd69,#7acc5d,#32c69f,#08b4d1,#16aeda,#05b6ce,#0abdbd,#09bcbe,#04b6cc,#09b4d1,#11beb9)"></i><i style="background:linear-gradient(90deg,#41ca8c,#05bbc1,#03b7cc,#0cbdbc,#1ec0b2,#02bbc3,#19addc,#16afd9,#19bfb5,#72cd64,#bec32e,#86cb55,#01b9c8,#3677fe,#475bf9,#2a93ee,#5ecc74,#fcd030,#f6de29,#94ca4a,#2b91ef,#4434ce,#4433cd,#2896ec,#aec637,#f6f21e,#f5ea23,#90ca4d,#2a93ed,#463bdd,#4537d5,#317efb,#2ec5a4,#d4bf28,#f7ba3d,#adc638,#1ec0b2,#2994ed,#3e6fff,#3876fe,#249ee6,#23c1af,#80cc59,#bdc32e,#a4c83e,#3eca90,#17aeda,#2f81fa,#416bfe,#2e86f7,#01b8c8,#8dcb4f,#f5ba3b,#eabb30,#4dcc82,#2896eb,#484bef,#4848ec,#2797ea,#8dcb50,#f5e825,#f6ef20,#b2c635,#2797ea,#4435d1,#4434ce,#2896ec,#a7c73c,#f5e327,#fdca33,#3bc993,#327cfc,#4746ea,#4269fe,#0bb3d2,#61cd72,#82cc57,#36c898,#08b5d0,#1aabdd,#0eb2d4,#05bbc1,#0abdbd,#01b8ca,#09b4d1,#0abdbd)"></i><i style="background:linear-gradient(90deg,#33c79d,#01b9c8,#03b7cc,#0fbebb,#1ac0b5,#01b8ca,#1ca9df,#14b0d8,#28c2ab,#8dcb4f,#cac129,#7ccc5c,#0ab4d2,#3b73fe,#4465fd,#1fa6e2,#9ec942,#f6e028,#f9d72c,#60cd73,#307efb,#4539d8,#4743e8,#18aedb,#dfbc2a,#f6f21e,#fad62d,#4dcc82,#2f81fa,#463adc,#4747eb,#2994ed,#41ca8c,#d4bf27,#dfbc2a,#78cc5f,#02bac5,#2b91ef,#3579fd,#2e86f8,#1da8e0,#27c2ab,#6dcd67,#9ec942,#86cb55,#38c896,#0fb2d5,#2d8df2,#3578fd,#2d8af4,#05b6ce,#6ecd67,#e3bc2c,#e2bc2b,#57cc7a,#249ee6,#4853f5,#4848ec,#2b90ef,#71cd64,#f6e028,#f5ee21,#bfc32d,#259be8,#4332c9,#422fc1,#2d88f6,#8bcb51,#f6df29,#fdce31,#41ca8c,#337bfc,#473fe3,#465ffb,#15afd9,#5fcd73,#8ccb50,#3bc992,#07b5d0,#1da9e0,#14b0d8,#02bac5,#08bcbf,#01b7ca,#0bb3d2,#03bbc2)"></i><i style="background:linear-gradient(90deg,#19bfb5,#0db3d3,#05b6ce,#0ebdbb,#0dbdbc,#0eb2d4,#1babde,#07b5cf,#3bc992,#b0c636,#c5c22a,#4dcb82,#21a3e3,#406cfe,#317dfb,#1ac0b5,#f2ba37,#f5e426,#fcbc3d,#13beb9,#475bf9,#473ee1,#406dfe,#36c899,#fdcd31,#f5ef20,#e8bb2f,#01b9c6,#4660fc,#463ee1,#4368fd,#08b5d0,#83cc57,#d7be28,#b0c636,#36c898,#1babde,#2d8af4,#2e84f8,#2699e9,#06b6ce,#34c79c,#6acd6a,#82cc58,#62cd70,#2dc4a5,#12b1d6,#2994ed,#2e86f7,#2797eb,#02bac5,#6dcd68,#d2bf27,#c6c22a,#3bc993,#2895ec,#4850f3,#484ef1,#269ae8,#8dcb4f,#f5e327,#f5e825,#93ca4b,#2d89f5,#412dbb,#412cb9,#2a93ed,#abc739,#f6e128,#fec338,#29c3aa,#4466fd,#4536d5,#4562fc,#04b6cd,#7acc5d,#97ca47,#38c896,#12b1d6,#23a1e4,#17aeda,#01b9c6,#05bbc1,#04b6cc,#0db3d4,#02bbc3)"></i><i style="background:linear-gradient(90deg,#02b7cb,#18addb,#06b5cf,#09bdbe,#01bac5,#19addc,#1aacdd,#07bcbf,#62cd70,#c4c22b,#abc739,#28c2ab,#2c90f0,#3e6fff,#259de7,#6ccd68,#fad52d,#f5e526,#afc637,#249fe5,#4746ea,#4743e7,#249fe5,#aec637,#f5e626,#f8da2b,#78cc5f,#2797eb,#484ef1,#4851f3,#2994ed,#34c79b,#b6c532,#c7c12a,#6bcd69,#07bcbf,#249de7,#2d8cf3,#2994ed,#1babde,#12beb9,#3dc990,#62cd71,#66cd6d,#47cb87,#24c1ae,#10b2d5,#259ce7,#2a93ee,#22a2e4,#0ebebb,#6ecd67,#c1c32c,#a5c83d,#29c3aa,#2d8af5,#484df0,#4756f7,#1ea7e1,#b1c636,#f5e725,#f7db2b,#58cc79,#3c71ff,#402ab4,#4332ca,#20a5e2,#d4bf28,#f7dd2a,#f0ba36,#02b7cb,#484ff2,#4331c8,#406cfe,#12beb9,#9cc943,#9fc941,#33c69e,#19acdc,#249ee6,#16afd9,#02bac4,#06bcc0,#04b6cd,#0db3d3,#03bbc2)"></i><i style="background:linear-gradient(90deg,#06b5cf,#1aacdd,#08b4d1,#05bbc1,#01b8c9,#1caadf,#1caadf,#06bcc0,#67cd6c,#cbc129,#b1c635,#29c3aa,#2c90f0,#3d70ff,#249fe5,#74cc62,#f9d62d,#f5e227,#a5c83d,#259de7,#4849ed,#4849ed,#20a5e3,#b3c534,#f6e028,#fdce31,#61cd71,#2895ec,#4755f6,#465dfb,#249ee6,#3bc992,#b1c635,#b6c533,#5acc77,#05bbc1,#21a2e4,#2797eb,#249fe6,#12b1d7,#15bfb8,#36c799,#4ecc82,#56cc7b,#46cb88,#2ec4a4,#01bac5,#1da8e0,#269be8,#249fe5,#04b6cc,#43ca8a,#a7c73c,#afc636,#3eca8f,#249de6,#4758f8,#484ef1,#2a93ee,#6ecd66,#f8da2b,#f5e626,#99c946,#2d8bf4,#3f29b0,#3e27aa,#2d8bf4,#9cc944,#f8da2b,#fec13a,#21c1b0,#475cfa,#412ebd,#475af9,#04b6cd,#90ca4d,#b5c533,#49cb85,#09b4d1,#22a1e4,#16afd9,#02bac4,#0abdbe,#02b7cb,#11b1d6,#02b7cb)"></i><i style="background:linear-gradient(90deg,#12b1d6,#1caadf,#09b4d1,#02bac4,#07b5cf,#1fa6e2,#1babde,#15bfb8,#7bcc5d,#cdc028,#9ac945,#0abdbd,#2e85f8,#3b73fe,#1babde,#a0c841,#f7dd2a,#fad42e,#64cd6e,#2d89f5,#484cef,#475af9,#03b7cc,#dbbd28,#f6de29,#f8ba3d,#30c5a2,#2e84f9,#4756f7,#3c71ff,#12b1d6,#5fcd73,#b6c532,#9bc944,#3cc992,#03b7cc,#21a3e3,#23a0e5,#1babde,#01b9c8,#24c1af,#35c79a,#40ca8d,#42ca8b,#39c994,#2cc4a7,#06bcc0,#16afd9,#22a2e4,#22a2e4,#08b5d0,#37c897,#94ca4a,#aac73a,#46cb88,#20a4e3,#465ffb,#4850f3,#2b91ef,#64cd6e,#f9d72c,#f5e725,#a1c840,#2c8ef1,#3f29b0,#3e26a8,#2d89f5,#98c947,#f8da2b,#fec239,#23c1af,#475bf9,#412cba,#4759f8,#03b7cc,#9cc944,#c4c22b,#57cc7a,#03b7cc,#21a3e3,#13b0d8,#04bbc1,#10beba,#01b8c8,#10b2d5,#05b6ce)"></i><i style="background:linear-gradient(90deg,#19addc,#1da9e0,#08b4d1,#01b9c6,#0fb2d4,#1da8e0,#19addc,#25c2ad,#8ccb50,#c7c12a,#74cc62,#0db3d3,#3579fd,#3776fe,#06b5cf,#c4c22b,#f9d62d,#febf3b,#30c5a1,#3b73fe,#484ef1,#3d71ff,#2bc3a8,#f6ba3c,#f9d62d,#c7c12a,#01b8c9,#3d71ff,#475af9,#2e87f7,#0dbdbc,#7fcc5a,#afc636,#76cc60,#2ac3a9,#10b2d5,#1fa6e2,#1caadf,#07b5cf,#11beb9,#2bc3a8,#33c69e,#35c79a,#34c79c,#2fc5a2,#25c2ae,#08bcbf,#0eb2d4,#1ea7e1,#20a5e2,#0bb3d2,#31c6a0,#85cb56,#a4c83e,#4bcb84,#1da8e0,#4465fd,#4854f5,#2a92ee,#65cd6e,#f9d72d,#f5e626,#9fc942,#2c8ef2,#402ab3,#3f28ae,#2d8df2,#a3c83f,#f7db2b,#fec339,#21c1b1,#475af9,#412dbd,#465dfa,#02bac4,#acc738,#cfc028,#5ecd74,#02b7ca,#20a4e3,#19addc,#08bcbf,#17bfb7,#01bac5,#0eb3d4,#05b6ce)"></i><i style="background:linear-gradient(90deg,#13b0d7,#1aabdd,#06b5cf,#02bac3,#0bb3d2,#1da8e0,#1baade,#1ac0b5,#80cc59,#c7c12a,#7fcc5a,#06b5cf,#3678fd,#406dfe,#19acdc,#a4c83e,#fccf30,#fec03a,#38c896,#327cfc,#4852f4,#3f6eff,#1fc0b2,#e9bb2f,#fccf30,#c4c22b,#01b9c6,#3975fe,#475dfa,#2e86f7,#06bcc0,#6ecd67,#9dc943,#67cd6c,#27c2ab,#0ab4d2,#1aacdd,#13b0d7,#01b9c6,#19bfb5,#28c3ab,#2cc4a7,#2bc3a8,#28c3aa,#26c2ac,#22c1b0,#14beb8,#01b9c8,#17aeda,#1fa6e2,#1aacdd,#12beb9,#5dcc74,#a4c83e,#78cc5f,#02bac4,#337bfd,#4851f3,#3678fe,#29c3a9,#febe3c,#f5ed22,#e5bb2c,#17aedb,#4538d7,#3f28ae,#4269fe,#4ccb83,#f9d72c,#f8d92b,#60cd72,#307efb,#4435d0,#484ef1,#1aacdd,#87cb54,#d6be28,#87cb54,#14beb8,#1da8e0,#1baade,#02bac4,#15bfb7,#03bbc2,#0db3d3,#0bb3d2)"></i><i style="background:linear-gradient(90deg,#0eb3d4,#17aeda,#01b8ca,#06bcc0,#09b4d1,#1da9e0,#1babde,#1bc0b4,#80cc59,#c2c32c,#72cd63,#10b2d5,#3a73fe,#406cfe,#17aeda,#a7c73c,#fdcb33,#fabb3d,#31c6a0,#347afd,#4756f7,#3479fd,#2dc4a6,#eeba34,#fec934,#acc739,#08b4d1,#3c71ff,#4661fc,#2c8ef2,#12beb9,#6ecd66,#8ccb50,#50cc7f,#18bfb6,#0eb2d4,#16afd9,#06b5cf,#0abdbd,#21c1b0,#26c2ac,#24c1ae,#1dc0b3,#18bfb6,#18bfb6,#1ac0b4,#19bfb5,#09bcbe,#07b5d0,#1babde,#1caadf,#01b9c6,#44cb8a,#9ac946,#8bcb51,#1ec0b2,#2e87f7,#4851f3,#4368fe,#02bac5,#e6bb2d,#f5e924,#f7ba3c,#01b9c7,#4744e8,#3f29b1,#475af9,#31c6a0,#fdcd31,#f7dd2a,#93ca4b,#2a92ee,#473ee1,#484cef,#21a3e3,#70cd65,#d3bf27,#92ca4b,#1ec0b2,#1da9e0,#1ea7e1,#01b8c8,#12beb9,#06bcc0,#09b4d1,#0ab4d2)"></i><i style="background:linear-gradient(90deg,#09b4d1,#11b2d5,#02bac5,#0abdbd,#09b4d1,#1ca9e0,#19addc,#24c1ae,#85cb55,#b7c532,#57cc7a,#1ca9e0,#3f6efe,#3a73fe,#03b7cc,#c4c22b,#fec934,#e8bb2f,#19bfb6,#3e70ff,#475af9,#2d8bf4,#45cb89,#fabb3d,#fec338,#84cb56,#1baade,#406cfe,#4369fe,#259be8,#2bc3a8,#79cc5e,#7ccc5c,#39c995,#02bac4,#15afd9,#12b1d6,#01b9c6,#1ac0b4,#26c2ad,#24c1ae,#1bc0b4,#11beb9,#0bbdbc,#0cbdbc,#15bfb7,#1dc0b3,#18bfb6,#01bac5,#15afd8,#1babde,#03b7cb,#39c895,#91ca4c,#91ca4c,#29c3aa,#2d8cf3,#4851f4,#4561fc,#0ab4d2,#d1bf27,#f5e227,#f7ba3c,#04bbc2,#4849ed,#402ab5,#4757f7,#2cc4a6,#feca33,#f7dd2a,#a5c83e,#269be8,#4746ea,#484ff2,#21a3e4,#68cd6b,#cdc028,#8ecb4f,#1bc0b4,#1ea7e1,#20a5e3,#03b7cc,#10beba,#09bcbe,#04b6cd,#05b6ce)"></i><i style="background:linear-gradient(90deg,#01b8ca,#07b5d0,#06bcc0,#11beb9,#06b5cf,#1da9e0,#1caadf,#18bfb6,#75cc61,#b0c636,#57cc7a,#1baade,#3f6eff,#3c71ff,#08b5d0,#bcc42f,#fec934,#edba34,#23c1af,#3975fe,#475cfa,#2d89f6,#3dc991,#f5ba3b,#fec339,#8dcb50,#16afda,#3a73fe,#3f6eff,#249ee6,#2dc4a6,#76cc60,#73cd63,#34c79b,#01b9c8,#16afd9,#0db3d4,#05bbc1,#21c1b0,#26c2ac,#1fc1b1,#14beb8,#0bbdbd,#08bcbf,#08bcbf,#12beb9,#22c1b0,#27c2ac,#16bfb7,#07b5cf,#1baade,#14b0d8,#28c3ab,#7ecc5b,#a7c73c,#45cb89,#23a0e5,#4759f8,#4853f5,#249ee6,#91ca4d,#f8d92c,#fec934,#37c897,#4465fd,#412dbc,#4743e7,#04b6cd,#f3ba39,#f7dd2a,#debc2a,#0cb3d3,#4759f8,#484cf0,#2a93ed,#3fca8e,#bdc42f,#9ac946,#2bc3a8,#1aabdd,#20a4e3,#07b5cf,#0ebdbb,#0dbdbb,#01b8c9,#04b6cc)"></i><i style="background:linear-gradient(90deg,#03bbc3,#02b7cb,#0bbdbc,#16bfb7,#05b6ce,#1ea7e1,#1fa6e2,#06bcc0,#61cd71,#a3c83e,#55cc7c,#1babde,#3f6eff,#3f6dfe,#12b1d6,#b0c636,#fec835,#f2ba37,#2bc3a8,#3579fd,#475bfa,#2e84f9,#34c79b,#eeba35,#fec338,#99c946,#0cb3d3,#337afd,#3a73fe,#23a1e5,#2ec5a4,#78cc5f,#70cd65,#31c6a0,#03b7cb,#17aeda,#0ab4d2,#0cbdbc,#26c2ac,#27c2ac,#1bc0b4,#0ebdbb,#09bcbe,#07bcbf,#06bcc1,#0bbdbd,#20c1b1,#2dc4a6,#28c3ab,#02bac5,#1aabdd,#1da9e0,#08bcbf,#63cd6f,#b3c534,#77cc60,#0bb4d2,#4269fe,#484df0,#2d88f6,#4ecc81,#fdcc32,#f8d92b,#7fcc5a,#2d87f7,#4331c6,#4536d3,#23a1e5,#c4c22b,#f7db2a,#fdbd3d,#25c2ae,#3e70ff,#484ef1,#2e84f8,#28c3aa,#a5c83e,#a2c840,#36c899,#10b2d5,#1fa6e1,#07b5d0,#0ebebb,#15bfb8,#02bac5,#01b7ca)"></i><i style="background:linear-gradient(90deg,#01b9c7,#01b8c8,#11beb9,#0fbeba,#0fb2d5,#1fa5e2,#1babde,#1fc0b2,#6dcd68,#82cc58,#29c3aa,#2a92ee,#4563fd,#2f80fa,#24c1af,#e6bb2d,#fec636,#b5c533,#14b0d8,#465ffb,#475bf9,#22a1e4,#81cc59,#fec338,#f7ba3c,#4ecc81,#249ee6,#3d71ff,#2e84f8,#05b6cd,#59cc78,#91ca4c,#5acc77,#14bfb8,#18aedb,#1aacdd,#01b8c9,#23c1af,#2dc4a5,#25c2ae,#10beba,#08bcbf,#08bcbf,#07bcc0,#02bbc3,#05bbc1,#1bc0b4,#2dc4a5,#2ac3a9,#02bac5,#1caadf,#1ca9df,#11beb9,#73cd63,#b9c431,#6acd6a,#17aeda,#4466fd,#4757f7,#259be7,#85cb55,#f9d72c,#fccf30,#4dcc82,#3875fe,#4435d1,#4747eb,#09b4d1,#e7bb2e,#f9d82c,#e4bb2c,#01b8c8,#4464fd,#4853f5,#2994ed,#39c994,#b1c635,#93ca4b,#2cc4a7,#18aedb,#1ea7e1,#02b7cb,#19bfb5,#1bc0b4,#06bcc0,#03bbc2)"></i><i style="background:linear-gradient(90deg,#01b9c7,#02bac5,#17bfb6,#0ebdbb,#12b1d7,#1fa6e2,#17aeda,#29c3aa,#6dcd68,#68cd6c,#07bcbf,#2e85f8,#4562fc,#2d8df2,#3ac994,#f8ba3d,#fec736,#86cb54,#23a0e5,#475cfa,#4660fb,#13b0d7,#afc637,#fec934,#e8bb2e,#32c69f,#2b91ef,#3e70ff,#2b91ef,#18bfb6,#80cc59,#9bc944,#49cb85,#01b9c6,#1da8e0,#19addc,#07bcbf,#2ec5a4,#30c5a2,#1dc0b3,#05bbc1,#02bbc3,#08bcbf,#06bcc0,#01b9c7,#01b8c8,#11beb9,#2ec4a5,#2ec4a4,#04bbc2,#1ca9df,#1fa6e2,#0bbdbc,#75cc61,#c1c32c,#75cc61,#13b0d7,#426afe,#475cfa,#22a2e4,#96ca48,#f7db2b,#fdce31,#48cb86,#3975fe,#4538d7,#484cf0,#05b6ce,#e5bb2c,#fbd22f,#d7be28,#04b6cd,#4564fd,#4756f7,#2796eb,#3ac993,#acc738,#8bcb51,#2ac3a9,#17aeda,#1ca9df,#01b9c7,#1ec0b2,#20c1b1,#0bbdbd,#0bbdbd)"></i><i style="background:linear-gradient(90deg,#05bbc1,#02bbc3,#1abfb5,#16bfb7,#0bb3d2,#1fa6e1,#1babde,#1bc0b4,#65cd6e,#79cc5e,#25c2ad,#2b91ef,#4563fd,#2f81fa,#26c2ac,#e9bb2f,#fec934,#b8c431,#14b0d8,#465efb,#4759f8,#23a0e5,#82cc58,#fec437,#f8ba3d,#4bcb83,#259ce7,#3d71ff,#2d89f5,#06bcc0,#7acc5e,#a7c73c,#5acc77,#05bbc1,#1da8e0,#19acdc,#09bcbe,#31c69f,#32c69e,#19bfb5,#01b9c7,#01b9c8,#09bcbe,#0abdbd,#01b8c8,#07b5cf,#02bbc3,#2dc4a5,#39c895,#23c1af,#17aeda,#249fe5,#0db3d4,#50cc80,#cac129,#b8c431,#25c2ae,#2f82f9,#4757f7,#2e87f7,#41ca8c,#fec934,#f5e228,#afc636,#249de7,#463adc,#4539d8,#2b91ef,#84cc56,#fdcb32,#fabb3d,#33c79d,#2f82fa,#4756f7,#307ffb,#0cbdbc,#83cc57,#94ca4a,#3ac994,#04b6cd,#19addc,#01b8c9,#1abfb5,#20c1b1,#0bbdbc,#06bcc0)"></i><i style="background:linear-gradient(90deg,#01b9c7,#01b9c6,#18bfb6,#13beb8,#0cb3d3,#1da9e0,#13b0d7,#2cc4a7,#73cd62,#72cd63,#13beb8,#2d8af4,#4466fd,#2c8ff1,#3cc991,#fbbc3d,#fdcb33,#93ca4a,#22a2e4,#4757f7,#475af9,#19acdc,#aac73a,#fec934,#e9bb2f,#2fc5a2,#2d8cf3,#416bfe,#2b92ef,#28c2ab,#9dc943,#aec637,#47cb87,#06b5cf,#21a3e3,#16afd9,#20c1b1,#3cc992,#33c69d,#0bbdbd,#06b5cf,#01b8c9,#13beb8,#16bfb7,#01b8c8,#0db3d3,#01bac5,#31c6a0,#47cb87,#2dc4a6,#14b0d8,#249de6,#0fb2d5,#55cc7b,#d5be28,#c3c22b,#28c3ab,#2e83f9,#475af9,#2d8cf3,#4ccb83,#fdcc32,#f6e029,#a3c83e,#269ae9,#463ada,#4639d9,#2b92ee,#7ecc5b,#fec636,#f3ba38,#30c5a1,#2f82fa,#4758f8,#2f81fa,#0cbdbc,#7dcc5b,#8ccb50,#37c898,#05b6ce,#19acdc,#02b7cb,#14beb8,#18bfb6,#05bbc1,#02bbc3)"></i><i style="background:linear-gradient(90deg,#07b5cf,#04b6cd,#0dbdbb,#0dbdbc,#0eb3d4,#1caadf,#0eb2d4,#30c5a1,#7ccc5c,#74cc62,#11beba,#2d8af5,#4368fe,#2994ed,#47cb87,#febe3c,#fdcc32,#81cc59,#2699e9,#4851f3,#4756f7,#18addb,#b1c636,#fec636,#dcbd29,#1dc0b3,#3080fa,#4464fd,#2994ed,#32c69f,#b1c635,#b0c636,#3bc992,#15afd9,#249fe5,#11b1d6,#2dc4a5,#4acb85,#34c79c,#02bac3,#0eb2d4,#01b9c7,#24c1af,#26c2ac,#02bac5,#12b1d6,#01b8c8,#34c79b,#5dcc74,#38c896,#0db3d3,#269ae8,#19addc,#4bcb83,#dabd28,#d5be28,#33c69d,#2d89f5,#4759f8,#2e86f8,#3dca90,#fec736,#f6e028,#b4c534,#23a1e4,#473fe2,#463bdc,#2d8af4,#63cd70,#fec339,#f8ba3d,#3cc992,#2d8cf3,#465dfb,#307ffb,#02bac4,#6ecd67,#87cb54,#38c896,#04b6cd,#1aacdd,#07b5cf,#08bcbf,#0abdbe,#01b8c9,#02b7cb)"></i><i style="background:linear-gradient(90deg,#16afd9,#10b2d5,#02bbc3,#04bbc1,#12b1d6,#1ea7e1,#08b5d0,#34c79b,#7fcc5a,#6bcd69,#02bbc3,#2e84f9,#4368fe,#2699e9,#5acc77,#fec239,#fec537,#59cc79,#2d87f6,#4747eb,#4854f5,#11b1d6,#bfc32d,#fec13a,#bec32e,#04b6cd,#406dfe,#465ffb,#259ce7,#46cb88,#c6c22a,#a9c73b,#2dc4a6,#1fa5e2,#259ce7,#05b6ce,#3bc992,#5ccc76,#32c69e,#02b7cb,#14b0d8,#04bbc2,#31c6a0,#31c6a0,#03bbc2,#16afda,#02b7cb,#38c896,#71cd64,#42ca8b,#0db3d3,#2895ec,#1ea7e1,#44cb89,#ddbd29,#dcbd29,#35c79a,#2d88f6,#4757f7,#2e83f9,#3bc993,#fec636,#f6de29,#b6c532,#21a3e3,#4743e7,#473fe2,#2d8cf3,#65cd6e,#fec438,#fbbc3d,#46cb88,#2a93ee,#4563fd,#2f81fa,#01bac5,#68cd6b,#82cc58,#37c898,#05b6ce,#18addb,#0db3d3,#01b9c6,#01b9c6,#0ab4d2,#0db3d3)"></i><i style="background:linear-gradient(90deg,#20a5e3,#17aedb,#01b9c6,#01b9c6,#15afd8,#1babde,#03bbc2,#44cb8a,#79cc5e,#3eca90,#1da9e0,#3d70ff,#3d70ff,#11b1d6,#acc739,#fdcb33,#e1bc2b,#04bbc2,#4759f8,#463cdf,#416bfe,#2cc4a6,#efba35,#fbbc3d,#51cc7f,#2c8ff1,#4850f3,#4269fe,#04b6cd,#9bc944,#d8be28,#71cd64,#07b5d0,#2a93ee,#23a0e5,#1ec0b2,#68cd6c,#63cd70,#22c1b0,#16afd9,#13b0d7,#21c1b0,#44cb8a,#33c79c,#03b7cc,#1ca9df,#01b9c8,#49cb85,#7ccc5c,#35c79a,#1ea7e1,#2d8cf3,#1aabdd,#61cd71,#e6bb2d,#c1c32c,#0bbdbd,#3c72ff,#4756f7,#2798ea,#7ecc5a,#f9d82c,#fad52d,#6acd6a,#2d89f6,#4742e6,#484cf0,#1aacdd,#b9c430,#fdce31,#ebba31,#29c3aa,#2e85f8,#4466fd,#2b91ef,#25c2ad,#81cc58,#79cc5e,#2dc4a6,#12b1d6,#1aacdd,#0db3d3,#01b8c9,#05b6cd,#14b0d8,#11b1d6)"></i><i style="background:linear-gradient(90deg,#20a4e3,#1caadf,#02b7cb,#02bac5,#11b1d6,#1caadf,#01b8ca,#3ac994,#7acc5d,#51cc7f,#12b1d6,#3a74fe,#4563fd,#23a0e5,#77cc60,#fec537,#f4ba39,#28c2ab,#4562fc,#4435d1,#4852f4,#01b9c6,#d7be28,#f8ba3d,#6bcd69,#2895ec,#484df0,#465efb,#13b0d7,#95ca49,#e1bc2b,#80cc59,#07b5cf,#2d8df2,#2699e9,#1ac0b5,#75cc61,#77cc60,#28c2ab,#19acdc,#1aabdd,#1ec0b2,#55cc7c,#44cb8a,#01b9c7,#22a2e4,#16afd9,#37c898,#87cb54,#4dcc82,#19addc,#3080fb,#2b92ef,#2ec5a4,#d6be28,#e5bb2d,#3bc992,#2e86f7,#484ef1,#3678fd,#33c69e,#fec537,#f6de29,#c8c129,#1babde,#484cf0,#4848ec,#2a92ee,#73cd63,#feca33,#fec438,#60cd72,#249ee6,#406dfe,#2e85f8,#01b9c7,#62cd71,#7fcc5a,#3ac994,#01b8c9,#13b0d7,#09b4d1,#01b9c7,#03b7cc,#17aeda,#19acdc)"></i><i style="background:linear-gradient(90deg,#19addc,#1da8e0,#07b5d0,#05bbc1,#05b6cd,#1babde,#0fb2d4,#2ac3a8,#73cd63,#7bcc5d,#1cc0b4,#2d88f6,#4759f8,#327cfc,#28c2ab,#eeba34,#fec934,#7bcc5d,#2d8cf3,#4331c8,#4433cc,#2896eb,#90ca4d,#fabb3d,#c1c32c,#10b2d5,#475af9,#484df1,#2699e9,#63cd70,#e6bb2d,#afc636,#0cbdbc,#2d8df2,#2d8cf3,#01b8c9,#6bcd69,#93ca4b,#37c898,#17aeda,#22a2e4,#03bbc3,#55cc7b,#69cd6b,#1fc0b2,#23a1e4,#259be7,#0bbdbd,#77cc60,#82cc58,#0abdbd,#2f82f9,#3f6efe,#1ca9df,#8ccb50,#fbbc3d,#b8c431,#0fb2d4,#475bf9,#4850f3,#21a3e3,#b4c534,#f6e128,#fcd12f,#47cb87,#327cfc,#4849ed,#4563fc,#08bcbe,#e0bc2a,#fcd030,#cdc028,#0abdbd,#2e84f8,#3677fe,#21a4e3,#32c69f,#70cd65,#53cc7d,#1fc1b1,#02b7cb,#01b8ca,#07bcbf,#03bbc2,#0fb2d5,#1da9e0)"></i><i style="background:linear-gradient(90deg,#1aabdd,#1da8e0,#03b7cc,#10beba,#01bac5,#13b1d7,#05b6ce,#31c6a0,#77cc60,#6dcd68,#05bbc1,#307ffb,#4758f8,#2e85f8,#37c897,#fabb3d,#fec537,#52cc7e,#3579fd,#4330c5,#463de0,#1aabdd,#cbc129,#fec03a,#a4c83e,#23a1e4,#484bee,#4852f4,#1aabdd,#a1c840,#f3ba39,#8dcb4f,#14b0d8,#327cfc,#2d8df2,#17bfb7,#90ca4d,#95ca49,#29c3a9,#21a3e4,#249ee6,#12beb9,#74cc62,#7ccc5c,#19bfb5,#2699e9,#2995ec,#09bcbe,#81cc58,#8acb52,#05bbc1,#3579fd,#4562fc,#20a4e3,#8dcb4f,#fec13a,#c4c22b,#0bb3d2,#475af9,#4850f2,#20a5e2,#c0c32d,#f5e427,#fbd32e,#43ca8b,#3579fd,#4849ed,#4367fd,#17bfb6,#e8bb2e,#fccf30,#c2c22c,#02bac4,#2f81fa,#3578fd,#1fa6e2,#33c69d,#6ecd67,#51cc7f,#20c1b1,#02bac4,#06bcc0,#19bfb6,#0dbdbb,#0ab4d1,#1babde)"></i><i style="background:linear-gradient(90deg,#1ea7e1,#1da9e0,#02bac5,#21c1b0,#0dbdbb,#04b6cd,#06bcc0,#3bc992,#78cc5f,#53cc7d,#0fb2d5,#3c72ff,#475cfa,#2798ea,#69cd6b,#fec437,#f5ba3b,#25c2ae,#475cfa,#4331c6,#475af9,#28c3ab,#fec13a,#fdcb33,#63cd6f,#2e83f9,#473fe2,#4564fd,#19bfb5,#e0bc2a,#f4ba39,#4bcb83,#2896eb,#3f6efe,#2698ea,#3ac993,#b6c532,#83cc57,#02bac4,#2994ed,#239fe5,#2ec5a4,#9ec942,#85cb56,#06bcc0,#2c90f0,#2994ed,#1dc0b3,#9cc943,#90ca4d,#01b8ca,#406dfe,#465efb,#1da9e0,#aac73a,#fec934,#c1c32c,#17aeda,#4854f5,#4854f5,#13b1d7,#e4bb2c,#f5e924,#fdcd32,#2fc5a2,#416bfe,#4848ec,#3776fe,#34c79c,#fabb3d,#fdcd32,#a1c840,#11b1d6,#3579fd,#327cfc,#19acdc,#3ac994,#6dcd67,#48cb86,#1dc0b3,#06bcc0,#14beb8,#24c1ae,#12beb9,#0ab4d2,#19acdc)"></i><i style="background:linear-gradient(90deg,#22a2e4,#1fa6e1,#02bbc3,#2ac3a9,#1fc1b1,#02bac3,#11beb9,#3eca8f,#75cc61,#4bcb84,#14b0d8,#3d70ff,#465ffb,#249de6,#76cc61,#fec537,#ebba31,#0dbdbb,#4755f6,#4332c9,#416cfe,#48cb86,#f9d62d,#f9d72c,#50cc80,#3875fe,#473fe2,#3f6fff,#34c79c,#f8ba3d,#f2ba38,#33c79d,#2e86f8,#4367fd,#23a0e5,#5acc78,#cbc129,#79cc5e,#0db3d3,#2d89f5,#249de6,#35c79a,#b7c531,#94ca4a,#03bbc2,#2d89f5,#2c8ef1,#1dc0b3,#aec637,#abc739,#06bcc0,#406dfe,#4757f7,#21a3e4,#a8c73b,#fbd22f,#ddbd29,#08b5d0,#4756f6,#484ef1,#1aabdd,#e0bc2a,#f5ee21,#f9d62d,#37c897,#3e70ff,#4848ec,#3876fe,#33c69d,#fabb3d,#fdcd32,#a1c840,#10b2d5,#337afd,#317dfc,#19acdc,#37c897,#66cd6d,#45cb89,#20c1b1,#0dbdbc,#1ec0b2,#29c3a9,#14bfb8,#0db3d4,#1baade)"></i><i style="background:linear-gradient(90deg,#269ae8,#21a3e4,#04bbc2,#30c5a1,#2bc3a8,#0fbeba,#1dc0b3,#4acb85,#6dcd68,#3eca8f,#1aabdd,#3e6fff,#4465fd,#1fa6e2,#8acb51,#fec338,#d6be28,#05b6ce,#484cef,#4433cd,#2e85f8,#90ca4d,#f5e626,#f9d82c,#35c79a,#4563fd,#473fe2,#2f80fa,#61cd71,#fec735,#eabb30,#16bfb7,#3b73fe,#4465fd,#19acdc,#8bcb51,#dcbd29,#64cd6f,#1fa6e1,#327cfc,#259ce7,#40ca8d,#c9c129,#95ca49,#03b7cc,#307ffb,#2d88f6,#1fc0b2,#bfc32e,#bec32e,#0dbdbc,#416afe,#4850f3,#249fe6,#abc739,#f8da2b,#eabb30,#05b6cd,#4852f4,#4747eb,#1ea8e0,#dfbc2a,#f6f01f,#f8da2b,#38c896,#3e6fff,#4746ea,#3678fe,#35c79a,#fbbc3d,#fdca33,#98c946,#13b1d7,#327cfc,#2f82fa,#15afd9,#39c895,#61cd71,#38c896,#1fc0b1,#13beb9,#25c2ae,#2bc3a8,#0ebdbb,#15afd9,#1fa6e1)"></i><i style="background:linear-gradient(90deg,#2b91ef,#249ee6,#04bbc1,#35c79a,#32c69e,#1dc0b2,#23c1af,#46cb88,#61cd72,#36c898,#1da9e0,#3c71ff,#406cfe,#19acdc,#97ca47,#fec13a,#c0c32d,#17aeda,#4747ec,#4538d7,#2699e9,#cac129,#f6f01f,#fad42e,#23c1af,#4756f6,#4740e3,#2b92ee,#9dc943,#fbd32e,#e0bc2a,#03b7cc,#4464fd,#4367fd,#03b7cc,#b8c431,#e7bb2e,#4fcc81,#2698ea,#3f6eff,#269be8,#4bcb83,#d2bf27,#8bcb51,#14b0d8,#3e6fff,#317efb,#19bfb5,#c7c12a,#cbc028,#13beb8,#4466fd,#4747eb,#2797ea,#a3c83e,#f6de29,#f2ba38,#03b7cb,#484df0,#4740e3,#249fe5,#d2bf27,#f6ef20,#f8da2b,#38c896,#406dfe,#473fe3,#3a73fe,#31c6a0,#f5ba3a,#fec636,#92ca4b,#12b1d6,#2f81fa,#2d87f7,#0fb2d4,#3ac993,#5ccc76,#36c799,#1ec0b2,#18bfb6,#29c3aa,#2cc4a7,#08bcbf,#1babde,#22a1e4)"></i><i style="background:linear-gradient(90deg,#2e87f7,#249ee6,#12beb9,#3fca8e,#39c895,#25c2ae,#25c2ad,#3fca8e,#5bcc77,#2ac3a9,#21a2e4,#3975fe,#317efb,#01b9c6,#b9c431,#fcbc3d,#89cb52,#269ae9,#473fe2,#484aee,#05b6ce,#fec13a,#f8f718,#fdbd3d,#14b0d8,#4741e5,#4744e8,#12b1d6,#ecba33,#f8d92b,#b6c533,#23a0e5,#4755f6,#3876fe,#2dc4a5,#e9bb2f,#e6bb2d,#2ec4a4,#2f81fa,#4465fd,#21a3e3,#70cd65,#d8be28,#62cd70,#259be7,#475bf9,#337afd,#29c3a9,#d8be28,#c4c22b,#01b8ca,#4756f7,#4741e5,#259ce7,#bbc430,#f7dc2a,#e2bc2c,#1aabdd,#463de0,#4539d9,#20a4e3,#e0bc2a,#f5ea23,#fec834,#1ac0b4,#475bf9,#4537d6,#347afd,#3ac994,#f6ba3b,#fcbd3d,#6dcd67,#1babde,#2e83f9,#2b92ee,#01b9c7,#44cb8a,#4acb85,#32c69f,#1cc0b3,#1ec0b2,#2dc4a6,#2ac3a9,#01b9c7,#20a5e2,#249fe5)"></i><i style="background:linear-gradient(90deg,#3080fb,#259be8,#14beb8,#47cb87,#3fca8e,#27c2ab,#1ec0b2,#34c79c,#46cb88,#25c2ae,#20a5e2,#317efb,#2d88f6,#09bcbe,#bcc42f,#f9bb3d,#7ecc5a,#2698ea,#4742e6,#4854f5,#08bcbf,#fdcb33,#f9fb15,#f0ba36,#1fa6e1,#4741e5,#484cf0,#04bbc2,#fec239,#f6e029,#a3c83f,#2995ec,#484ef1,#327bfc,#3dc990,#fbbc3d,#eaba31,#22c1af,#3974fe,#465efb,#20a5e3,#7fcc5a,#ddbd29,#55cc7b,#2c90f0,#484cef,#3f6eff,#24c1ae,#debd29,#d0bf27,#01b9c7,#4852f4,#4537d5,#2b92ee,#acc738,#f8da2b,#eeba35,#16afd9,#463adb,#4433cb,#2797eb,#c5c22a,#f5e626,#fec735,#1dc0b3,#475af9,#4433cc,#3e6fff,#2cc4a6,#e3bb2c,#f4ba39,#6ccd68,#16afd9,#2d8bf3,#2699e9,#04bbc2,#42ca8b,#44ca8a,#2fc5a2,#1dc0b3,#25c2ae,#31c6a0,#2dc4a6,#01b8c8,#22a2e4,#259be7)"></i><i style="background:linear-gradient(90deg,#317efb,#2d8df2,#03b7cc,#3cc992,#48cb86,#2ec4a5,#15bfb7,#27c2ac,#3ac994,#31c6a0,#0eb2d4,#2d8cf3,#2e85f8,#10b2d5,#8bcb51,#fbbc3d,#c5c22a,#06b6ce,#4758f8,#4848ec,#1fa6e2,#e2bc2b,#f9fb15,#fccf31,#08bcbf,#484cef,#4742e6,#1da9e0,#eaba31,#f5e327,#dfbc2a,#1da8e0,#484bef,#4561fc,#17bfb6,#f1ba37,#fec03a,#46cb88,#2f82fa,#4851f3,#2d8cf3,#4dcc82,#e3bb2c,#92ca4c,#21a3e3,#484aed,#4850f2,#15afd8,#c3c22b,#f9bb3d,#43ca8b,#3d70ff,#4332ca,#4562fc,#3dca90,#f8d92c,#f9d82c,#39c994,#475af9,#422fc1,#465efb,#3ac993,#fad52d,#f6df29,#72cd63,#2e85f8,#4537d6,#484ef1,#1aacdd,#95ca49,#ebba31,#a2c840,#14bfb8,#249ee6,#259ce7,#03b7cc,#31c6a0,#39c895,#2cc4a7,#1bc0b4,#26c2ad,#36c898,#38c897,#10beba,#1fa6e2,#2994ed)"></i><i style="background:linear-gradient(90deg,#337bfc,#2e85f8,#10b2d5,#38c896,#50cc7f,#32c69f,#10beba,#14bfb8,#2fc5a2,#30c5a1,#01b8c9,#269ae9,#2d8df2,#13b0d7,#73cd62,#f5ba3a,#d4bf28,#0fbebb,#4367fd,#484aee,#259de7,#c5c22a,#f9fa16,#fad42e,#1ec0b2,#4852f4,#4741e5,#22a1e4,#debc2a,#f5e228,#e8bb2f,#1ca9df,#4744e8,#4853f5,#02bac5,#edba34,#fec934,#5bcc76,#2e84f8,#484aee,#2f81fa,#41ca8c,#edba33,#b5c533,#19addc,#484aee,#4744e8,#20a4e3,#bbc42f,#fec537,#83cc57,#2d87f6,#4434cf,#484ff2,#1cc0b3,#fdcd31,#f6e028,#7bcc5d,#3a73fe,#412dbb,#4744e8,#04bbc2,#fdbd3d,#f6e028,#a8c73b,#259be8,#4743e7,#4747eb,#259ce7,#60cd72,#d8be28,#a9c73b,#2ac3a9,#1da8e0,#22a2e4,#04b6cd,#2ac3a9,#30c5a1,#22c1b0,#12beb9,#27c2ac,#3dc991,#43ca8b,#20c1b1,#1da8e0,#2b90ef)"></i><i style="background:linear-gradient(90deg,#3875fe,#3080fb,#15afd8,#39c895,#5bcc77,#36c898,#0ebebb,#05bbc1,#23c1af,#2cc4a6,#02bbc3,#20a5e2,#2698ea,#0cb3d3,#68cd6b,#e9bb30,#cfc028,#1ac0b5,#3d70ff,#4851f3,#249de6,#bbc430,#f7f31d,#fccf31,#1ac0b4,#4852f4,#473fe2,#22a1e4,#dcbd29,#f6de29,#debd29,#22a2e4,#463bde,#484aed,#01b8c9,#f1ba37,#fdcb33,#60cd72,#2f82fa,#484aee,#307ffb,#4acb84,#fcbc3d,#d0bf27,#0eb2d4,#484cef,#4740e4,#22a2e4,#c5c22a,#fdcd31,#b2c635,#2896eb,#4538d7,#4747ec,#03bbc3,#fec636,#f5e128,#a3c83f,#2e84f9,#402bb7,#4639da,#13b0d7,#e5bb2d,#f7db2b,#bac430,#1ea7e1,#484ef1,#484bee,#2797eb,#49cb86,#c4c22b,#9ec942,#2dc4a6,#19addb,#1ea7e1,#01b9c7,#23c1af,#25c2ad,#10beba,#09bcbe,#28c3aa,#45cb88,#4ecc81,#26c2ad,#1da9e0,#2c8ef2)"></i><i style="background:linear-gradient(90deg,#3c72ff,#3479fd,#1aacdd,#37c897,#65cd6e,#3fca8e,#13beb9,#01b9c8,#0ebdbb,#26c2ac,#0cbdbc,#1baadf,#23a1e4,#0db3d3,#50cc7f,#d3bf27,#c6c22a,#27c2ac,#317dfc,#4757f7,#2699e9,#9dc943,#f5e825,#fdcd32,#25c2ad,#4758f8,#463cdf,#269ae8,#c8c129,#f8da2b,#debd2a,#22a2e4,#4535d2,#473ee2,#0fb2d5,#edba33,#fdcd31,#7bcc5d,#2e87f7,#484bef,#3677fe,#47cb87,#fec636,#f2ba38,#08bcbf,#4854f6,#4740e4,#269ae8,#bec32e,#f9d62d,#e3bc2c,#1caadf,#463bdd,#463ee1,#16afd9,#f4ba3a,#f5e128,#d0bf27,#2699e9,#422ebf,#4332c8,#249de6,#b6c532,#fbd12f,#cfc028,#09b4d1,#465ffb,#4850f3,#2b91ef,#35c79a,#abc739,#95ca49,#31c6a0,#0db3d3,#11b1d6,#02bac5,#1bc0b4,#18bfb6,#02bbc3,#02bbc3,#29c3aa,#4ecc81,#5ccc76,#2dc4a5,#1babde,#2d8cf3)"></i><i style="background:linear-gradient(90deg,#3a73fe,#3c71ff,#21a4e3,#32c69e,#6ecd67,#51cc7f,#1fc0b2,#03b7cc,#01b9c7,#18bfb6,#14beb8,#0fb2d4,#1ea7e1,#14b0d8,#34c79b,#abc739,#b9c431,#32c69f,#2d8bf3,#475cfa,#2d8df2,#62cd70,#fad62d,#fdce31,#37c898,#4465fd,#4639da,#2d88f6,#94ca4a,#f9d62d,#efba35,#17aeda,#4639d9,#4435d0,#21a2e4,#dabd28,#fbd22f,#b5c533,#2699ea,#484cef,#4466fd,#31c6a0,#fec835,#fdcc32,#39c895,#4368fe,#4744e8,#2e87f7,#92ca4c,#f6de29,#fec735,#11beba,#484ef1,#463bdc,#2a93ed,#b9c431,#f6df29,#f9bb3d,#07b5d0,#4741e5,#412dbb,#2f82fa,#64cd6f,#fec239,#e4bb2c,#20c1b1,#3579fd,#4759f9,#2d8af5,#22c1b0,#8acb51,#8dcb4f,#39c895,#01bac5,#02b7cb,#09bcbe,#1dc0b3,#11beba,#01b8c8,#01b9c8,#27c2ac,#54cc7d,#6ccd68,#37c898,#14b0d8,#2d8cf3)"></i><i style="background:linear-gradient(90deg,#416cfe,#3a73fe,#1caadf,#3eca8f,#83cc57,#59cc78,#1bc0b4,#0db3d4,#0cb3d3,#05bbc1,#0dbdbc,#07b5cf,#1da9e0,#0db3d4,#30c5a2,#86cb55,#8acb52,#1ec0b2,#2d89f6,#4564fd,#2797eb,#6bcd69,#fdcb33,#fbbc3d,#21c1b0,#465efb,#463cdf,#2a93ee,#a5c83d,#fad42e,#dabd28,#20a5e3,#4435d0,#4537d6,#1aacdd,#ecba33,#f9d62d,#acc739,#2b92ee,#484aee,#426afe,#3cc991,#fad42e,#fbd32e,#3ac993,#4367fd,#4745e9,#2d8bf4,#a1c840,#f5e327,#feca33,#14beb8,#484ff2,#463adb,#2b91ef,#abc739,#f7db2a,#f2ba38,#06b5cf,#4747eb,#4332ca,#2e85f8,#5dcc75,#fbbc3d,#d7be28,#1fc0b2,#2f82fa,#4367fd,#2895ec,#29c3aa,#80cc59,#7bcc5d,#36c899,#0fbebb,#0abdbd,#20c1b1,#26c2ac,#0ebebb,#02b7cb,#01b9c7,#2dc4a5,#62cd71,#74cc62,#35c79a,#18addb,#2d8af5)"></i><i style="background:linear-gradient(90deg,#4464fd,#2e86f8,#06bcc0,#76cc61,#9bc945,#4bcb83,#02bac5,#1caadf,#17aeda,#02bac5,#0dbdbb,#01b8c9,#12b1d7,#01b8c9,#32c69e,#64cd6f,#47cb87,#0cb3d3,#307ffb,#3777fe,#12b1d6,#a3c83e,#fec03a,#afc637,#1da8e0,#484bef,#4851f3,#0bb4d2,#e4bb2c,#fbd22f,#7ecc5b,#3080fa,#4332c9,#4853f5,#29c3aa,#fdcd31,#f8da2b,#50cc7f,#3e6fff,#4747eb,#2e87f7,#93ca4b,#f7dc2a,#fec239,#06bcc0,#4850f2,#4745e9,#1ea7e1,#e6bb2d,#f5e526,#efba35,#19acdc,#473fe3,#473fe3,#1caadf,#d7be28,#f9d62d,#b7c532,#249ee6,#463ddf,#4741e5,#23a1e5,#92ca4c,#f7ba3c,#a7c73c,#03b7cc,#317efb,#337bfd,#1babde,#3dc991,#7fcc5a,#5ecd74,#2dc4a5,#18bfb6,#22c1af,#2ec4a5,#27c2ab,#06bbc1,#04b6cd,#09bdbe,#3cc992,#78cc5f,#6bcd69,#25c2ae,#22a2e4,#2e87f7)"></i><i style="background:linear-gradient(90deg,#416bfe,#23a0e5,#3dc990,#b1c635,#a2c83f,#36c898,#13b1d7,#22a1e4,#19addc,#08bcbf,#21c1b0,#0cbdbc,#01b8c9,#0abdbd,#36c899,#44cb89,#2ac3a9,#1ea8e1,#2e84f8,#2b91ef,#20c1b1,#c1c32d,#e4bb2c,#45cb89,#2d88f6,#4848ec,#3d71ff,#31c6a0,#fcbd3d,#fcbd3d,#2bc3a8,#465dfb,#4433cd,#327cfc,#79cc5e,#f7db2a,#fec338,#0ebdbb,#4853f5,#4743e7,#20a5e2,#debd29,#f6df29,#debc2a,#1fa5e2,#4742e6,#4851f3,#09bcbe,#fec636,#f5e725,#b3c534,#2b92ee,#463adb,#4854f5,#07bcbf,#f1ba36,#fec934,#5fcd73,#2f82f9,#4538d8,#4756f7,#06b5cf,#b4c533,#e8bb2e,#6acd6a,#1aacdd,#2f82f9,#2b91ef,#02bac4,#52cc7e,#6fcd66,#3cc991,#27c2ac,#22c1b0,#2ec4a5,#30c5a1,#1dc0b3,#01b7ca,#06b5cf,#1cc0b4,#53cc7e,#84cc56,#58cc79,#05bbc1,#2699e9,#2d8bf4)"></i><i style="background:linear-gradient(90deg,#3f6eff,#23a0e5,#41ca8c,#c3c22b,#bdc32e,#45cb89,#0eb2d4,#249ee6,#1da9e0,#07bcbf,#2dc4a5,#29c3aa,#0ebdbb,#0dbdbb,#2ec5a4,#41ca8c,#2cc4a6,#12b1d6,#2994ed,#269ae9,#18bfb6,#a1c840,#cfc028,#46cb88,#2b92ee,#4851f4,#3e6fff,#1fc0b2,#e8bb2f,#f9bb3d,#37c897,#3e6fff,#4537d5,#3875fe,#59cc79,#f8da2b,#fdcd31,#30c5a1,#4561fc,#4741e5,#2994ed,#b4c534,#f6e128,#fabb3d,#05b6cd,#484bef,#4745e9,#17aedb,#ecba32,#f5e825,#dfbc2a,#1da8e0,#4743e7,#4849ed,#19acdc,#c2c22c,#fec239,#82cc58,#2797eb,#4745e9,#4851f3,#1da8e0,#7fcc5a,#d5be28,#7bcc5d,#01b7ca,#2995ec,#259be8,#01bac5,#3eca8f,#48cb86,#35c79a,#27c2ac,#28c3aa,#33c69e,#32c69e,#16bfb7,#0db3d3,#16afd9,#07bcc0,#48cb86,#89cb52,#6bcd69,#1ac0b5,#249fe5,#2d8df2)"></i><i style="background:linear-gradient(90deg,#3d71ff,#2d89f5,#13beb9,#a3c83f,#d9bd28,#8dcb4f,#16bfb7,#21a3e3,#249fe5,#07b5d0,#2cc4a7,#37c897,#2cc4a6,#1abfb5,#25c2ad,#39c895,#3cc992,#13beb9,#1da9e0,#259ce7,#09b4d1,#56cc7b,#bdc32e,#84cb56,#0ab4d2,#416bfe,#465efb,#20a5e2,#8fcb4e,#fcbc3d,#a6c83d,#1ea6e1,#484df0,#4755f6,#04b6cd,#efba35,#f5e427,#bbc430,#259ce7,#4742e6,#465dfb,#24c2ae,#fec735,#f6df29,#77cc60,#2f82fa,#473ee1,#3b72ff,#4bcb84,#f9d72c,#f9d72d,#4ecc81,#3777fe,#463de0,#3a74fe,#32c69e,#e7bb2d,#d3bf27,#16bfb7,#3e6fff,#484cef,#2f81fa,#25c2ad,#a6c83d,#a3c83e,#34c79c,#17aeda,#21a3e3,#0ab4d2,#27c2ac,#33c69d,#2cc4a6,#20c1b1,#27c2ac,#36c799,#3bc993,#26c2ac,#0cb3d3,#21a4e3,#19addc,#27c2ab,#77cc60,#99c946,#4bcb84,#08b5d0,#2994ed)"></i><i style="background:linear-gradient(90deg,#3b72ff,#2e87f7,#0cbdbc,#a3c83e,#e1bc2b,#97ca47,#17bfb6,#249ee6,#2698ea,#0eb2d4,#30c5a1,#4fcc81,#3eca8f,#2ac3a9,#24c1ae,#31c6a0,#37c897,#21c1b0,#0bb3d2,#1da9e0,#02b7cb,#47cb87,#a2c83f,#77cc5f,#01b8c9,#327cfc,#416bfe,#1ea7e1,#7ccc5c,#f2ba38,#a9c73a,#14b0d8,#475cfa,#475cfa,#0bb3d2,#dcbd29,#f7dd2a,#c9c129,#1ea8e1,#484cef,#4759f9,#03bbc2,#f6ba3c,#f7dc2a,#97ca48,#2a92ee,#4743e7,#4269fe,#30c5a1,#fec735,#f8d92c,#78cc5f,#2d8df2,#4848ec,#3f6dfe,#19bfb5,#c8c129,#ccc028,#2ac3a9,#2f81fa,#4758f8,#2f81fa,#10beba,#85cb56,#91ca4c,#37c897,#06b5ce,#19addc,#01b9c8,#1ec0b2,#26c2ac,#17bfb6,#0dbdbb,#25c2ae,#3ac994,#43ca8b,#29c3aa,#12b1d6,#249de7,#20a5e2,#19bfb5,#72cd64,#a5c83d,#60cd72,#01b9c6,#2797ea)"></i><i style="background:linear-gradient(90deg,#3f6dfe,#2e86f7,#11beba,#abc739,#e2bc2b,#8dcb4f,#04bbc1,#2895ec,#2b91ef,#10b2d5,#37c897,#6ccd69,#57cc7a,#30c5a1,#1ec0b2,#27c2ab,#30c5a1,#26c2ac,#01b8c9,#14b0d8,#05bbc1,#43ca8a,#88cb53,#61cd71,#01b9c8,#2d8af5,#3080fb,#13b1d7,#7fcc5a,#e4bb2c,#94ca4a,#15afd8,#4367fd,#426afe,#02b7cb,#d4bf28,#fcd030,#b3c534,#1fa6e1,#4851f4,#4660fb,#03bbc3,#eabb30,#fcd030,#8ccb50,#2796eb,#484cf0,#3e6fff,#2ec5a3,#fec03b,#fbd22f,#7bcc5d,#2895ec,#4854f5,#3975fe,#14bfb8,#b4c534,#bac430,#29c3aa,#2d8af4,#4367fd,#2d8df2,#14bfb8,#6fcd66,#75cc61,#32c69e,#01bac5,#04b6cd,#05bbc1,#19bfb5,#11beb9,#02bac5,#02bac3,#26c2ac,#44cb8a,#4fcc81,#2bc3a8,#16afd9,#2798ea,#22a1e4,#17bfb7,#78cc5f,#afc637,#67cd6c,#02bac5,#2796eb)"></i><i style="background:linear-gradient(90deg,#3e6fff,#3b72ff,#15afd9,#78cc5f,#debc2a,#aec637,#24c1af,#2798ea,#2e87f7,#20a5e2,#2dc4a6,#75cc61,#78cc5f,#3eca90,#1ec0b2,#14bfb8,#27c2ac,#2cc4a7,#14bfb8,#02b7cb,#02bac5,#32c69f,#67cd6d,#65cd6e,#22c1b0,#23a0e5,#2d8cf3,#1babde,#4dcc82,#ccc028,#abc739,#0fbebb,#2f81fa,#416cfe,#1da8e0,#8bcb51,#fec03b,#cfc028,#01b9c6,#4366fd,#4758f8,#1fa6e2,#a3c83f,#fec636,#c4c22b,#0bb3d2,#4563fd,#4466fd,#03b7cc,#d1bf27,#fdcd31,#bac430,#10b2d5,#4269fe,#416cfe,#14b0d8,#72cd63,#b1c636,#42ca8b,#1fa5e2,#307ffb,#2c8ff1,#01b9c8,#48cb86,#5ecc74,#32c69f,#0ebdbb,#02bbc3,#0dbdbc,#14bfb8,#02bbc3,#09b4d1,#07b5d0,#1bc0b4,#49cb85,#6acd6a,#3eca8f,#03b7cc,#2699e9,#2797eb,#03b7cc,#5dcc75,#b9c431,#96ca48,#28c2ab,#249fe5)"></i><i style="background:linear-gradient(90deg,#4367fd,#3a74fe,#07b5d0,#90ca4d,#e4bb2c,#9fc942,#08bcbf,#2d8cf3,#307ffb,#1fa6e2,#35c79a,#92ca4c,#8ccb50,#3eca90,#0cbdbc,#01b9c6,#15bfb7,#2bc3a8,#26c2ac,#0fbebb,#10beba,#32c69f,#59cc78,#4bcb83,#1bc0b4,#1da8e0,#259de7,#06b5cf,#56cc7a,#b6c532,#83cc57,#02bac5,#2e86f7,#317efb,#0db3d3,#8fcb4e,#eeba34,#a0c841,#0eb3d4,#416bfe,#4368fe,#12b1d7,#a6c73c,#fabb3d,#9ec942,#15afd9,#406cfe,#3579fd,#0bbdbc,#d0bf27,#fec03b,#97ca48,#16aeda,#3b72fe,#317dfc,#05b6cd,#6dcd67,#96ca48,#36c899,#1da8e0,#2c8ef1,#249fe5,#0abdbe,#37c897,#39c895,#26c2ac,#0bbdbc,#0dbdbc,#1abfb5,#0fbeba,#05b6ce,#19addc,#10b2d5,#23c1af,#5dcc74,#7ecc5b,#41ca8c,#07b5d0,#2896ec,#2798ea,#02bac4,#71cd64,#c5c22a,#96ca48,#20c1b1,#269be8)"></i><i style="background:linear-gradient(90deg,#4562fc,#2c8ff1,#33c69d,#d3bf27,#e2bc2b,#56cc7a,#20a5e3,#3974fe,#2f82fa,#05b6cd,#6ccd68,#b7c532,#82cc57,#2ac3a8,#0ab4d2,#0db3d3,#10beba,#31c6a0,#32c69e,#26c2ac,#20c1b1,#2fc5a3,#3dc991,#34c79c,#07bcc0,#18addb,#16afda,#21c1b1,#6dcd68,#92ca4b,#3fca8e,#19addc,#2d8bf4,#269ae8,#29c3aa,#b1c636,#cbc129,#43ca8a,#249de6,#3e6fff,#2d8df2,#2bc3a7,#c8c129,#d6be28,#3dca90,#2699ea,#3b73fe,#269ae8,#44cb89,#e3bc2c,#debc2a,#3eca8f,#259ce7,#327cfc,#269ae9,#28c3ab,#7ccc5c,#68cd6b,#17bfb7,#20a4e3,#249de7,#0fb2d5,#25c2ae,#32c69e,#29c3aa,#11beb9,#0dbdbc,#1cc0b3,#1cc0b3,#01b9c7,#1aabdd,#1fa6e2,#06b5cf,#36c898,#80cc59,#7bcc5d,#2dc4a6,#1ea7e1,#2c8ff0,#21a3e3,#2fc5a3,#aac73a,#cbc029,#69cd6b,#06b5ce,#2c8ef2)"></i><i style="background:linear-gradient(90deg,#426afe,#1da8e0,#74cc62,#f0ba36,#cec028,#2ac3a9,#2d8bf3,#4368fe,#2d8df2,#23c1af,#a6c73c,#c7c12a,#68cd6c,#04bbc1,#1ea7e1,#18aedb,#18bfb6,#3dc990,#40ca8d,#2ec4a4,#1bc0b4,#1fc0b2,#2bc3a8,#27c2ac,#04bbc2,#0cb3d3,#01b9c7,#2fc5a2,#61cd71,#62cd70,#28c3ab,#1ca9df,#2798ea,#15afd9,#3fca8e,#acc738,#99c946,#25c2ad,#2798ea,#2e84f9,#1da8e0,#49cb86,#bfc32d,#9ac945,#14beb8,#2c90f0,#2e84f9,#14b0d8,#6acd6a,#d4bf28,#a3c83f,#1cc0b4,#2798ea,#2d8cf3,#18addb,#35c799,#68cd6c,#3fca8e,#02bac5,#1ca9e0,#15afd9,#05bbc1,#27c2ac,#26c2ad,#12beb9,#0abdbd,#1cc0b3,#28c3aa,#17bfb6,#10b2d5,#239fe5,#22a1e4,#01b9c6,#4ecc81,#94ca4a,#69cd6b,#0abdbd,#2699ea,#2d8cf3,#19addc,#4acb84,#c6c22a,#c1c32c,#41ca8c,#1da9e0,#2d88f6)"></i><i style="background:linear-gradient(90deg,#4367fd,#21a3e3,#68cd6b,#f1ba37,#d9bd28,#31c6a0,#2d8df2,#4563fc,#2e85f8,#18bfb6,#aac73a,#d6be28,#79cc5f,#04bbc2,#23a0e5,#20a4e3,#08bcbf,#41ca8c,#54cc7c,#35c79a,#14beb8,#04bbc2,#10beba,#1fc0b2,#14bfb8,#02bac4,#02bbc3,#27c2ab,#45cb88,#47cb87,#28c2ab,#11b1d6,#21a3e3,#11b1d6,#34c79c,#88cb53,#87cb54,#2fc5a3,#1da8e0,#2994ed,#1babde,#37c897,#98c947,#84cc56,#20c1b1,#259de7,#2c8ef1,#17aeda,#44cb8a,#a5c83d,#86cb55,#23c1af,#21a3e3,#2797eb,#18addb,#27c2ab,#43ca8b,#31c6a0,#08bcbf,#08b5d0,#03b7cc,#0bbdbc,#1abfb5,#0bbdbd,#01b9c6,#06bcc0,#27c2ac,#33c79d,#26c2ad,#10b2d5,#2798ea,#2796eb,#0bb3d2,#47cb87,#9ec942,#7dcc5b,#17bfb6,#2797eb,#2e83f9,#22a2e4,#37c898,#bbc430,#c7c129,#4fcc80,#18addb,#2d88f6)"></i><i style="background:linear-gradient(90deg,#4660fb,#2c8ef2,#35c79a,#dfbc2a,#efba35,#5bcc76,#249ee6,#4563fc,#3c71ff,#0bb3d2,#89cb52,#e1bc2b,#a7c73c,#22c1af,#23a0e5,#2797ea,#0db3d3,#36c898,#63cd6f,#48cb86,#1ec0b2,#03b7cc,#03b7cc,#0bbdbd,#1dc0b3,#17bfb6,#0bbdbd,#15bfb8,#2cc4a6,#35c79a,#2ac3a9,#01b8c9,#19addc,#13b1d7,#1ec0b2,#57cc7a,#74cc62,#3eca90,#01b7ca,#21a3e3,#1caadf,#1fc0b2,#63cd70,#75cc61,#32c69e,#16afd9,#269ae9,#1ea7e1,#21c1b0,#5fcd73,#66cd6d,#2ec4a4,#12b1d7,#22a1e4,#19addc,#04bbc2,#26c2ad,#24c1ae,#0bbdbd,#02bac5,#08bcbf,#17bfb6,#10beba,#01b7ca,#11b1d6,#04b6cd,#25c2ae,#41ca8c,#3ac994,#02bac4,#269ae8,#2d89f5,#22a2e4,#2cc4a6,#95ca49,#a3c83f,#36c899,#22a2e4,#327bfc,#2d8cf3,#06bcc0,#8ccb50,#cbc129,#7ccc5c,#01b9c6,#2c90f0)"></i><i style="background:linear-gradient(90deg,#4660fb,#2d88f6,#2ec4a5,#d7be28,#f1ba37,#65cd6e,#23a0e5,#4661fc,#416bfe,#13b0d7,#89cb52,#eabb30,#b6c532,#25c2ad,#269ae8,#2d8df2,#19addc,#35c79a,#76cc60,#5dcc74,#24c1af,#0eb2d4,#17aeda,#01b8ca,#1cc0b3,#27c2ab,#1dc0b3,#0fbebb,#13beb9,#1ec0b2,#1ac0b5,#02bac4,#0cb3d3,#0ab4d2,#12beb9,#3bc993,#51cc7f,#39c895,#09bdbe,#15afd9,#13b1d7,#16bfb7,#43ca8a,#56cc7b,#31c6a0,#06b6ce,#20a5e2,#1baade,#08bcbf,#36c799,#39c895,#22c1b0,#06b5cf,#19addc,#13b1d7,#01b8c8,#09bcbe,#06bcc0,#02bac4,#07bcc0,#1dc0b3,#26c2ac,#0fbeba,#10b2d5,#1ea7e1,#16afd9,#1fc1b1,#51cc7f,#55cc7c,#18bfb6,#259ce7,#2f81fa,#2895ec,#18bfb6,#8dcb50,#b2c635,#46cb88,#1ea7e1,#3677fe,#307ffb,#0bb3d2,#6dcd68,#c4c22b,#87cb54,#0bbdbd,#2994ed)"></i><i style="background:linear-gradient(90deg,#4367fd,#259de7,#53cc7d,#ebba31,#debc2a,#34c79c,#2d89f5,#4758f8,#337afd,#15bfb7,#c4c22b,#f3ba39,#91ca4c,#03b7cc,#2d88f6,#2d89f5,#0ab4d1,#55cc7c,#98ca47,#60cd72,#0dbdbc,#1ea7e1,#20a4e3,#06b5cf,#26c2ad,#32c69e,#28c3aa,#0abdbd,#01b9c6,#02bac4,#07bcc0,#04bbc1,#01b9c6,#02bac5,#16bfb7,#2fc5a3,#36c799,#2dc4a6,#0abdbe,#04b6cd,#01b8c8,#21c1b0,#37c897,#39c895,#24c1ae,#03b7cc,#16aeda,#0eb2d4,#07bcc0,#23c1af,#21c1b0,#07bcbf,#04b6cd,#08b5d0,#02b7cb,#01b9c7,#01b8c9,#05b6ce,#01b8ca,#13beb9,#2ec4a4,#2ec4a4,#06bbc1,#1da8e0,#259ce7,#19addc,#2bc3a8,#6acd6a,#62cd71,#10beba,#2995ec,#337bfc,#2798ea,#29c3aa,#a3c83f,#b2c535,#37c898,#259ce7,#3e70ff,#2e83f9,#01b9c8,#80cc59,#bfc32e,#69cd6a,#03b7cc,#2c8ff0)"></i><i style="background:linear-gradient(90deg,#3677fe,#13b1d7,#8acb52,#f3ba38,#bec32e,#08bcbf,#3974fe,#4758f8,#2c8ff0,#3fca8e,#eaba31,#f0ba36,#5acc77,#21a4e3,#3777fe,#2d8bf3,#0bbdbd,#87cb54,#b1c635,#56cc7b,#05b6cd,#2699e9,#259ce7,#04b6cd,#31c69f,#41ca8c,#2fc5a2,#05bbc1,#0ab4d2,#06b5cf,#04bbc2,#16bfb7,#18bfb6,#12beb9,#11beb9,#1bc0b4,#22c1b0,#1ec0b2,#10beba,#07bcbf,#0cbdbc,#21c1b1,#2cc4a7,#29c3aa,#15bfb7,#01b9c6,#04b6cd,#01b8ca,#02bbc3,#07bcc0,#03bbc3,#01b9c6,#02bac4,#09bcbe,#0cbdbc,#02bac4,#09b4d1,#12b1d6,#01b8ca,#26c2ad,#3bc993,#33c79d,#01b9c7,#249ee6,#2a93ee,#1aabdd,#32c69e,#83cc57,#6ccd68,#08bcbf,#2c8ef2,#3777fe,#259ce7,#34c79b,#b6c532,#b1c635,#2ec5a4,#2994ed,#406dfe,#2d89f5,#0ebdbb,#90ca4d,#b6c532,#51cc7f,#12b1d6,#2c8ff1)"></i><i style="background:linear-gradient(90deg,#3578fd,#1da8e0,#64cd6f,#ecba32,#d4bf28,#2bc3a8,#2f82f9,#4757f7,#2e83f9,#2ec5a4,#e1bc2b,#fabb3d,#7bcc5d,#1baade,#3a73fe,#307ffb,#03b7cb,#80cc59,#c7c12a,#78cc5f,#02bac5,#2995ec,#2c90f0,#16aeda,#30c5a1,#59cc78,#43ca8a,#17bfb6,#0eb2d4,#14b0d8,#01b9c7,#23c1af,#2ec5a4,#27c2ab,#10beba,#02bac4,#02bac4,#0abdbd,#17bfb7,#1cc0b3,#1cc0b4,#19bfb5,#14bfb8,#10beba,#0bbdbc,#0abdbd,#0abdbd,#08bcbf,#02bac4,#03b7cb,#07b5d0,#01b7ca,#0fbeba,#2ac3a9,#2dc4a5,#17bfb7,#08b4d1,#1aacdd,#0eb2d4,#21c1b0,#49cb85,#4bcb84,#16bfb7,#239fe5,#2e86f7,#2699e9,#19bfb6,#81cc59,#99c946,#32c69e,#259ce7,#3b73fe,#2d89f5,#0ebdbb,#9dc943,#cac129,#55cc7c,#1ea7e1,#3a74fe,#327cfc,#0eb2d4,#64cd6f,#b3c534,#6fcd66,#04bbc2,#269ae8)"></i><i style="background:linear-gradient(90deg,#317efb,#20a5e2,#51cc7f,#e3bc2c,#d8be28,#32c69e,#2d88f6,#4757f7,#317dfc,#25c2ad,#dcbd29,#fdbd3d,#87cb54,#1aabdd,#3f6fff,#3678fe,#07b5d0,#89cb52,#dbbd28,#92ca4b,#05bbc1,#2c8ff0,#2e85f8,#1da9e0,#32c69e,#77cc60,#65cd6e,#28c3ab,#10b2d5,#1babde,#04b6cd,#28c3aa,#3bc993,#34c79b,#14beb8,#08b5d0,#13b0d7,#05b6cd,#10beba,#29c3aa,#2ac3a9,#1bc0b4,#03bbc2,#01b8c9,#01bac5,#13beb9,#25c2ad,#25c2ae,#0abdbd,#08b4d0,#16afd9,#09b4d1,#19bfb5,#3ac994,#45cb89,#2ec4a5,#04b6cd,#1ea7e1,#1aacdd,#16bfb7,#52cc7e,#67cd6d,#2cc4a6,#21a3e3,#307ffb,#2d89f5,#01b8c9,#73cd62,#b0c636,#4ecc81,#1da8e0,#3a74fe,#327cfc,#08b4d0,#80cc59,#cfc028,#79cc5e,#0ab4d2,#317efb,#3579fd,#1caadf,#48cb86,#a6c73c,#7bcc5d,#1ac0b4,#21a3e3)"></i><i style="background:linear-gradient(90deg,#2e87f7,#1aacdd,#5acc77,#dcbd29,#c3c22b,#24c2ae,#2f81fa,#4758f8,#2e86f7,#33c69d,#e8bb2f,#fabb3d,#67cd6d,#249fe5,#4466fd,#327cfc,#08bcbe,#b5c533,#edba33,#8fcb4e,#05b6ce,#2e83f9,#307ffb,#19acdd,#45cb88,#9ec942,#7bcc5d,#26c2ad,#1aabdd,#21a3e3,#08b5d0,#30c5a2,#51cc7f,#3eca8f,#0ebdbb,#1aacdd,#21a3e3,#16aeda,#0dbdbb,#31c6a0,#33c69d,#1dc0b3,#03b7cb,#10b2d5,#02b7cb,#1fc0b2,#35c79a,#34c79c,#16bfb7,#11b1d6,#1ea8e1,#13b1d7,#21c1b0,#50cc80,#62cd71,#34c79b,#07b5cf,#23a0e5,#1ea7e1,#17bfb6,#62cd71,#7ccc5c,#31c6a0,#22a1e4,#3777fe,#2e83f9,#03b7cc,#77cc60,#b8c431,#52cc7e,#1ea8e1,#3c71ff,#3579fd,#0cb3d3,#7ccc5c,#cec028,#7acc5d,#07b5cf,#2e83f9,#307ffb,#19addc,#48cb86,#9ec942,#71cd65,#17bfb6,#1fa5e2)"></i><i style="background:linear-gradient(90deg,#2c8ef2,#19acdc,#4ccb83,#ccc028,#b8c431,#24c2ae,#2e84f9,#475bf9,#2e87f7,#32c69e,#e8bb2e,#f9bb3d,#63cd6f,#259ce7,#4562fc,#327bfc,#12beb9,#c9c129,#fabb3d,#9ac945,#08b4d0,#327bfc,#3578fd,#19addc,#58cc79,#bcc42f,#92ca4b,#25c2ad,#21a3e3,#2797eb,#16aeda,#30c5a2,#62cd71,#4dcc82,#0dbdbb,#21a3e3,#2895ec,#20a5e2,#09bcbe,#3ac994,#42ca8c,#27c2ac,#07b5d0,#1babde,#0db3d3,#22c1b0,#44cb89,#48cb87,#24c2ae,#15afd9,#249fe6,#1da9e0,#19bfb6,#5bcc76,#7bcc5d,#3eca8f,#06b5cf,#269ae8,#249fe6,#09bdbe,#67cd6c,#95ca49,#3eca8f,#1ea6e1,#3975fe,#347afd,#12b1d6,#6bcd69,#bec32e,#64cd6e,#18addb,#3a73fe,#3b72fe,#19acdc,#64cd6f,#c8c129,#88cb53,#02bac3,#2d8cf3,#2e83f9,#1babde,#3dca90,#93ca4b,#72cd64,#23c1af,#1aabdd)"></i><i style="background:linear-gradient(90deg,#2797eb,#18aedb,#3fca8e,#b7c532,#aac73a,#25c2ad,#2d89f6,#465ffb,#2d88f6,#31c69f,#e5bb2d,#f9bb3d,#62cd70,#259be8,#465ffb,#337afd,#19bfb5,#d7be28,#fec239,#a3c83e,#0cb3d3,#3975fe,#3a74fe,#17aeda,#6ecd67,#d4bf28,#a2c840,#1dc0b3,#2797ea,#2e87f7,#1fa5e2,#2ec4a4,#72cd63,#5fcd73,#10beba,#259ce7,#2d89f5,#259ce7,#09bcbe,#4bcb83,#5ecc74,#30c5a2,#0cb3d3,#21a3e3,#19acdc,#1ec0b2,#54cc7d,#5fcd73,#2dc4a6,#19addc,#2895ec,#249ee6,#09bcbe,#5fcd73,#90ca4d,#4ccb82,#05b6ce,#2995ec,#2797eb,#02bac5,#6bcd69,#acc739,#56cc7b,#19addc,#3776fe,#3975fe,#19addc,#63cd70,#c4c22b,#77cc60,#0db3d3,#3678fd,#3e70ff,#1fa6e2,#4fcc80,#bdc32e,#8fcb4e,#12beb9,#2895ec,#2d89f5,#1babde,#37c897,#88cb53,#73cd63,#2cc4a7,#0fb2d5)"></i></div>
<svg class="sv" width="1080" height="456" viewBox="0 0 1080 456" font-family="Liberation Sans, sans-serif"><text transform="translate(530.90,28.94) scale(0.9126,1)" font-size="20.75" fill="#1a1a1a" stroke="#1a1a1a" stroke-width=".3" >(b)</text><text transform="translate(676.70,26.95) scale(0.9805,1)" font-size="18.82" fill="#2d73b4" stroke="#2d73b4" stroke-width=".3" >Theory</text><text transform="translate(910.60,26.41) scale(0.9306,1)" font-size="19.00" fill="#2d73b4" stroke="#2d73b4" stroke-width=".3" >Exp</text><text transform="translate(599.50,49.53) scale(0.9080,1)" font-size="16.62" fill="#1a1a1a" stroke="#1a1a1a" stroke-width=".3" >30</text><text transform="translate(607.80,130.75) scale(0.9507,1)" font-size="15.35" fill="#1a1a1a" stroke="#1a1a1a" stroke-width=".3" >0</text><text transform="translate(591.90,214.64) scale(0.9319,1)" font-size="16.34" fill="#1a1a1a" stroke="#1a1a1a" stroke-width=".3" >-30</text><text transform="translate(597.40,249.04) scale(0.8823,1)" font-size="16.34" fill="#1a1a1a" stroke="#1a1a1a" stroke-width=".3" >30</text><text transform="translate(605.60,330.25) scale(0.9293,1)" font-size="14.93" fill="#1a1a1a" stroke="#1a1a1a" stroke-width=".3" >0</text><text transform="translate(589.30,413.84) scale(0.9446,1)" font-size="16.34" fill="#1a1a1a" stroke="#1a1a1a" stroke-width=".3" >-30</text><text transform="translate(532.10,136.30) scale(0.9477,1)" font-size="17.38" fill="#3585c9" stroke="#3585c9" stroke-width=".3" >l=1</text><text transform="translate(532.00,335.70) scale(1.0410,1)" font-size="17.52" fill="#3585c9" stroke="#3585c9" stroke-width=".3" >l=2</text><text transform="translate(585.02,150.00) rotate(-90) scale(0.9918,1)" font-size="18.93" fill="#1a1a1a" stroke="#1a1a1a" stroke-width=".3">x (cm)</text><text transform="translate(583.05,348.30) rotate(-90) scale(0.9840,1)" font-size="18.82" fill="#1a1a1a" stroke="#1a1a1a" stroke-width=".3">x (cm)</text><text transform="translate(626.80,424.84) scale(0.9604,1)" font-size="16.06" fill="#1a1a1a" stroke="#1a1a1a" stroke-width=".3" >-0.8</text><text transform="translate(702.70,424.65) scale(1.0258,1)" font-size="14.93" fill="#1a1a1a" stroke="#1a1a1a" stroke-width=".3" >0</text><text transform="translate(764.50,424.65) scale(1.0119,1)" font-size="14.93" fill="#1a1a1a" stroke="#1a1a1a" stroke-width=".3" >0.8</text><text transform="translate(689.30,444.14) scale(1.0674,1)" font-size="14.12" fill="#1a1a1a" stroke="#1a1a1a" stroke-width=".3" >t (ms)</text><text transform="translate(847.00,424.84) scale(0.9604,1)" font-size="16.06" fill="#1a1a1a" stroke="#1a1a1a" stroke-width=".3" >-0.8</text><text transform="translate(922.90,424.65) scale(1.0258,1)" font-size="14.93" fill="#1a1a1a" stroke="#1a1a1a" stroke-width=".3" >0</text><text transform="translate(984.70,424.65) scale(1.0119,1)" font-size="14.93" fill="#1a1a1a" stroke="#1a1a1a" stroke-width=".3" >0.8</text><text transform="translate(909.50,444.14) scale(1.0674,1)" font-size="14.12" fill="#1a1a1a" stroke="#1a1a1a" stroke-width=".3" >t (ms)</text><text transform="translate(1043.21,131.30) scale(0.7857,1)" font-size="16.00" fill="#1a1a1a" stroke="#1a1a1a" stroke-width=".3" >1</text><text transform="translate(1033.70,343.90) scale(0.8764,1)" font-size="18.33" fill="#1a1a1a" stroke="#1a1a1a" stroke-width=".3" >-1</text><text transform="translate(1065.90,234.91) scale(0.8944,1)" font-size="18.53" fill="#1a1a1a" stroke="#1a1a1a" stroke-width=".3" >p</text></svg>
<div style="position:absolute;left:1037.9px;top:142.8px;width:15.6px;height:176.4px;background:linear-gradient(180deg,#f9fb15,#f6ef20,#f5e327,#f9d62d,#feca33,#febe3c,#f1ba37,#debc2a,#c8c129,#afc637,#94ca4a,#77cc60,#5ccc76,#44ca8a,#34c79c,#28c2ab,#12beb9,#01b9c6,#0cb3d3,#1aacdd,#21a3e3,#269ae9,#2c90f0,#2e85f8,#347afd,#3f6efe,#4562fc,#4757f7,#484cef,#4741e5,#4536d5,#422ebf,#3e26a8)"></div>
<svg class="sv" width="540" height="456" viewBox="0 0 540 456"><defs>
<filter id="bl4" x="-10%" y="-30%" width="120%" height="160%"><feGaussianBlur stdDeviation="3.2"/></filter>
<filter id="bl1"><feGaussianBlur stdDeviation="0.55"/></filter>
<linearGradient id="gff" x1="0" y1="0" x2="1" y2="0"><stop offset="0" stop-color="#3d3f45"/><stop offset="1" stop-color="#2e3035"/></linearGradient>
<radialGradient id="spk" cx=".4" cy=".35" r=".7"><stop offset="0" stop-color="#18565a"/><stop offset=".5" stop-color="#0c2a2e"/><stop offset="1" stop-color="#06161a"/></radialGradient>
</defs><g filter="url(#bl1)"><polygon points="120.0,345.0 350.0,404.0 398.0,416.0 503.0,292.0 503.0,282.0 398.0,404.0 120.0,340.0" fill="#000" opacity=".3" filter="url(#bl4)" transform="translate(2,4)"/><polygon points="25.0,318.3 349.8,391.7 348.3,405.5 25.0,326.8" fill="url(#gff)" /><polygon points="349.9,389.4 400.0,403.0 400.0,413.8 349.9,398.6" fill="#303237" stroke="#303237" stroke-width=".7" stroke-linejoin="round" /><polygon points="347.8,391.2 350.3,389.2 350.3,400.7 347.8,405.5" fill="#3a3c42" stroke="#3a3c42" stroke-width=".7" stroke-linejoin="round" /><polygon points="400.0,403.0 501.8,280.5 501.0,290.5 400.0,413.8" fill="#26282d" stroke="#26282d" stroke-width=".7" stroke-linejoin="round" /><polygon points="36.0,317.9 361.3,389.6 462.0,283.6 190.0,236.5" fill="#5b5d63" stroke="#5b5d63" stroke-width=".7" stroke-linejoin="round" /></g></svg>
<div class="fm" style="transform:matrix3d(0.506618,0.041983,0,-0.00022475,-0.695381,0.084006,0,-0.00084171,0,0,1,0,173.5204,233.6459,0,1)"><div class="fmi" style="top:12.50px;width:477.5px;height:216.2px;--rh:4.9148px"><i style="background:linear-gradient(90deg,#3fcbce,#49cdc8,#5ed2b9,#71d7a3,#7ed899,#6ed6a6,#57d0c1,#3ecbcf,#3ec7d8,#3ec7d8,#3fcbcf,#5bd1bc,#7ed899,#98d884,#86d891,#60d3b6,#41cbce,#3fc7d8,#41c6db,#3bc9d3,#50cec4,#71d7a3,#8dd88c,#85d892,#65d5af,#4acec8,#3bcad2,#3bc8d5,#3ccad2,#4ccec8,#60d2b7,#6ad6a9,#6ad6aa,#60d3b6,#51cec4,#49cdc9,#46cdca,#4acdc8,#4fcec5,#53cfc3,#52cec4,#4fcec5,#4ecec6,#50cec5,#59d0be,#60d3b5,#63d4b1,#60d2b7,#51cec4,#42cccd,#3ccad2,#3ccad2,#45cccb,#5dd2ba,#77d89e,#88d890,#77d89d,#5cd1bc,#3fcbcf,#3fc7d9,#40c6db,#3bcad2,#56cfc1,#7ed898,#a3d77b,#97d884,#67d5ad,#43cccc,#40c6db,#47c4df,#3ec7d8,#49cdc9,#71d7a3,#a2d77c,#a6d779,#79d89c,#4fcec6,#3bc8d6,#45c4de,#41c6db,#40cbce,#62d3b4,#8cd88c,#9ed87e,#82d895,#5dd2bb,#3ecbcf,#3fc7d9,#3fc7d9,#3ccad1,#55cfc2,#71d7a3,#88d890,#7ed899,#62d4b4,#49cdc9,#3bcad2,#3bc8d5,#3ccbd1,#4ccec8,#61d3b4,#71d7a3,#71d7a3,#63d4b1,#51cec4,#42cccc,#3dcbd0,#3fcbce,#49cdc9,#59d0bf,#63d4b2,#67d5ad,#63d4b3,#58d0bf,#4bcec8,#43cccc,#42cccd,#48cdca,#51cec4,#5dd2ba,#62d4b4,#61d3b4,#5bd1bd,#4fcec5,#47cdca,#43cccb,#46cdcb,#4ecec6,#59d1be,#60d3b6,#63d4b3,#5fd2b8,#53cfc3,#49cdc9,#42cccc,#42cccc,#49cdc9,#56cfc1,#61d3b4,#67d5ad,#64d5b0,#5bd1bd,#4bcec8,#40cbce,#3dcbd0,#42cbcd,#4fcec5,#62d3b4,#70d7a4,#72d7a2,#63d4b1,#4fcec5,#3ecbd0,#3bc8d5,#3bc9d3,#45cccb,#5fd2b7,#7ad89c,#88d88f,#76d89f,#5ad1be,#3fcbcf,#3fc7d8,#3fc6da,#3ccad2,#57d0c1,#7bd89a,#9cd880,#92d888,#66d5ae,#43cccb,#3fc6da,#46c4de,#3ec7d8,#49cdc8,#71d7a3,#a1d77c,#a6d779,#7ad89c,#4fcec6,#3cc8d7,#47c4df,#42c5dc,#3fcbce,#63d4b3,#91d888,#a4d77a,#86d892,#5dd2bb,#3dcbd1)"></i><i style="background:linear-gradient(90deg,#3ccad2,#48cdc9,#60d3b6,#7bd89b,#87d890,#72d7a2,#56cfc1,#3ccbd1,#3fc6d9,#3fc7d9,#3ecbcf,#5dd2bb,#81d896,#99d882,#85d892,#60d2b7,#40cbce,#3ec7d8,#3fc6da,#3ccad2,#51cec4,#6dd6a6,#85d892,#7cd899,#62d4b3,#4bcec8,#3dcbd0,#3ccad2,#40cbce,#4ecec7,#5dd2ba,#63d4b3,#61d3b5,#5bd1bd,#51cec4,#4fcec6,#50cec5,#53cfc3,#54cfc2,#4fcec5,#49cdc8,#45cccb,#45cdcb,#4fcec6,#5fd2b8,#6ad6a9,#71d7a3,#64d5b0,#4fcec5,#3dcbd0,#3cc8d7,#3bc8d5,#43cccc,#60d3b6,#85d893,#98d883,#81d896,#5cd1bc,#3ccad2,#42c5dc,#44c4dd,#3bc9d3,#58d0bf,#85d892,#a9d676,#9ad881,#67d5ad,#42cccd,#41c6db,#47c4df,#3ec7d8,#4bcec8,#71d7a3,#9dd87f,#9ed87e,#74d7a1,#4ecec6,#3bc8d5,#42c5dc,#3ec7d8,#42cccd,#60d3b6,#80d896,#8cd88d,#74d7a0,#5ad1be,#41cbce,#3bc9d5,#3bc9d5,#41cbce,#55cfc2,#66d5ae,#71d7a3,#6ad6aa,#5dd2ba,#4ccec8,#42cbcd,#40cbce,#45cccb,#4fcec6,#5bd1bc,#60d3b6,#60d2b7,#5bd1bd,#51cec4,#4ccec7,#4bcec8,#4ccec7,#4fcec5,#53cfc3,#56cfc1,#56cfc1,#54cfc2,#52cec4,#51cec4,#52cec4,#53cec4,#53cfc3,#52cec4,#50cec4,#4fcec5,#4fcec5,#50cec4,#53cec4,#56cfc1,#56d0c1,#56cfc1,#53cfc3,#50cec4,#4fcec5,#4fcec5,#50cec4,#51cec4,#53cec3,#53cec3,#52cec4,#51cec4,#52cec4,#54cfc3,#56cfc1,#56cfc1,#54cfc2,#50cec5,#4ccec7,#4bcec8,#4ccec8,#50cec4,#59d1be,#60d2b7,#60d3b6,#5dd2bb,#50cec4,#46cdcb,#40cbce,#41cbce,#4acdc8,#5bd1bd,#68d5ac,#71d7a3,#68d5ab,#59d0bf,#43cccc,#3bc9d4,#3bc8d5,#3fcbcf,#55cfc2,#70d7a4,#8ad88e,#84d893,#64d4b0,#46cdcb,#3cc8d7,#42c5dc,#3cc8d7,#49cdc9,#6cd6a7,#99d882,#a1d77d,#79d89c,#4fcec5,#3bc8d6,#46c4df,#42c5dc,#3fcbcf,#62d3b4,#93d887,#aad675,#8cd88c,#5ed2b9,#3ccad1)"></i><i style="background:linear-gradient(90deg,#3bc9d3,#47cdca,#62d4b4,#82d895,#8fd88b,#75d7a0,#55cfc1,#3ccad2,#40c6db,#3fc6da,#3fcbcf,#5dd2ba,#81d895,#97d884,#82d895,#5ed2b9,#41cbce,#3dc8d7,#3ec7d8,#3dcbd1,#52cec4,#6ad5aa,#7bd89b,#71d7a3,#60d2b7,#4ccec8,#41cbce,#40cbce,#45cccb,#4fcec5,#59d0be,#5bd1bd,#58d0c0,#53cec3,#52cec4,#57d0c1,#5dd2bb,#5ed2b9,#59d1be,#4dcec7,#42cbcd,#3dcbd0,#40cbce,#4ecec6,#63d4b2,#7bd89b,#80d896,#69d5aa,#4fcec6,#3bc9d3,#40c6da,#3ec7d8,#42cbcd,#63d4b3,#8fd88a,#a3d77b,#86d892,#5bd1bd,#3bcad2,#45c4dd,#45c4de,#3bc9d3,#59d1be,#87d891,#a9d677,#97d884,#65d5af,#42cbcd,#3fc6da,#45c4dd,#3bc8d6,#4ccec8,#6dd6a6,#92d888,#8fd88a,#6bd6a8,#4ecec6,#3bcad2,#3dc8d8,#3bc9d4,#46cdcb,#5ed2b9,#70d7a4,#75d7a0,#67d5ad,#57d0c1,#46cdcb,#3fcbce,#41cbce,#49cdc9,#53cfc3,#5dd2ba,#60d2b7,#5dd2ba,#56d0c1,#50cec5,#4ecec6,#4fcec6,#50cec4,#52cec4,#51cec4,#4fcec5,#4ecec6,#4fcec6,#52cec4,#59d1be,#5ed2ba,#5ed2b9,#59d0be,#4fcec6,#47cdca,#43cccc,#45cdcb,#4fcec6,#5cd1bc,#63d4b1,#65d5af,#60d2b7,#53cec4,#46cdcb,#3fcbce,#40cbce,#49cdc9,#57d0c0,#63d4b2,#69d5ab,#64d5b0,#5ad1be,#4acec8,#41cbce,#3fcbce,#44cccb,#50cec5,#5fd2b8,#65d5b0,#64d5b0,#5dd2ba,#4fcec5,#47cdca,#43cccc,#46cdcb,#4ecec6,#58d0c0,#5dd2ba,#5ed2b9,#5ad1bd,#53cfc3,#4fcec6,#4ecec7,#4fcec6,#50cec4,#52cec4,#51cec4,#4fcec5,#4ecec6,#4fcec5,#56cfc1,#5dd2bb,#60d2b7,#5ed2b9,#56cfc1,#4acdc8,#41cbcd,#3fcbce,#44cccb,#53cfc3,#64d5b0,#74d7a0,#72d7a2,#61d3b5,#49cdc8,#3bc9d3,#3dc8d8,#3bc9d4,#4acdc8,#67d5ad,#8cd88d,#94d886,#74d7a0,#51cec4,#3bc9d5,#44c4dd,#41c5dc,#3fcbcf,#60d3b6,#90d889,#aad676,#8fd88a,#5fd2b7,#3ccad1)"></i><i style="background:linear-gradient(90deg,#3bc8d5,#47cdca,#64d4b0,#88d88f,#93d886,#76d89f,#53cfc3,#3bcad2,#41c6db,#3fc7d9,#3fcbce,#5ed2b9,#81d896,#92d887,#7dd899,#5dd2ba,#41cbcd,#3bc8d5,#3bc8d5,#3fcbce,#53cfc3,#66d5ae,#6fd6a5,#67d5ac,#5dd2bb,#4dcec7,#46cdca,#47cdca,#4ccec7,#51cec4,#53cec4,#50cec5,#4dcec7,#4dcec7,#53cfc3,#5ed2b9,#65d5af,#65d5af,#5dd2ba,#4acdc8,#3ccad1,#3bc8d5,#3ccad1,#4dcec7,#68d5ab,#89d88f,#8ed88b,#6dd6a6,#4dcec7,#3bc8d5,#44c4dd,#3fc6da,#42cbcd,#65d5b0,#97d884,#aad676,#87d890,#59d1be,#3bc9d3,#45c4de,#45c4dd,#3bcad2,#5bd1bd,#85d892,#a3d77b,#8fd88a,#63d4b2,#42cccd,#3ec7d8,#40c6da,#3bc9d3,#4ecec6,#69d5ab,#81d896,#7dd899,#64d5b0,#4fcec6,#3fcbce,#3ccad2,#3fcbce,#4bcec8,#5bd1bd,#62d4b3,#63d4b3,#5dd2ba,#53cfc3,#4ecec7,#4ccec8,#4ecec6,#50cec4,#52cec4,#50cec5,#4ecec6,#4ccec7,#4fcec5,#56cfc1,#5ed2b9,#61d3b4,#60d2b7,#56cfc1,#49cdc9,#40cbce,#3fcbcf,#45cccb,#53cfc3,#64d5b0,#71d7a3,#6ed6a5,#60d2b7,#4bcec8,#3ccad1,#3bc8d5,#3ccad2,#4bcec8,#63d4b3,#7ad89c,#81d896,#6bd6a8,#53cec4,#3ecbd0,#3cc8d7,#3bc8d5,#41cbce,#5bd1bd,#74d7a0,#87d891,#79d89c,#5fd2b8,#44cccb,#3bc8d5,#3cc8d7,#3ccad2,#4fcec6,#67d5ad,#7ed898,#7dd899,#65d5af,#4ecec6,#3dcbd0,#3bc8d5,#3ccad2,#48cdca,#5dd2ba,#6cd6a7,#72d7a2,#67d5ad,#57d0c0,#46cdca,#3fcbce,#3fcbce,#47cdca,#53cfc3,#5fd2b8,#61d3b4,#5fd2b8,#58d0c0,#4fcec5,#4dcec7,#4dcec7,#4fcec5,#52cec4,#51cec4,#4fcec6,#4ccec7,#4dcec7,#52cec4,#5dd2bb,#62d4b4,#63d4b2,#5dd2bb,#4dcec7,#40cbce,#3ccad2,#3ecbcf,#4ccec8,#62d3b4,#7ad89c,#82d895,#6dd6a6,#52cec4,#3ccad2,#3fc6da,#3fc7d9,#3fcbce,#5fd2b8,#88d88f,#a3d77b,#8cd88c,#60d2b7,#3dcbd0)"></i><i style="background:linear-gradient(90deg,#3bc8d5,#47cdca,#66d5ae,#8cd88c,#96d885,#76d89f,#52cec4,#3bc9d3,#40c6db,#3fc7d8,#40cbce,#5ed2b8,#7ed899,#8cd88d,#76d89f,#5bd1bd,#42cccc,#3bc9d3,#3bc9d3,#42cccc,#53cfc3,#62d3b4,#65d5af,#61d3b5,#58d0bf,#4fcec5,#4ecec7,#4fcec5,#53cfc3,#53cec4,#4ecec6,#48cdca,#44cccb,#49cdc9,#55cfc2,#64d4b0,#71d7a3,#6fd7a5,#5fd2b8,#46cdca,#3bc9d5,#3ec7d8,#3bc9d3,#4ecec7,#6ed6a5,#96d885,#99d883,#71d7a3,#4ccec8,#3dc8d8,#47c4df,#40c6db,#42cccd,#67d5ad,#9ad881,#aad676,#85d892,#58d0bf,#3bc9d3,#44c4dd,#42c5dc,#3ccad1,#5bd1bc,#7fd897,#96d885,#82d895,#60d3b6,#44cccb,#3bc8d5,#3bc8d6,#3ecbd0,#4fcec5,#63d4b2,#6dd6a6,#6ad5aa,#5fd2b8,#4fcec5,#47cdca,#45cccb,#49cdc8,#4fcec5,#55cfc2,#56cfc1,#52cec4,#50cec5,#51cec4,#58d0c0,#5dd2ba,#60d2b7,#5cd1bc,#50cec5,#45cccb,#3fcbcf,#40cbce,#49cdc8,#5dd2ba,#6cd6a7,#77d89d,#6bd6a8,#59d0bf,#41cbcd,#3bc8d5,#3cc8d7,#3ecbd0,#56cfc1,#73d7a1,#8fd88a,#88d88f,#65d5af,#46cdcb,#3cc8d7,#42c5dc,#3cc8d7,#48cdc9,#6ad5aa,#96d885,#9fd87e,#7bd89b,#53cec4,#3bc9d5,#45c4dd,#42c5dc,#3ccbd1,#5ed2ba,#8ad88f,#a6d778,#91d888,#62d4b3,#40cbce,#41c6db,#45c4de,#3bc8d6,#4dcec7,#73d7a1,#9cd880,#9ad881,#71d7a3,#4dcec7,#3bc8d5,#42c5dc,#3ec7d8,#42cccd,#61d3b4,#84d893,#91d888,#79d89c,#5bd1bd,#40cbce,#3bc8d6,#3bc8d6,#3fcbcf,#54cfc2,#69d5ab,#77d89e,#6fd7a4,#5fd2b7,#4ccec8,#41cbce,#3fcbcf,#43cccc,#4fcec6,#5bd1bd,#5fd2b7,#5ed2b9,#59d0bf,#52cec4,#50cec5,#51cec4,#55cfc2,#55cfc1,#50cec4,#4acec8,#45cccb,#46cdcb,#4ecec6,#5dd2ba,#68d5ac,#6ed6a6,#65d5af,#53cfc3,#3fcbce,#3bc8d5,#3bc8d5,#41cbce,#5dd2bb,#7dd899,#95d885,#85d892,#60d2b7,#3fcbce)"></i><i style="background:linear-gradient(90deg,#3bc8d6,#48cdca,#67d5ad,#8fd88a,#96d885,#74d7a0,#51cec4,#3bc9d3,#3fc6da,#3dc8d8,#42cbcd,#5fd2b8,#78d89c,#83d894,#6fd6a5,#59d0be,#44cccb,#3ccbd1,#3ecbd0,#46cdca,#54cfc3,#5dd2ba,#5fd2b8,#5ad1be,#54cfc3,#52cec4,#56cfc1,#5bd1bd,#5cd1bc,#54cfc2,#49cdc9,#40cbce,#3ecbcf,#44cccb,#57d0c0,#6bd6a8,#80d896,#7ad89c,#60d3b6,#43cccc,#3dc8d8,#41c5db,#3bc8d5,#4ecec6,#74d7a0,#a0d87d,#9fd87e,#71d7a3,#49cdc8,#3ec7d8,#48c3df,#40c6db,#43cccc,#68d5ac,#99d883,#a4d77b,#7fd898,#56cfc1,#3bcad2,#40c6db,#3fc7d9,#3fcbcf,#5bd1bc,#76d79f,#84d893,#73d7a1,#5dd2ba,#46cdca,#3dcbd0,#3dcbd1,#44cccb,#51cec4,#5dd2ba,#60d3b6,#5dd2ba,#57d0c1,#51cec4,#51cec4,#54cfc2,#57d0c0,#55cfc2,#4ecec6,#47cdca,#43cccc,#45cdcb,#50cec5,#60d3b6,#6dd6a6,#70d7a4,#63d4b2,#4ecec6,#3ccbd1,#3cc8d7,#3bc8d5,#45cccb,#61d3b4,#84d893,#96d885,#7ed899,#5ad1be,#3ccad2,#42c5dc,#44c4dd,#3bc9d3,#58d0c0,#85d892,#acd674,#a0d87e,#6ad6aa,#42cccc,#42c5dc,#4ac2e1,#41c5db,#46cdcb,#72d7a2,#add674,#b7d56c,#88d890,#53cec4,#3dc8d8,#4bc1e2,#49c2e0,#3bc9d3,#60d2b7,#9bd881,#bdd468,#a4d77b,#65d5af,#3dcbd0,#48c4df,#4cc1e2,#3fc6da,#4ccec7,#7ed899,#b3d56f,#b2d570,#7cd899,#4ccec8,#3fc7d9,#4ac2e1,#45c4dd,#3fcbcf,#64d4b0,#99d882,#add673,#8dd88c,#5dd2ba,#3ccad2,#42c5dc,#43c4dc,#3bc9d3,#53cfc3,#77d89e,#94d886,#89d88f,#65d5af,#49cdc9,#3bc9d4,#3cc8d7,#3ccad2,#4bcec8,#60d3b6,#6ed6a5,#6ed6a5,#63d4b3,#53cec4,#47cdca,#43cccc,#46cdcb,#4dcec7,#54cfc2,#57d0c0,#55cfc2,#51cec4,#51cec4,#56cfc1,#5dd2ba,#60d2b7,#5ed2b9,#53cfc3,#45cdcb,#3ecbd0,#3ccbd1,#44cccb,#59d1be,#6fd7a5,#84d894,#7ad89c,#5fd2b7,#42cbcd)"></i><i style="background:linear-gradient(90deg,#3bc8d6,#49cdc9,#69d5ab,#8fd889,#94d886,#71d7a3,#50cec5,#3bcad3,#3fc7d8,#3bc8d6,#43cccb,#5ed2b9,#73d7a2,#79d89c,#68d5ab,#57d0c0,#46cdca,#41cbce,#42cccc,#4bcec8,#53cfc3,#58d0bf,#56cfc1,#51cec4,#50cec4,#56cfc1,#5ed2b9,#62d4b3,#60d3b6,#55cfc2,#44cccb,#3ccad2,#3bc9d3,#42cbcd,#59d1be,#75d7a0,#8ed88b,#83d894,#60d3b5,#41cbce,#3fc6da,#44c4dd,#3bc8d6,#4fcec5,#7ad89c,#a6d779,#a1d77c,#70d7a4,#48cdc9,#3fc7d9,#47c4df,#3fc6d9,#45cccb,#68d5ac,#92d887,#99d882,#77d89e,#53cfc3,#3ccad2,#3dc8d8,#3bc8d5,#42cccc,#5ad1bd,#6ad6a9,#71d7a3,#66d5ae,#59d0be,#4bcec8,#45cccb,#47cdca,#4ccec7,#51cec4,#53cfc3,#51cec4,#4ecec6,#4fcec6,#55cfc2,#5ed2b9,#63d4b1,#63d4b2,#5ad1be,#49cdc9,#3ccbd1,#3bc9d3,#3fcbcf,#4fcec5,#6ad5aa,#87d890,#88d88f,#6ad5aa,#4bcec8,#3bc8d6,#44c4dd,#3fc6da,#42cccd,#67d5ad,#9cd881,#afd671,#8cd88c,#5bd1bd,#3bc9d5,#49c2e0,#4ac2e1,#3bc8d6,#59d1be,#93d887,#bfd466,#b0d671,#6dd6a6,#41cbce,#47c4df,#4ec0e4,#45c4dd,#45cccb,#79d89c,#bad56a,#c3d363,#8fd88a,#52cec4,#3fc7d9,#4ec0e4,#4cc1e3,#3bc9d5,#60d3b6,#a4d77a,#c8d260,#aed673,#67d5ad,#3ccad2,#4ac2e1,#4ebfe4,#42c5dc,#4ccec8,#84d893,#bfd466,#bfd466,#85d892,#4ccec8,#42c5dc,#4ec0e4,#49c2e0,#3ccad1,#66d5af,#a8d777,#c1d365,#9ed87f,#60d2b7,#3bc9d3,#49c3e0,#4ac2e1,#3cc8d7,#53cec4,#84d893,#add673,#a2d77b,#6dd6a6,#47cdca,#3ec7d8,#44c4dd,#3dc8d8,#46cdcb,#65d5af,#85d892,#8ad88f,#6ed6a6,#54cfc2,#40cbce,#3bc9d3,#3ccad2,#45cdcb,#57d0c0,#62d4b4,#64d4b0,#60d2b7,#56d0c1,#4fcec5,#4ecec6,#50cec4,#53cfc3,#52cec4,#4ecec7,#48cdca,#45cccb,#49cdc8,#56cfc1,#64d5b0,#70d7a3,#6dd6a6,#5dd2ba,#45cccb)"></i><i style="background:linear-gradient(90deg,#3bc8d6,#49cdc8,#6ad5aa,#8fd88b,#90d889,#6ed6a6,#4fcec5,#3ccad2,#3dc8d7,#3bc9d4,#46cdcb,#5ed2ba,#6cd6a7,#6fd6a5,#63d4b1,#56cfc1,#49cdc8,#46cdcb,#49cdc8,#4fcec5,#52cec4,#50cec4,#4dcec7,#4bcec8,#4ecec6,#59d1be,#64d4b0,#6ad6a9,#65d5b0,#55cfc2,#41cbce,#3bc8d5,#3bc8d6,#40cbce,#5cd1bc,#7ed898,#9ad881,#89d88f,#60d3b5,#3fcbcf,#42c5dc,#46c4de,#3bc8d6,#50cec4,#7dd899,#a7d777,#9fd87e,#6dd6a6,#47cdca,#3ec7d8,#45c4dd,#3dc8d8,#47cdca,#67d5ad,#88d88f,#8cd88d,#6dd6a6,#52cec4,#3fcbcf,#3bc9d4,#3ccad1,#47cdca,#59d0bf,#62d3b4,#63d4b3,#5dd2ba,#55cfc2,#4fcec5,#50cec5,#54cfc2,#56d0c1,#52cec4,#4bcec8,#43cccb,#42cccd,#49cdc9,#59d0be,#69d5aa,#78d89d,#71d7a3,#5dd2ba,#42cccd,#3cc8d7,#3fc6da,#3bc9d3,#50cec4,#77d89e,#a2d77c,#a0d87e,#71d7a3,#48cdc9,#40c6da,#4bc1e1,#44c4dd,#41cbce,#6cd6a7,#add673,#c0d366,#96d885,#5ad1be,#3cc8d7,#4cc1e3,#4cc1e3,#3cc8d7,#5cd1bc,#9cd880,#c8d261,#b5d56d,#6ed6a5,#3fcbce,#49c3e0,#4fbfe5,#45c4de,#45cccb,#7bd89b,#bdd468,#c4d263,#8fd88a,#51cec4,#3fc6da,#4ec0e4,#4cc1e3,#3bc9d5,#60d3b6,#a4d77a,#c8d261,#add673,#67d5ad,#3ccad1,#4ac2e1,#4ebfe4,#42c5dc,#4bcec8,#84d893,#c1d365,#c2d364,#87d891,#4ccec7,#42c5dc,#4ebfe4,#4bc1e2,#3ccad2,#66d5af,#add673,#c9d260,#a7d778,#62d3b4,#3bc9d4,#4cc1e2,#4dc0e3,#3fc6d9,#51cec4,#8cd88d,#bed467,#b4d56d,#76d89f,#46cdca,#42c5dc,#4bc1e2,#42c5dc,#42cccc,#69d5aa,#9bd881,#a5d77a,#7fd897,#57d0c0,#3ccad2,#3fc7d9,#3dc8d8,#3fcbce,#59d0be,#6dd6a6,#78d89c,#6cd6a7,#5dd2bb,#4bcec8,#42cccc,#42cccc,#49cdc8,#51cec4,#56cfc1,#55cfc2,#50cec4,#4fcec5,#53cfc3,#5dd2bb,#62d4b4,#63d4b3,#5bd1bd,#4acdc8)"></i><i style="background:linear-gradient(90deg,#3bc8d5,#4bcec8,#6ad5aa,#8cd88d,#8bd88d,#6ad6a9,#4fcec6,#3ccad1,#3bc8d5,#3ccad2,#49cdc9,#5dd2ba,#67d5ad,#67d5ad,#5fd2b7,#53cfc3,#4dcec7,#4dcec7,#50cec5,#53cfc3,#51cec4,#4ccec8,#45cccb,#45cccb,#4ccec7,#5dd2ba,#6bd6a8,#76d89f,#6ad5aa,#54cfc2,#3dcbd0,#3ec7d8,#3ec7d8,#3fcbcf,#5ed2ba,#87d891,#a3d77b,#8dd88c,#60d3b6,#3dcbd0,#43c4dc,#46c4df,#3bc8d5,#52cec4,#7ed898,#a5d77a,#99d882,#69d5aa,#46cdca,#3dc8d8,#41c5db,#3bc8d5,#4acdc8,#65d5b0,#7dd899,#7bd89a,#65d5af,#51cec4,#42cccc,#3fcbce,#42cccc,#4ccec7,#56cfc1,#59d0be,#56d0c1,#51cec4,#51cec4,#57d0c0,#5ed2b8,#62d3b4,#5fd2b7,#51cec4,#42cccd,#3bcad2,#3bcad2,#44cccb,#5dd2ba,#7bd89b,#91d888,#81d896,#5ed2b9,#3ecbd0,#42c5dc,#46c4df,#3bc8d6,#52cec4,#85d892,#b6d56d,#b0d571,#74d7a0,#45cccb,#45c4dd,#4ec0e4,#47c4df,#41cbce,#71d7a3,#b7d56c,#c7d261,#99d882,#59d0bf,#3ec7d8,#4dc0e3,#4dc1e3,#3bc8d6,#5dd2ba,#9dd87f,#c6d262,#b1d570,#6bd6a8,#3fcbce,#48c3df,#4dc0e3,#43c4dc,#47cdca,#78d89c,#b4d56d,#bad569,#88d88f,#51cec4,#3ec7d8,#4cc1e2,#49c2e0,#3bc9d3,#60d2b7,#9ad881,#bbd469,#a3d77b,#65d5af,#3ecbd0,#47c4df,#4cc1e3,#40c6db,#4bcec8,#7ed899,#b7d56c,#b9d56a,#83d894,#4ecec7,#40c6da,#4dc1e3,#4ac2e1,#3ccad2,#64d4b0,#a9d777,#c7d261,#a7d777,#63d4b3,#3bc9d3,#4cc1e2,#4ebfe4,#40c6db,#4fcec5,#8dd88c,#c4d263,#bed467,#7dd899,#47cdca,#44c4dd,#4ec0e4,#48c3df,#40cbce,#6ad6a9,#aad676,#b9d56a,#8fd88a,#5ad1be,#3bc9d4,#45c4de,#44c4dd,#3ccad2,#59d0be,#7bd89a,#92d888,#80d896,#60d3b5,#47cdca,#3ccad2,#3bc9d3,#41cbce,#4fcec5,#5ed2b9,#62d3b4,#5fd2b7,#59d0bf,#51cec4,#51cec4,#56cfc1,#59d0be,#57d0c1,#4ecec6)"></i><i style="background:linear-gradient(90deg,#3bc8d5,#4ccec8,#6ad5aa,#88d890,#85d892,#67d5ad,#4ecec6,#3ecbd0,#3bc9d3,#3ecbd0,#4bcec8,#5cd1bc,#62d3b4,#61d3b5,#5bd1bd,#53cec4,#50cec4,#53cfc3,#59d0bf,#58d0bf,#4fcec5,#45cdcb,#3fcbce,#40cbce,#4ccec8,#60d3b7,#76d89f,#81d896,#6dd6a6,#53cec4,#3ccad2,#40c6db,#3fc6da,#3fcbcf,#60d2b7,#8ed88c,#a8d777,#8fd88b,#5fd2b7,#3ccad1,#44c4dd,#46c4de,#3bc9d5,#55cfc2,#7ed899,#9fd87e,#90d889,#65d5af,#46cdcb,#3bc8d5,#3ec7d8,#3ccad2,#4ccec7,#62d4b3,#6fd7a5,#6bd6a8,#60d2b7,#50cec4,#49cdc9,#49cdc9,#4ccec7,#51cec4,#51cec4,#4ecec6,#49cdc9,#49cdc9,#4fcec5,#5ed2b9,#6ad6aa,#71d7a3,#65d5b0,#4fcec5,#3ccad1,#3ec7d8,#3dc8d8,#41cbce,#61d3b5,#8fd88b,#a9d777,#8fd88a,#5fd2b8,#3bcad2,#49c3df,#4bc1e2,#3dc8d8,#55cfc2,#90d889,#c2d364,#b8d56b,#75d7a0,#42cccc,#47c4df,#4fbfe5,#48c3df,#42cccd,#74d7a0,#b8d56a,#c4d263,#93d886,#56cfc1,#3dc8d8,#4cc1e3,#4bc1e2,#3bc8d5,#5dd2ba,#96d885,#b9d56a,#a3d77b,#67d5ad,#40cbce,#43c4dc,#49c2e0,#3fc7d9,#49cdc9,#71d7a3,#a0d87d,#a4d77a,#7bd89b,#50cec4,#3bc8d5,#45c4de,#42c5dc,#3dcbd0,#5ed2b9,#87d890,#a2d77c,#8ed88b,#62d4b4,#40cbce,#40c6db,#45c4de,#3cc8d7,#4ccec8,#72d7a2,#a0d87d,#a4d77a,#7ad89c,#4fcec6,#3dc8d7,#49c3e0,#45c4de,#3ccbd1,#61d3b4,#9bd881,#b9d56a,#9fd87e,#63d4b3,#3ccad2,#49c2e0,#4dc1e3,#40c6da,#4ecec6,#88d890,#c1d365,#bed467,#81d896,#49cdc9,#44c4dd,#4fbfe5,#49c2e1,#3ecbd0,#6ad6a9,#b0d571,#c5d263,#9cd881,#5dd2ba,#3bc8d5,#4ac2e1,#4ac2e1,#3bc8d5,#59d0bf,#87d891,#a8d777,#96d885,#65d5af,#45cccb,#3cc8d6,#3fc7d8,#3bcad2,#4ccec7,#63d4b3,#70d7a4,#6cd6a7,#60d2b7,#51cec4,#49cdc9,#49cdc9,#4dcec7,#51cec4,#51cec4)"></i><i style="background:linear-gradient(90deg,#3bc9d4,#4dcec7,#69d5aa,#82d894,#7ed899,#64d5b0,#4ecec6,#3fcbce,#3ccbd1,#41cbce,#4dcec7,#59d1be,#5ed2ba,#5cd1bc,#56cfc1,#52cec4,#56cfc1,#5cd1bc,#5fd2b8,#5bd1bc,#4ecec6,#41cbcd,#3ccad2,#3dcbd0,#4bcec8,#63d4b2,#81d896,#8bd88d,#71d7a3,#51cec4,#3bc9d4,#43c4dc,#41c5db,#3fcbcf,#61d3b4,#92d887,#aad675,#8dd88c,#5ed2ba,#3ccad2,#44c4dc,#44c4dd,#3bc9d3,#56d0c1,#7bd89a,#96d885,#86d892,#63d4b3,#47cdca,#3bc9d3,#3bc8d5,#3fcbcf,#4fcec6,#5fd2b7,#64d5b0,#61d3b4,#5ad1be,#51cec4,#4fcec5,#53cfc3,#58d0bf,#56d0c1,#4ecec6,#44cccb,#3fcbcf,#41cbce,#4fcec6,#63d4b1,#7ed899,#85d893,#6bd6a8,#4ecec6,#3bc8d5,#45c4dd,#41c5db,#40cbce,#65d5b0,#a0d87d,#bad56a,#98d883,#5ed2ba,#3bc8d5,#4cc1e3,#4dc1e3,#3ec7d8,#58d0c0,#98d883,#c8d261,#b8d56b,#72d7a2,#41cbce,#48c3df,#4ec0e4,#45c4de,#44cccb,#74d7a0,#b1d570,#b9d56a,#88d88f,#53cfc3,#3bc8d6,#49c3df,#45c4de,#3ccad2,#5dd2ba,#87d891,#a0d77d,#8cd88d,#62d4b4,#42cccc,#3dc8d8,#40c6db,#3bc9d5,#4ccec8,#67d5ad,#82d894,#84d893,#6ad5aa,#50cec4,#3dcbd1,#3cc8d7,#3bc8d5,#42cccd,#5bd1bd,#6fd7a4,#7ed898,#73d7a1,#5ed2b9,#45cccb,#3bc9d4,#3cc8d7,#3ccad2,#4dcec7,#66d5ae,#81d896,#85d892,#6bd6a8,#50cec5,#3bcad2,#40c6da,#3fc7d9,#3fcbce,#5ed2b9,#85d892,#a0d87d,#8dd88c,#62d3b4,#3fcbcf,#44c4dc,#49c3e0,#3ec7d8,#4dcec7,#7ed899,#b4d56d,#b6d56d,#7fd897,#4bcec8,#42c5dc,#4ec0e4,#4ac2e1,#3ccbd1,#68d5ac,#b0d571,#c9d260,#a3d77b,#5fd2b7,#3bc8d5,#4cc1e3,#4dc1e3,#3dc8d8,#56cfc1,#8ed88b,#b8d56b,#a8d777,#6bd6a8,#44cccb,#3fc6da,#45c4de,#3cc8d7,#49cdc9,#67d5ad,#82d895,#81d896,#67d5ad,#51cec4,#42cccd,#3fcbcf,#42cccc,#4ccec7,#56cfc1)"></i><i style="background:linear-gradient(90deg,#3bc9d3,#4fcec6,#68d5ac,#7dd899,#77d89e,#62d3b4,#4ecec6,#42cbcd,#3fcbce,#45cccb,#4fcec6,#57d0c0,#59d0bf,#54cfc3,#50cec5,#52cec4,#5ad1bd,#61d3b4,#63d4b1,#5dd2ba,#4ccec7,#3ecbd0,#3bc9d5,#3ccad2,#4bcec8,#66d5ae,#8ad88e,#93d887,#74d7a1,#4fcec5,#3bc8d5,#45c4de,#42c5dc,#3fcbce,#63d4b2,#96d885,#aad675,#8ad88f,#5cd1bc,#3ccad2,#42c5dc,#42c5dc,#3ccad2,#58d0bf,#77d89e,#8bd88e,#7bd89b,#60d2b7,#48cdc9,#3dcbd0,#3ccbd1,#43cccb,#50cec5,#5bd1bd,#5dd2bb,#58d0bf,#52cec4,#53cec4,#59d1be,#60d2b7,#61d3b5,#5ad1bd,#49cdc8,#3dcbd1,#3bc9d5,#3ccbd1,#4fcec6,#6bd6a8,#92d888,#97d884,#71d7a3,#4bcec8,#3fc7d8,#4ac2e1,#45c4de,#3fcbce,#6ad5aa,#add673,#c4d363,#9cd881,#5cd1bc,#3cc8d7,#4dc0e3,#4dc0e3,#3dc8d7,#5bd1bd,#9bd881,#c4d263,#b1d571,#6cd6a7,#40cbce,#45c4de,#4cc1e2,#41c6db,#48cdca,#71d7a3,#a1d77d,#a3d77b,#79d89c,#51cec4,#3bc9d4,#40c6db,#3ec7d8,#40cbce,#5cd1bc,#73d7a2,#7fd897,#71d7a3,#5dd2ba,#47cdca,#3ccad1,#3ccad2,#41cbce,#4fcec6,#5fd2b8,#65d5af,#64d5b0,#5ed2b9,#51cec4,#47cdca,#42cccc,#44cccb,#4ccec8,#56cfc1,#5dd2ba,#60d3b6,#5ed2b9,#57d0c0,#4dcec7,#45cccb,#42cccc,#45cdcb,#4fcec5,#5dd2bb,#63d4b1,#65d5af,#60d2b7,#51cec4,#42cccd,#3ccad2,#3ccad2,#44cccb,#5ad1be,#6dd6a6,#7fd898,#76d89f,#5fd2b7,#43cccc,#3dc8d8,#41c6db,#3bc8d5,#4ccec7,#71d7a3,#9fd87e,#a5d77a,#7ad89c,#4ecec6,#3fc7d8,#4bc1e2,#49c3df,#3ccad1,#64d5b0,#a9d777,#c5d262,#a5d779,#61d3b5,#3bc9d5,#4cc1e3,#4ec0e4,#3fc6d9,#53cec4,#90d889,#c1d364,#b5d56d,#74d7a1,#44cccb,#42c5dc,#4ac2e1,#40c6db,#45cccb,#6ad5aa,#93d887,#96d885,#72d7a3,#53cec4,#3ecbcf,#3bc9d5,#3ccad2,#47cdca,#58d0bf)"></i><i style="background:linear-gradient(90deg,#3ccad2,#4fcec5,#67d5ad,#77d89e,#70d7a4,#60d2b7,#4ecec6,#44cccb,#43cccc,#49cdc9,#50cec5,#54cfc2,#51cec4,#4ecec6,#4dcec7,#52cec4,#5ed2b9,#67d5ad,#68d5ab,#5fd2b8,#4acec8,#3ccad2,#3cc8d7,#3bc9d3,#4bcec8,#6ad5aa,#92d888,#99d882,#74d7a0,#4ecec6,#3cc8d7,#47c4df,#42c5dc,#40cbce,#64d5b0,#97d884,#a8d777,#85d892,#59d1be,#3ccad2,#40c6db,#3fc6da,#3ecbd0,#59d0be,#71d7a3,#7fd897,#70d7a4,#5dd2bb,#49cdc8,#42cbcd,#42cccc,#4acdc8,#51cec4,#55cfc2,#51cec4,#4dcec7,#4dcec7,#56cfc1,#61d3b5,#6ad5aa,#69d5aa,#5dd2ba,#45cccb,#3bc8d5,#3fc7d8,#3bc9d3,#4fcec5,#77d89e,#a5d77a,#a6d779,#74d7a0,#48cdc9,#42c5dc,#4dc1e3,#47c4df,#40cbce,#6fd7a4,#b6d56d,#c8d261,#99d882,#59d0be,#3dc8d8,#4dc0e3,#4cc1e3,#3bc8d5,#5dd2ba,#98d883,#bad569,#a3d77b,#67d5ad,#40cbce,#42c5dc,#46c4df,#3cc8d7,#4ccec8,#6ad6a9,#88d88f,#86d891,#69d5aa,#50cec5,#3fcbcf,#3bc9d4,#3ccad1,#47cdca,#58d0bf,#61d3b4,#63d4b3,#5ed2b9,#56cfc1,#4fcec6,#4ccec7,#4fcec6,#51cec4,#52cec4,#4fcec5,#4ccec8,#49cdc8,#4ccec8,#53cec4,#5cd1bc,#60d2b7,#60d2b7,#5ad1be,#4ecec6,#43cccc,#3fcbce,#42cccc,#4ccec7,#59d0bf,#5fd2b7,#60d2b7,#5dd2bb,#54cfc2,#4ccec7,#49cdc8,#4ccec8,#4fcec5,#52cec4,#51cec4,#4fcec5,#4dcec7,#4ecec6,#54cfc2,#5dd2ba,#62d4b4,#62d3b4,#5ad1bd,#4acdc8,#3dcbd0,#3bc9d4,#3dcbd1,#4dcec7,#65d5af,#83d894,#8bd88d,#70d7a4,#50cec5,#3bc8d5,#45c4de,#43c4dc,#3ccbd1,#61d3b5,#9ad881,#bad569,#a1d77d,#63d4b3,#3bcad2,#4bc1e2,#4ec0e4,#40c6db,#4fcec5,#8ed88c,#c4d263,#bdd467,#7bd89b,#45cdcb,#44c4dd,#4dc1e3,#45c4de,#42cccd,#6bd6a8,#a1d77d,#a9d777,#7fd898,#56cfc1,#3ccad2,#3ec7d8,#3bc8d6,#42cccd,#59d1be)"></i><i style="background:linear-gradient(90deg,#3dcbd0,#50cec4,#65d5af,#71d7a3,#6ad6aa,#5dd2ba,#4ecec6,#47cdca,#48cdc9,#4dcec7,#51cec4,#51cec4,#4dcec7,#49cdc9,#4acdc8,#53cec3,#61d3b4,#6dd6a6,#6ed6a6,#60d2b7,#48cdc9,#3bc9d4,#3fc7d8,#3bc9d5,#4ccec8,#6dd6a6,#99d882,#9ed87e,#74d7a0,#4ccec7,#3dc8d8,#47c4df,#41c5dc,#42cbcd,#66d5ae,#96d885,#a3d77b,#7fd897,#57d0c0,#3ccad2,#3fc7d9,#3dc8d8,#40cbce,#59d1be,#6bd6a8,#73d7a1,#67d5ad,#59d0be,#4ccec8,#48cdca,#4bcec8,#4fcec5,#52cec4,#4fcec6,#49cdc9,#45cccb,#49cdc8,#59d0bf,#69d5ab,#7ad89c,#74d7a1,#5dd2ba,#41cbce,#3fc7d9,#43c4dc,#3bc8d5,#51cec4,#82d895,#b4d56e,#b0d671,#74d7a0,#44cccb,#45c4de,#4ebfe4,#48c3df,#42cbcd,#74d7a0,#bad56a,#c5d262,#92d887,#55cfc2,#3ec7d8,#4cc1e3,#49c2e0,#3bc9d3,#5ed2b8,#8fd889,#aad676,#8fd88a,#62d3b4,#42cbcd,#3dc8d8,#3fc7d9,#3ccad2,#4fcec6,#63d4b1,#6ed6a5,#6ad5aa,#5fd2b8,#50cec4,#48cdc9,#47cdca,#4ccec7,#51cec4,#51cec4,#4dcec7,#47cdca,#45cccb,#4dcec7,#5cd1bc,#67d5ad,#6dd6a6,#66d5ae,#56cfc1,#3ccad2,#45c4de,#49c3df,#3bc8d6,#56cfc1,#74d7a0,#93d886,#8dd88c,#68d5ac,#42cccc,#4ac2e1,#51bce7,#4cc1e3,#3dcbd0,#63d4b1,#88d88f,#96d885,#7bd89b,#5bd1bd,#3bc9d4,#48c3df,#47c4df,#3bc8d5,#51cec4,#64d5b0,#6dd6a6,#68d5ab,#5ed2ba,#4fcec6,#45cdcb,#46cdcb,#4ccec8,#51cec4,#51cec4,#4dcec7,#48cdc9,#48cdca,#4fcec6,#5dd2ba,#68d5ac,#6fd6a5,#65d5af,#52cec4,#3dcbd0,#3ec7d8,#3ec7d8,#3fcbcf,#5dd2ba,#88d890,#a9d777,#97d884,#63d4b1,#3dcbd0,#48c3df,#4cc1e3,#40c6db,#4dcec7,#87d891,#c2d364,#c0d366,#81d896,#49cdc9,#44c4dd,#4ebfe4,#49c3df,#3fcbce,#6ad6a9,#aad676,#b7d56c,#8cd88d,#59d0be,#3bc9d3,#42c5dc,#40c6da,#3ecbd0,#59d1be)"></i><i style="background:linear-gradient(90deg,#3fcbcf,#51cec4,#64d4b0,#6bd6a8,#66d5ae,#5cd1bc,#4fcec6,#4bcec8,#4ccec7,#50cec4,#53cec4,#4fcec6,#49cdc9,#44cccb,#48cdca,#54cfc2,#64d5b0,#75d7a0,#74d7a0,#60d3b6,#45cdcb,#3bc8d6,#40c6da,#3bc8d5,#4dcec7,#72d7a2,#9fd87e,#a0d87d,#73d7a2,#4acec8,#3ec7d8,#48c4df,#40c6db,#43cccc,#67d5ad,#94d886,#9cd880,#79d89c,#55cfc2,#3ccad1,#3dc8d8,#3bc8d5,#43cccc,#59d1be,#67d5ad,#69d5ab,#61d3b5,#56cfc1,#4fcec6,#4fcec6,#53cec4,#56d0c1,#52cec4,#49cdc9,#41cbce,#3fcbcf,#46cdca,#5cd1bc,#74d7a0,#8ad88e,#7ed899,#5dd2ba,#3dcbd0,#43c4dc,#48c3df,#3bc8d6,#55cfc2,#8cd88c,#bed467,#b4d56d,#73d7a2,#42cbcd,#48c3df,#4fbfe5,#46c4df,#45cccb,#79d89c,#b9d56a,#bed467,#89d88f,#51cec4,#3dc8d8,#49c2e0,#45c4dd,#3dcbd0,#5fd2b7,#83d894,#92d888,#7bd89c,#5dd2ba,#44cccb,#3bcad2,#3ccad2,#42cccc,#50cec4,#5cd1bc,#5dd2bb,#57d0c0,#51cec4,#53cec4,#5bd1bd,#62d3b4,#63d4b1,#5dd2ba,#45cdcb,#3fc7d8,#49c2e0,#45c4dd,#42cccc,#6ad5aa,#9ed87f,#b0d571,#8cd88c,#57d0c0,#4ec0e4,#59adf0,#5bacf2,#50bee6,#5ad1bd,#a9d777,#ddce59,#d2d05c,#82d895,#3bc8d5,#59adf0,#5f9ffa,#5caaf3,#42c5dc,#74d7a1,#cad260,#dfcd59,#b5d56d,#62d3b4,#4cc1e3,#59adf0,#5bacf2,#51bce7,#4dcec7,#82d895,#aed672,#a4d77b,#71d7a3,#4acdc8,#42c5dc,#4ac2e1,#40c6db,#42cbcd,#5ad1bd,#63d4b2,#62d4b3,#5dd2bb,#53cfc3,#51cec4,#56cfc1,#5cd1bc,#5dd2bb,#53cfc3,#45cccb,#3ccad2,#3bc9d3,#42cbcd,#59d0be,#74d7a0,#90d888,#88d88f,#63d4b2,#41cbce,#42c5dc,#49c2e0,#3fc6da,#4bcec8,#7ed899,#bad56a,#bed467,#85d892,#4ccec8,#42c5dc,#4fbfe5,#4ac2e1,#3dcbd1,#69d5ab,#add673,#c1d365,#97d884,#5dd2bb,#3bc9d4,#46c4df,#45c4de,#3bcad2,#59d0bf)"></i><i style="background:linear-gradient(90deg,#40cbce,#52cec4,#63d4b3,#67d5ad,#63d4b3,#59d0be,#4fcec5,#4ecec6,#50cec4,#55cfc2,#53cfc3,#4ccec7,#44cccb,#41cbce,#45cccb,#56cfc1,#68d5ab,#7dd899,#79d89c,#60d3b6,#43cccb,#3dc8d8,#42c5dc,#3bc8d5,#4ecec6,#76d89f,#a3d77b,#a1d77c,#71d7a3,#49cdc9,#3fc7d8,#47c4df,#3fc6da,#45cccb,#68d5ac,#91d888,#96d885,#73d7a2,#52cec4,#3dcbd0,#3bc8d5,#3bcad2,#46cdca,#59d0be,#63d4b3,#62d4b4,#5dd2bb,#53cfc3,#51cec4,#57d0c1,#5dd2bb,#5cd1bc,#51cec4,#43cccb,#3ccad2,#3ccad2,#45cccb,#5fd2b8,#81d896,#99d882,#85d892,#5dd2ba,#3bcad2,#48c3df,#4ac2e1,#3bc8d6,#59d0bf,#96d885,#c5d263,#b5d56d,#6ed6a5,#3fcbce,#49c3e0,#4ebfe4,#44c4dd,#48cdc9,#7bd89a,#b4d56e,#b3d56f,#7ed899,#4ecec6,#3cc8d7,#45c4dd,#3fc7d9,#42cbcd,#5fd2b8,#74d7a0,#79d89c,#68d5ac,#58d0bf,#49cdc9,#44cccb,#49cdc9,#4fcec5,#52cec4,#4ccec7,#42cbcd,#3dcbd0,#42cccd,#59d0be,#71d7a3,#8ed88b,#89d88f,#64d4b0,#3bc8d5,#56b7ea,#5aadf1,#56b5eb,#3dcbd1,#8ad88e,#dece59,#edcb5e,#b7d56c,#56cfc1,#59b0ef,#6c8efe,#6c8efe,#58b0ee,#5fd2b7,#d9ce59,#fed563,#fdcb6a,#9fd87e,#44c4dd,#6596fe,#717ef9,#6b8fff,#4fbee6,#88d890,#f7ca67,#fed662,#e6cb5b,#6ad6aa,#55b7ea,#6a92ff,#6d8cfe,#5daaf3,#44cccb,#a7d777,#e9cb5d,#e4cc5a,#9ad881,#49cdc9,#54b8e9,#5aadf1,#56b4ec,#40c6da,#60d2b7,#85d892,#90d889,#76d89f,#5dd2ba,#44cccb,#3dcbd0,#41cbce,#4bcec8,#51cec4,#50cec5,#49cdc8,#44cccb,#47cdca,#55cfc2,#65d5af,#77d89d,#77d89e,#62d3b4,#45cccb,#3dc7d8,#45c4dd,#3ec7d8,#49cdc9,#74d7a1,#add673,#b7d56b,#86d892,#4fcec6,#40c6db,#4ec0e4,#4bc1e2,#3ccad2,#66d5ae,#add673,#c7d261,#a1d77c,#60d2b7,#3bc9d4,#49c3e0,#49c3e0,#3bc8d5,#56cfc1)"></i><i style="background:linear-gradient(90deg,#42cccd,#53cfc3,#61d3b4,#64d4b0,#60d2b7,#57d0c0,#50cec5,#50cec4,#56cfc1,#59d0bf,#54cfc3,#4acec8,#41cbcd,#3fcbcf,#44cccb,#57d0c0,#6dd6a6,#84d893,#7dd899,#60d3b6,#42cbcd,#3fc7d9,#43c4dc,#3bc8d5,#4fcec5,#7bd89c,#a6d779,#a0d87d,#6ed6a6,#47cdca,#3fc7d9,#46c4de,#3ec7d8,#47cdca,#69d5ab,#8dd88c,#8ed88b,#6dd6a6,#51cec4,#3fcbcf,#3bc9d3,#3ecbd0,#49cdc8,#59d0bf,#5fd2b8,#5dd2ba,#56cfc1,#51cec4,#56cfc1,#5ed2b9,#62d3b4,#5fd2b7,#4fcec5,#3fcbce,#3bc8d5,#3bc8d5,#44cccb,#62d3b4,#8ed88c,#a6d779,#89d88f,#5bd1bd,#3bc8d5,#4ac2e1,#4bc1e2,#3bc8d6,#5dd2bb,#9fd87e,#c8d260,#b3d56f,#6ad5aa,#3dcbd0,#49c2e0,#4dc0e3,#41c6db,#4ccec8,#7cd89a,#abd675,#a4d77b,#71d7a3,#4ccec7,#3bc8d5,#3fc7d9,#3bc8d5,#46cdca,#5dd2ba,#67d5ad,#65d5b0,#5dd2ba,#53cfc3,#51cec4,#58d0c0,#5ed2b9,#5ed2ba,#50cec5,#3bc9d3,#49c3e0,#4cc1e3,#3bc8d6,#61d3b5,#a0d77d,#ccd15e,#bad56a,#6ad5aa,#4cc1e3,#5ea0fa,#6a90ff,#5da5f7,#3ccad1,#b3d56e,#fed166,#fdd861,#d4cf5b,#4fcec5,#5f9efb,#7274f2,#7277f4,#5da7f5,#64d5b0,#f8ca68,#f7ee56,#fadf5d,#b4d56d,#4cc1e3,#7182fb,#7066e1,#727bf7,#55b7ea,#97d884,#fdd860,#f7f056,#fecf67,#79d89c,#58b0ef,#727bf7,#7171f0,#6795fe,#3bcad2,#c1d365,#fed563,#fed563,#c8d261,#4ecec6,#5cabf3,#6a91ff,#609bfd,#52bbe8,#61d3b4,#b0d571,#ced15d,#abd675,#67d5ad,#3bcad2,#4bc1e2,#4ac2e1,#3bc8d5,#4ccec7,#5dd2ba,#5fd2b8,#59d0be,#51cec4,#52cec4,#5cd1bc,#63d4b1,#67d5ad,#5fd2b7,#4acdc8,#3bc9d4,#3fc7d9,#3bc8d6,#47cdca,#6ad6aa,#9ed87e,#add673,#85d892,#52cec4,#3ec7d8,#4dc1e3,#4bc1e2,#3bc9d4,#63d4b3,#aad676,#c9d260,#a9d777,#63d4b3,#3bc9d3,#4ac2e1,#4cc1e2,#3dc8d8,#53cec4)"></i><i style="background:linear-gradient(90deg,#44cccb,#54cfc2,#60d2b7,#61d3b4,#5dd2ba,#55cfc1,#51cec4,#54cfc2,#5ad1be,#5cd1bc,#54cfc2,#48cdc9,#3fcbcf,#3ccbd1,#43cccc,#59d0be,#71d7a3,#89d88f,#7fd897,#60d2b7,#40cbce,#40c6da,#44c4dd,#3bc8d5,#51cec4,#7ed899,#a8d777,#9fd87e,#6bd6a8,#45cccb,#3fc7d9,#45c4de,#3dc8d8,#49cdc8,#69d5aa,#88d88f,#86d891,#68d5ab,#4fcec5,#40cbce,#3ccbd1,#41cbce,#4ccec7,#57d0c0,#5ad1be,#56cfc1,#50cec5,#51cec4,#5ad1bd,#63d4b2,#67d5ac,#61d3b4,#4ecec6,#3ccad2,#3ec7d8,#3cc8d6,#44cccb,#65d5af,#99d882,#afd672,#8cd88c,#58d0c0,#3cc8d7,#4cc1e3,#4cc1e3,#3bc8d5,#60d2b7,#a5d77a,#c9d260,#add673,#65d5af,#3ccad2,#49c2e0,#4cc1e2,#3ec7d8,#4fcec5,#7bd89b,#9fd87e,#92d887,#68d5ab,#4bcec8,#3bcad2,#3bc8d5,#3ecbd0,#4ccec8,#59d1be,#5dd2bb,#57d0c1,#4fcec5,#51cec4,#5dd2ba,#6ad6a9,#75d7a0,#67d5ac,#49cdc9,#4dc1e3,#57b2ed,#57b2ed,#44c4dd,#6dd6a6,#d3d05b,#f7ca67,#dcce59,#6ad6aa,#56b5eb,#7085fd,#7279f6,#6199fd,#42cccc,#d8ce59,#f7e959,#f7eb58,#e1cd59,#42cbcd,#6d8cfe,#6f62d7,#7168e5,#5ea3f9,#6dd6a6,#fed563,#fafa4c,#f7ed57,#bfd467,#50bde6,#7276f3,#6d60d2,#716dec,#57b3ed,#9fd87e,#f8e65a,#fafa4c,#fbdf5d,#8ad88e,#59adf0,#716dec,#6e60d2,#7182fc,#42c5dc,#cbd25f,#f8e65a,#f7ed57,#ebcb5d,#59d0be,#5ea2f9,#727bf7,#7181fa,#59adf0,#60d2b7,#d0d05d,#f7ca68,#dece59,#7dd899,#3cc8d7,#56b4ec,#58b1ee,#4fbee6,#42cbcd,#64d5b0,#74d7a0,#6dd6a6,#5fd2b7,#52cec4,#4fcec6,#56cfc1,#5cd1bc,#5bd1bd,#4ecec6,#3fcbce,#3bc8d5,#3bc9d3,#47cdca,#63d4b1,#8dd88c,#a0d87d,#83d894,#57d0c1,#3bc8d6,#4bc1e2,#4bc1e1,#3bc8d5,#60d2b7,#a3d77b,#c9d260,#aed672,#66d5ae,#3ccad2,#4ac2e1,#4dc0e3,#3fc6d9,#4fcec5)"></i><i style="background:linear-gradient(90deg,#45cdcb,#55cfc2,#5fd2b8,#5fd2b7,#5ad1be,#53cfc3,#52cec4,#58d0bf,#5dd2ba,#5dd2ba,#53cfc3,#45cdcb,#3ccbd1,#3ccad2,#43cccc,#5bd1bd,#77d89f,#8fd88b,#81d896,#5fd2b8,#3fcbcf,#41c5db,#45c4dd,#3bc8d5,#53cfc3,#81d896,#a9d777,#9cd880,#69d5ab,#44cccb,#3fc7d9,#44c4dd,#3bc8d6,#4ccec8,#69d5aa,#85d892,#80d897,#65d5af,#4fcec5,#41cbcd,#3fcbce,#44cccb,#4ecec6,#56cfc1,#55cfc2,#4fcec5,#4dcec7,#51cec4,#5ed2b9,#69d5ab,#6ed6a6,#63d4b3,#4ccec8,#3bc9d4,#40c6da,#3dc8d8,#45cccb,#6ad6aa,#a4d77b,#b5d56d,#8cd88d,#53cfc3,#3fc7d8,#4dc0e3,#4cc1e3,#3bc9d4,#63d4b3,#aad676,#c7d261,#a6d779,#62d3b4,#3bcad2,#49c3df,#49c2e0,#3bc8d6,#53cec4,#78d89d,#92d888,#82d895,#63d4b3,#4acec8,#3ecbd0,#3ecbd0,#45cccb,#4fcec5,#53cfc3,#4ccec7,#42cccc,#42cbcd,#51cec4,#6ad5aa,#8fd889,#9bd881,#73d7a1,#3dcbd0,#57b2ed,#5f9efb,#5da4f7,#49c3df,#88d88f,#f8ca68,#fdda60,#edcb5e,#64d5b0,#5da7f5,#7171f0,#7169e6,#6795fe,#53cfc3,#f4ca65,#fafa4d,#f8f551,#e0cd59,#3dc8d8,#717efa,#6d60d1,#6f63da,#5da3f8,#7cd89a,#fbdf5d,#fafa4c,#f7f254,#bfd466,#53bae9,#7171ef,#6d5fd0,#7168e5,#59b0ef,#9ed87f,#f7e959,#fafa4c,#f7e959,#9dd87f,#59b0ef,#7169e6,#6d60d1,#7275f3,#4fbfe5,#c7d261,#f7f056,#fafa4c,#fecf67,#63d4b1,#5ea0fa,#716deb,#716deb,#609dfb,#58d0c0,#dfcd59,#fdd960,#fecc69,#9fd87e,#3cc8d7,#5da8f5,#609cfc,#59aef0,#3bc8d6,#6ad6a9,#98d883,#94d886,#6ed6a5,#56cfc1,#42cccd,#42cbcd,#4bcec8,#53cec4,#50cec4,#47cdca,#3fcbcf,#3dcbd0,#47cdca,#60d2b7,#7dd899,#92d888,#7ed898,#5ad1be,#3bc9d3,#49c3df,#49c2e0,#3bc8d5,#5cd1bc,#9bd881,#c6d262,#b2d570,#6ad5aa,#3dcbd1,#4ac2e1,#4ec0e4,#41c5dc,#4ccec7)"></i><i style="background:linear-gradient(90deg,#47cdca,#55cfc2,#5dd2ba,#5dd2ba,#58d0c0,#52cec4,#53cfc3,#5bd1bd,#60d2b7,#5fd2b8,#53cfc3,#44cccb,#3ccad2,#3bcad3,#42cccc,#5dd2bb,#7bd89b,#92d888,#81d895,#5ed2b9,#3dcbd0,#42c5dc,#45c4de,#3bc9d5,#56cfc1,#84d893,#a9d676,#99d882,#67d5ad,#42cccc,#3fc7d9,#42c5dc,#3bc8d5,#4dcec7,#69d5aa,#81d896,#7ad89c,#63d4b3,#4fcec6,#42cccc,#42cbcd,#48cdc9,#4fcec5,#53cfc3,#4fcec5,#4bcec8,#4acdc8,#51cec4,#61d3b5,#70d7a4,#74d7a0,#63d4b2,#49cdc8,#3bc8d6,#43c5dc,#3ec7d8,#46cdca,#70d7a3,#add674,#b9d56a,#89d88f,#4fcec5,#40c6db,#4ebfe4,#4bc1e2,#3ccad2,#66d5ae,#acd674,#c4d363,#9cd880,#5ed2b9,#3bc9d4,#47c4df,#46c4de,#3bc9d3,#57d0c1,#74d7a0,#85d892,#74d7a1,#5ed2b9,#4bcec8,#42cccc,#46cdcb,#4fcec5,#53cec4,#4acec8,#3ccad2,#3ec7d8,#3bc9d5,#56cfc1,#82d894,#bad56a,#bcd468,#7ad89c,#40c6da,#5ea2f9,#6e8afd,#6199fd,#43c4dc,#add674,#fdda60,#f7e959,#f1ca62,#5bd1bd,#6497fe,#6f63da,#6f63d9,#6398fd,#63d4b3,#fed364,#fafa4c,#f9f750,#d2d05b,#4dc1e3,#7275f3,#6d5fd0,#7065df,#5caaf3,#8dd88c,#f9e35b,#fafa4c,#f7ed57,#b5d56d,#53b9e9,#7272f0,#6d5fd0,#716ae7,#59aef0,#93d887,#f9e45b,#fafa4c,#f7ed57,#b0d671,#56b6eb,#716deb,#6d5fd0,#716cea,#56b6eb,#b4d56e,#f7ef56,#fafa4c,#fbde5e,#7ad89c,#5da4f7,#7167e2,#6e60d2,#6e8cfe,#42cccd,#e0cd59,#f8e75a,#fadf5d,#c5d263,#3ccad2,#5ea0fa,#6f89fd,#609cfc,#4bc1e2,#6dd6a6,#b7d56c,#bed467,#8cd88c,#5cd1bb,#3bcad3,#3ec7d8,#3bcad2,#48cdc9,#52cec4,#50cec5,#48cdca,#42cccc,#49cdc9,#5bd1bc,#6fd7a4,#84d893,#79d89c,#5dd2bb,#3ccbd1,#45c4dd,#49c3df,#3bc8d6,#57d0c0,#92d888,#c1d364,#b4d56e,#6fd7a5,#3fcbce,#49c2e0,#4fbfe5,#44c4dd,#49cdc9)"></i><i style="background:linear-gradient(90deg,#49cdc9,#56cfc1,#5dd2bb,#5bd1bd,#56cfc1,#51cec4,#56cfc1,#5dd2ba,#61d3b4,#60d2b7,#52cec4,#42cccc,#3bc9d3,#3bc9d3,#43cccc,#5ed2b9,#7fd898,#96d885,#81d895,#5dd2ba,#3ccad1,#43c4dc,#45c4de,#3bc9d4,#59d0bf,#86d891,#a9d677,#96d885,#64d5b0,#42cbcd,#3fc7d9,#42c5dc,#3bc9d4,#4fcec6,#69d5aa,#7dd899,#74d7a0,#60d3b6,#4ecec6,#44cccb,#45cccb,#4bcec8,#51cec4,#51cec4,#4ccec7,#47cdca,#48cdc9,#52cec4,#63d4b1,#77d89e,#79d89c,#63d4b2,#47cdca,#3dc8d8,#45c4de,#3fc7d9,#49cdc9,#77d89e,#b4d56e,#bbd469,#85d892,#4ccec7,#42c5dc,#4fbfe5,#4ac2e1,#3dcbd0,#6ad5aa,#aed672,#bfd466,#93d887,#5ad1be,#3bc9d4,#45c4de,#42c5dc,#3ccbd1,#59d1be,#71d7a3,#79d89c,#69d5aa,#5ad1be,#4ccec7,#4acec8,#51cec4,#59d0be,#53cfc3,#40cbce,#42c5dc,#4cc1e3,#3fc6da,#5dd2ba,#a3d77b,#dcce59,#d2d05c,#77d89e,#4fbee5,#6a90ff,#727bf8,#6695fe,#3bc9d4,#d1d05c,#f7eb58,#f7f254,#eacb5d,#41cbcd,#7085fd,#6d60d1,#6f62d8,#5ea2f9,#7dd899,#fae15d,#fafa4c,#f7f056,#b2d56f,#56b6eb,#716fed,#6d5fd0,#7170ee,#56b6eb,#a1d77d,#fae25c,#fafa4c,#fadf5d,#a0d87e,#53b9e9,#727af7,#6e60d5,#7273f1,#59b0ef,#81d896,#fdd762,#fafa4c,#f7e959,#bfd466,#4ec0e4,#7279f6,#6d5fd0,#7167e3,#5cabf2,#8fd88a,#f8e65a,#fafa4c,#f7eb58,#9fd87e,#59aef0,#7167e4,#6d60d1,#727bf7,#44c4dd,#d5cf5a,#f7ed57,#f7f056,#e6cb5b,#4ecec6,#609dfc,#717cf8,#6e8afd,#54b7ea,#68d5ab,#c9d260,#dfcd59,#b0d671,#63d4b3,#3cc8d7,#4cc1e2,#45c4de,#3dcbd1,#51cec4,#59d0be,#53cfc3,#4bcec8,#4bcec8,#57d0c0,#66d5ad,#77d89d,#74d7a1,#5ed2ba,#40cbce,#41c6db,#46c4de,#3bc8d6,#52cec4,#88d88f,#bcd468,#b5d56d,#74d7a0,#42cccd,#48c3df,#4fbfe5,#46c4de,#45cccb)"></i><i style="background:linear-gradient(90deg,#4acdc8,#56cfc1,#5bd1bc,#59d0be,#53cfc3,#51cec4,#56d0c1,#5ed2b9,#63d4b3,#60d2b7,#51cec4,#41cbce,#3bc9d4,#3bc9d4,#43cccb,#60d2b7,#82d895,#98d883,#81d896,#5bd1bd,#3ccad2,#44c4dd,#45c4dd,#3bc9d3,#5bd1bd,#89d88f,#a9d777,#92d887,#63d4b3,#40cbce,#3fc7d9,#40c6db,#3bcad2,#50cec4,#6ad5aa,#7ad89c,#70d7a4,#5fd2b8,#4ecec6,#45cdcb,#47cdca,#4dcec7,#51cec4,#50cec5,#4acdc8,#45cccb,#47cdca,#54cfc3,#67d5ad,#7dd899,#7dd899,#63d4b3,#44cccb,#3fc7d9,#47c4df,#3fc7d8,#4bcec8,#7ed899,#b9d56a,#bbd469,#81d896,#49cdc9,#45c4dd,#4fbfe5,#49c3e0,#40cbce,#6ed6a5,#b0d571,#bad56a,#8ad88e,#56cfc1,#3bc8d5,#44c4dd,#3fc6da,#3fcbce,#5cd1bc,#6dd6a7,#6fd7a5,#63d4b2,#56cfc1,#4fcec6,#53cec4,#5dd2bb,#5ed2b9,#51cec4,#3bc8d5,#4fbee5,#53bae8,#42c5dc,#64d5b0,#c1d364,#f0ca62,#dcce59,#6dd6a6,#56b4ec,#7181fa,#7273f1,#6497fe,#4fcec6,#f0ca60,#f9f74f,#f8f353,#d7cf5a,#49c3e0,#7277f4,#6d5fd1,#7167e4,#58b1ee,#a9d777,#f7ed57,#fafa4c,#fbdf5d,#81d896,#5daaf3,#716cea,#6e61d5,#7183fc,#49c3df,#b4d56d,#fdda60,#f7e959,#fccb6a,#81d896,#53bae9,#6f88fd,#7274f1,#7183fc,#57b3ed,#6bd6a8,#f1ca63,#f8e75a,#fadf5d,#ccd25f,#3bcad2,#6d8cfe,#6f63da,#7167e3,#5f9ffb,#67d5ad,#fed563,#fafa4c,#f8f452,#cad260,#51bde7,#7170ee,#6d5fd1,#716deb,#54b8e9,#bad56a,#f7ed57,#fafa4c,#fdcc6a,#60d3b5,#5ea0fa,#7275f3,#727cf8,#5bacf1,#60d3b5,#d1d05c,#f2ca63,#ced15d,#6dd6a6,#3dc8d8,#52bbe8,#50bee6,#3ec7d8,#4ecec6,#5ed2ba,#5dd2ba,#54cfc2,#4fcec6,#54cfc2,#61d3b5,#6dd6a6,#6ed6a5,#5fd2b8,#42cccc,#3ec7d8,#44c4dd,#3cc8d7,#4fcec6,#80d897,#b7d56c,#b5d56d,#7ad89c,#45cccb,#46c4de,#4fbfe5,#48c3df,#42cccd)"></i><i style="background:linear-gradient(90deg,#4bcec8,#56cfc1,#5ad1bd,#58d0c0,#52cec4,#51cec4,#58d0c0,#60d2b7,#63d4b1,#60d2b7,#50cec4,#40cbce,#3bc9d5,#3bc9d4,#44cccb,#60d3b5,#85d892,#99d882,#80d896,#59d0be,#3bc9d3,#45c4dd,#45c4dd,#3ccad2,#5dd2ba,#8cd88d,#a8d777,#8fd889,#61d3b5,#3fcbce,#3fc7d9,#3fc6da,#3ccad2,#52cec4,#6ad5aa,#77d89d,#6dd6a6,#5dd2ba,#4dcec7,#47cdca,#49cdc8,#4fcec5,#52cec4,#4fcec6,#48cdca,#42cccc,#46cdca,#56cfc1,#6ad5aa,#81d896,#7ed898,#62d3b4,#42cbcd,#40c6db,#48c3df,#3ec7d8,#4ecec6,#84d893,#bdd467,#bad56a,#7bd89b,#45cccb,#46c4df,#4fbfe5,#47c4df,#42cccc,#74d7a0,#b1d571,#b5d56d,#82d895,#50cec4,#3bc8d5,#42c5dc,#3ec7d8,#42cccc,#5dd2ba,#6ad5aa,#69d5ab,#5fd2b7,#53cfc3,#51cec4,#5ad1bd,#62d3b4,#61d3b5,#4ecec7,#43c4dc,#54b8e9,#56b6eb,#41c5db,#71d7a3,#dace59,#fccb6a,#dcce59,#62d3b4,#5da9f4,#7275f3,#716fed,#5f9efb,#63d4b2,#fed166,#fafa4c,#f7ee56,#b4d56e,#56b4ec,#7169e6,#6d5fd0,#7274f3,#4bc1e1,#d6cf5a,#f8f552,#fafa4c,#facb6a,#5cd1bc,#609bfd,#716dec,#7171ef,#5f9ffb,#4ecec7,#c5d263,#fece68,#fece68,#cdd15e,#64d5b0,#51bde7,#5f9efb,#6b8fff,#619afd,#55b7ea,#5dd2bb,#bed467,#fccb6a,#fed067,#d5cf5a,#5ed2ba,#5da7f5,#7275f3,#716be9,#6a91ff,#43cccc,#e9cb5d,#f9f84f,#fafa4c,#edcb5f,#3ccad2,#717ffa,#6d5fd0,#6f63d9,#5da8f4,#90d889,#f8e65a,#fafa4c,#fddc5f,#79d89c,#5da9f4,#7273f1,#7171f0,#5ea0fa,#55cfc2,#ced15d,#fbcb6a,#e4cc5a,#81d896,#3bc8d5,#55b7ea,#55b7ea,#49c3df,#48cdca,#60d2b7,#63d4b3,#5dd2bb,#52cec4,#52cec4,#5dd2ba,#67d5ad,#6ad6a9,#60d2b7,#46cdcb,#3cc8d7,#42c5dc,#3cc8d7,#4bcec8,#78d89d,#b0d571,#b6d56d,#7fd897,#49cdc8,#44c4dd,#4fbfe5,#49c2e0,#3fcbce)"></i><i style="background:linear-gradient(90deg,#4ccec8,#56cfc1,#5ad1be,#57d0c1,#51cec4,#51cec4,#58d0bf,#60d3b6,#64d4b0,#60d2b7,#4fcec5,#3fcbce,#3bc8d5,#3bc9d4,#45cccb,#62d3b4,#88d890,#9ad881,#7ed898,#57d0c0,#3bc9d4,#45c4de,#44c4dd,#3ccad2,#5fd2b8,#8ed88b,#a8d777,#8dd88c,#5fd2b7,#3fcbcf,#3fc7d9,#3fc6d9,#3ccbd1,#54cfc2,#6ad6aa,#76d89f,#6ad6a9,#5dd2bb,#4dcec7,#48cdc9,#4bcec8,#50cec5,#52cec4,#4ecec6,#46cdcb,#42cccd,#46cdca,#58d0c0,#6cd6a7,#85d892,#7ed898,#60d3b6,#40cbce,#42c5dc,#49c3df,#3dc8d8,#51cec4,#8ad88e,#c0d366,#b8d56b,#75d7a0,#42cbcd,#49c3df,#4fbfe5,#45c4de,#46cdca,#7ad89c,#b3d56f,#b1d571,#7bd89b,#4ecec7,#3bc8d6,#42c5dc,#3cc8d7,#45cccb,#5ed2b9,#68d5ab,#65d5af,#5dd2bb,#52cec4,#54cfc2,#5fd2b8,#66d5ae,#62d3b4,#48cdca,#4cc1e2,#57b4ed,#56b4ec,#3cc8d7,#84d893,#eacb5d,#fece68,#d3d05b,#54cfc2,#609cfc,#716deb,#7171ef,#5da9f3,#81d896,#fae05d,#fafa4c,#f9e35b,#83d894,#5ea2f9,#6e60d2,#6d5fd0,#7087fd,#4fcec5,#faca6a,#fafa4d,#f7ee56,#cbd260,#42c5dc,#6e8bfe,#7272f0,#7088fd,#53bae9,#71d7a3,#d3d05b,#ebcb5d,#ccd15e,#80d896,#4bcec8,#4ec0e4,#56b4ec,#58b0ef,#57b3ed,#4fbee6,#41cbcd,#74d7a0,#c3d363,#e9cb5d,#dcce59,#81d896,#4cc1e3,#6c8ffe,#7273f1,#7184fc,#50bde6,#add673,#f8e65a,#fafa4c,#fed265,#63d4b2,#6794fe,#6d5fd0,#6d5fd0,#6795fe,#67d5ad,#fdd860,#fafa4c,#f7ea59,#a3d77b,#56b4ec,#7276f3,#716ae7,#6992ff,#3ecbd0,#c1d364,#fecd69,#f3ca63,#97d884,#3dcbd0,#56b7ea,#57b2ed,#4fbfe5,#41cbce,#60d2b7,#66d5ae,#60d2b7,#56cfc1,#52cec4,#5ad1bd,#63d4b0,#69d5ab,#60d3b6,#49cdc8,#3bc8d5,#42c5dc,#3dc8d8,#48cdc9,#71d7a3,#acd674,#b6d56d,#85d892,#4dcec7,#42c5dc,#4ebfe4,#4ac2e1,#3dcbd1)"></i><i style="background:linear-gradient(90deg,#4ccec8,#56cfc1,#59d1be,#56cfc1,#51cec4,#51cec4,#59d0be,#60d3b5,#64d5b0,#60d2b7,#4fcec5,#3fcbcf,#3bc8d5,#3bc9d4,#46cdcb,#63d4b2,#8ad88f,#9ad881,#7cd89a,#55cfc2,#3bc9d5,#45c4de,#44c4dc,#3dcbd1,#60d3b6,#90d889,#a8d777,#8ad88e,#5dd2ba,#3ecbd0,#3fc6d9,#3fc7d9,#3ecbd0,#56cfc1,#6bd6a8,#76d79f,#6ad5aa,#5bd1bc,#4ccec7,#48cdc9,#4ccec8,#50cec4,#52cec4,#4dcec7,#45cccb,#42cbcd,#47cdca,#59d0be,#6ed6a5,#85d892,#7dd899,#5fd2b8,#3ecbcf,#43c4dc,#48c3df,#3cc8d6,#56cfc1,#90d889,#c2d364,#b5d56d,#6fd7a5,#3fcbce,#49c2e0,#4fbfe5,#43c4dc,#4acec8,#80d896,#b4d56d,#add673,#74d7a0,#4acdc8,#3cc8d7,#41c5dc,#3bc8d5,#49cdc9,#60d2b7,#68d5ac,#63d4b1,#5ad1bd,#52cec4,#56cfc1,#60d3b6,#67d5ad,#60d3b5,#42cbcd,#4fbee5,#58b1ed,#56b5eb,#3ccad1,#97d884,#f4ca64,#fece68,#c3d364,#3ccbd1,#6a90ff,#7169e6,#7276f3,#56b6eb,#acd674,#f7ed57,#fafa4c,#fed563,#5fd2b7,#6d8dfe,#6d5fd0,#6d5fd0,#5f9ffb,#77d89e,#fddc5f,#fafa4c,#fdda60,#81d896,#59b0ef,#717df9,#727bf7,#5da3f8,#4ccec7,#add673,#dece59,#c6d262,#7bd89b,#49cdc9,#45c4dd,#47c4df,#3dc8d8,#3bcad2,#3bc8d6,#46c4de,#46c4df,#41cbce,#70d7a4,#bdd467,#dfcd59,#bbd469,#5cd1bc,#5babf2,#717ef9,#727af7,#5da6f6,#68d5ab,#fed067,#fafa4c,#f9e55b,#99d883,#5cabf2,#6f63dc,#6d5fd0,#7181fb,#45cccb,#facb6a,#fafa4c,#f8f552,#ccd15f,#4ec0e4,#717df9,#7167e3,#7087fd,#45c4dd,#add673,#fdcc6a,#faca6a,#abd674,#49cdc9,#54b8e9,#58b0ee,#51bce7,#3ccad1,#5fd2b8,#67d5ad,#62d3b4,#58d0bf,#51cec4,#59d0be,#63d4b3,#68d5ac,#61d3b4,#4ccec8,#3bc9d4,#41c6db,#3ec7d8,#45cccb,#6bd6a8,#a7d778,#b7d56c,#8bd88e,#51cec4,#3fc6da,#4ec0e4,#4cc1e2,#3ccad2)"></i><i style="background:linear-gradient(90deg,#4ccec7,#57d0c1,#5ad1be,#56cfc1,#51cec4,#51cec4,#59d0be,#60d3b5,#64d4b0,#5fd2b7,#4ecec6,#3fcbcf,#3bc8d5,#3bc9d3,#48cdca,#64d5b0,#8bd88d,#99d882,#7ad89c,#52cec4,#3bc8d5,#46c4de,#43c5dc,#3ecbd0,#62d3b4,#93d887,#a8d777,#88d890,#5cd1bc,#3ccbd1,#3fc6da,#3fc7d9,#3fcbcf,#58d0bf,#6dd6a6,#76d89f,#69d5ab,#5ad1be,#4ccec8,#48cdca,#4bcec8,#50cec4,#52cec4,#4dcec7,#45cccb,#42cccd,#48cdc9,#5bd1bd,#70d7a3,#85d892,#7bd89b,#5dd2bb,#3ccbd1,#44c4dd,#48c4df,#3bc8d5,#59d1be,#96d885,#c3d363,#b0d571,#6ad5aa,#3ccbd1,#4ac2e1,#4ebfe4,#41c5dc,#4ecec6,#86d891,#b7d56c,#aad675,#6fd7a5,#46cdca,#3ec7d8,#42c5dc,#3bc8d5,#4bcec8,#61d3b5,#69d5aa,#63d4b1,#5ad1be,#51cec4,#56d0c1,#60d3b6,#66d5ae,#5ed2b8,#3ecbd0,#50bee6,#57b2ed,#54b9e9,#48cdc9,#a7d777,#f7ca67,#fbcb6a,#aad675,#45c4de,#7088fd,#7168e5,#717ffa,#4ac2e1,#d2d05b,#f9f651,#fafa4c,#f3ca63,#3bc9d3,#727bf7,#6d5fd0,#7168e4,#56b4ec,#b8d56b,#f7ee56,#fafa4d,#f5ca66,#51cec4,#6696fe,#7272f0,#7185fd,#51bce7,#85d892,#e5cc5a,#e5cc5a,#95d885,#42cbcd,#54b9e9,#55b7ea,#3ec7d8,#60d3b5,#75d7a0,#64d5b0,#3bc9d4,#53b9e9,#55b7ea,#3bc9d4,#84d893,#dece59,#e9cb5d,#9ad881,#47c4df,#6d8cfe,#7171f0,#6d8cfe,#3bc9d4,#e2cd59,#f8f551,#f8f453,#d6cf5a,#4ec0e4,#7171ef,#6d5fd0,#7171ef,#4cc1e3,#dcce59,#fafa4d,#fafa4c,#ebcb5d,#3bcad2,#6f88fd,#7168e5,#7180fa,#51bce7,#92d888,#f7ca67,#fbcb6a,#bad56a,#56d0c1,#52bbe8,#57b2ed,#52bbe8,#3bc9d4,#5cd1bc,#65d5af,#62d3b4,#58d0bf,#51cec4,#58d0bf,#62d4b3,#69d5aa,#63d4b2,#4fcec6,#3bc9d3,#41c6db,#3fc7d9,#42cbcd,#67d5ad,#a3d77b,#b9d56a,#91d888,#56d0c1,#3ec7d8,#4ec0e4,#4cc1e3,#3bc9d4)"></i><i style="background:linear-gradient(90deg,#4ccec7,#57d0c0,#5ad1bd,#57d0c1,#51cec4,#51cec4,#59d0be,#60d3b6,#63d4b1,#5ed2b8,#4ecec7,#3ecbcf,#3bc8d5,#3bc9d3,#49cdc9,#65d5af,#8cd88c,#98d884,#77d89e,#50cec5,#3bc8d5,#46c4df,#42c5dc,#3fcbce,#63d4b1,#96d885,#a8d777,#85d892,#59d1be,#3ccad2,#40c6da,#3fc7d9,#3fcbce,#5ad1be,#6fd6a5,#77d89d,#69d5ab,#59d1be,#4bcec8,#47cdca,#4acec8,#50cec5,#52cec4,#4ecec7,#46cdcb,#43cccc,#49cdc8,#5cd1bc,#71d7a3,#84d893,#77d89e,#5ad1be,#3ccad2,#44c4dd,#46c4df,#3bc9d4,#5dd2ba,#9ad881,#c3d364,#acd674,#65d5af,#3bcad2,#4cc1e2,#4ec0e4,#3fc6da,#52cec4,#8dd88c,#bad56a,#a9d777,#6ad6a9,#43cccc,#3fc7d9,#42c5dc,#3bc9d5,#4dcec7,#63d4b1,#6cd6a7,#65d5af,#5ad1bd,#50cec4,#54cfc2,#5ed2b9,#63d4b3,#5bd1bc,#3ccbd1,#4fbee5,#56b6eb,#50bee6,#55cfc1,#b1d571,#f5ca66,#f1ca62,#8ed88b,#50bde6,#7183fc,#716cea,#6d8cfe,#3fcbcf,#edcb5e,#fafa4c,#f9f651,#d0d05d,#51bce7,#716deb,#6d5fd0,#7276f4,#3fc6da,#eccb5d,#fafa4c,#f8f452,#ccd25f,#4fbfe5,#727bf7,#716ae6,#6a92ff,#46cdcb,#d4cf5a,#fed265,#e8cb5c,#69d5aa,#56b7ea,#609cfc,#5da8f4,#3ccad2,#93d887,#cbd25f,#a2d77b,#4acec8,#5aadf0,#609bfd,#58b0ee,#5ed2b9,#dbce59,#fed265,#e4cc5a,#5dd2bb,#609cfc,#716ce9,#7275f3,#56b4ec,#acd674,#f7ed57,#fafa4c,#fdcc6a,#4bcec8,#7181fb,#6d5fd0,#7064df,#58b0ef,#b0d571,#f7ef56,#fafa4c,#fdcc6a,#59d0be,#6596fe,#716dec,#717cf8,#56b4ec,#78d89d,#e9cb5d,#f9ca69,#c1d365,#5fd2b8,#4dc1e3,#56b6eb,#51bde7,#3bc9d5,#58d0bf,#62d4b4,#5fd2b7,#56cfc1,#50cec4,#59d0bf,#63d4b1,#6cd6a7,#65d5af,#51cec4,#3bcad2,#41c5dc,#40c6db,#3fcbce,#64d4b0,#a0d77d,#bbd469,#98d883,#5cd1bc,#3cc8d7,#4dc0e3,#4dc1e3,#3bc8d5)"></i><i style="background:linear-gradient(90deg,#4dcec7,#58d0bf,#5cd1bc,#58d0bf,#52cec4,#51cec4,#59d0bf,#60d2b7,#63d4b3,#5dd2ba,#4dcec7,#3ecbcf,#3bc9d5,#3ccad2,#4acec8,#67d5ad,#8cd88c,#96d885,#74d7a0,#4fcec6,#3bc8d6,#46c4df,#42c5dc,#40cbce,#65d5af,#98d883,#a8d777,#83d894,#58d0c0,#3bcad2,#41c6db,#3fc7d9,#40cbce,#5cd1bc,#71d7a3,#7ad89c,#69d5aa,#59d0be,#49cdc8,#45cccb,#49cdc9,#4fcec5,#52cec4,#4fcec6,#48cdca,#45cccb,#4bcec8,#5dd2bb,#6fd7a4,#80d896,#72d7a2,#57d0c0,#3ccad2,#44c4dd,#45c4dd,#3ccad2,#60d2b7,#9ed87f,#c1d364,#a6d778,#62d4b4,#3bc9d4,#4cc1e3,#4ec0e4,#3ec7d8,#58d0c0,#95d885,#bed467,#a7d778,#67d5ad,#40cbce,#41c5db,#43c4dc,#3bc9d4,#4fcec5,#67d5ad,#72d7a2,#68d5ac,#5cd1bc,#4fcec5,#4fcec5,#59d0bf,#5ed2b9,#57d0c0,#3dcbd0,#4bc1e2,#52bbe8,#49c3e0,#5dd2ba,#b2d56f,#edcb5e,#dfcd59,#74d7a0,#55b7ea,#7182fb,#7274f2,#609bfd,#5bd1bd,#fbcb6a,#fafa4c,#f7e959,#a3d77b,#5aadf1,#6f63dc,#6d5fd1,#7086fd,#59d0be,#fed463,#fafa4c,#f7ec57,#96d884,#5da9f4,#7167e3,#7065df,#5ea0fa,#6dd6a6,#fed067,#f8e65a,#e8cb5c,#50cec4,#609bfc,#717ef9,#619afd,#45cccb,#ced15d,#fece67,#dece59,#5bd1bd,#5ea3f9,#717efa,#6893fe,#3bc9d3,#d5cf5a,#f9e35b,#fdd762,#8bd88e,#5babf2,#716ae7,#6f63dc,#609cfc,#74d7a0,#fae25d,#fafa4c,#fadf5d,#6bd6a8,#6794fe,#6d5fd1,#6d60d1,#5ea0fa,#80d896,#fae05d,#fafa4c,#fed463,#6ad5aa,#5da4f7,#7277f4,#717df9,#59aff0,#65d5b0,#d5cf5a,#efcb60,#c0d366,#63d4b1,#43c5dc,#52bbe8,#4dc0e3,#3bc9d3,#54cfc2,#5ed2b9,#5ad1be,#50cec5,#4fcec6,#59d0be,#66d5ae,#71d7a3,#6ad5aa,#54cfc2,#3ccad2,#42c5dc,#42c5dc,#3ccbd1,#61d3b4,#9ed87e,#bed467,#a0d87e,#5fd2b7,#3bc8d5,#4dc1e3,#4dc0e3,#3cc8d7)"></i><i style="background:linear-gradient(90deg,#4dcec7,#59d0be,#5dd2ba,#59d1be,#53cfc3,#52cec4,#58d0c0,#5fd2b8,#61d3b5,#5dd2bb,#4ccec7,#3fcbcf,#3bc9d4,#3ccad2,#4ccec8,#67d5ad,#8bd88d,#92d887,#71d7a3,#4dcec7,#3cc8d7,#46c4de,#41c6db,#42cbcd,#67d5ad,#9bd881,#a8d777,#81d896,#55cfc1,#3bc9d4,#42c5dc,#3fc7d9,#40cbce,#5dd2ba,#75d7a0,#7dd899,#6ad6aa,#58d0bf,#48cdc9,#43cccc,#47cdca,#4ecec6,#52cec4,#4fcec5,#4acdc8,#47cdca,#4ccec7,#5dd2bb,#6dd6a6,#7bd89b,#6dd6a6,#54cfc2,#3ccad2,#42c5dc,#42c5dc,#3ccbd1,#62d3b4,#a0d87e,#bfd466,#a0d87e,#5fd2b8,#3bc8d5,#4dc1e3,#4dc0e3,#3cc8d7,#5dd2bb,#9dd87f,#c1d365,#a6d779,#64d5b0,#3dcbd0,#44c4dd,#45c4de,#3bc9d4,#52cec4,#6dd6a6,#7bd89b,#6dd6a6,#5dd2bb,#4dcec7,#49cdc9,#4fcec5,#57d0c0,#53cfc3,#41cbce,#41c6db,#4ac2e1,#3dc8d8,#60d3b7,#aad676,#dbce59,#c5d263,#63d4b1,#56b4ec,#7087fd,#7180fa,#5da9f3,#68d5ab,#fece68,#f8f552,#fdda60,#79d89c,#5ea0fa,#6e60d3,#6d60d1,#6399fd,#74d7a0,#f9e45b,#fafa4c,#fae05d,#6ad6aa,#6892ff,#6d5fd0,#7064dd,#5bacf1,#a3d77b,#f7e959,#f8f452,#e4cc5a,#3ec7d8,#7181fb,#7168e4,#6c8ffe,#51cec4,#f3ca63,#f7ea58,#fecd69,#63d4b2,#619afd,#716ae7,#7279f7,#4fbee6,#cbd260,#f7f056,#f7f056,#c5d263,#54b8e9,#716be9,#6d5fd0,#7085fd,#58d0c0,#fed463,#fafa4c,#f7ef56,#98d883,#5da6f7,#6e61d7,#6d60d1,#6892ff,#62d4b4,#fed067,#f8f552,#fdd861,#81d896,#58b2ed,#7183fc,#7183fc,#5aadf1,#5ad1bd,#bad56a,#dcce59,#b6d56d,#66d5ae,#3bc9d5,#4ac2e1,#43c4dc,#3ecbcf,#51cec4,#58d0c0,#50cec4,#49cdc8,#4ccec8,#5ad1be,#6ad5aa,#7bd89b,#71d7a3,#59d0bf,#3ccad2,#44c4dd,#45c4de,#3bc9d3,#5fd2b8,#9cd880,#c1d365,#a6d778,#63d4b3,#3bc9d4,#4cc1e3,#4ec0e4,#3ec7d8)"></i><i style="background:linear-gradient(90deg,#4dcec7,#5ad1be,#5ed2b9,#5cd1bc,#55cfc1,#52cec4,#56cfc1,#5dd2ba,#60d2b7,#5bd1bd,#4ccec7,#3fcbce,#3bc9d3,#3dcbd1,#4dcec7,#67d5ad,#89d88f,#8fd88a,#6dd6a6,#4ccec8,#3cc8d7,#45c4de,#40c6da,#43cccc,#69d5aa,#9dd87f,#a8d777,#7fd898,#52cec4,#3bc9d5,#42c5dc,#3fc7d9,#41cbce,#5fd2b7,#7ad89c,#81d896,#6bd6a8,#57d0c0,#45cdcb,#41cbce,#44cccb,#4dcec7,#53cec3,#52cec4,#4dcec7,#4acdc8,#4ecec6,#5dd2bb,#6ad5aa,#74d7a0,#69d5ab,#51cec4,#3ccad2,#41c5db,#40c6db,#3fcbcf,#63d4b1,#a0d87e,#bbd469,#98d883,#5cd1bc,#3cc8d7,#4dc0e3,#4dc1e3,#3bc8d5,#60d2b7,#a4d77a,#c4d263,#a4d77a,#62d3b4,#3ccad2,#47c4df,#47c4df,#3bc9d4,#57d0c1,#76d79f,#86d891,#74d7a1,#5dd2ba,#49cdc9,#42cbcd,#46cdcb,#4fcec5,#52cec4,#49cdc9,#3ccad2,#3cc8d7,#3ecbd0,#61d3b5,#97d884,#bfd466,#a4d77a,#5bd1bd,#56b5ec,#6992ff,#6b8fff,#56b6eb,#79d89c,#fece68,#f7ea59,#fbcb6a,#61d3b4,#6398fd,#6f62d7,#7066e1,#5da9f4,#99d883,#f7ed57,#fafa4c,#fed364,#56cfc1,#7182fc,#6d5fd0,#7167e3,#55b7ea,#ced15d,#faf94e,#fafa4c,#dcce59,#4fbee6,#7170ee,#6d5fd0,#6f88fd,#59d0be,#fed266,#fafa4c,#fcdc5f,#6ad6a9,#6695fe,#6d5fd0,#7168e4,#57b2ed,#bed467,#f8f651,#fafa4c,#e9cb5d,#49c3e0,#7170ef,#6d5fd0,#7277f5,#3bc8d5,#f7ca67,#fafa4c,#f9f651,#bdd467,#56b4ec,#716cea,#6e60d2,#6e8cfe,#4ecec6,#edcb5f,#f7e959,#fed563,#93d887,#50bde6,#6893fe,#6c8ffe,#59aff0,#4ecec6,#99d882,#c0d366,#a1d77d,#65d5af,#41cbcd,#3cc8d7,#3bc9d3,#46cdcb,#51cec4,#50cec5,#47cdca,#42cccd,#47cdca,#5ad1be,#6fd7a5,#85d892,#7bd89b,#5dd2bb,#3ccad2,#45c4de,#49c3df,#3bc8d5,#5cd1bc,#99d882,#c4d263,#add673,#66d5ad,#3ccad2,#4cc1e2,#4ec0e4,#3fc6da)"></i><i style="background:linear-gradient(90deg,#4dcec7,#5cd1bc,#60d2b7,#5dd2ba,#57d0c1,#52cec4,#54cfc2,#5bd1bd,#5ed2ba,#59d1be,#4ccec7,#40cbce,#3ccad2,#3fcbcf,#4ecec6,#67d5ac,#87d891,#8bd88d,#6ad6a9,#4acec8,#3cc8d7,#45c4de,#3fc6d9,#45cccb,#6bd6a8,#9fd87e,#a7d777,#7dd899,#50cec5,#3bc8d5,#44c4dd,#3fc6d9,#42cbcd,#61d3b5,#7fd897,#86d892,#6dd6a6,#56cfc1,#43cccc,#3fcbcf,#42cbcd,#4ccec8,#54cfc2,#56d0c1,#51cec4,#4ecec7,#4fcec5,#5bd1bd,#66d5ae,#6dd6a6,#65d5b0,#50cec5,#3ccad2,#3fc6d9,#3ec7d8,#42cbcd,#65d5af,#9ed87e,#b5d56d,#8fd889,#58d0c0,#3dc8d8,#4dc0e3,#4cc1e3,#3bc9d4,#63d4b2,#abd675,#c8d261,#a2d77b,#5fd2b8,#3bc9d5,#49c2e0,#49c3df,#3bc9d4,#5bd1bd,#81d896,#93d886,#7bd89a,#5dd2ba,#44cccb,#3ccad1,#3fcbcf,#49cdc9,#52cec4,#52cec4,#49cdc8,#42cccd,#48cdc9,#5fd2b8,#7ed899,#99d882,#82d895,#51cec4,#53bae9,#5ea2fa,#5ea2f9,#4dc0e3,#82d895,#f8ca68,#fdd960,#e0cd59,#51cec4,#6596fe,#7169e6,#7275f3,#56b6eb,#b1d570,#f7ee56,#fafa4c,#f5ca66,#3ccad2,#727bf7,#6d60d1,#716eed,#4dc1e3,#e5cc5a,#fafa4c,#fafa4c,#d1d05c,#55b7ea,#7167e2,#6d5fd0,#7086fd,#5dd2ba,#fdd960,#fafa4c,#f8e65a,#73d7a1,#6794fe,#6d5fd0,#6e60d4,#5caaf3,#add674,#f8f552,#fafa4c,#facb6a,#3bc9d3,#7279f6,#6d60d1,#7171ef,#4cc1e3,#dfcd59,#faf94e,#f8f552,#d1d05c,#4dc1e3,#717cf8,#7167e3,#6e8cfe,#3bcad3,#ced15d,#fdd861,#fecd69,#99d882,#42c5dc,#5da5f7,#5ea0fa,#56b5eb,#45cccb,#7bd89b,#99d882,#84d893,#62d3b4,#4bcec8,#42cbcd,#48cdc9,#51cec4,#53cfc3,#4bcec8,#3fcbce,#3ccad2,#42cccd,#59d0be,#75d7a0,#92d888,#87d891,#60d2b7,#3ccbd1,#47c4df,#4ac2e1,#3cc8d7,#58d0c0,#96d884,#c6d262,#b4d56e,#6ad6a9,#3dcbd1,#4ac2e1,#4ec0e4,#40c6db)"></i><i style="background:linear-gradient(90deg,#4dcec7,#5dd2ba,#62d4b4,#60d2b7,#59d0bf,#51cec4,#51cec4,#58d0c0,#5bd1bd,#58d0bf,#4dcec7,#42cbcd,#3dcbd1,#40cbce,#4fcec5,#67d5ad,#84d893,#86d892,#68d5ac,#49cdc9,#3cc8d7,#44c4dd,#3ec7d8,#47cdca,#6dd6a6,#a0d87d,#a6d778,#7bd89c,#4fcec6,#3cc8d7,#45c4de,#3fc6da,#42cccd,#63d4b2,#85d892,#8bd88d,#6fd7a5,#55cfc1,#41cbcd,#3ccad2,#3fcbce,#4acdc8,#56cfc1,#5bd1bd,#58d0c0,#51cec4,#50cec4,#59d0be,#62d3b4,#67d5ad,#61d3b4,#4fcec5,#3ccbd1,#3dc8d8,#3bc8d6,#44cccb,#66d5ae,#9ad881,#add673,#87d891,#53cec3,#3ec7d8,#4dc1e3,#4ac2e1,#3ccad2,#67d5ad,#b0d571,#c8d260,#9fd87e,#5cd1bc,#3cc8d7,#4cc1e2,#4ac2e1,#3bc9d3,#5fd2b8,#8ed88b,#a2d77c,#83d894,#5dd2bb,#40cbce,#3bc8d5,#3bc9d4,#44cccb,#55cfc1,#5dd2ba,#5bd1bd,#52cec4,#4fcec5,#59d1be,#66d5ae,#73d7a2,#69d5ab,#4ccec7,#4cc1e3,#57b3ed,#56b4ec,#3dc8d8,#80d896,#e3cc59,#f7ca67,#bad469,#41cbce,#609cfc,#7278f5,#7087fd,#4cc1e3,#bbd469,#f8e65a,#f7ee56,#dcce59,#42c5dc,#727bf7,#6e60d2,#727bf7,#3fc7d9,#edcb5f,#fafa4c,#f8f551,#bfd466,#57b3ed,#7066e0,#6d60d1,#6f89fd,#60d2b7,#fdda60,#fafa4c,#f8e65a,#77d89e,#6397fd,#6d60d1,#6e60d3,#5da6f7,#9ad881,#f7ed57,#fafa4c,#fecd69,#4ccec8,#7185fc,#6e60d2,#7272f0,#52bbe8,#c1d365,#f7e959,#f7ec58,#d5cf5a,#3cc8d7,#6c8ffe,#7277f4,#6893fe,#3fc7d9,#a7d777,#f3ca64,#eacb5d,#92d888,#3ccbd1,#56b6eb,#58b1ed,#4fbee5,#44cccb,#66d5ae,#73d7a1,#68d5ab,#5cd1bc,#50cec4,#51cec4,#59d1be,#5dd2ba,#57d0c0,#46cdca,#3bcad2,#3bc8d5,#3ecbd0,#57d0c0,#7bd89a,#a0d87e,#94d886,#63d4b1,#3dcbd0,#48c3df,#4cc1e3,#3fc7d9,#52cec4,#92d887,#c7d262,#b8d56b,#70d7a4,#3fcbce,#49c3e0,#4dc0e3,#41c6db)"></i><i style="background:linear-gradient(90deg,#4dcec7,#5fd2b8,#64d5b0,#62d3b4,#5ad1bd,#51cec4,#4fcec5,#53cfc3,#58d0c0,#56cfc1,#4ecec7,#43cccc,#3fcbcf,#42cccd,#50cec4,#66d5ad,#7fd897,#81d896,#65d5af,#48cdc9,#3cc8d7,#43c4dc,#3dc8d8,#49cdc9,#6fd7a4,#a1d77d,#a5d779,#77d89d,#4ccec7,#3dc8d8,#46c4df,#3fc6da,#43cccc,#65d5af,#8cd88d,#91d888,#71d7a3,#53cfc3,#3fcbcf,#3bc9d3,#3dcbd1,#49cdc9,#59d0bf,#5fd2b7,#5dd2ba,#57d0c1,#52cec4,#56cfc1,#5dd2ba,#61d3b4,#5ed2b9,#4fcec6,#3fcbcf,#3bc8d5,#3bc9d4,#48cdca,#66d5ae,#93d887,#a3d77b,#7ed898,#4fcec5,#3ec7d8,#4cc1e3,#49c3e0,#3dcbd0,#6ad5aa,#b4d56e,#c8d260,#9ad881,#58d0c0,#3ec7d8,#4dc0e3,#4bc1e1,#3bcad2,#63d4b3,#9cd881,#afd672,#89d88f,#5bd1bd,#3ccad2,#3fc7d9,#3dc8d8,#41cbce,#59d0be,#66d5ae,#67d5ad,#5fd2b8,#54cfc2,#50cec5,#57d0c1,#5dd2ba,#5dd2ba,#4dcec7,#3bc8d6,#4bc1e1,#4ac2e1,#41cbce,#74d7a0,#bdd468,#cdd15e,#91d888,#3ccad1,#5da7f5,#6c8efe,#5f9efb,#3dc8d8,#b5d56d,#fed662,#fdd861,#bad56a,#49c3e0,#7183fc,#716ae7,#6e8afd,#3ecbd0,#e9cb5d,#f8f353,#f8e759,#aad676,#57b3ed,#716deb,#6e60d5,#6a92ff,#60d3b6,#fed364,#fafa4c,#fbde5e,#76d89f,#5f9ffb,#6f63dc,#7167e2,#5da6f6,#87d890,#fbdf5d,#f9f651,#facb6a,#58d0bf,#6794fe,#716be9,#717cf8,#53bae9,#9ed87e,#fed463,#fdda60,#cbd25f,#43cccc,#5da3f8,#6d8efe,#5ea2f9,#3fc6da,#82d895,#c9d260,#c4d363,#80d896,#49cdc9,#48c3df,#4cc1e2,#3ec7d8,#49cdc9,#5cd1bc,#5ed2b9,#58d0bf,#50cec4,#53cec4,#5dd2ba,#66d5ae,#67d5ad,#5dd2bb,#44cccb,#3bc8d6,#3fc6da,#3bc9d3,#54cfc2,#81d896,#add674,#a3d77b,#69d5ab,#3fcbcf,#49c3e0,#4ec0e4,#41c5dc,#4fcec6,#8ed88b,#c5d262,#bad469,#74d7a0,#42cbcd,#46c4df,#4cc1e3,#41c6db)"></i><i style="background:linear-gradient(90deg,#4dcec7,#60d3b6,#68d5ac,#64d5b0,#5dd2bb,#50cec4,#4dcec7,#4fcec5,#53cfc3,#54cfc2,#4fcec6,#46cdcb,#42cbcd,#44cccb,#51cec4,#65d5b0,#7ad89c,#7bd89b,#63d4b2,#48cdca,#3bc8d6,#42c5dc,#3bc8d6,#4bcec8,#71d7a3,#a0d77d,#a3d77b,#74d7a0,#4bcec8,#3ec7d8,#47c4df,#3fc6da,#44cccb,#67d5ac,#92d888,#96d885,#72d7a2,#51cec4,#3ccbd1,#3bc8d5,#3ccad2,#48cdca,#5bd1bd,#63d4b1,#63d4b3,#5cd1bc,#53cec4,#51cec4,#56d0c1,#5cd1bc,#5ad1be,#4fcec6,#42cbcd,#3ccad2,#3ccbd1,#4bcec8,#65d5af,#8ad88e,#96d885,#74d7a0,#4ecec6,#3ec7d8,#4ac2e1,#45c4de,#40cbce,#6dd6a6,#b4d56e,#c4d263,#94d886,#53cec4,#40c6da,#4ec0e4,#4bc1e2,#3ccad2,#67d5ad,#a8d777,#bad56a,#8ed88b,#59d0bf,#3bc9d5,#45c4dd,#40c6db,#3fcbce,#5dd2ba,#74d7a0,#7ad89c,#67d5ad,#56cfc1,#47cdca,#44cccb,#49cdc8,#50cec4,#51cec4,#49cdc9,#3fcbcf,#3dcbd0,#4ccec8,#65d5af,#88d88f,#93d887,#6fd7a5,#3fcbcf,#55b7ea,#5daaf3,#57b3ed,#41cbce,#a0d87e,#efcb60,#eecb5f,#94d886,#48c3df,#6795fe,#7181fb,#5f9ffb,#49cdc9,#d8ce59,#fbdf5d,#fed265,#91d888,#56b6eb,#717df8,#7272f0,#5f9ffa,#60d2b7,#f7ca68,#f7ea59,#fecf67,#71d7a3,#5da9f4,#7275f3,#7277f5,#5aadf1,#76d79f,#fdcc6a,#fae15d,#e9cb5d,#5dd2ba,#5da6f6,#7182fb,#6c8ffe,#51bde7,#7ed898,#e7cb5c,#f3ca63,#b2d570,#50cec5,#56b7eb,#5da9f3,#56b4ec,#3bc8d5,#68d5ac,#91d888,#8dd88c,#6ad5aa,#50cec5,#3ecbcf,#3ecbd0,#46cdca,#50cec5,#51cec4,#4bcec8,#44cccb,#45cdcb,#53cec4,#64d5b0,#78d89d,#77d89d,#61d3b5,#42cccc,#3fc7d9,#45c4dd,#3bc8d6,#50cec4,#84d893,#b7d56c,#afd671,#6fd7a4,#40cbce,#49c3e0,#4fbfe5,#43c4dc,#4ccec8,#88d890,#c1d364,#bad569,#78d89c,#45cccb,#43c5dc,#4bc2e1,#40c6da)"></i><i style="background:linear-gradient(90deg,#4ecec6,#62d4b4,#6cd6a7,#68d5ac,#5dd2ba,#4fcec5,#4acec8,#4ccec8,#4fcec5,#52cec4,#4fcec5,#4acdc8,#45cccb,#47cdca,#52cec4,#63d4b2,#73d7a1,#74d7a1,#61d3b4,#47cdca,#3bc8d5,#40c6da,#3bc8d5,#4ccec7,#71d7a3,#9fd87e,#a0d87e,#71d7a3,#49cdc9,#3fc7d9,#48c3df,#3fc6da,#45cccb,#6ad6a9,#98d883,#9cd881,#74d7a1,#4fcec5,#3bcad2,#3dc8d8,#3bc9d4,#47cdca,#5dd2ba,#69d5aa,#68d5ab,#60d2b7,#53cfc3,#4dcec7,#4fcec6,#53cfc3,#56cfc1,#4fcec5,#46cdca,#40cbce,#41cbce,#4dcec7,#63d4b1,#7fd897,#88d890,#6cd6a7,#4ccec8,#3cc8d7,#47c4df,#42c5dc,#42cccc,#6fd7a4,#b1d571,#bfd467,#8cd88c,#4fcec5,#41c5dc,#4ebfe4,#4ac2e1,#3dcbd0,#6bd6a8,#b2d56f,#c1d364,#90d888,#55cfc2,#3dc8d8,#49c2e0,#45c4dd,#3fcbcf,#62d3b4,#88d88f,#91d888,#72d7a2,#56cfc1,#3fcbce,#3bc9d3,#3dcbd0,#49cdc9,#57d0c0,#5dd2bb,#59d0be,#52cec4,#51cec4,#59d1be,#62d4b4,#66d5ae,#5fd2b7,#45cccb,#42c5dc,#4ec0e4,#48c3df,#4ccec8,#7fd897,#b9d56a,#b7d56c,#73d7a1,#3fc7d9,#5bacf2,#5ea0fa,#57b3ed,#51cec4,#b7d56b,#f3ca64,#e4cc5a,#79d89c,#50bde6,#6696fe,#6d8dfe,#59aef0,#5ed2b9,#d8ce59,#fece67,#e6cc5a,#6ad5aa,#56b5eb,#6a90ff,#6a91ff,#56b7ea,#68d5ac,#dace59,#f6ca67,#c8d261,#5dd2ba,#55b7ea,#5ea1fa,#5da8f4,#49c3e0,#68d5ab,#b0d571,#bdd467,#8ad88e,#55cfc2,#44c4dc,#4ebfe4,#45c4de,#41cbce,#5dd2ba,#66d5af,#63d4b2,#5bd1bc,#52cec4,#51cec4,#58d0bf,#5dd2bb,#59d0be,#4ccec8,#3fcbcf,#3bc9d3,#3ecbd0,#50cec4,#6dd6a6,#8ed88b,#8cd88c,#67d5ad,#42cccc,#42c5dc,#4ac2e1,#3fc6d9,#4dcec7,#85d892,#bed467,#b9d56a,#77d89e,#42cccd,#49c3df,#4fbfe5,#45c4de,#49cdc9,#81d896,#bbd469,#b7d56c,#7ad89c,#49cdc9,#3fc6da,#48c3df,#3fc7d9)"></i><i style="background:linear-gradient(90deg,#4ecec6,#64d5b0,#71d7a3,#6cd6a7,#5fd2b8,#4fcec6,#47cdca,#47cdca,#4ccec7,#51cec4,#51cec4,#4ecec6,#49cdc8,#4acec8,#53cec3,#61d3b5,#6cd6a7,#6dd6a6,#5fd2b7,#47cdca,#3bc9d5,#3ec7d8,#3bc9d4,#4ecec6,#71d7a3,#9cd881,#9bd881,#6dd6a6,#48cdca,#3fc7d9,#48c3df,#3fc6d9,#47cdca,#6ed6a6,#9dd87f,#a0d87e,#74d7a0,#4ecec6,#3bc9d5,#3fc6da,#3bc8d5,#46cdcb,#60d3b6,#71d7a3,#71d7a3,#63d4b2,#53cec4,#49cdc9,#47cdca,#4ccec8,#51cec4,#51cec4,#4ccec7,#47cdca,#46cdca,#4fcec5,#60d3b5,#72d7a2,#78d89c,#66d5af,#4ccec8,#3bc8d5,#42c5dc,#3ec7d8,#46cdcb,#6fd7a4,#aad675,#b5d56d,#83d894,#4ccec7,#42c5dc,#4ec0e4,#49c2e0,#3fcbce,#71d7a3,#b9d56a,#c5d262,#90d889,#50cec4,#3fc6da,#4cc1e3,#48c3df,#3fcbcf,#67d5ad,#9cd880,#a6d778,#7ed899,#54cfc3,#3bcad3,#3fc7d9,#3bc8d6,#44cccb,#5dd2ba,#6ad6a9,#6ad6a9,#60d3b6,#53cec3,#4acdc8,#4acdc8,#4fcec6,#53cec4,#4fcec5,#47cdca,#40cbce,#42cbcd,#51cec4,#63d4b0,#77d89e,#77d89d,#61d3b4,#3ecbd0,#4dc1e3,#52bbe8,#48c3df,#53cfc3,#88d88f,#b7d56c,#a8d777,#66d5ae,#42c5dc,#58b1ed,#59adf0,#4fbee6,#5cd1bc,#a5d779,#ced15d,#b0d571,#63d4b3,#4bc1e1,#59aff0,#59b0ef,#4ac2e1,#60d2b7,#a0d87e,#b9d56a,#92d887,#5cd1bc,#42c5dc,#51bce7,#4fbfe5,#3bc9d4,#5ed2b9,#75d7a0,#7ad89c,#67d5ad,#55cfc2,#42cccc,#40cbce,#45cccb,#4fcec6,#53cec4,#4fcec5,#4acec8,#49cdc8,#50cec4,#5fd2b7,#6ad5aa,#6cd6a7,#60d2b7,#48cdc9,#3bc8d5,#3fc7d9,#3bc9d5,#4ecec6,#75d7a0,#a3d77b,#a2d77c,#6ed6a6,#43cccc,#45c4dd,#4cc1e3,#42c5dc,#4acdc8,#84d893,#c1d364,#bfd466,#7dd899,#45cccb,#46c4df,#4ebfe4,#45c4de,#45cdcb,#78d89d,#b1d570,#b0d571,#79d89c,#4ccec8,#3cc8d7,#43c5dc,#3cc8d7)"></i><i style="background:linear-gradient(90deg,#4fcec6,#67d5ad,#77d89d,#71d7a3,#60d2b7,#4ecec6,#43cccb,#42cccc,#49cdc9,#50cec5,#55cfc2,#52cec4,#4fcec6,#4ecec7,#53cfc3,#5fd2b8,#67d5ad,#67d5ad,#5dd2ba,#48cdca,#3bc9d3,#3cc8d7,#3ccad2,#4fcec5,#71d7a3,#96d885,#94d886,#6ad6aa,#46cdcb,#3fc7d9,#47c4df,#3fc7d9,#49cdc9,#71d7a3,#a2d77c,#a3d77b,#74d7a0,#4ccec7,#3bc8d6,#42c5dc,#3cc8d7,#46cdcb,#63d4b2,#7cd89a,#7dd899,#66d5ae,#51cec4,#43cccb,#41cbce,#45cccb,#4ecec6,#55cfc2,#54cfc2,#4fcec5,#4dcec7,#50cec4,#5dd2ba,#67d5ad,#6ad6aa,#61d3b5,#4ccec8,#3bcad2,#3ec7d8,#3bc8d5,#49cdc8,#6dd6a6,#a0d87e,#a7d777,#79d89c,#4acec8,#41c5db,#4cc1e3,#47c4df,#42cbcd,#74d7a0,#bad469,#c5d263,#8cd88c,#4ecec6,#42c5dc,#4ebfe4,#49c3e0,#3fcbce,#6dd6a6,#add674,#b7d56c,#85d892,#51cec4,#3cc8d7,#46c4df,#40c6da,#42cccd,#63d4b3,#82d895,#86d891,#6ad6a9,#52cec4,#3fcbce,#3bcad2,#3ecbcf,#4bcec8,#59d1be,#60d2b7,#5ed2b9,#58d0bf,#52cec4,#51cec4,#56cfc1,#59d0be,#56cfc1,#4ccec7,#42cbcd,#3dcbd0,#42cbcd,#53cfc3,#63d4b1,#70d7a3,#6cd6a7,#5dd2bb,#40cbce,#40c6db,#44c4dd,#3bc9d3,#57d0c0,#6fd7a4,#81d895,#74d7a0,#5cd1bc,#3ccad1,#42c5dc,#42c5dc,#3ccbd1,#59d0be,#6ad5aa,#71d7a3,#66d5ae,#57d0c1,#43cccc,#3dcbd0,#40cbce,#4bcec8,#55cfc2,#59d0be,#57d0c1,#52cec4,#51cec4,#57d0c1,#5dd2ba,#60d2b7,#5bd1bd,#4dcec7,#3fcbce,#3bcad2,#3ecbd0,#4fcec6,#67d5ad,#84d893,#85d892,#67d5ad,#46cdca,#3fc7d8,#46c4df,#3ec7d8,#4bcec8,#7bd89b,#b3d56f,#b3d56f,#77d89d,#45cccb,#46c4de,#4ebfe4,#45c4de,#46cdca,#80d896,#c1d365,#c1d365,#81d896,#48cdc9,#43c4dc,#4dc1e3,#44c4dd,#44cccb,#70d7a4,#a3d77b,#a4d77a,#75d79f,#4fcec6,#3bc9d4,#3ec7d8,#3bc9d4)"></i><i style="background:linear-gradient(90deg,#4fcec5,#6ad5aa,#7ed898,#76d89f,#61d3b5,#4ccec7,#41cbce,#3fcbce,#45cccb,#4fcec5,#58d0bf,#59d0be,#54cfc2,#50cec4,#53cec4,#5cd1bc,#61d3b4,#62d4b3,#5bd1bd,#49cdc9,#3ccad1,#3bc9d5,#3ecbd0,#51cec4,#6ed6a5,#8fd889,#8dd88c,#67d5ad,#45cccb,#3fc7d9,#46c4de,#3ec7d8,#4bcec8,#74d7a0,#a4d77a,#a3d77b,#73d7a1,#4acec8,#3dc8d8,#45c4dd,#3ec7d8,#46cdca,#66d5ae,#87d891,#87d890,#6ad5aa,#50cec4,#3fcbce,#3ccad2,#40cbce,#4ccec8,#59d0be,#5dd2ba,#5bd1bd,#54cfc2,#52cec4,#57d0c0,#5ed2b9,#60d3b5,#5dd2bb,#4ccec7,#3fcbcf,#3bc9d4,#3ccad2,#4ccec7,#6ad5aa,#90d889,#96d885,#6fd7a4,#49cdc9,#3fc6da,#4ac2e1,#42c5dc,#45cccb,#77d89f,#b7d56b,#bfd466,#86d891,#4bcec8,#44c4dd,#4fbfe5,#49c3e0,#41cbce,#74d7a1,#b8d56b,#c1d365,#89d88f,#4ecec6,#3fc6da,#4cc1e2,#45c4dd,#41cbcd,#69d5aa,#9bd881,#a2d77c,#77d89d,#50cec5,#3bc9d4,#3fc6da,#3bc8d6,#46cdcb,#60d3b6,#74d7a0,#75d7a0,#64d4b0,#50cec4,#42cccd,#3ecbd0,#42cbcd,#4dcec7,#59d0be,#5ed2b9,#5dd2ba,#58d0bf,#51cec4,#4fcec6,#4fcec6,#50cec4,#52cec4,#51cec4,#4fcec5,#4fcec6,#4fcec5,#53cec4,#56cfc1,#58d0bf,#57d0c1,#53cfc3,#4fcec5,#4fcec6,#4fcec5,#51cec4,#52cec4,#51cec4,#4fcec5,#4fcec6,#50cec4,#57d0c0,#5dd2ba,#5ed2b9,#5ad1bd,#4fcec6,#42cccc,#3ecbcf,#41cbce,#4ecec6,#62d3b4,#73d7a1,#76d89f,#63d4b1,#4acdc8,#3bc8d5,#3fc6da,#3bc8d5,#4ccec8,#70d7a4,#9ed87f,#a0d87e,#71d7a3,#46cdca,#42c5dc,#4cc1e2,#42c5dc,#48cdca,#7dd899,#bcd468,#bed467,#80d897,#47cdca,#46c4de,#4fbfe5,#47c4df,#44cccb,#7bd89b,#bad469,#bed467,#82d895,#4ccec8,#40c6da,#4ac2e1,#42c5dc,#43cccb,#69d5ab,#92d888,#94d886,#6fd7a4,#50cec4,#3dcbd0,#3bc9d4,#3dcbd0)"></i><i style="background:linear-gradient(90deg,#50cec4,#6dd6a6,#85d892,#7bd89a,#62d3b4,#4bcec8,#3ecbd0,#3ccbd1,#42cccc,#4fcec5,#5cd1bc,#5ed2b9,#5bd1bd,#55cfc2,#52cec4,#56cfc1,#5dd2bb,#5ed2b9,#58d0bf,#4acec8,#3fcbce,#3ccad2,#40cbce,#52cec4,#6bd6a8,#87d890,#85d893,#64d5b0,#45cccb,#3ec7d8,#44c4dd,#3cc8d7,#4ccec7,#76d79f,#a4d77a,#a3d77b,#71d7a3,#49cdc9,#3fc7d9,#46c4df,#3fc7d8,#47cdca,#6ad6aa,#91d888,#91d888,#6dd6a6,#4fcec5,#3ccad2,#3bc8d5,#3ccad2,#49cdc8,#5dd2ba,#64d5b0,#63d4b2,#5dd2bb,#52cec4,#4fcec5,#52cec4,#57d0c0,#57d0c1,#4fcec6,#45cccb,#3fcbce,#42cbcd,#4fcec5,#64d5b0,#7ed898,#82d895,#67d5ad,#49cdc9,#3dc8d7,#45c4de,#3fc7d9,#49cdc9,#74d7a0,#afd672,#b4d56d,#7ed899,#49cdc9,#43c4dc,#4ec0e4,#48c3df,#42cccc,#78d89c,#bed467,#c4d263,#88d88f,#4ccec8,#43c5dc,#4ec0e4,#48c3df,#42cbcd,#71d7a3,#afd671,#b5d56d,#81d896,#4ecec6,#3ec7d8,#49c3df,#40c6db,#43cccc,#67d5ad,#91d888,#95d885,#70d7a3,#4fcec5,#3bc9d3,#3ec7d8,#3bc8d5,#48cdc9,#61d3b4,#75d7a0,#76d89f,#64d4b0,#4fcec5,#3fcbce,#3bcad2,#3ecbcf,#4ccec8,#5ed2b9,#67d5ac,#68d5ab,#60d2b7,#4fcec5,#42cccd,#3ecbd0,#41cbce,#4dcec7,#5ed2b9,#67d5ad,#68d5ab,#60d2b7,#4ecec6,#3fcbce,#3bcad2,#3ecbd0,#4ccec7,#62d3b4,#74d7a0,#77d89e,#64d4b0,#4ccec8,#3bc9d3,#3ec7d8,#3bc9d5,#4bcec8,#6ad5aa,#91d888,#95d885,#6dd6a6,#49cdc9,#3fc7d9,#49c3df,#40c6da,#48cdca,#77d89e,#b1d571,#b4d56d,#7cd89a,#48cdca,#44c4dd,#4ec0e4,#46c4df,#44cccb,#7cd89a,#bfd466,#c3d363,#85d892,#49cdc8,#44c4dd,#4ec0e4,#47c4df,#42cccc,#73d7a1,#b0d571,#b4d56e,#7fd897,#4ecec6,#3cc8d7,#45c4de,#3fc7d9,#44cccb,#63d4b2,#80d897,#81d896,#68d5ac,#52cec4,#42cccc,#3fcbce,#43cccc)"></i><i style="background:linear-gradient(90deg,#51cec4,#71d7a3,#8bd88e,#80d896,#62d4b3,#49cdc9,#3ccad2,#3bc9d3,#40cbce,#4fcec6,#5fd2b8,#63d4b2,#60d2b7,#59d0bf,#51cec4,#50cec4,#55cfc2,#58d0bf,#56cfc1,#4ccec7,#43cccc,#3fcbce,#43cccb,#53cfc3,#67d5ac,#7ed899,#7bd89b,#62d3b4,#45cccb,#3dc8d7,#42c5dc,#3bc8d5,#4ecec6,#76d89f,#a3d77b,#9fd87e,#6ed6a6,#46cdca,#3fc6da,#48c4df,#3fc7d9,#49cdc9,#6ed6a5,#9ad881,#9ad881,#70d7a4,#4dcec7,#3bc9d4,#3ec7d8,#3bc9d4,#49cdc9,#60d3b6,#6fd7a5,#6dd6a6,#61d3b5,#51cec4,#49cdc9,#48cdca,#4ccec7,#50cec4,#51cec4,#4ecec6,#49cdc9,#49cdc9,#50cec4,#60d2b7,#6cd6a7,#6fd7a5,#61d3b4,#4acdc8,#3bc9d4,#3fc7d9,#3bc8d5,#4ccec8,#71d7a3,#a0d87d,#a4d77b,#74d7a0,#48cdca,#42c5dc,#4cc1e3,#44c4dd,#45cccb,#7bd89c,#bcd468,#c1d365,#84d893,#49cdc9,#45c4dd,#4fbfe5,#49c3df,#42cccd,#77d89d,#bbd469,#c1d365,#85d892,#4ccec8,#42c5dc,#4cc1e3,#45c4de,#42cccc,#70d7a4,#aad676,#afd672,#7cd89a,#4dcec7,#3ec7d8,#47c4df,#3fc6da,#45cccb,#69d5aa,#94d886,#98d884,#71d7a3,#4ecec7,#3bc8d5,#41c6db,#3cc8d7,#47cdca,#66d5ae,#86d891,#89d88f,#6ad6a9,#4dcec7,#3bc9d4,#3fc7d9,#3bc8d5,#49cdc9,#66d5ae,#86d891,#89d88f,#6ad6a9,#4ccec8,#3bc8d5,#41c6db,#3cc8d7,#49cdc9,#6ad5aa,#94d886,#98d883,#70d7a4,#4acec8,#3ec7d8,#47c4df,#3fc6da,#47cdca,#72d7a2,#aad676,#aed672,#7ad89c,#49cdc9,#42c5dc,#4cc1e3,#45c4de,#45cccb,#7ad89c,#bbd469,#c1d365,#84d893,#49cdc9,#45c4dd,#4fbfe5,#49c3df,#42cccc,#78d89d,#bbd469,#c1d365,#86d892,#4ccec8,#41c6db,#4cc1e3,#45c4dd,#42cccd,#6bd6a8,#a0d87e,#a4d77a,#78d89c,#50cec5,#3bc9d3,#3fc7d9,#3bc8d5,#46cdcb,#5fd2b8,#6dd6a6,#6dd6a6,#62d3b4,#53cec4,#4acdc8,#49cdc9,#4dcec7)"></i><i style="background:linear-gradient(90deg,#53cec3,#74d7a0,#90d889,#85d893,#63d4b3,#47cdca,#3bc9d4,#3bc8d5,#3ecbcf,#4fcec6,#61d3b4,#69d5ab,#65d5b0,#5cd1bc,#4fcec5,#4ccec8,#4dcec7,#51cec4,#53cec4,#4fcec5,#49cdc9,#45cccb,#48cdc9,#53cfc3,#63d4b1,#72d7a2,#71d7a3,#60d2b7,#45cccb,#3bc8d5,#3fc7d9,#3bc9d4,#4fcec5,#74d7a0,#9dd87f,#99d882,#6ad6a9,#45cccb,#3fc6da,#48c3df,#3fc7d8,#49cdc8,#72d7a2,#a1d77d,#a0d87e,#71d7a3,#4bcec8,#3bc8d6,#42c5dc,#3bc8d6,#48cdca,#63d4b1,#7dd899,#7cd899,#66d5ae,#50cec4,#42cccd,#3fcbce,#43cccc,#4dcec7,#57d0c1,#59d1be,#56cfc1,#51cec4,#51cec4,#59d0be,#60d2b7,#62d3b4,#5dd2bb,#4ccec8,#3fcbcf,#3bc9d3,#3dcbd1,#4ecec6,#6ad5aa,#8cd88d,#8ed88b,#6ad6aa,#48cdca,#3fc7d9,#48c3df,#3fc6da,#49cdc9,#77d89d,#b3d56f,#b6d56d,#7dd899,#48cdca,#44c4dd,#4ec0e4,#46c4df,#44cccb,#7bd89a,#bfd467,#c3d363,#85d892,#49cdc8,#45c4dd,#4fbfe5,#48c3df,#42cccc,#77d89d,#bad56a,#bed467,#83d894,#4bcec8,#42c5dc,#4cc1e3,#45c4de,#43cccc,#72d7a2,#add673,#b2d570,#7dd899,#4ccec8,#3fc6da,#49c2e1,#42c5dc,#45cccb,#6fd6a5,#a4d77a,#a9d777,#78d89d,#4ccec8,#3fc7d9,#49c3df,#40c6db,#45cccb,#6fd7a5,#a4d77b,#a9d777,#78d89d,#4bcec8,#3fc6da,#49c2e1,#42c5dc,#45cccb,#72d7a2,#add674,#b2d570,#7dd899,#4acdc8,#42c5dc,#4cc1e3,#45c4de,#44cccb,#77d89d,#b9d56a,#bed467,#84d893,#49cdc8,#44c4dd,#4fbfe5,#49c3df,#42cccc,#79d89c,#bed467,#c4d363,#88d890,#4ccec8,#43c4dc,#4ec0e4,#48c3df,#42cbcd,#71d7a3,#b0d571,#b7d56c,#82d895,#4fcec6,#3dc7d8,#48c3df,#40c6db,#42cccc,#65d5b0,#8bd88e,#8fd88a,#6fd7a5,#52cec4,#3fcbcf,#3bc9d4,#3dcbd1,#49cdc8,#5ad1be,#61d3b4,#60d3b6,#5ad1be,#52cec4,#51cec4,#55cfc2,#59d0be)"></i><i style="background:linear-gradient(90deg,#55cfc2,#77d89d,#95d885,#87d890,#63d4b3,#45cccb,#3bc8d5,#3cc8d7,#3ccbd1,#4fcec5,#64d5b0,#71d7a3,#6ad6a9,#5ed2b9,#4fcec6,#46cdca,#46cdca,#4ccec8,#51cec4,#52cec4,#4fcec5,#4ccec8,#4ccec7,#53cfc3,#60d2b7,#68d5ab,#68d5ac,#5dd2ba,#47cdca,#3bc9d3,#3bc8d6,#3ccad2,#51cec4,#71d7a3,#96d885,#91d888,#67d5ac,#45cccb,#3fc6da,#46c4df,#3ec7d8,#4bcec8,#75d7a0,#a5d77a,#a3d77b,#71d7a3,#49cdc9,#3ec7d8,#45c4dd,#3dc8d8,#48cdca,#68d5ac,#8bd88e,#8ad88e,#6ad6a9,#4fcec5,#3dcbd0,#3bc9d4,#3dcbd0,#4bcec8,#5dd2bb,#63d4b2,#62d3b4,#5bd1bc,#52cec4,#4fcec5,#51cec4,#56cfc1,#56cfc1,#4fcec6,#46cdca,#42cbcd,#44cccb,#50cec5,#63d4b2,#75d7a0,#77d89e,#63d4b2,#49cdc9,#3bc8d5,#40c6da,#3bc8d5,#4ccec8,#71d7a3,#a2d77c,#a3d77b,#73d7a2,#47cdca,#42c5dc,#4cc1e2,#42c5dc,#46cdca,#7bd89b,#bad56a,#bdd468,#80d896,#48cdca,#45c4de,#4ebfe5,#47c4df,#44cccb,#7cd89a,#bfd466,#c3d363,#85d892,#49cdc9,#45c4dd,#4fbfe5,#48c3df,#43cccc,#79d89c,#bbd469,#c0d366,#84d893,#4acdc8,#43c4dc,#4ec0e4,#46c4df,#43cccc,#77d89e,#b7d56c,#bcd468,#82d895,#4acdc8,#42c5dc,#4dc0e3,#46c4de,#43cccc,#76d89f,#b7d56c,#bcd468,#82d895,#4acdc8,#43c4dc,#4ec0e4,#47c4df,#43cccc,#77d89d,#bad569,#c1d365,#85d892,#4acdc8,#44c4dd,#4fbfe5,#49c3df,#42cccd,#78d89d,#bed467,#c4d263,#88d88f,#4bcec8,#44c4dd,#4ebfe4,#49c3df,#42cbcd,#74d7a0,#b7d56c,#bed467,#86d891,#4dcec7,#40c6da,#4bc1e2,#45c4dd,#42cbcd,#6ad6aa,#9fd87e,#a6d779,#7bd89b,#50cec4,#3bc9d4,#40c6da,#3cc8d7,#45cccb,#60d3b6,#75d7a0,#77d89e,#65d5af,#53cec3,#45cccb,#42cbcd,#45cccb,#4ecec6,#55cfc2,#56cfc1,#52cec4,#4fcec5,#51cec4,#59d1be,#61d3b5,#63d4b2)"></i><i style="background:linear-gradient(90deg,#56cfc1,#7ad89c,#98d884,#89d88f,#63d4b3,#43cccc,#3cc8d7,#3fc7d8,#3ccad2,#4fcec5,#68d5ac,#7bd89b,#72d7a2,#60d2b7,#4ccec7,#42cbcd,#41cbce,#46cdca,#4fcec5,#58d0c0,#58d0bf,#53cfc3,#50cec4,#53cec3,#5bd1bd,#61d3b5,#61d3b4,#59d1be,#49cdc9,#3dcbd0,#3bc9d3,#3fcbcf,#52cec4,#6dd6a6,#8bd88e,#87d891,#64d5b0,#44cccb,#3fc7d8,#44c4dd,#3cc8d7,#4dcec7,#77d89e,#a5d77a,#a2d77c,#70d7a4,#47cdca,#3fc7d9,#47c4df,#3fc7d8,#48cdc9,#6dd6a6,#96d884,#96d885,#6ed6a5,#4ecec7,#3bc9d3,#3ec7d8,#3bc9d4,#49cdc9,#60d3b6,#6fd7a5,#6ed6a6,#61d3b4,#51cec4,#48cdca,#45cccb,#49cdc8,#4fcec5,#53cfc3,#51cec4,#4fcec6,#4dcec7,#51cec4,#5dd2bb,#63d4b1,#65d5b0,#5dd2ba,#4ccec8,#3dcbd0,#3bc9d4,#3ccbd1,#4ecec6,#6ad5aa,#8ad88e,#8cd88d,#69d5aa,#48cdc9,#3ec7d8,#45c4de,#3ec7d8,#49cdc8,#75d79f,#acd674,#add673,#77d89e,#47cdca,#42c5dc,#4cc1e3,#44c4dd,#45cdcb,#7bd89b,#bad469,#bed467,#81d896,#48cdc9,#45c4dd,#4ebfe4,#47c4df,#44cccb,#7bd89a,#bfd467,#c2d364,#85d892,#49cdc9,#45c4de,#4fbfe5,#48c3df,#43cccc,#7bd89b,#bed467,#c3d363,#86d892,#49cdc8,#45c4dd,#4fbfe5,#49c3df,#42cccc,#79d89c,#bed467,#c4d363,#87d891,#4acdc8,#45c4dd,#4fbfe5,#49c3df,#42cccd,#78d89d,#bed467,#c4d363,#88d890,#4bcec8,#44c4dc,#4ebfe4,#49c3df,#42cbcd,#75d7a0,#b8d56b,#bfd466,#87d891,#4dcec7,#41c6db,#4cc1e3,#45c4de,#42cbcd,#6dd6a6,#a8d777,#b0d571,#7fd897,#4fcec5,#3cc8d7,#45c4de,#3fc6da,#43cccc,#64d4b0,#88d890,#8dd88c,#6ed6a5,#52cec4,#3ecbcf,#3bc9d4,#3ccad2,#49cdc9,#5cd1bc,#64d5b0,#64d4b0,#5dd2ba,#53cec4,#4ecec6,#4ecec6,#51cec4,#53cfc3,#50cec4,#4bcec8,#45cccb,#46cdca,#4fcec5,#60d2b7,#6cd6a7,#71d7a3)"></i><i style="background:linear-gradient(90deg,#57d0c0,#7bd89a,#99d883,#89d88f,#62d3b4,#42cccd,#3dc7d8,#3fc6da,#3bcad2,#50cec4,#6cd6a7,#83d894,#7bd89b,#61d3b4,#4bcec8,#3ecbd0,#3ccad1,#42cccd,#4fcec5,#5dd2bb,#60d2b7,#5dd2ba,#56cfc1,#51cec4,#53cfc3,#59d0be,#5bd1bc,#56d0c1,#4ccec8,#42cbcd,#3fcbcf,#42cccc,#53cfc3,#68d5ac,#7ed898,#7bd89b,#62d3b4,#45cccb,#3cc8d7,#41c5db,#3bc8d5,#4fcec6,#76d79f,#a1d77d,#9dd87f,#6dd6a6,#46cdcb,#3fc6da,#48c3df,#3fc7d9,#49cdc9,#71d7a3,#a0d87e,#9fd87e,#71d7a3,#4ccec8,#3bc8d6,#42c5dc,#3cc8d6,#47cdca,#64d5b0,#7fd897,#80d897,#67d5ad,#50cec4,#40cbce,#3ccbd1,#40cbce,#4ccec8,#59d1be,#60d2b7,#5ed2b9,#59d0bf,#52cec4,#51cec4,#55cfc1,#59d0bf,#56d0c1,#4fcec6,#46cdca,#42cbcd,#44cccb,#50cec5,#62d3b4,#71d7a3,#73d7a2,#62d3b4,#4acdc8,#3bc9d4,#3ec7d8,#3bc9d4,#4ccec7,#6dd6a6,#95d885,#96d885,#6dd6a6,#48cdc9,#3fc7d9,#48c3df,#3fc6d9,#49cdc9,#75d7a0,#add674,#afd672,#78d89c,#48cdc9,#42c5dc,#4cc1e3,#44c4dd,#45cccb,#79d89c,#b7d56c,#bad56a,#80d897,#49cdc9,#43c4dc,#4ec0e4,#46c4de,#44cccb,#79d89c,#bad56a,#bfd467,#83d894,#49cdc8,#44c4dc,#4ec0e4,#47c4df,#42cccc,#77d89e,#bad56a,#bfd466,#85d892,#4bcec8,#42c5dc,#4ec0e4,#47c4df,#42cccd,#74d7a0,#b5d56d,#bcd468,#84d893,#4ccec7,#40c6db,#4cc1e3,#45c4de,#42cccd,#6ed6a5,#aad676,#b0d571,#7fd897,#4fcec6,#3dc8d8,#48c4df,#40c6db,#42cccc,#67d5ad,#92d888,#99d883,#74d7a0,#50cec4,#3ccad2,#3ec7d8,#3bc8d5,#46cdcb,#60d2b7,#71d7a3,#73d7a1,#64d4b0,#53cec4,#45cccb,#42cbcd,#45cccb,#4ecec7,#56cfc1,#59d0bf,#56cfc1,#51cec4,#51cec4,#57d0c0,#5dd2ba,#60d2b7,#5bd1bc,#4ecec6,#42cbcd,#3ccbd1,#3fcbce,#4dcec7,#63d4b0,#7dd899,#81d896)"></i></div></div>
<svg class="sv" width="540" height="456" viewBox="0 0 540 456"><g filter="url(#bl1)"><polygon points="185.5,233.0 181.5,240.5 181.5,250.5 185.5,243.0" fill="#73757b" stroke="#73757b" stroke-width=".7" stroke-linejoin="round" /><polygon points="181.5,240.5 200.3,235.6 200.3,245.6 181.5,250.5" fill="#494b51" stroke="#494b51" stroke-width=".7" stroke-linejoin="round" /><polygon points="200.3,235.6 196.5,243.2 196.5,253.2 200.3,245.6" fill="#73757b" stroke="#73757b" stroke-width=".7" stroke-linejoin="round" /><polygon points="196.5,243.2 215.2,238.2 215.2,248.2 196.5,253.2" fill="#494b51" stroke="#494b51" stroke-width=".7" stroke-linejoin="round" /><polygon points="215.2,238.2 211.7,245.9 211.7,255.9 215.2,248.2" fill="#73757b" stroke="#73757b" stroke-width=".7" stroke-linejoin="round" /><polygon points="211.7,245.9 230.4,240.9 230.4,250.9 211.7,255.9" fill="#494b51" stroke="#494b51" stroke-width=".7" stroke-linejoin="round" /><polygon points="230.4,240.9 227.2,248.7 227.2,258.7 230.4,250.9" fill="#73757b" stroke="#73757b" stroke-width=".7" stroke-linejoin="round" /><polygon points="227.2,248.7 245.7,243.5 245.7,253.5 227.2,258.7" fill="#494b51" stroke="#494b51" stroke-width=".7" stroke-linejoin="round" /><polygon points="245.7,243.5 242.8,251.5 242.8,261.5 245.7,253.5" fill="#73757b" stroke="#73757b" stroke-width=".7" stroke-linejoin="round" /><polygon points="242.8,251.5 261.2,246.3 261.2,256.3 242.8,261.5" fill="#494b51" stroke="#494b51" stroke-width=".7" stroke-linejoin="round" /><polygon points="261.2,246.3 258.6,254.3 258.6,264.3 261.2,256.3" fill="#73757b" stroke="#73757b" stroke-width=".7" stroke-linejoin="round" /><polygon points="258.6,254.3 276.9,249.0 276.9,259.0 258.6,264.3" fill="#494b51" stroke="#494b51" stroke-width=".7" stroke-linejoin="round" /><polygon points="276.9,249.0 274.7,257.2 274.7,267.2 276.9,259.0" fill="#73757b" stroke="#73757b" stroke-width=".7" stroke-linejoin="round" /><polygon points="274.7,257.2 292.8,251.8 292.8,261.8 274.7,267.2" fill="#494b51" stroke="#494b51" stroke-width=".7" stroke-linejoin="round" /><polygon points="292.8,251.8 290.9,260.1 290.9,270.1 292.8,261.8" fill="#73757b" stroke="#73757b" stroke-width=".7" stroke-linejoin="round" /><polygon points="290.9,260.1 308.9,254.7 308.9,264.7 290.9,270.1" fill="#494b51" stroke="#494b51" stroke-width=".7" stroke-linejoin="round" /><polygon points="308.9,254.7 307.3,263.1 307.3,273.1 308.9,264.7" fill="#73757b" stroke="#73757b" stroke-width=".7" stroke-linejoin="round" /><polygon points="307.3,263.1 325.2,257.6 325.2,267.6 307.3,273.1" fill="#494b51" stroke="#494b51" stroke-width=".7" stroke-linejoin="round" /><polygon points="325.2,257.6 324.0,266.1 324.0,276.1 325.2,267.6" fill="#73757b" stroke="#73757b" stroke-width=".7" stroke-linejoin="round" /><polygon points="324.0,266.1 341.7,260.5 341.7,270.5 324.0,276.1" fill="#494b51" stroke="#494b51" stroke-width=".7" stroke-linejoin="round" /><polygon points="341.7,260.5 340.9,269.1 340.9,279.1 341.7,270.5" fill="#73757b" stroke="#73757b" stroke-width=".7" stroke-linejoin="round" /><polygon points="340.9,269.1 358.4,263.4 358.4,273.4 340.9,279.1" fill="#494b51" stroke="#494b51" stroke-width=".7" stroke-linejoin="round" /><polygon points="358.4,263.4 357.9,272.2 357.9,282.2 358.4,273.4" fill="#73757b" stroke="#73757b" stroke-width=".7" stroke-linejoin="round" /><polygon points="357.9,272.2 375.3,266.4 375.3,276.4 357.9,282.2" fill="#494b51" stroke="#494b51" stroke-width=".7" stroke-linejoin="round" /><polygon points="375.3,266.4 375.3,275.3 375.3,285.3 375.3,276.4" fill="#73757b" stroke="#73757b" stroke-width=".7" stroke-linejoin="round" /><polygon points="375.3,275.3 392.5,269.4 392.5,279.4 375.3,285.3" fill="#494b51" stroke="#494b51" stroke-width=".7" stroke-linejoin="round" /><polygon points="392.5,269.4 392.8,278.4 392.8,288.4 392.5,279.4" fill="#73757b" stroke="#73757b" stroke-width=".7" stroke-linejoin="round" /><polygon points="392.8,278.4 409.9,272.5 409.9,282.5 392.8,288.4" fill="#494b51" stroke="#494b51" stroke-width=".7" stroke-linejoin="round" /><polygon points="409.9,272.5 410.6,281.6 410.6,291.6 409.9,282.5" fill="#73757b" stroke="#73757b" stroke-width=".7" stroke-linejoin="round" /><polygon points="410.6,281.6 427.5,275.6 427.5,285.6 410.6,291.6" fill="#494b51" stroke="#494b51" stroke-width=".7" stroke-linejoin="round" /><polygon points="427.5,275.6 428.6,284.8 428.6,294.8 427.5,285.6" fill="#73757b" stroke="#73757b" stroke-width=".7" stroke-linejoin="round" /><polygon points="428.6,284.8 445.4,278.7 445.4,288.7 428.6,294.8" fill="#494b51" stroke="#494b51" stroke-width=".7" stroke-linejoin="round" /><polygon points="445.4,278.7 446.9,288.1 446.9,298.1 445.4,288.7" fill="#73757b" stroke="#73757b" stroke-width=".7" stroke-linejoin="round" /><polygon points="446.9,288.1 455.4,280.5 455.4,290.5 446.9,298.1" fill="#494b51" stroke="#494b51" stroke-width=".7" stroke-linejoin="round" /><polygon points="181.1,232.2 455.4,280.5 462.0,273.6 191.4,226.7" fill="#5a5c62" stroke="#5a5c62" stroke-width=".7" stroke-linejoin="round" /><polygon points="185.5,233.0 181.5,240.5 200.3,235.6" fill="#5a5c62" stroke="#5a5c62" stroke-width=".7" stroke-linejoin="round" /><polygon points="200.3,235.6 196.5,243.2 215.2,238.2" fill="#5a5c62" stroke="#5a5c62" stroke-width=".7" stroke-linejoin="round" /><polygon points="215.2,238.2 211.7,245.9 230.4,240.9" fill="#5a5c62" stroke="#5a5c62" stroke-width=".7" stroke-linejoin="round" /><polygon points="230.4,240.9 227.2,248.7 245.7,243.5" fill="#5a5c62" stroke="#5a5c62" stroke-width=".7" stroke-linejoin="round" /><polygon points="245.7,243.5 242.8,251.5 261.2,246.3" fill="#5a5c62" stroke="#5a5c62" stroke-width=".7" stroke-linejoin="round" /><polygon points="261.2,246.3 258.6,254.3 276.9,249.0" fill="#5a5c62" stroke="#5a5c62" stroke-width=".7" stroke-linejoin="round" /><polygon points="276.9,249.0 274.7,257.2 292.8,251.8" fill="#5a5c62" stroke="#5a5c62" stroke-width=".7" stroke-linejoin="round" /><polygon points="292.8,251.8 290.9,260.1 308.9,254.7" fill="#5a5c62" stroke="#5a5c62" stroke-width=".7" stroke-linejoin="round" /><polygon points="308.9,254.7 307.3,263.1 325.2,257.6" fill="#5a5c62" stroke="#5a5c62" stroke-width=".7" stroke-linejoin="round" /><polygon points="325.2,257.6 324.0,266.1 341.7,260.5" fill="#5a5c62" stroke="#5a5c62" stroke-width=".7" stroke-linejoin="round" /><polygon points="341.7,260.5 340.9,269.1 358.4,263.4" fill="#5a5c62" stroke="#5a5c62" stroke-width=".7" stroke-linejoin="round" /><polygon points="358.4,263.4 357.9,272.2 375.3,266.4" fill="#5a5c62" stroke="#5a5c62" stroke-width=".7" stroke-linejoin="round" /><polygon points="375.3,266.4 375.3,275.3 392.5,269.4" fill="#5a5c62" stroke="#5a5c62" stroke-width=".7" stroke-linejoin="round" /><polygon points="392.5,269.4 392.8,278.4 409.9,272.5" fill="#5a5c62" stroke="#5a5c62" stroke-width=".7" stroke-linejoin="round" /><polygon points="409.9,272.5 410.6,281.6 427.5,275.6" fill="#5a5c62" stroke="#5a5c62" stroke-width=".7" stroke-linejoin="round" /><polygon points="427.5,275.6 428.6,284.8 445.4,278.7" fill="#5a5c62" stroke="#5a5c62" stroke-width=".7" stroke-linejoin="round" /><polygon points="445.4,278.7 446.9,288.1 455.4,280.5" fill="#5a5c62" stroke="#5a5c62" stroke-width=".7" stroke-linejoin="round" /><polygon points="351.6,389.8 363.3,377.4 359.7,372.3 370.0,370.4 366.3,365.5 376.5,363.6 372.8,358.8 382.8,357.0 379.1,352.3 388.9,350.5 385.2,346.0 394.8,344.2 391.1,339.8 400.6,338.1 396.9,333.8 406.3,332.2 402.5,328.0 411.8,326.4 408.0,322.3 417.1,320.8 413.4,316.8 422.3,315.3 418.6,311.4 427.4,310.0 423.7,306.2 432.4,304.7 428.6,301.0 437.2,299.7 433.5,296.0 441.9,294.7 438.2,291.2 446.5,289.8 442.8,286.4 451.0,285.1 447.3,281.7 455.4,280.5 462.0,273.6 501.8,280.5 400.0,403.0" fill="#46484e" stroke="#46484e" stroke-width=".7" stroke-linejoin="round" /><polygon points="359.7,372.3 363.3,377.4 396.1,380.3" fill="#3f4147" stroke="#3f4147" stroke-width=".7" stroke-linejoin="round" /><polygon points="359.7,372.3 370.0,370.4 396.1,380.3" fill="#4b4d53" stroke="#4b4d53" stroke-width=".7" stroke-linejoin="round" /><polygon points="366.3,365.5 370.0,370.4 402.3,373.2" fill="#3f4147" stroke="#3f4147" stroke-width=".7" stroke-linejoin="round" /><polygon points="366.3,365.5 376.5,363.6 402.3,373.2" fill="#4b4d53" stroke="#4b4d53" stroke-width=".7" stroke-linejoin="round" /><polygon points="372.8,358.8 376.5,363.6 408.4,366.3" fill="#3f4147" stroke="#3f4147" stroke-width=".7" stroke-linejoin="round" /><polygon points="372.8,358.8 382.8,357.0 408.4,366.3" fill="#4b4d53" stroke="#4b4d53" stroke-width=".7" stroke-linejoin="round" /><polygon points="379.1,352.3 382.8,357.0 414.2,359.6" fill="#3f4147" stroke="#3f4147" stroke-width=".7" stroke-linejoin="round" /><polygon points="379.1,352.3 388.9,350.5 414.2,359.6" fill="#4b4d53" stroke="#4b4d53" stroke-width=".7" stroke-linejoin="round" /><polygon points="385.2,346.0 388.9,350.5 420.0,353.1" fill="#3f4147" stroke="#3f4147" stroke-width=".7" stroke-linejoin="round" /><polygon points="385.2,346.0 394.8,344.2 420.0,353.1" fill="#4b4d53" stroke="#4b4d53" stroke-width=".7" stroke-linejoin="round" /><polygon points="391.1,339.8 394.8,344.2 425.5,346.8" fill="#3f4147" stroke="#3f4147" stroke-width=".7" stroke-linejoin="round" /><polygon points="391.1,339.8 400.6,338.1 425.5,346.8" fill="#4b4d53" stroke="#4b4d53" stroke-width=".7" stroke-linejoin="round" /><polygon points="396.9,333.8 400.6,338.1 430.9,340.6" fill="#3f4147" stroke="#3f4147" stroke-width=".7" stroke-linejoin="round" /><polygon points="396.9,333.8 406.3,332.2 430.9,340.6" fill="#4b4d53" stroke="#4b4d53" stroke-width=".7" stroke-linejoin="round" /><polygon points="402.5,328.0 406.3,332.2 436.2,334.7" fill="#3f4147" stroke="#3f4147" stroke-width=".7" stroke-linejoin="round" /><polygon points="402.5,328.0 411.8,326.4 436.2,334.7" fill="#4b4d53" stroke="#4b4d53" stroke-width=".7" stroke-linejoin="round" /><polygon points="408.0,322.3 411.8,326.4 441.3,328.8" fill="#3f4147" stroke="#3f4147" stroke-width=".7" stroke-linejoin="round" /><polygon points="408.0,322.3 417.1,320.8 441.3,328.8" fill="#4b4d53" stroke="#4b4d53" stroke-width=".7" stroke-linejoin="round" /><polygon points="413.4,316.8 417.1,320.8 446.3,323.1" fill="#3f4147" stroke="#3f4147" stroke-width=".7" stroke-linejoin="round" /><polygon points="413.4,316.8 422.3,315.3 446.3,323.1" fill="#4b4d53" stroke="#4b4d53" stroke-width=".7" stroke-linejoin="round" /><polygon points="418.6,311.4 422.3,315.3 451.1,317.6" fill="#3f4147" stroke="#3f4147" stroke-width=".7" stroke-linejoin="round" /><polygon points="418.6,311.4 427.4,310.0 451.1,317.6" fill="#4b4d53" stroke="#4b4d53" stroke-width=".7" stroke-linejoin="round" /><polygon points="423.7,306.2 427.4,310.0 455.9,312.2" fill="#3f4147" stroke="#3f4147" stroke-width=".7" stroke-linejoin="round" /><polygon points="423.7,306.2 432.4,304.7 455.9,312.2" fill="#4b4d53" stroke="#4b4d53" stroke-width=".7" stroke-linejoin="round" /><polygon points="428.6,301.0 432.4,304.7 460.5,306.9" fill="#3f4147" stroke="#3f4147" stroke-width=".7" stroke-linejoin="round" /><polygon points="428.6,301.0 437.2,299.7 460.5,306.9" fill="#4b4d53" stroke="#4b4d53" stroke-width=".7" stroke-linejoin="round" /><polygon points="433.5,296.0 437.2,299.7 465.0,301.8" fill="#3f4147" stroke="#3f4147" stroke-width=".7" stroke-linejoin="round" /><polygon points="433.5,296.0 441.9,294.7 465.0,301.8" fill="#4b4d53" stroke="#4b4d53" stroke-width=".7" stroke-linejoin="round" /><polygon points="438.2,291.2 441.9,294.7 469.4,296.8" fill="#3f4147" stroke="#3f4147" stroke-width=".7" stroke-linejoin="round" /><polygon points="438.2,291.2 446.5,289.8 469.4,296.8" fill="#4b4d53" stroke="#4b4d53" stroke-width=".7" stroke-linejoin="round" /><polygon points="442.8,286.4 446.5,289.8 473.7,291.9" fill="#3f4147" stroke="#3f4147" stroke-width=".7" stroke-linejoin="round" /><polygon points="442.8,286.4 451.0,285.1 473.7,291.9" fill="#4b4d53" stroke="#4b4d53" stroke-width=".7" stroke-linejoin="round" /><polygon points="447.3,281.7 451.0,285.1 477.8,287.1" fill="#3f4147" stroke="#3f4147" stroke-width=".7" stroke-linejoin="round" /><polygon points="447.3,281.7 455.4,280.5 477.8,287.1" fill="#4b4d53" stroke="#4b4d53" stroke-width=".7" stroke-linejoin="round" /><polygon points="19.0,316.9 349.8,391.7 363.3,377.4 370.3,368.1 351.0,374.7 349.3,363.5 329.8,370.0 328.5,359.0 308.9,365.5 308.1,354.7 288.3,360.9 288.0,350.3 268.1,356.5 268.2,346.1 248.1,352.1 248.7,341.9 228.5,347.8 229.5,337.7 209.2,343.6 210.6,333.7 190.2,339.4 192.0,329.7 171.5,335.3 173.6,325.7 153.1,331.3 155.6,321.8 135.0,327.3 137.8,318.0 117.1,323.4 120.3,314.2 99.5,319.5 103.0,310.5 82.1,315.7 85.9,306.8 65.0,312.0 69.2,303.2 48.2,308.3 52.6,299.7 31.2,310.5" fill="#6c6e74" stroke="#6c6e74" stroke-width=".7" stroke-linejoin="round" /><polygon points="69.2,303.2 65.0,312.0 49.4,314.0" fill="#5e6066" stroke="#5e6066" stroke-width=".7" stroke-linejoin="round" /><polygon points="69.2,303.2 48.2,308.3 49.4,314.0" fill="#777980" stroke="#777980" stroke-width=".7" stroke-linejoin="round" /><polygon points="85.9,306.8 82.1,315.7 66.5,317.8" fill="#5e6066" stroke="#5e6066" stroke-width=".7" stroke-linejoin="round" /><polygon points="85.9,306.8 65.0,312.0 66.5,317.8" fill="#777980" stroke="#777980" stroke-width=".7" stroke-linejoin="round" /><polygon points="103.0,310.5 99.5,319.5 83.8,321.7" fill="#5e6066" stroke="#5e6066" stroke-width=".7" stroke-linejoin="round" /><polygon points="103.0,310.5 82.1,315.7 83.8,321.7" fill="#777980" stroke="#777980" stroke-width=".7" stroke-linejoin="round" /><polygon points="120.3,314.2 117.1,323.4 101.4,325.6" fill="#5e6066" stroke="#5e6066" stroke-width=".7" stroke-linejoin="round" /><polygon points="120.3,314.2 99.5,319.5 101.4,325.6" fill="#777980" stroke="#777980" stroke-width=".7" stroke-linejoin="round" /><polygon points="137.8,318.0 135.0,327.3 119.3,329.5" fill="#5e6066" stroke="#5e6066" stroke-width=".7" stroke-linejoin="round" /><polygon points="137.8,318.0 117.1,323.4 119.3,329.5" fill="#777980" stroke="#777980" stroke-width=".7" stroke-linejoin="round" /><polygon points="155.6,321.8 153.1,331.3 137.4,333.5" fill="#5e6066" stroke="#5e6066" stroke-width=".7" stroke-linejoin="round" /><polygon points="155.6,321.8 135.0,327.3 137.4,333.5" fill="#777980" stroke="#777980" stroke-width=".7" stroke-linejoin="round" /><polygon points="173.6,325.7 171.5,335.3 155.8,337.6" fill="#5e6066" stroke="#5e6066" stroke-width=".7" stroke-linejoin="round" /><polygon points="173.6,325.7 153.1,331.3 155.8,337.6" fill="#777980" stroke="#777980" stroke-width=".7" stroke-linejoin="round" /><polygon points="192.0,329.7 190.2,339.4 174.5,341.8" fill="#5e6066" stroke="#5e6066" stroke-width=".7" stroke-linejoin="round" /><polygon points="192.0,329.7 171.5,335.3 174.5,341.8" fill="#777980" stroke="#777980" stroke-width=".7" stroke-linejoin="round" /><polygon points="210.6,333.7 209.2,343.6 193.5,346.0" fill="#5e6066" stroke="#5e6066" stroke-width=".7" stroke-linejoin="round" /><polygon points="210.6,333.7 190.2,339.4 193.5,346.0" fill="#777980" stroke="#777980" stroke-width=".7" stroke-linejoin="round" /><polygon points="229.5,337.7 228.5,347.8 212.8,350.3" fill="#5e6066" stroke="#5e6066" stroke-width=".7" stroke-linejoin="round" /><polygon points="229.5,337.7 209.2,343.6 212.8,350.3" fill="#777980" stroke="#777980" stroke-width=".7" stroke-linejoin="round" /><polygon points="248.7,341.9 248.1,352.1 232.4,354.6" fill="#5e6066" stroke="#5e6066" stroke-width=".7" stroke-linejoin="round" /><polygon points="248.7,341.9 228.5,347.8 232.4,354.6" fill="#777980" stroke="#777980" stroke-width=".7" stroke-linejoin="round" /><polygon points="268.2,346.1 268.1,356.5 252.3,359.0" fill="#5e6066" stroke="#5e6066" stroke-width=".7" stroke-linejoin="round" /><polygon points="268.2,346.1 248.1,352.1 252.3,359.0" fill="#777980" stroke="#777980" stroke-width=".7" stroke-linejoin="round" /><polygon points="288.0,350.3 288.3,360.9 272.5,363.5" fill="#5e6066" stroke="#5e6066" stroke-width=".7" stroke-linejoin="round" /><polygon points="288.0,350.3 268.1,356.5 272.5,363.5" fill="#777980" stroke="#777980" stroke-width=".7" stroke-linejoin="round" /><polygon points="308.1,354.7 308.9,365.5 293.1,368.1" fill="#5e6066" stroke="#5e6066" stroke-width=".7" stroke-linejoin="round" /><polygon points="308.1,354.7 288.3,360.9 293.1,368.1" fill="#777980" stroke="#777980" stroke-width=".7" stroke-linejoin="round" /><polygon points="328.5,359.0 329.8,370.0 314.0,372.7" fill="#5e6066" stroke="#5e6066" stroke-width=".7" stroke-linejoin="round" /><polygon points="328.5,359.0 308.9,365.5 314.0,372.7" fill="#777980" stroke="#777980" stroke-width=".7" stroke-linejoin="round" /><polygon points="349.3,363.5 351.0,374.7 335.2,377.4" fill="#5e6066" stroke="#5e6066" stroke-width=".7" stroke-linejoin="round" /><polygon points="349.3,363.5 329.8,370.0 335.2,377.4" fill="#777980" stroke="#777980" stroke-width=".7" stroke-linejoin="round" /><circle cx="172.0" cy="228.0" r="7.1" fill="url(#spk)"/><ellipse cx="172.6" cy="227.4" rx="3.0" ry="4.4" fill="#1c7272" opacity=".55" transform="rotate(-30 172.0 228.0)"/><circle cx="157.1" cy="235.7" r="7.2" fill="url(#spk)"/><ellipse cx="157.7" cy="235.1" rx="3.0" ry="4.5" fill="#1c7272" opacity=".55" transform="rotate(-30 157.1 235.7)"/><circle cx="142.3" cy="243.4" r="7.4" fill="url(#spk)"/><ellipse cx="142.9" cy="242.8" rx="3.1" ry="4.6" fill="#1c7272" opacity=".55" transform="rotate(-30 142.3 243.4)"/><circle cx="127.4" cy="251.1" r="7.5" fill="url(#spk)"/><ellipse cx="128.0" cy="250.5" rx="3.2" ry="4.7" fill="#1c7272" opacity=".55" transform="rotate(-30 127.4 251.1)"/><circle cx="112.6" cy="258.8" r="7.7" fill="url(#spk)"/><ellipse cx="113.2" cy="258.2" rx="3.2" ry="4.8" fill="#1c7272" opacity=".55" transform="rotate(-30 112.6 258.8)"/><circle cx="97.7" cy="266.5" r="7.8" fill="url(#spk)"/><ellipse cx="98.3" cy="265.9" rx="3.3" ry="4.9" fill="#1c7272" opacity=".55" transform="rotate(-30 97.7 266.5)"/><circle cx="82.8" cy="274.2" r="8.0" fill="url(#spk)"/><ellipse cx="83.4" cy="273.6" rx="3.4" ry="5.0" fill="#1c7272" opacity=".55" transform="rotate(-30 82.8 274.2)"/><circle cx="68.0" cy="281.9" r="8.2" fill="url(#spk)"/><ellipse cx="68.6" cy="281.3" rx="3.4" ry="5.1" fill="#1c7272" opacity=".55" transform="rotate(-30 68.0 281.9)"/><circle cx="53.1" cy="289.6" r="8.3" fill="url(#spk)"/><ellipse cx="53.7" cy="289.0" rx="3.5" ry="5.1" fill="#1c7272" opacity=".55" transform="rotate(-30 53.1 289.6)"/><circle cx="38.3" cy="297.3" r="8.4" fill="url(#spk)"/><ellipse cx="38.9" cy="296.7" rx="3.5" ry="5.2" fill="#1c7272" opacity=".55" transform="rotate(-30 38.3 297.3)"/><circle cx="23.4" cy="305.0" r="8.6" fill="url(#spk)"/><ellipse cx="24.0" cy="304.4" rx="3.6" ry="5.3" fill="#1c7272" opacity=".55" transform="rotate(-30 23.4 305.0)"/><polygon points="17.2,308.2 180.2,224.3 185.7,235.0 23.4,320.2" fill="#7d8187" opacity=".85"/><polygon points="35.3,311.8 33.0,305.1 39.3,309.7" fill="#e8eaec" opacity=".8"/><polygon points="50.1,304.1 47.8,297.4 54.1,302.0" fill="#e8eaec" opacity=".8"/><polygon points="64.9,296.5 62.5,289.8 68.9,294.4" fill="#e8eaec" opacity=".8"/><polygon points="79.6,288.8 77.3,282.1 83.6,286.7" fill="#e8eaec" opacity=".8"/><polygon points="94.4,281.2 92.1,274.5 98.4,279.1" fill="#e8eaec" opacity=".8"/><polygon points="109.2,273.5 106.8,266.8 113.1,271.4" fill="#e8eaec" opacity=".8"/><polygon points="123.9,265.9 121.6,259.2 127.9,263.8" fill="#e8eaec" opacity=".8"/><polygon points="138.7,258.2 136.3,251.5 142.7,256.2" fill="#e8eaec" opacity=".8"/><polygon points="153.4,250.6 151.1,243.9 157.4,248.5" fill="#e8eaec" opacity=".8"/><polygon points="168.2,242.9 165.9,236.3 172.2,240.9" fill="#e8eaec" opacity=".8"/><polygon points="183.0,235.3 180.6,228.6 186.9,233.2" fill="#e8eaec" opacity=".8"/><polygon points="18.0,313.8 400.0,400.0 503.3,275.6 172.2,218.5" fill="#fff" opacity=".09"/><polygon points="187.5,224.0 505.3,275.0 505.3,277.6 462.3,271.8 191.9,226.9" fill="#d2d2d5" opacity=".8"/><polygon points="18.0,313.8 187.5,223.2 191.9,226.7 184.5,238.4 38.5,315.4 19.0,316.9" fill="#d5d9dc" opacity=".55"/></g></svg>
<svg class="sv" width="540" height="456" viewBox="0 0 540 456" font-family="Liberation Sans, sans-serif">
<defs>
<linearGradient id="lap" x1="0" y1="0" x2="1" y2="1"><stop offset="0" stop-color="#2a2a2d"/><stop offset=".5" stop-color="#141416"/><stop offset="1" stop-color="#222225"/></linearGradient>
<linearGradient id="sct" x1="0" y1="0" x2="1" y2="0"><stop offset="0" stop-color="#47474a"/><stop offset=".45" stop-color="#6a6a6c"/><stop offset=".7" stop-color="#3c3c3f"/><stop offset="1" stop-color="#2e2e31"/></linearGradient>
<linearGradient id="scf" x1="0" y1="0" x2="1" y2="0"><stop offset="0" stop-color="#6e6e72"/><stop offset=".1" stop-color="#4a4a4e"/><stop offset=".4" stop-color="#3a3a3e"/><stop offset=".42" stop-color="#1c1c1f"/><stop offset=".62" stop-color="#1c1c1f"/><stop offset=".64" stop-color="#3a3a3e"/><stop offset=".92" stop-color="#4a4a4e"/><stop offset="1" stop-color="#6e6e72"/></linearGradient>
<linearGradient id="daq" x1="0" y1="0" x2="1" y2="0"><stop offset="0" stop-color="#b6bcc6"/><stop offset="1" stop-color="#a3aab6"/></linearGradient>
<filter id="bl05"><feGaussianBlur stdDeviation="0.5"/></filter>
</defs>
<g filter="url(#bl05)"><polygon points="108.1,78.5 121.1,79.1 161.1,66.8 178,77.3 130.3,108.7" fill="url(#lap)"/><polygon points="108.1,78 179.5,58.1 180.3,59.6 161.1,66.5 121.1,79.3" fill="#a9a9a4"/><polygon points="36.9,135.4 108.2,137.3 119.7,158 21.5,158.8" fill="url(#sct)"/><polygon points="17.7,158.8 122.8,158 120.5,164.9 20,165.7" fill="url(#scf)"/><circle cx="33.8" cy="162.6" r="1.1" fill="#e03040"/><path d="M86,161.6 h22" stroke="#7a2a30" stroke-width="1.2" stroke-dasharray="2.2 1.6" opacity=".9"/><path d="M38,162.3 h18" stroke="#8a8a8e" stroke-width="1" stroke-dasharray="1.5 2.5" opacity=".8"/><polygon points="215.1,142.6 235.5,161.8 232.9,172.6 217.1,154.9" fill="#55637a" stroke="#55637a" stroke-width="1.2" stroke-linejoin="round"/><polygon points="235.5,161.8 277.4,141.2 277,146.8 232.9,172.6" fill="#445268" stroke="#445268" stroke-width="1.2" stroke-linejoin="round"/><polygon points="215.1,142.6 252.6,131.6 277.4,141 235.5,161.8" fill="url(#daq)" stroke="#adb3be" stroke-width="1.6" stroke-linejoin="round"/><polygon points="265.8,149 275.9,144.2 275.9,149.5 265.8,154.6" fill="#d9dadc"/><path d="M243.5,139.5 L253,147.5" stroke="#6f7f9a" stroke-width="1" fill="none"/></g>
<polygon points="104.4,93.7 74.3,116.7 72.3,114.1 68.1,123.4 78.2,121.7 76.2,119.1 106.2,96.1" fill="#4830e8"/>
<polygon points="236.1,121.7 212.4,102.3 214.5,99.8 204.5,97.8 208.4,107.2 210.5,104.7 234.1,124.1" fill="#4830e8"/>
<polygon points="120.7,152.6 187.6,152.6 187.6,155.9 196.6,151.1 187.6,146.3 187.6,149.6 120.7,149.6" fill="#4830e8"/>
<polygon points="65.6,203.6 65.6,233.2 62.3,233.2 67.1,242.2 71.9,233.2 68.6,233.2 68.6,203.6" fill="#4830e8"/>
<polygon points="250.7,240.0 250.7,207.3 254.0,207.3 249.2,198.3 244.4,207.3 247.7,207.3 247.7,240.0" fill="#4830e8"/>
<path d="M183.6,266.4 H249.2 V238" stroke="#4830e8" stroke-width="2.8" fill="none"/>
<path d="M111.7,311.3 L196.8,259.9" stroke="#111" stroke-width="2" stroke-dasharray="5.6 2.7" fill="none"/>
<circle cx="183.6" cy="266.4" r="3.6" fill="#f98c14"/>
<text transform="translate(12.80,29.04) scale(0.9136,1)" font-size="21.71" fill="#1a1a1a" stroke="#1a1a1a" stroke-width=".3" >(a)</text>
<text transform="translate(180.90,85.70) scale(1.0000,1)" font-size="16.81" fill="#1a1a1a" stroke="#1a1a1a" stroke-width=".3" >Computer</text>
<text transform="translate(130.60,142.70) scale(1.0000,1)" font-size="16.68" fill="#1a1a1a" stroke="#1a1a1a" stroke-width=".3" >Trigger</text>
<text transform="translate(29.90,184.90) scale(1.0000,1)" font-size="16.66" fill="#1a1a1a" stroke="#1a1a1a" stroke-width=".3" >Sound card</text>
<text transform="translate(180.80,185.80) scale(1.0000,1)" font-size="16.86" fill="#1a1a1a" stroke="#1a1a1a" stroke-width=".3" >Data-acquisition</text>
<text transform="translate(181.00,283.30) scale(1.0000,1)" font-size="16.59" fill="#1a1a1a" stroke="#1a1a1a" stroke-width=".3" >Sensor</text>
<text x="15.0" y="294.1" font-size="16.6" text-anchor="start" fill="#1a1a1a" stroke="#1a1a1a" stroke-width=".3" transform="rotate(-25.40 15.0 294.1)" >Acoustic phased array</text>
<text x="108.2" y="302.9" font-size="16.6" text-anchor="start" fill="#1a1a1a" stroke="#1a1a1a" stroke-width=".3" transform="rotate(-27.90 108.2 302.9)" >Scan line</text>
<text x="131.8" y="376.1" font-size="16.6" text-anchor="start" fill="#1a1a1a" stroke="#1a1a1a" stroke-width=".3" transform="rotate(11.55 131.8 376.1)" >Sound absorbing foam</text>
<path d="M77.5,362.8 L62.5,373.7 L82,379.3" stroke="#111" stroke-width="1.5" fill="none"/>
<polygon points="79.5,361.3 74.6,362.3 77.3,366" fill="#111"/>
<polygon points="84.3,380 79.8,376.6 79,381" fill="#111"/>
<text x="72.9" y="359.5" font-size="13.5" text-anchor="middle" fill="#1a1a1a" stroke="#1a1a1a" stroke-width=".3" >x</text>
<text x="92.1" y="382.0" font-size="13.5" text-anchor="middle" fill="#1a1a1a" stroke="#1a1a1a" stroke-width=".3" >z</text>
<rect x="346.6" y="65.6" width="150.2" height="120.9" fill="#fff" stroke="#555" stroke-width="1"/><svg x="346.6" y="65.6" width="150.2" height="120.9" viewBox="346.6 65.6 150.2 120.9"><path d="M346.3,112.8 C348.4,112.8 349.3,147.0 351.4,147.0 C354.5,147.0 355.7,101.4 358.8,101.4 C361.5,101.4 362.5,149.8 365.1,149.8 C367.7,149.8 368.7,108.5 371.4,108.5 C373.8,108.5 374.7,135.6 377.1,135.6 C379.2,135.6 380.1,122.2 382.2,122.2 C384.2,122.2 385.0,133.6 387.1,133.6 C389.5,133.6 390.4,107.9 392.8,107.9 C395.5,107.9 396.6,154.1 399.3,154.1 C402.2,154.1 403.3,89.4 406.2,89.4 C409.0,89.4 410.1,168.4 413.0,168.4 C415.9,168.4 417.0,79.4 419.9,79.4 C422.6,79.4 423.7,174.7 426.4,174.7 C429.3,174.7 430.4,78.0 433.3,78.0 C436.3,78.0 437.4,173.5 440.4,173.5 C443.4,173.5 444.5,82.0 447.5,82.0 C450.5,82.0 451.7,164.1 454.7,164.1 C457.7,164.1 458.8,97.9 461.8,97.9 C464.8,97.9 465.9,141.9 468.9,141.9 C471.1,141.9 471.9,126.2 474.1,126.2 C476.9,126.2 478.0,113.6 480.9,113.6 C483.8,113.6 484.9,149.3 487.7,149.3 C490.7,149.3 491.9,96.5 494.9,96.5 C495.5,96.5 495.7,102.8 496.3,102.8" fill="none" stroke="#2ba9c9" stroke-width="1.7" stroke-linejoin="round"/></svg><path d="M346.6,77.5 h3" stroke="#555" stroke-width="1"/><path d="M346.6,126.4 h3" stroke="#555" stroke-width="1"/><path d="M346.6,174.9 h3" stroke="#555" stroke-width="1"/><path d="M355.5,186.5 v-3" stroke="#555" stroke-width="1"/><path d="M421.6,186.5 v-3" stroke="#555" stroke-width="1"/><path d="M487.7,186.5 v-3" stroke="#555" stroke-width="1"/><text transform="translate(311.90,81.65) scale(1.0151,1)" font-size="15.27" fill="#1a1a1a" stroke="#1a1a1a" stroke-width=".3" >max</text><text transform="translate(331.20,131.55) scale(0.9293,1)" font-size="14.93" fill="#1a1a1a" stroke="#1a1a1a" stroke-width=".3" >0</text><text transform="translate(312.30,175.00) scale(0.9356,1)" font-size="16.00" fill="#1a1a1a" stroke="#1a1a1a" stroke-width=".3" >min</text><text transform="translate(312.45,129.62) rotate(-90) scale(0.7857,1)" font-size="19.57" fill="#1a1a1a" stroke="#1a1a1a" stroke-width=".3">p</text><text transform="translate(345.30,201.04) scale(0.9592,1)" font-size="15.77" fill="#1a1a1a" stroke="#1a1a1a" stroke-width=".3" >-0.8</text><text transform="translate(418.30,201.04) scale(0.9595,1)" font-size="15.77" fill="#1a1a1a" stroke="#1a1a1a" stroke-width=".3" >0</text><text transform="translate(477.80,201.04) scale(0.9851,1)" font-size="15.77" fill="#1a1a1a" stroke="#1a1a1a" stroke-width=".3" >0.8</text><text transform="translate(403.10,220.02) scale(1.0444,1)" font-size="14.65" fill="#1a1a1a" stroke="#1a1a1a" stroke-width=".3" >t (ms)</text><text x="420.0" y="36.3" font-size="18.3" text-anchor="middle" fill="#2b70ad" stroke="#2b70ad" stroke-width=".3" >Acoustic signals</text><text x="422.8" y="58.1" font-size="18.3" text-anchor="middle" fill="#2b70ad" stroke="#2b70ad" stroke-width=".3" >at one point</text>
</svg>
</body></html>
